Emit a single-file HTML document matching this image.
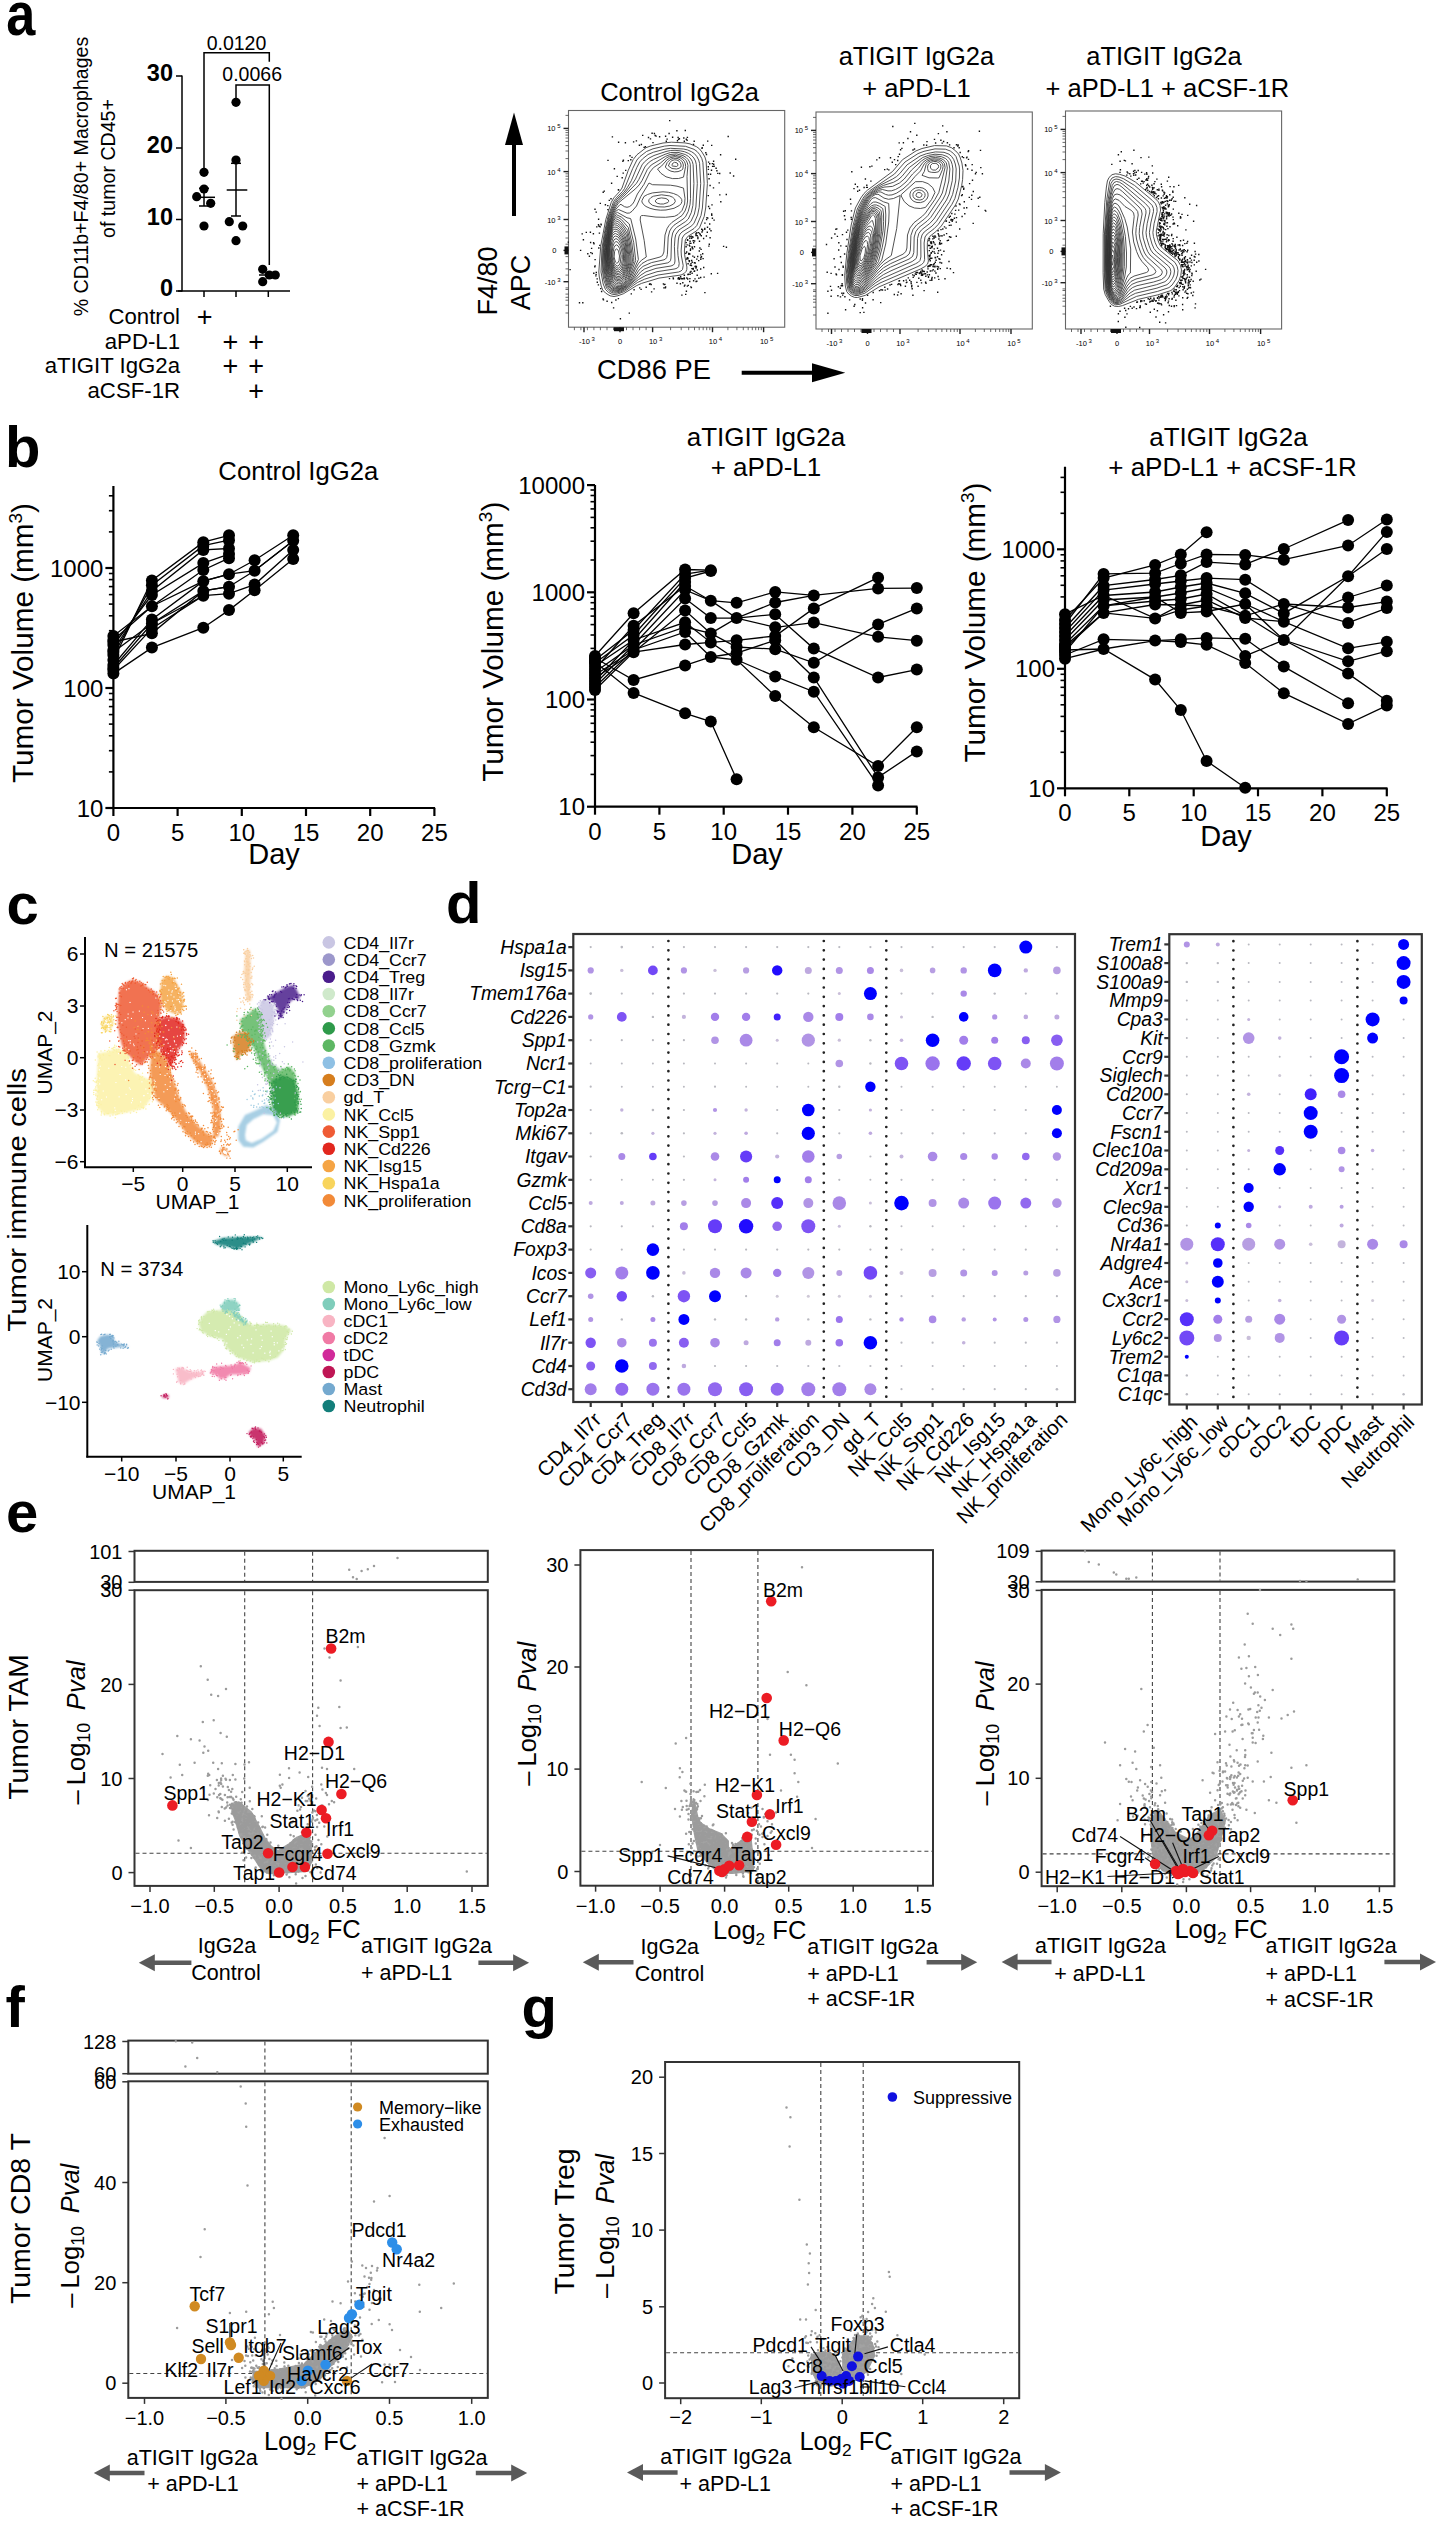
<!DOCTYPE html>
<html><head><meta charset="utf-8"><style>
html,body{margin:0;padding:0;background:#fff;}
svg{display:block;}
text{font-family:"Liberation Sans", sans-serif;}
</style></head><body>
<svg width="1439" height="2521" viewBox="0 0 1439 2521" font-family='"Liberation Sans", sans-serif'>
<defs><filter id="soft" x="-10%" y="-10%" width="120%" height="120%"><feGaussianBlur stdDeviation="1.2"/></filter></defs>
<rect width="1439" height="2521" fill="#fff"/>
<text x="0" y="0" font-size="58" font-weight="bold" transform="translate(6.3,35.2) scale(0.9,1.04)">a</text>
<line x1="182.0" y1="75.5" x2="182.0" y2="291.5" stroke="#000" stroke-width="1.5"/>
<line x1="176.0" y1="76.0" x2="182.0" y2="76.0" stroke="#000" stroke-width="1.5"/>
<text x="173.0" y="81.2" font-size="23.5" text-anchor="end" font-weight="bold">30</text>
<line x1="176.0" y1="148.0" x2="182.0" y2="148.0" stroke="#000" stroke-width="1.5"/>
<text x="173.0" y="153.2" font-size="23.5" text-anchor="end" font-weight="bold">20</text>
<line x1="176.0" y1="219.5" x2="182.0" y2="219.5" stroke="#000" stroke-width="1.5"/>
<text x="173.0" y="224.7" font-size="23.5" text-anchor="end" font-weight="bold">10</text>
<line x1="176.0" y1="291.0" x2="182.0" y2="291.0" stroke="#000" stroke-width="1.5"/>
<text x="173.0" y="296.2" font-size="23.5" text-anchor="end" font-weight="bold">0</text>
<line x1="178.0" y1="291.0" x2="290.0" y2="291.0" stroke="#000" stroke-width="1.5"/>
<line x1="204.0" y1="291.0" x2="204.0" y2="297.0" stroke="#000" stroke-width="1.5"/>
<line x1="236.0" y1="291.0" x2="236.0" y2="297.0" stroke="#000" stroke-width="1.5"/>
<line x1="268.3" y1="291.0" x2="268.3" y2="297.0" stroke="#000" stroke-width="1.5"/>
<text x="87.5" y="176.5" font-size="19.6" text-anchor="middle" transform="rotate(-90 87.5 176.5)">% CD11b+F4/80+ Macrophages</text>
<text x="114.5" y="168.5" font-size="19.6" text-anchor="middle" transform="rotate(-90 114.5 168.5)">of tumor CD45+</text>
<circle cx="204.0" cy="172.3" r="4.60" fill="#000"/>
<circle cx="204.0" cy="189.0" r="4.60" fill="#000"/>
<circle cx="196.7" cy="196.7" r="4.60" fill="#000"/>
<circle cx="210.7" cy="203.3" r="4.60" fill="#000"/>
<circle cx="204.0" cy="226.0" r="4.60" fill="#000"/>
<circle cx="236.0" cy="102.3" r="4.60" fill="#000"/>
<circle cx="236.0" cy="160.0" r="4.60" fill="#000"/>
<circle cx="229.3" cy="221.7" r="4.60" fill="#000"/>
<circle cx="242.7" cy="226.0" r="4.60" fill="#000"/>
<circle cx="236.0" cy="240.7" r="4.60" fill="#000"/>
<circle cx="262.7" cy="269.3" r="4.60" fill="#000"/>
<circle cx="262.7" cy="281.7" r="4.60" fill="#000"/>
<circle cx="269.3" cy="275.0" r="4.60" fill="#000"/>
<circle cx="275.3" cy="275.0" r="4.60" fill="#000"/>
<line x1="194.5" y1="197.3" x2="215.0" y2="197.3" stroke="#000" stroke-width="1.5"/>
<line x1="204.0" y1="188.3" x2="204.0" y2="206.0" stroke="#000" stroke-width="1.5"/>
<line x1="199.0" y1="188.3" x2="209.0" y2="188.3" stroke="#000" stroke-width="1.5"/>
<line x1="199.0" y1="206.0" x2="209.0" y2="206.0" stroke="#000" stroke-width="1.5"/>
<line x1="226.7" y1="190.0" x2="247.3" y2="190.0" stroke="#000" stroke-width="1.5"/>
<line x1="236.0" y1="163.3" x2="236.0" y2="216.0" stroke="#000" stroke-width="1.5"/>
<line x1="231.0" y1="163.3" x2="241.0" y2="163.3" stroke="#000" stroke-width="1.5"/>
<line x1="231.0" y1="216.0" x2="241.0" y2="216.0" stroke="#000" stroke-width="1.5"/>
<line x1="259.0" y1="275.0" x2="279.0" y2="275.0" stroke="#000" stroke-width="1.5"/>
<path d="M204,168 L204,52.7 L269.3,52.7 L269.3,61.7" fill="none" stroke="#000" stroke-width="1.5"/>
<path d="M236,98 L236,85 L269.3,85 L269.3,265" fill="none" stroke="#000" stroke-width="1.5"/>
<text x="236.5" y="50.0" font-size="19.5" text-anchor="middle">0.0120</text>
<text x="252.2" y="81.0" font-size="19.5" text-anchor="middle">0.0066</text>
<text x="180.0" y="324.2" font-size="22.2" text-anchor="end">Control</text>
<text x="204.6" y="326.4" font-size="27" text-anchor="middle">+</text>
<text x="180.0" y="348.6" font-size="22.2" text-anchor="end">aPD-L1</text>
<text x="230.4" y="350.8" font-size="27" text-anchor="middle">+</text>
<text x="256.2" y="350.8" font-size="27" text-anchor="middle">+</text>
<text x="180.0" y="373.2" font-size="22.2" text-anchor="end">aTIGIT IgG2a</text>
<text x="230.4" y="375.4" font-size="27" text-anchor="middle">+</text>
<text x="256.2" y="375.4" font-size="27" text-anchor="middle">+</text>
<text x="180.0" y="397.6" font-size="22.2" text-anchor="end">aCSF-1R</text>
<text x="256.2" y="399.8" font-size="27" text-anchor="middle">+</text>
<text x="679.6" y="100.7" font-size="25.5" text-anchor="middle">Control IgG2a</text>
<text x="916.4" y="65.0" font-size="25.5" text-anchor="middle">aTIGIT IgG2a</text>
<text x="916.4" y="96.9" font-size="25.5" text-anchor="middle">+ aPD-L1</text>
<text x="1164.0" y="65.0" font-size="25.5" text-anchor="middle">aTIGIT IgG2a</text>
<text x="1167.4" y="96.9" font-size="25.5" text-anchor="middle">+ aPD-L1 + aCSF-1R</text>
<text x="496.5" y="281.0" font-size="27" text-anchor="middle" transform="rotate(-90 496.5 281.0)">F4/80</text>
<text x="530.0" y="282.5" font-size="27" text-anchor="middle" transform="rotate(-90 530.0 282.5)">APC</text>
<text x="654.0" y="379.4" font-size="27.3" text-anchor="middle">CD86 PE</text>
<line x1="514.0" y1="216.0" x2="514.0" y2="140.0" stroke="#000" stroke-width="4"/>
<path d="M505,145 L514,112.4 L523,145 Z" fill="#000" stroke="none" stroke-width="1.5"/>
<line x1="741.7" y1="372.7" x2="815.0" y2="372.7" stroke="#000" stroke-width="4"/>
<path d="M812,363.2 L845.3,372.7 L812,382.2 Z" fill="#000" stroke="none" stroke-width="1.5"/>
<rect x="568.5" y="110.5" width="216.2" height="216.7" fill="none" stroke="#666" stroke-width="1.1"/>
<line x1="563.5" y1="281.7" x2="568.5" y2="281.7" stroke="#222" stroke-width="1.4"/>
<line x1="563.5" y1="250.4" x2="568.5" y2="250.4" stroke="#222" stroke-width="1.4"/>
<line x1="563.5" y1="219.5" x2="568.5" y2="219.5" stroke="#222" stroke-width="1.4"/>
<line x1="563.5" y1="171.6" x2="568.5" y2="171.6" stroke="#222" stroke-width="1.4"/>
<line x1="563.5" y1="128.4" x2="568.5" y2="128.4" stroke="#222" stroke-width="1.4"/>
<line x1="565.5" y1="205.1" x2="568.5" y2="205.1" stroke="#444" stroke-width="0.8"/>
<line x1="565.5" y1="196.6" x2="568.5" y2="196.6" stroke="#444" stroke-width="0.8"/>
<line x1="565.5" y1="190.7" x2="568.5" y2="190.7" stroke="#444" stroke-width="0.8"/>
<line x1="565.5" y1="186.0" x2="568.5" y2="186.0" stroke="#444" stroke-width="0.8"/>
<line x1="565.5" y1="182.2" x2="568.5" y2="182.2" stroke="#444" stroke-width="0.8"/>
<line x1="565.5" y1="179.0" x2="568.5" y2="179.0" stroke="#444" stroke-width="0.8"/>
<line x1="565.5" y1="176.2" x2="568.5" y2="176.2" stroke="#444" stroke-width="0.8"/>
<line x1="565.5" y1="173.8" x2="568.5" y2="173.8" stroke="#444" stroke-width="0.8"/>
<line x1="565.5" y1="158.6" x2="568.5" y2="158.6" stroke="#444" stroke-width="0.8"/>
<line x1="565.5" y1="151.0" x2="568.5" y2="151.0" stroke="#444" stroke-width="0.8"/>
<line x1="565.5" y1="145.6" x2="568.5" y2="145.6" stroke="#444" stroke-width="0.8"/>
<line x1="565.5" y1="141.4" x2="568.5" y2="141.4" stroke="#444" stroke-width="0.8"/>
<line x1="565.5" y1="138.0" x2="568.5" y2="138.0" stroke="#444" stroke-width="0.8"/>
<line x1="565.5" y1="135.1" x2="568.5" y2="135.1" stroke="#444" stroke-width="0.8"/>
<line x1="565.5" y1="132.6" x2="568.5" y2="132.6" stroke="#444" stroke-width="0.8"/>
<line x1="565.5" y1="130.4" x2="568.5" y2="130.4" stroke="#444" stroke-width="0.8"/>
<line x1="565.5" y1="115.4" x2="568.5" y2="115.4" stroke="#444" stroke-width="0.8"/>
<line x1="565.5" y1="225.7" x2="568.5" y2="225.7" stroke="#444" stroke-width="0.8"/>
<line x1="565.5" y1="231.9" x2="568.5" y2="231.9" stroke="#444" stroke-width="0.8"/>
<line x1="565.5" y1="238.0" x2="568.5" y2="238.0" stroke="#444" stroke-width="0.8"/>
<line x1="565.5" y1="244.2" x2="568.5" y2="244.2" stroke="#444" stroke-width="0.8"/>
<line x1="565.5" y1="250.4" x2="568.5" y2="250.4" stroke="#444" stroke-width="0.8"/>
<line x1="565.5" y1="256.6" x2="568.5" y2="256.6" stroke="#444" stroke-width="0.8"/>
<line x1="565.5" y1="262.8" x2="568.5" y2="262.8" stroke="#444" stroke-width="0.8"/>
<line x1="565.5" y1="268.9" x2="568.5" y2="268.9" stroke="#444" stroke-width="0.8"/>
<line x1="565.5" y1="275.1" x2="568.5" y2="275.1" stroke="#444" stroke-width="0.8"/>
<line x1="565.5" y1="287.9" x2="568.5" y2="287.9" stroke="#444" stroke-width="0.8"/>
<line x1="565.5" y1="294.1" x2="568.5" y2="294.1" stroke="#444" stroke-width="0.8"/>
<line x1="565.5" y1="300.2" x2="568.5" y2="300.2" stroke="#444" stroke-width="0.8"/>
<line x1="565.5" y1="289.5" x2="568.5" y2="289.5" stroke="#444" stroke-width="0.8"/>
<line x1="565.5" y1="297.3" x2="568.5" y2="297.3" stroke="#444" stroke-width="0.8"/>
<line x1="565.5" y1="305.2" x2="568.5" y2="305.2" stroke="#444" stroke-width="0.8"/>
<line x1="565.5" y1="313.0" x2="568.5" y2="313.0" stroke="#444" stroke-width="0.8"/>
<line x1="584.0" y1="327.2" x2="584.0" y2="332.2" stroke="#222" stroke-width="1.4"/>
<line x1="620.0" y1="327.2" x2="620.0" y2="332.2" stroke="#222" stroke-width="1.4"/>
<line x1="652.6" y1="327.2" x2="652.6" y2="332.2" stroke="#222" stroke-width="1.4"/>
<line x1="712.5" y1="327.2" x2="712.5" y2="332.2" stroke="#222" stroke-width="1.4"/>
<line x1="763.6" y1="327.2" x2="763.6" y2="332.2" stroke="#222" stroke-width="1.4"/>
<line x1="670.6" y1="327.2" x2="670.6" y2="330.2" stroke="#444" stroke-width="0.8"/>
<line x1="681.2" y1="327.2" x2="681.2" y2="330.2" stroke="#444" stroke-width="0.8"/>
<line x1="688.7" y1="327.2" x2="688.7" y2="330.2" stroke="#444" stroke-width="0.8"/>
<line x1="694.5" y1="327.2" x2="694.5" y2="330.2" stroke="#444" stroke-width="0.8"/>
<line x1="699.2" y1="327.2" x2="699.2" y2="330.2" stroke="#444" stroke-width="0.8"/>
<line x1="703.2" y1="327.2" x2="703.2" y2="330.2" stroke="#444" stroke-width="0.8"/>
<line x1="706.7" y1="327.2" x2="706.7" y2="330.2" stroke="#444" stroke-width="0.8"/>
<line x1="709.8" y1="327.2" x2="709.8" y2="330.2" stroke="#444" stroke-width="0.8"/>
<line x1="727.9" y1="327.2" x2="727.9" y2="330.2" stroke="#444" stroke-width="0.8"/>
<line x1="736.9" y1="327.2" x2="736.9" y2="330.2" stroke="#444" stroke-width="0.8"/>
<line x1="743.3" y1="327.2" x2="743.3" y2="330.2" stroke="#444" stroke-width="0.8"/>
<line x1="748.2" y1="327.2" x2="748.2" y2="330.2" stroke="#444" stroke-width="0.8"/>
<line x1="752.3" y1="327.2" x2="752.3" y2="330.2" stroke="#444" stroke-width="0.8"/>
<line x1="755.7" y1="327.2" x2="755.7" y2="330.2" stroke="#444" stroke-width="0.8"/>
<line x1="758.6" y1="327.2" x2="758.6" y2="330.2" stroke="#444" stroke-width="0.8"/>
<line x1="761.3" y1="327.2" x2="761.3" y2="330.2" stroke="#444" stroke-width="0.8"/>
<line x1="613.5" y1="327.2" x2="613.5" y2="330.2" stroke="#444" stroke-width="0.8"/>
<line x1="607.0" y1="327.2" x2="607.0" y2="330.2" stroke="#444" stroke-width="0.8"/>
<line x1="600.4" y1="327.2" x2="600.4" y2="330.2" stroke="#444" stroke-width="0.8"/>
<line x1="593.9" y1="327.2" x2="593.9" y2="330.2" stroke="#444" stroke-width="0.8"/>
<line x1="587.4" y1="327.2" x2="587.4" y2="330.2" stroke="#444" stroke-width="0.8"/>
<line x1="580.9" y1="327.2" x2="580.9" y2="330.2" stroke="#444" stroke-width="0.8"/>
<line x1="574.4" y1="327.2" x2="574.4" y2="330.2" stroke="#444" stroke-width="0.8"/>
<line x1="626.5" y1="327.2" x2="626.5" y2="330.2" stroke="#444" stroke-width="0.8"/>
<line x1="633.0" y1="327.2" x2="633.0" y2="330.2" stroke="#444" stroke-width="0.8"/>
<line x1="639.6" y1="327.2" x2="639.6" y2="330.2" stroke="#444" stroke-width="0.8"/>
<line x1="646.1" y1="327.2" x2="646.1" y2="330.2" stroke="#444" stroke-width="0.8"/>
<rect x="564.5" y="246.4" width="4.0" height="8.0" fill="#111" stroke="none" stroke-width="0"/>
<rect x="614.0" y="327.2" width="10.0" height="4.0" fill="#111" stroke="none" stroke-width="0"/>
<text x="560.5" y="131.4" font-size="7.5" text-anchor="end">10<tspan dy="-3" font-size="6.0"> 5</tspan></text>
<text x="560.5" y="174.6" font-size="7.5" text-anchor="end">10<tspan dy="-3" font-size="6.0"> 4</tspan></text>
<text x="560.5" y="222.5" font-size="7.5" text-anchor="end">10<tspan dy="-3" font-size="6.0"> 3</tspan></text>
<text x="556.5" y="253.4" font-size="7.5" text-anchor="end">0</text>
<text x="560.5" y="284.7" font-size="7.5" text-anchor="end">-10<tspan dy="-3" font-size="6.0"> 3</tspan></text>
<text x="587.0" y="344.2" font-size="7.5" text-anchor="middle">-10<tspan dy="-3" font-size="6.0"> 3</tspan></text>
<text x="655.6" y="344.2" font-size="7.5" text-anchor="middle">10<tspan dy="-3" font-size="6.0"> 3</tspan></text>
<text x="715.5" y="344.2" font-size="7.5" text-anchor="middle">10<tspan dy="-3" font-size="6.0"> 4</tspan></text>
<text x="766.6" y="344.2" font-size="7.5" text-anchor="middle">10<tspan dy="-3" font-size="6.0"> 5</tspan></text>
<text x="620.0" y="344.2" font-size="7.5" text-anchor="middle">0</text>
<rect x="816.0" y="112.0" width="216.3" height="217.0" fill="none" stroke="#666" stroke-width="1.1"/>
<line x1="811.0" y1="283.7" x2="816.0" y2="283.7" stroke="#222" stroke-width="1.4"/>
<line x1="811.0" y1="252.4" x2="816.0" y2="252.4" stroke="#222" stroke-width="1.4"/>
<line x1="811.0" y1="221.5" x2="816.0" y2="221.5" stroke="#222" stroke-width="1.4"/>
<line x1="811.0" y1="173.6" x2="816.0" y2="173.6" stroke="#222" stroke-width="1.4"/>
<line x1="811.0" y1="130.4" x2="816.0" y2="130.4" stroke="#222" stroke-width="1.4"/>
<line x1="813.0" y1="207.1" x2="816.0" y2="207.1" stroke="#444" stroke-width="0.8"/>
<line x1="813.0" y1="198.6" x2="816.0" y2="198.6" stroke="#444" stroke-width="0.8"/>
<line x1="813.0" y1="192.7" x2="816.0" y2="192.7" stroke="#444" stroke-width="0.8"/>
<line x1="813.0" y1="188.0" x2="816.0" y2="188.0" stroke="#444" stroke-width="0.8"/>
<line x1="813.0" y1="184.2" x2="816.0" y2="184.2" stroke="#444" stroke-width="0.8"/>
<line x1="813.0" y1="181.0" x2="816.0" y2="181.0" stroke="#444" stroke-width="0.8"/>
<line x1="813.0" y1="178.2" x2="816.0" y2="178.2" stroke="#444" stroke-width="0.8"/>
<line x1="813.0" y1="175.8" x2="816.0" y2="175.8" stroke="#444" stroke-width="0.8"/>
<line x1="813.0" y1="160.6" x2="816.0" y2="160.6" stroke="#444" stroke-width="0.8"/>
<line x1="813.0" y1="153.0" x2="816.0" y2="153.0" stroke="#444" stroke-width="0.8"/>
<line x1="813.0" y1="147.6" x2="816.0" y2="147.6" stroke="#444" stroke-width="0.8"/>
<line x1="813.0" y1="143.4" x2="816.0" y2="143.4" stroke="#444" stroke-width="0.8"/>
<line x1="813.0" y1="140.0" x2="816.0" y2="140.0" stroke="#444" stroke-width="0.8"/>
<line x1="813.0" y1="137.1" x2="816.0" y2="137.1" stroke="#444" stroke-width="0.8"/>
<line x1="813.0" y1="134.6" x2="816.0" y2="134.6" stroke="#444" stroke-width="0.8"/>
<line x1="813.0" y1="132.4" x2="816.0" y2="132.4" stroke="#444" stroke-width="0.8"/>
<line x1="813.0" y1="117.4" x2="816.0" y2="117.4" stroke="#444" stroke-width="0.8"/>
<line x1="813.0" y1="227.7" x2="816.0" y2="227.7" stroke="#444" stroke-width="0.8"/>
<line x1="813.0" y1="233.9" x2="816.0" y2="233.9" stroke="#444" stroke-width="0.8"/>
<line x1="813.0" y1="240.0" x2="816.0" y2="240.0" stroke="#444" stroke-width="0.8"/>
<line x1="813.0" y1="246.2" x2="816.0" y2="246.2" stroke="#444" stroke-width="0.8"/>
<line x1="813.0" y1="252.4" x2="816.0" y2="252.4" stroke="#444" stroke-width="0.8"/>
<line x1="813.0" y1="258.6" x2="816.0" y2="258.6" stroke="#444" stroke-width="0.8"/>
<line x1="813.0" y1="264.8" x2="816.0" y2="264.8" stroke="#444" stroke-width="0.8"/>
<line x1="813.0" y1="270.9" x2="816.0" y2="270.9" stroke="#444" stroke-width="0.8"/>
<line x1="813.0" y1="277.1" x2="816.0" y2="277.1" stroke="#444" stroke-width="0.8"/>
<line x1="813.0" y1="289.9" x2="816.0" y2="289.9" stroke="#444" stroke-width="0.8"/>
<line x1="813.0" y1="296.1" x2="816.0" y2="296.1" stroke="#444" stroke-width="0.8"/>
<line x1="813.0" y1="302.2" x2="816.0" y2="302.2" stroke="#444" stroke-width="0.8"/>
<line x1="813.0" y1="291.5" x2="816.0" y2="291.5" stroke="#444" stroke-width="0.8"/>
<line x1="813.0" y1="299.3" x2="816.0" y2="299.3" stroke="#444" stroke-width="0.8"/>
<line x1="813.0" y1="307.2" x2="816.0" y2="307.2" stroke="#444" stroke-width="0.8"/>
<line x1="813.0" y1="315.0" x2="816.0" y2="315.0" stroke="#444" stroke-width="0.8"/>
<line x1="831.5" y1="329.0" x2="831.5" y2="334.0" stroke="#222" stroke-width="1.4"/>
<line x1="867.5" y1="329.0" x2="867.5" y2="334.0" stroke="#222" stroke-width="1.4"/>
<line x1="900.0" y1="329.0" x2="900.0" y2="334.0" stroke="#222" stroke-width="1.4"/>
<line x1="960.0" y1="329.0" x2="960.0" y2="334.0" stroke="#222" stroke-width="1.4"/>
<line x1="1011.0" y1="329.0" x2="1011.0" y2="334.0" stroke="#222" stroke-width="1.4"/>
<line x1="918.1" y1="329.0" x2="918.1" y2="332.0" stroke="#444" stroke-width="0.8"/>
<line x1="928.6" y1="329.0" x2="928.6" y2="332.0" stroke="#444" stroke-width="0.8"/>
<line x1="936.1" y1="329.0" x2="936.1" y2="332.0" stroke="#444" stroke-width="0.8"/>
<line x1="941.9" y1="329.0" x2="941.9" y2="332.0" stroke="#444" stroke-width="0.8"/>
<line x1="946.7" y1="329.0" x2="946.7" y2="332.0" stroke="#444" stroke-width="0.8"/>
<line x1="950.7" y1="329.0" x2="950.7" y2="332.0" stroke="#444" stroke-width="0.8"/>
<line x1="954.2" y1="329.0" x2="954.2" y2="332.0" stroke="#444" stroke-width="0.8"/>
<line x1="957.3" y1="329.0" x2="957.3" y2="332.0" stroke="#444" stroke-width="0.8"/>
<line x1="975.4" y1="329.0" x2="975.4" y2="332.0" stroke="#444" stroke-width="0.8"/>
<line x1="984.3" y1="329.0" x2="984.3" y2="332.0" stroke="#444" stroke-width="0.8"/>
<line x1="990.7" y1="329.0" x2="990.7" y2="332.0" stroke="#444" stroke-width="0.8"/>
<line x1="995.6" y1="329.0" x2="995.6" y2="332.0" stroke="#444" stroke-width="0.8"/>
<line x1="999.7" y1="329.0" x2="999.7" y2="332.0" stroke="#444" stroke-width="0.8"/>
<line x1="1003.1" y1="329.0" x2="1003.1" y2="332.0" stroke="#444" stroke-width="0.8"/>
<line x1="1006.1" y1="329.0" x2="1006.1" y2="332.0" stroke="#444" stroke-width="0.8"/>
<line x1="1008.7" y1="329.0" x2="1008.7" y2="332.0" stroke="#444" stroke-width="0.8"/>
<line x1="861.0" y1="329.0" x2="861.0" y2="332.0" stroke="#444" stroke-width="0.8"/>
<line x1="854.5" y1="329.0" x2="854.5" y2="332.0" stroke="#444" stroke-width="0.8"/>
<line x1="848.0" y1="329.0" x2="848.0" y2="332.0" stroke="#444" stroke-width="0.8"/>
<line x1="841.5" y1="329.0" x2="841.5" y2="332.0" stroke="#444" stroke-width="0.8"/>
<line x1="835.0" y1="329.0" x2="835.0" y2="332.0" stroke="#444" stroke-width="0.8"/>
<line x1="828.5" y1="329.0" x2="828.5" y2="332.0" stroke="#444" stroke-width="0.8"/>
<line x1="822.0" y1="329.0" x2="822.0" y2="332.0" stroke="#444" stroke-width="0.8"/>
<line x1="874.0" y1="329.0" x2="874.0" y2="332.0" stroke="#444" stroke-width="0.8"/>
<line x1="880.5" y1="329.0" x2="880.5" y2="332.0" stroke="#444" stroke-width="0.8"/>
<line x1="887.0" y1="329.0" x2="887.0" y2="332.0" stroke="#444" stroke-width="0.8"/>
<line x1="893.5" y1="329.0" x2="893.5" y2="332.0" stroke="#444" stroke-width="0.8"/>
<rect x="812.0" y="248.4" width="4.0" height="8.0" fill="#111" stroke="none" stroke-width="0"/>
<rect x="861.5" y="329.0" width="10.0" height="4.0" fill="#111" stroke="none" stroke-width="0"/>
<text x="808.0" y="133.4" font-size="7.5" text-anchor="end">10<tspan dy="-3" font-size="6.0"> 5</tspan></text>
<text x="808.0" y="176.6" font-size="7.5" text-anchor="end">10<tspan dy="-3" font-size="6.0"> 4</tspan></text>
<text x="808.0" y="224.5" font-size="7.5" text-anchor="end">10<tspan dy="-3" font-size="6.0"> 3</tspan></text>
<text x="804.0" y="255.4" font-size="7.5" text-anchor="end">0</text>
<text x="808.0" y="286.7" font-size="7.5" text-anchor="end">-10<tspan dy="-3" font-size="6.0"> 3</tspan></text>
<text x="834.5" y="346.0" font-size="7.5" text-anchor="middle">-10<tspan dy="-3" font-size="6.0"> 3</tspan></text>
<text x="903.0" y="346.0" font-size="7.5" text-anchor="middle">10<tspan dy="-3" font-size="6.0"> 3</tspan></text>
<text x="963.0" y="346.0" font-size="7.5" text-anchor="middle">10<tspan dy="-3" font-size="6.0"> 4</tspan></text>
<text x="1014.0" y="346.0" font-size="7.5" text-anchor="middle">10<tspan dy="-3" font-size="6.0"> 5</tspan></text>
<text x="867.5" y="346.0" font-size="7.5" text-anchor="middle">0</text>
<rect x="1065.5" y="111.0" width="216.1" height="218.0" fill="none" stroke="#666" stroke-width="1.1"/>
<line x1="1060.5" y1="282.7" x2="1065.5" y2="282.7" stroke="#222" stroke-width="1.4"/>
<line x1="1060.5" y1="251.4" x2="1065.5" y2="251.4" stroke="#222" stroke-width="1.4"/>
<line x1="1060.5" y1="220.5" x2="1065.5" y2="220.5" stroke="#222" stroke-width="1.4"/>
<line x1="1060.5" y1="172.6" x2="1065.5" y2="172.6" stroke="#222" stroke-width="1.4"/>
<line x1="1060.5" y1="129.4" x2="1065.5" y2="129.4" stroke="#222" stroke-width="1.4"/>
<line x1="1062.5" y1="206.1" x2="1065.5" y2="206.1" stroke="#444" stroke-width="0.8"/>
<line x1="1062.5" y1="197.6" x2="1065.5" y2="197.6" stroke="#444" stroke-width="0.8"/>
<line x1="1062.5" y1="191.7" x2="1065.5" y2="191.7" stroke="#444" stroke-width="0.8"/>
<line x1="1062.5" y1="187.0" x2="1065.5" y2="187.0" stroke="#444" stroke-width="0.8"/>
<line x1="1062.5" y1="183.2" x2="1065.5" y2="183.2" stroke="#444" stroke-width="0.8"/>
<line x1="1062.5" y1="180.0" x2="1065.5" y2="180.0" stroke="#444" stroke-width="0.8"/>
<line x1="1062.5" y1="177.2" x2="1065.5" y2="177.2" stroke="#444" stroke-width="0.8"/>
<line x1="1062.5" y1="174.8" x2="1065.5" y2="174.8" stroke="#444" stroke-width="0.8"/>
<line x1="1062.5" y1="159.6" x2="1065.5" y2="159.6" stroke="#444" stroke-width="0.8"/>
<line x1="1062.5" y1="152.0" x2="1065.5" y2="152.0" stroke="#444" stroke-width="0.8"/>
<line x1="1062.5" y1="146.6" x2="1065.5" y2="146.6" stroke="#444" stroke-width="0.8"/>
<line x1="1062.5" y1="142.4" x2="1065.5" y2="142.4" stroke="#444" stroke-width="0.8"/>
<line x1="1062.5" y1="139.0" x2="1065.5" y2="139.0" stroke="#444" stroke-width="0.8"/>
<line x1="1062.5" y1="136.1" x2="1065.5" y2="136.1" stroke="#444" stroke-width="0.8"/>
<line x1="1062.5" y1="133.6" x2="1065.5" y2="133.6" stroke="#444" stroke-width="0.8"/>
<line x1="1062.5" y1="131.4" x2="1065.5" y2="131.4" stroke="#444" stroke-width="0.8"/>
<line x1="1062.5" y1="116.4" x2="1065.5" y2="116.4" stroke="#444" stroke-width="0.8"/>
<line x1="1062.5" y1="226.7" x2="1065.5" y2="226.7" stroke="#444" stroke-width="0.8"/>
<line x1="1062.5" y1="232.9" x2="1065.5" y2="232.9" stroke="#444" stroke-width="0.8"/>
<line x1="1062.5" y1="239.0" x2="1065.5" y2="239.0" stroke="#444" stroke-width="0.8"/>
<line x1="1062.5" y1="245.2" x2="1065.5" y2="245.2" stroke="#444" stroke-width="0.8"/>
<line x1="1062.5" y1="251.4" x2="1065.5" y2="251.4" stroke="#444" stroke-width="0.8"/>
<line x1="1062.5" y1="257.6" x2="1065.5" y2="257.6" stroke="#444" stroke-width="0.8"/>
<line x1="1062.5" y1="263.8" x2="1065.5" y2="263.8" stroke="#444" stroke-width="0.8"/>
<line x1="1062.5" y1="269.9" x2="1065.5" y2="269.9" stroke="#444" stroke-width="0.8"/>
<line x1="1062.5" y1="276.1" x2="1065.5" y2="276.1" stroke="#444" stroke-width="0.8"/>
<line x1="1062.5" y1="288.9" x2="1065.5" y2="288.9" stroke="#444" stroke-width="0.8"/>
<line x1="1062.5" y1="295.1" x2="1065.5" y2="295.1" stroke="#444" stroke-width="0.8"/>
<line x1="1062.5" y1="301.2" x2="1065.5" y2="301.2" stroke="#444" stroke-width="0.8"/>
<line x1="1062.5" y1="290.5" x2="1065.5" y2="290.5" stroke="#444" stroke-width="0.8"/>
<line x1="1062.5" y1="298.3" x2="1065.5" y2="298.3" stroke="#444" stroke-width="0.8"/>
<line x1="1062.5" y1="306.2" x2="1065.5" y2="306.2" stroke="#444" stroke-width="0.8"/>
<line x1="1062.5" y1="314.0" x2="1065.5" y2="314.0" stroke="#444" stroke-width="0.8"/>
<line x1="1081.0" y1="329.0" x2="1081.0" y2="334.0" stroke="#222" stroke-width="1.4"/>
<line x1="1117.0" y1="329.0" x2="1117.0" y2="334.0" stroke="#222" stroke-width="1.4"/>
<line x1="1149.5" y1="329.0" x2="1149.5" y2="334.0" stroke="#222" stroke-width="1.4"/>
<line x1="1209.5" y1="329.0" x2="1209.5" y2="334.0" stroke="#222" stroke-width="1.4"/>
<line x1="1260.6" y1="329.0" x2="1260.6" y2="334.0" stroke="#222" stroke-width="1.4"/>
<line x1="1167.6" y1="329.0" x2="1167.6" y2="332.0" stroke="#444" stroke-width="0.8"/>
<line x1="1178.1" y1="329.0" x2="1178.1" y2="332.0" stroke="#444" stroke-width="0.8"/>
<line x1="1185.6" y1="329.0" x2="1185.6" y2="332.0" stroke="#444" stroke-width="0.8"/>
<line x1="1191.4" y1="329.0" x2="1191.4" y2="332.0" stroke="#444" stroke-width="0.8"/>
<line x1="1196.2" y1="329.0" x2="1196.2" y2="332.0" stroke="#444" stroke-width="0.8"/>
<line x1="1200.2" y1="329.0" x2="1200.2" y2="332.0" stroke="#444" stroke-width="0.8"/>
<line x1="1203.7" y1="329.0" x2="1203.7" y2="332.0" stroke="#444" stroke-width="0.8"/>
<line x1="1206.8" y1="329.0" x2="1206.8" y2="332.0" stroke="#444" stroke-width="0.8"/>
<line x1="1224.9" y1="329.0" x2="1224.9" y2="332.0" stroke="#444" stroke-width="0.8"/>
<line x1="1233.9" y1="329.0" x2="1233.9" y2="332.0" stroke="#444" stroke-width="0.8"/>
<line x1="1240.3" y1="329.0" x2="1240.3" y2="332.0" stroke="#444" stroke-width="0.8"/>
<line x1="1245.2" y1="329.0" x2="1245.2" y2="332.0" stroke="#444" stroke-width="0.8"/>
<line x1="1249.3" y1="329.0" x2="1249.3" y2="332.0" stroke="#444" stroke-width="0.8"/>
<line x1="1252.7" y1="329.0" x2="1252.7" y2="332.0" stroke="#444" stroke-width="0.8"/>
<line x1="1255.6" y1="329.0" x2="1255.6" y2="332.0" stroke="#444" stroke-width="0.8"/>
<line x1="1258.3" y1="329.0" x2="1258.3" y2="332.0" stroke="#444" stroke-width="0.8"/>
<line x1="1110.5" y1="329.0" x2="1110.5" y2="332.0" stroke="#444" stroke-width="0.8"/>
<line x1="1104.0" y1="329.0" x2="1104.0" y2="332.0" stroke="#444" stroke-width="0.8"/>
<line x1="1097.5" y1="329.0" x2="1097.5" y2="332.0" stroke="#444" stroke-width="0.8"/>
<line x1="1091.0" y1="329.0" x2="1091.0" y2="332.0" stroke="#444" stroke-width="0.8"/>
<line x1="1084.5" y1="329.0" x2="1084.5" y2="332.0" stroke="#444" stroke-width="0.8"/>
<line x1="1078.0" y1="329.0" x2="1078.0" y2="332.0" stroke="#444" stroke-width="0.8"/>
<line x1="1071.5" y1="329.0" x2="1071.5" y2="332.0" stroke="#444" stroke-width="0.8"/>
<line x1="1123.5" y1="329.0" x2="1123.5" y2="332.0" stroke="#444" stroke-width="0.8"/>
<line x1="1130.0" y1="329.0" x2="1130.0" y2="332.0" stroke="#444" stroke-width="0.8"/>
<line x1="1136.5" y1="329.0" x2="1136.5" y2="332.0" stroke="#444" stroke-width="0.8"/>
<line x1="1143.0" y1="329.0" x2="1143.0" y2="332.0" stroke="#444" stroke-width="0.8"/>
<rect x="1061.5" y="247.4" width="4.0" height="8.0" fill="#111" stroke="none" stroke-width="0"/>
<rect x="1111.0" y="329.0" width="10.0" height="4.0" fill="#111" stroke="none" stroke-width="0"/>
<text x="1057.5" y="132.4" font-size="7.5" text-anchor="end">10<tspan dy="-3" font-size="6.0"> 5</tspan></text>
<text x="1057.5" y="175.6" font-size="7.5" text-anchor="end">10<tspan dy="-3" font-size="6.0"> 4</tspan></text>
<text x="1057.5" y="223.5" font-size="7.5" text-anchor="end">10<tspan dy="-3" font-size="6.0"> 3</tspan></text>
<text x="1053.5" y="254.4" font-size="7.5" text-anchor="end">0</text>
<text x="1057.5" y="285.7" font-size="7.5" text-anchor="end">-10<tspan dy="-3" font-size="6.0"> 3</tspan></text>
<text x="1084.0" y="346.0" font-size="7.5" text-anchor="middle">-10<tspan dy="-3" font-size="6.0"> 3</tspan></text>
<text x="1152.5" y="346.0" font-size="7.5" text-anchor="middle">10<tspan dy="-3" font-size="6.0"> 3</tspan></text>
<text x="1212.5" y="346.0" font-size="7.5" text-anchor="middle">10<tspan dy="-3" font-size="6.0"> 4</tspan></text>
<text x="1263.6" y="346.0" font-size="7.5" text-anchor="middle">10<tspan dy="-3" font-size="6.0"> 5</tspan></text>
<text x="1117.0" y="346.0" font-size="7.5" text-anchor="middle">0</text>
<path d="M614 296.5l-4 -0.7 -4.5 -2.8 -2.8 -3 -1.5 -4 -1.9 -9 -0.5 -5 2 -26.5 5 -26 5.4 -17 2.5 -4.5 5.9 -6.5 2.4 -3.5 6.2 -17.5 5 -11 3.8 -4.8 9 -7 4.5 -1.7 12.5 -3 8.5 -0.8 13.5 0.7 5 1 6.5 2.8 3 2.2 2.5 3.2 2.9 4.9 1.2 4 1.3 22.5 -1.7 24.5 -1.5 8.5 -4.7 11.3 -3 3.1 -8.8 5.6 -2.4 3.5 -0.9 11 0.4 5 2.1 11 -0.1 2.5 -0.8 2 -2 2.1 -3 1.4 -22 3.1 -17.5 5.3 -4.7 2.1 -13.3 8.2 -5.5 2 -4 0.8zM617.5 294.1l-3.5 0.4 -2.5 -0.5 -3 -1.6 -3 -2.9 -2.3 -5.5 -2.2 -12 0.9 -23 2.4 -15.5 3.4 -16 5.9 -16 2.4 -3.3 6.5 -6.7 2 -3 8.2 -20 4.2 -8.5 3.1 -3.5 6.5 -5 6.5 -2.7 11.5 -2.7 5.5 -0.6 15.5 0.8 8.5 3 3 2.1 2.6 3.1 2.2 4 1.1 4 1.2 21 -1.7 24.5 -1.4 7.5 -4.2 10 -2.8 3 -9.5 6 -2.3 3.5 -1.1 13 0.3 5 1.8 9.5 -0.7 4 -1.5 1.5 -2.5 1 -20.5 3 -13.5 4.2 -7 3.3 -13 9 -7 2.6zM616.5 293l-3 -0 -2.5 -0.9 -2.5 -1.8 -2 -2.3 -2.8 -8.5 -1.4 -9.5 0.5 -21.5 2.4 -16 3.5 -15.5 5.8 -14.5 2.5 -3.5 7.2 -7 3.2 -4.5 4 -7 5.4 -13 2.9 -5.5 2.8 -3.1 5.5 -4.4 5.5 -2.3 11.5 -3.1 5.5 -0.8 13 0.7 4 0.9 4 1.8 3 2 2.3 2.8 1.9 3.5 0.9 3.5 1.1 20 -1.5 24 -1.6 7.5 -3.7 8.5 -2.9 2.8 -9 5.7 -1.9 2 -1.1 2.2 -0.7 3.8 -0.6 9.5 0.3 6 1.2 8 -0.5 3 -1.3 1.5 -2.4 0.9 -18 2.8 -11 3.6 -7.5 4.2 -14 10.7 -4 1.8 -4 1zM616 292l-2.5 -0.2 -2.5 -1.1 -2.5 -2.2 -1.6 -2.5 -3 -11 -0.7 -10 0.4 -18 2.6 -16.5 3.1 -13 5.7 -13.7 2.7 -3.8 8.3 -8 6.7 -8.5 2.8 -4.5 6.5 -14.1 2.5 -3.1 4.5 -3.7 5 -2.6 12 -4 4.5 -1 4.5 -0.2 5.5 0.6 4 0.8 4 1.7 3.1 2.1 2.3 2.5 1.6 3 0.8 3.5 1 19 -1.4 23.5 -1.5 7 -3.4 7.3 -2.8 2.7 -9.2 5.9 -3.2 4.6 -0.8 3.5 -0.6 8.5 0.6 14.5 -0.5 2.7 -1.1 1.3 -2.4 1 -15 2.4 -10 3.4 -5 3.2 -15.5 13.6 -4.5 2.3 -5 1.1zM617 291l-2.5 -0.1 -2.6 -0.9 -2.4 -2 -1.6 -2.5 -3.2 -11 -0.8 -10 0.3 -17 2.2 -15 3.3 -14 5.3 -12.3 3.5 -5.3 7.6 -6.9 10.2 -10.5 2.5 -4 6 -12.5 2.2 -2.8 3.1 -2.7 3.4 -2.1 11.5 -5.1 5.5 -1.8 7.5 -0.1 7.5 2.2 3 1.9 2.4 2.5 1.4 2.5 0.8 3 0.8 19 -1 22 -1.6 7 -3 6.5 -2.6 2.5 -9.2 6 -2.2 2.5 -1.6 3 -1.2 6 -0.5 19 -0.5 2.6 -1.2 1.4 -1.8 0.9 -13.5 2.5 -9.5 3.6 -4 3 -7.6 9 -5.9 5.5 -5 3.1 -5 1.4zM618 290.1l-2.5 0.1 -2.5 -0.7 -2 -1.4 -1.7 -2.1 -3.1 -8.5 -1.4 -8.5 -0.3 -16.5 0.7 -10 3.6 -19 3.7 -10.2 4 -7.5 2.5 -3.4 16.5 -13.6 3.6 -3.8 2.9 -4.4 5.3 -11.1 3.9 -4.5 14.3 -8.6 4.5 -1.9 6.5 -0.6 6.5 1.7 3 1.8 2.1 2.1 1.5 2.5 0.7 2.5 0.2 34 -0.5 6 -1.8 7 -2.7 5.3 -2.5 2.3 -9 6.1 -2.5 2.8 -1.8 3 -1.5 6 -0.8 17.5 -0.7 3 -1.2 1.5 -1.5 0.8 -12.5 2.8 -8.5 3.8 -4 3.7 -5.4 8.4 -4.8 5.5 -5.3 4.1 -5.5 2zM619 289.1l-2.5 0.2 -2.5 -0.5 -2.1 -1.3 -1.7 -2 -3.2 -8 -1.6 -8.5 -0.5 -15 0.6 -10.5 3.1 -17 3.4 -10.6 4 -6.9 4 -4.4 1 -0.2 3.5 2.3 2.5 0.6 2.5 -0.7 2.7 -2.1 1.8 -2.7 3.4 -7.8 6.6 -9.7 5.9 -12.3 3.6 -4.4 7 -4.6 5.9 -5 3.1 -1.7 6 -1 6 1.5 2.8 1.7 1.9 2 1.2 2.5 0.5 2.5 -0.9 11 0.6 24.5 -0.8 5 -1.8 5 -3 4.5 -10.2 7 -2.8 3 -1.9 3 -2.1 6.5 -1.1 17 -1.4 3.5 -2.5 1.5 -12.5 3.4 -5.5 3.1 -4 4.4 -5.3 10.1 -3 4 -5.7 5 -5 2.1zM678.5 178.5l-6 0.1 -6.5 -1.8 -5 -3.4 -3.5 -4.4 4 -2.9 5.3 -6.1 3.2 -2.2 5 -1.2 5 1.1 2.7 1.8 1.7 2 1 2.5 0.2 2.5 -2.1 10.6 -5 1.4zM620 288.1l-2.5 0.4 -2.5 -0.3 -2.2 -1.2 -1.8 -2 -3.6 -9 -1.6 -9.5 -0.4 -16 1.2 -11.5 3.4 -16 1.8 -5 2.2 -4.2 2.5 -3.2 2 -1.1 8.5 3.7 2.5 -0.2 2.5 -1.7 4.5 -5.3 4.3 -9.5 8.2 -13.5 3.5 1.7 18 0.5 6.5 1 6.5 1.9 1.5 10.4 -0.4 5.5 -2.6 6.5 -4 4.1 -3.5 1.7 -9 1 -9.5 -0.2 -12.5 -1.6 -2 0.1 -1 0.8 -0.3 3.6 4 20.5 2.1 16.5 -4.8 3.2 -3 3.3 -3 5.2 -4.1 9.3 -2.3 3.5 -4.6 4.3 -4.5 2.3zM678 171.6l-3.5 0.3 -3.5 -0.7 -3.3 -1.7 -2.4 -2.5 1.9 -4.5 3 -3 3.3 -1.2 3.5 0.1 3 1.2 2.4 2.4 1 3 -0.6 4 -1.3 1.3 -3.5 1.3zM666 210l-5.5 0.2 -5.5 -0.6 -5 -1.3 -4 -1.8 -2.5 -2 -1.6 -2.5 0.1 -1.5 2 -4 3.5 -2 5 -1.6 10.5 -1.1 5.5 0.5 5 1.2 4 1.7 2.9 2.3 1.3 2 0.2 2 -0.7 2 -1.7 1.9 -5.5 2.9 -8 1.7zM618.5 287.6l-3 -0.3 -2.2 -1.3 -1.9 -2.5 -1.9 -3.7 -2.7 -9.3 -1 -14 0.6 -13 3.3 -17.5 3.3 -9 2.5 -3.5 2 -1.1 9.5 5.4 3.5 0.7 0.3 0.5 4.9 20 2.7 20.5 -9.6 21 -5.1 5 -5.2 2.1zM676.5 169l-4.5 -0.5 -3.6 -2.5 1.4 -3.5 2.2 -2 2.5 -0.7 2.5 0.3 2 1 1.5 1.9 0.6 2 -0.2 2 -1.9 1.3 -2.5 0.7zM664.5 207l-6.5 -0.2 -5.5 -1.5 -3.4 -2.8 -0.4 -1.5 0.4 -1.5 1.9 -2 2.5 -1.3 8 -1.4 8 1.1 3 1.3 2.1 1.8 0.7 2.5 -1.7 2.5 -3.9 2 -5.2 1zM619.5 286.5l-2.5 0.1 -2 -0.9 -2.3 -2.2 -1.8 -3 -3.3 -9.5 -1.3 -11.5 0.2 -13.5 2.5 -15.5 3.5 -11.1 2 -3.2 2 -1.5 4.8 2.3 8 7 4.4 18.5 2 18 -5.4 14.5 -2.6 5.5 -3.9 4 -4.3 2zM676.5 166.5l-4 -0.5 -0.6 -0.5 0.6 -2 2 -1.2 2.5 0.6 0.8 1.1 0.1 1.5 -1.4 1zM663.5 204l-3.2 -0 -2.8 -0.7 -1.9 -1.3 -0.2 -1.5 2.1 -1.8 4 -0.8 4.5 0.6 2.4 1.5 0.2 1.5 -0.7 1 -4.4 1.5zM621 285l-2.5 0.4 -2 -0.5 -2.2 -1.4 -2 -2.5 -3.8 -9.1 -1.6 -9.9 -0.2 -14.5 2.1 -14 3.2 -11.6 2 -3.6 2 -1.6 2.5 0.9 3 2.1 6.8 7.8 3.4 14.5 2 15.5 0.1 4 -5.5 15.5 -3 5 -4.3 3zM621 283.6l-2.5 0.3 -2 -0.5 -2 -1.4 -1.6 -2 -3.8 -8.5 -1.8 -9.5 -0.3 -13.5 1.8 -13 3.2 -12 2 -3.6 1.5 -1.2 2.5 0.8 3 2.3 6.5 8.4 2.8 11.8 1.8 13.5 0.4 6 -3.8 12 -3.7 6.9 -2 2.1 -2 1.1zM621 282l-2.5 0.4 -2 -0.5 -3.5 -3.5 -3.5 -7.9 -1.8 -9 -0.3 -12.5 1.5 -12 3.1 -11.9 1.5 -3 1.5 -1.4 3 0.9 2.8 2.4 3.2 4 3 5.1 2.3 9.9 1.4 10.5 0.5 8.5 -2.4 8.5 -3.5 7.5 -2 2.5 -2.3 1.5zM619 281l-3.5 -1.2 -3.5 -4.9 -2.8 -7.9 -1.3 -8 -0.1 -11.5 1.7 -11.8 2.5 -9 1.5 -2.9 1.5 -1 2.5 0.7 3 2.5 3 4 3 5.5 2.2 10.5 1.2 10.5 0.2 6 -3.5 11 -3.6 5.5 -2 1.5 -2 0.5zM619 279.5l-2 -0.3 -1.5 -1 -3 -4.1 -2.7 -7.1 -1.4 -8 -0.2 -10.5 1.3 -10.7 2.5 -9.4 1.5 -2.9 1 -0.7 2.5 0.5 2.5 1.8 2.7 3.4 2.7 5 2.2 7 1.6 12 0.4 8 -2.5 8.5 -3.6 6.3 -2 1.6 -2 0.6zM619 278.1l-2 -0.3 -1.5 -1 -3 -4.3 -2.5 -7 -1.3 -8 -0.1 -10 1.4 -10 2.5 -8.5 1 -1.5 1.5 -0.5 2 0.4 2.5 2 4.5 7.1 2 5.5 1.8 12.5 0.3 8.5 -1.9 6.5 -3.2 6.1 -2 1.8 -2 0.7zM619 276.6l-2 -0.3 -1.5 -1 -2.9 -4.3 -2.2 -6.5 -1.3 -8 -0 -9.5 1.4 -9.7 2 -6.4 1 -1.3 1.5 -0.5 2 0.4 2 1.6 4 6.1 2.3 5.8 1.5 10.5 0.3 9.5 -1.3 5 -3 6 -1.8 1.8 -2 0.8zM619 275l-3 -0.9 -3 -4 -2 -5.6 -1.3 -7.5 -0.2 -8.9 1 -8.2 2 -6.8 2.5 -1.9 1.5 0.2 2 1.3 3.5 5 2.7 6.8 1.2 8.5 0.3 10 -0.9 3.5 -2.8 5.9 -1.5 1.6 -2 1zM618.5 273.5l-1.5 -0.3 -1.5 -1 -2.5 -3.8 -1.8 -5.4 -1 -7 -0.1 -8 0.9 -7.4 1.7 -5.1 1.3 -1.5 1.5 -0.5 3 1.5 3.3 5 2.5 7 0.9 7 0.1 8.5 -1 4 -2.8 5.2 -3 1.8zM619.5 271.6l-2.5 0.1 -2.8 -2.7 -2.1 -5 -1.1 -5.9 -0.3 -7.6 0.8 -7.6 1.5 -4.7 1 -1.5 1.5 -0.7 2.5 0.9 2.5 3.4 2.2 5.2 1.3 5.5 0.5 7.5 -0.4 5 -2.1 5.5 -2.5 2.6zM618.5 270.1l-2.5 -0.7 -2 -2.6 -1.6 -4.3 -0.9 -5.5 0 -7 1 -6.5 1.5 -3.7 2 -1.3 2.5 1.5 2.1 3.5 1.9 5.3 1 6 0 5.3 -1 4.9 -1.8 3.5 -2.2 1.6zM618.5 268.1l-2 -0.2 -2 -2.2 -1.5 -3.7 -0.7 -4 -0.1 -6 0.7 -5.5 1.3 -3.5 1.8 -1.5 2 0.9 2 3.1 1.5 4.4 0.8 4.6 0 5 -0.7 4 -1.3 3 -1.8 1.6zM617.5 266.1l-1.5 -0.6 -1.5 -2.1 -1.5 -6.9 0.2 -4.5 0.8 -4.3 1 -2 1.5 -0.9 1.5 1 1.5 2.5 1.6 7.7 -0.9 7 -1.2 2.3 -1.5 0.8zM617.5 263.1l-1 -0 -1.1 -1.1 -1.3 -5 0.5 -5.5 0.9 -2 1 -0.6 1 0.5 1 1.7 1 4.9 -0.5 4.9 -1.5 2.2z" fill="none" stroke="#333" stroke-width="0.85" stroke-linejoin="round"/><path d="M623.4 160.3h0M708.9 246.1h0M703.1 258.6h0M728.2 136.5h0M614.4 168.7h0M686.4 291.2h0M625.4 142.7h0M622.9 161.3h0M681.9 295.1h0M689.5 260.7h0M593.4 233.7h0M699.9 248.0h0M690.8 265.1h0M711.7 214.0h0M713.7 164.2h0M673.2 277.9h0M594.8 266.8h0M598.8 248.0h0M687.7 279.0h0M590.8 252.6h0M579.5 302.7h0M604.3 191.1h0M685.8 253.4h0M687.1 244.9h0M711.0 230.7h0M694.4 257.3h0M720.8 201.7h0M698.9 278.3h0M680.4 283.7h0M628.3 160.6h0M693.7 242.7h0M711.8 215.2h0M639.4 145.3h0M687.4 286.1h0M583.4 239.7h0M716.1 168.2h0M695.9 266.3h0M618.6 190.0h0M639.7 287.9h0M719.8 194.9h0M687.4 137.4h0M618.4 189.8h0M702.6 230.0h0M594.0 243.8h0M665.4 287.7h0M570.1 269.6h0M701.7 229.3h0M669.1 133.5h0M730.2 173.0h0M629.3 313.1h0M590.6 242.5h0M693.3 268.5h0M636.4 140.9h0M648.5 137.5h0M696.8 281.3h0M701.5 256.8h0M704.9 223.1h0M598.5 224.7h0M645.4 146.8h0M709.1 178.7h0M642.7 135.4h0M693.6 280.7h0M690.0 243.2h0M608.0 160.4h0M711.3 273.8h0M713.5 187.9h0M677.5 140.7h0M687.2 258.2h0M684.4 286.1h0M655.2 135.5h0M673.4 278.9h0M710.1 185.5h0M702.2 147.8h0M654.4 133.5h0M598.6 219.3h0M690.2 272.3h0M689.8 246.1h0M597.3 282.3h0M726.3 194.5h0M601.0 224.1h0M607.9 209.6h0M611.7 302.5h0M685.7 294.4h0M709.7 229.0h0M687.7 240.3h0M709.7 224.0h0M688.5 274.3h0M650.5 138.9h0M618.6 142.3h0M689.9 236.8h0M712.0 204.9h0M689.7 281.5h0M690.1 274.2h0M686.7 252.0h0M595.1 265.9h0M700.7 269.0h0M678.5 277.8h0M651.6 291.9h0M708.4 169.4h0M689.3 261.6h0M708.3 166.7h0M694.6 241.0h0M704.1 277.1h0M665.6 287.0h0M697.2 275.3h0M678.1 137.4h0M702.0 232.0h0M710.6 174.3h0M620.4 318.8h0M714.1 166.3h0M605.4 204.7h0M586.3 232.4h0M666.3 141.3h0M649.5 284.4h0M692.2 262.2h0M719.7 173.5h0M694.5 246.8h0M641.4 144.5h0M595.1 259.6h0M609.3 200.4h0M683.8 138.0h0M706.5 154.5h0M689.3 253.6h0M695.2 263.0h0M596.8 226.9h0M688.1 263.7h0M702.6 230.6h0M713.6 161.3h0M601.2 224.8h0M696.0 235.5h0M654.1 288.9h0M720.6 154.8h0M703.3 145.3h0M702.7 253.7h0M618.4 298.6h0M691.4 287.6h0M693.1 269.2h0M694.2 141.2h0M678.1 278.7h0M703.7 267.5h0M712.6 166.4h0M686.2 242.6h0M686.3 139.2h0M695.0 278.9h0M694.2 271.2h0M669.5 278.6h0M595.9 275.9h0M596.2 212.1h0M679.3 278.2h0M708.6 206.5h0M712.4 163.6h0M697.2 235.6h0M692.1 247.0h0M707.0 217.6h0M700.8 259.2h0M686.6 259.1h0M600.3 203.4h0M691.7 260.5h0M590.4 232.2h0M593.8 273.3h0M712.4 218.2h0M681.6 278.8h0M689.8 238.4h0M587.8 253.7h0M695.1 266.5h0M690.6 249.0h0M595.0 209.3h0M582.8 302.7h0M702.0 148.4h0M599.1 226.3h0M592.3 253.5h0M612.4 136.9h0M716.9 170.7h0M682.8 278.7h0M686.8 278.0h0M694.4 262.7h0M646.2 287.2h0M684.4 275.3h0M714.1 220.1h0M691.0 263.6h0M704.8 229.3h0M684.3 275.3h0M696.0 234.8h0M625.7 170.4h0M664.9 284.4h0M691.9 268.6h0M596.1 274.4h0M689.8 254.0h0M684.2 277.9h0M693.1 240.9h0M700.8 254.9h0M684.3 141.3h0M688.7 253.4h0M679.4 279.2h0M697.3 270.0h0M597.2 278.9h0M686.1 246.7h0M664.2 284.5h0M705.8 152.8h0M651.2 284.5h0M699.8 233.6h0M644.1 147.4h0M698.7 260.6h0M568.3 242.1h0M697.9 238.6h0M696.1 281.5h0M709.7 163.7h0M689.1 260.6h0M710.1 237.8h0M580.6 250.4h0M723.6 246.4h0M708.6 162.1h0M591.6 248.4h0M682.8 282.8h0M622.2 177.7h0M685.3 130.5h0M633.6 141.9h0M593.6 242.8h0M607.1 301.3h0M667.1 139.1h0M613.6 307.9h0M699.3 251.0h0M632.0 157.4h0M703.6 238.5h0M603.2 192.2h0M694.6 271.0h0M686.6 252.1h0M707.8 218.1h0M709.6 208.5h0M677.0 283.2h0M680.6 276.7h0M687.6 239.8h0M693.1 237.1h0M692.1 273.2h0M615.9 300.0h0M693.5 144.4h0M623.2 173.1h0M698.7 232.6h0M726.4 247.3h0M653.0 142.6h0M687.1 140.2h0M708.3 195.6h0M700.3 234.8h0M717.6 273.4h0M696.8 259.1h0M656.1 136.1h0M678.5 139.2h0M690.1 241.2h0M598.4 284.9h0M634.1 289.7h0M599.4 233.1h0M684.9 285.1h0M601.6 291.5h0M697.9 237.3h0M687.9 274.5h0M696.0 233.5h0M711.5 170.3h0M589.4 256.3h0M711.7 145.4h0M691.5 265.6h0M689.9 278.6h0M641.1 289.4h0M693.3 240.8h0M630.0 155.7h0M663.9 287.9h0M650.0 283.8h0M603.5 299.9h0M687.9 258.2h0M696.4 266.8h0M582.2 233.9h0M611.6 183.2h0M706.6 219.5h0M596.3 272.4h0M600.2 226.9h0M696.0 268.0h0M692.3 247.5h0M699.5 241.2h0M603.1 299.0h0M617.2 176.4h0M599.8 245.4h0M717.8 173.4h0M631.3 293.9h0M689.3 245.3h0M707.5 227.2h0M733.6 176.0h0M687.5 257.7h0M691.2 236.1h0M735.7 159.3h0M672.6 137.3h0M701.3 235.7h0M697.7 256.5h0M692.8 248.7h0M690.9 286.9h0M600.7 288.6h0M704.9 292.6h0M684.4 278.7h0M709.3 244.2h0M701.1 249.4h0M706.4 236.0h0M692.2 236.7h0M679.4 138.8h0M681.0 278.5h0M607.8 205.6h0M659.6 136.7h0M690.9 243.4h0M691.0 271.4h0M687.5 240.3h0M707.3 232.2h0M690.3 265.2h0M708.4 174.3h0M676.9 130.8h0M700.9 257.5h0M690.4 250.2h0M663.4 283.9h0M691.7 238.2h0M700.7 277.5h0M652.1 133.2h0M665.6 136.2h0M688.0 258.7h0M611.0 198.8h0M707.7 141.1h0M630.8 159.8h0M696.1 233.6h0M704.8 228.5h0M688.8 254.2h0M688.3 285.4h0M696.9 232.7h0M719.2 182.9h0M692.8 256.1h0M669.7 120.6h0" stroke="#111" stroke-width="1.4" stroke-linecap="square"/>
<path d="M857.5 297.5l-3 -0.1 -3 -1.3 -2.8 -2.1 -2 -2.5 -1.4 -5.5 -0.6 -10.5 2.1 -22 4.4 -28.5 4.2 -17 5.4 -10 3.2 -4.5 3.5 -3.4 25 -18.6 10 -11.8 13.5 -8.8 6 -2.4 12.5 -2.9 12 0.3 5 1.8 4.3 3.3 2.7 3 1.5 3 1.9 6 1.1 7.5 -0.4 9 -0.9 6 -3.4 13.5 -2.8 5.9 -14.2 21.1 -4.7 5 -6.6 5.2 -1.9 2.8 -0.7 3.5 -0.1 6.5 1.1 12 -0.8 3 -2.6 2.5 -4.5 2.5 -41.5 17.9 -13.5 8.4 -8 2.2zM858 295.5l-3 -0 -2.5 -0.9 -2.5 -1.8 -1.8 -2.3 -1.4 -6 -0.6 -10 2.1 -21 4.5 -27 4.5 -17.5 5.5 -10.5 3.3 -4.5 4.9 -4.2 23.5 -15.8 10.5 -12 13 -8.4 6 -2.3 11 -2.4 10.5 0.3 4.8 1.8 3.2 2.5 2.5 3 3.2 9.5 0.4 4 -0.2 8 -1.5 9.5 -3 11 -3.1 6 -13.6 20 -4.2 4.3 -6.8 5.2 -2.2 3 -0.9 6 0.5 16.5 -0.9 3 -2.1 2 -3.6 2 -38 16.5 -5 2.9 -10 7.2 -7 2.4zM858.5 294.1l-2.5 0.2 -2.5 -0.6 -2.5 -1.6 -1.7 -2.1 -1.6 -6.5 -0.5 -10 2 -20.5 4.6 -26 5 -18 5.4 -10.5 3.8 -4.6 6.5 -5.1 6.5 -4 11.5 -5.7 4 -2.5 3.3 -3.1 7.2 -8.6 13 -8.8 6.5 -2.4 9 -1.8 8.5 0.4 5 1.9 2.7 2.3 2 3 1.6 4.5 0.9 5 -0.5 12 -3.1 13.5 -3 7 -13.1 19.7 -4.4 4.8 -7.9 6 -2.2 3 -1.2 4.5 0.1 17.5 -0.9 3.5 -1.5 1.6 -3 1.7 -33.5 14.9 -6.5 4.2 -10.5 8.4 -6.5 2.8zM858 293.1l-2.5 0.1 -2.5 -0.9 -2 -1.6 -1.3 -2.2 -1.7 -9.5 0.2 -9.5 2 -18.5 4.6 -24.5 5 -17 5.6 -11 4.4 -5 7.7 -5.2 6 -2.9 10 -3.1 4.5 -2.5 4 -3.5 7.3 -8.8 13.4 -10 5.8 -2.1 6.5 -1.2 7.5 0.6 4.5 1.7 2.4 2 1.6 2.5 1.2 3.5 0.7 4.5 -0.6 11.5 -3.1 13.5 -2.7 6 -12.6 19 -4.2 4.5 -8.2 6.4 -2.7 3.6 -1.3 5 -0.3 16.5 -1 3.5 -4 3 -21.2 9.3 -7.5 3.8 -6.5 4.6 -12.2 10.8 -3.3 2 -3.5 1.1zM858 292l-2.5 0.1 -2.5 -1 -1.7 -1.6 -1.3 -2.5 -1.5 -10 0.7 -12.5 2 -16 4.2 -21.5 5.2 -17 5.6 -11 4.8 -5.3 7.5 -4.7 5.5 -1.9 8.5 -0.7 7 -3.4 4.7 -4 7.3 -8.9 9.9 -9.1 3.7 -2.5 4.9 -1.9 5.5 -0.7 6 0.8 4 1.8 2 1.9 1.2 2.1 1.2 6.5 -1.1 12 -3.2 13 -2.5 5 -12.4 18.5 -3.7 3.7 -8 6.2 -3.1 4.1 -1.7 5.5 -0.4 15.5 -1.3 4 -3.5 2.6 -18.5 8.1 -7 3.9 -6 4.8 -12.5 12.6 -3.5 2.3 -3.5 1.2zM858 291.1l-2.5 0 -2.5 -1.1 -1.6 -2 -1.1 -3 -1.2 -9.5 1.1 -15.5 2.6 -18 3.5 -16 5 -15.5 5.7 -11.1 4.5 -4.9 7 -4.1 4 -0.9 5.5 1.4 3.5 -0.1 4 -1.3 4.5 -2.5 6 -5 6.6 -8 5.9 -5.7 4.3 -5.8 4 -3 4.2 -1.5 4.5 -0.5 4.5 0.7 3.5 1.5 2.9 3.3 0.9 5 -2.2 14 -2.8 11 -2.6 5 -11.7 17.4 -3.5 3.5 -7.9 6.1 -3.6 4.5 -2.1 6 -0.5 14.5 -1.2 4 -3.2 2.7 -15.5 7 -7 4.1 -6.5 5.8 -11.8 13.4 -3.7 2.8 -3.5 1.3zM858 290.1l-2.5 0 -2.2 -1.1 -1.5 -2 -1.2 -3.5 -0.9 -9 1.1 -16.5 3 -18.5 3.4 -14.5 4.8 -14 6 -11.5 4.5 -4.7 6 -2.9 2.5 0.1 4.5 2.4 3 0.8 3.5 -0.3 4.5 -1.7 6.5 -4.2 6.6 -6 5.4 -6.5 5.5 -5.5 3.6 -7 2.9 -2.8 3.5 -1.7 4 -0.7 4 0.5 3.5 1.5 2.4 2.7 0.7 4 -6.3 25 -3.9 7 -9.4 13.5 -3 3.1 -8.5 6.6 -4.1 5.3 -2.4 7 -0.6 13 -1 3.5 -2.9 2.7 -13 6.1 -6.5 4.2 -6.5 6.5 -12.3 15 -3.2 2.6 -3.5 1.5zM937.5 178l-8.5 -0.2 -7 -2.5 2.3 -3.8 1.8 -7 1.7 -2 2.4 -1.5 3.8 -0.9 3.5 0.3 3 1.3 2.1 2.3 0.5 2.5 -0.6 3 -3.5 8.3 -1.5 0.2zM920.5 208.5l-6 -0.5 -5.5 -2.2 -4.8 -4.3 -3 -5.5 0.1 -1.5 14.2 -12.8 7 -0.1 5.5 2 4.6 3.9 2.4 4.9 -3.4 7.1 -6.1 7.9 -5 1.1zM858 289l-2 0.1 -1.7 -0.6 -1.3 -1.2 -1.2 -2.3 -1.5 -8 0.1 -9.5 1.5 -14.5 3.4 -18.5 2.9 -11 4.7 -12.5 6.6 -11.9 2.5 -2.6 3.4 -2 2.6 -0.3 6 3.9 4.5 1.2 5 -0.8 6.6 -3 -3.4 33 -5.4 27 -6.3 4.5 -4.5 4.3 -16.8 21.2 -2.7 2.2 -3 1.3zM935 172.5l-3.5 -0.2 -3.1 -0.8 -0.8 -3 0.1 -2.5 1 -2 1.8 -1.5 3 -1 2.5 0 2.7 1 1.6 1.5 0.7 2 -0.5 2.8 -2 3 -3.5 0.7zM920.5 202.6l-3.5 -0.1 -3 -1 -2.5 -2 -1.4 -2.5 -0.2 -3 0.9 -2.5 1.8 -2 2.9 -1.6 4 -0.5 3.5 0.7 3 1.9 1.9 3 0.2 3 -1.2 3 -2.9 2.5 -3.5 1.1zM857 288l-2.5 -0.7 -1.9 -2.3 -1.2 -4 -0.7 -5.5 1 -18 3.1 -18.5 3.4 -13.5 5.3 -13.6 7.5 -12.3 2 -1.6 2.5 -0.4 8 4.2 5.2 1.7 0.4 8.5 -0.4 10 -3 22 -3.9 16 -17.4 23 -4.4 4 -3 1zM935.5 170.1l-3.1 -0.1 -1.9 -2 -0.1 -2.5 2.1 -2 3.5 -0.2 2.3 1.7 0.3 1.5 -0.4 1.5 -2.7 2.1zM920 200.1l-4 -0.6 -2 -1.5 -0.9 -1.5 -0.2 -2 0.4 -1.5 1.2 -1.5 2 -1.1 2.5 -0.5 2.5 0.5 2 1.2 1.4 1.9 0.2 2 -0.7 2 -1.9 1.8 -2.5 0.8zM857.5 286.5l-2.5 -0.3 -1.9 -2.2 -1.4 -4.5 -0.5 -5 1 -18 3.5 -19.5 3.8 -13.6 5.5 -11.9 3 -4.6 3 -3.3 2.5 -1.5 2.5 -0.1 4 1.5 5.2 3 0.6 8.5 -0.3 10 -1.2 11 -2.1 11.5 -3.7 14 -13.5 19.1 -4 4 -3.5 1.9zM919.5 197.5l-2.5 -0.5 -1 -1.5 0.5 -2 1.5 -1 2.5 0.2 1.5 1.8 -0.5 2 -2 1zM858 284.6l-2.5 0 -2 -2 -1.3 -4.1 -0.6 -5 1.1 -18 3.6 -19.5 4.2 -13.5 6 -11.4 2.5 -3.2 2.5 -2.1 2.5 -0.9 2.5 0.1 3 1.3 3.2 2.2 0.8 5.5 0.1 7.5 -0.5 9 -3.3 19.5 -3.6 12.5 -11.2 16.4 -3.5 3.7 -3.5 2zM859 282.5l-2.5 0.4 -2.3 -1.4 -1.3 -3 -0.7 -4.5 0.6 -16.5 3.2 -18 4 -14.1 6.3 -11.9 4.2 -5.3 2.5 -1.2 2.5 -0 2.5 1 3 2.5 0.8 5.5 -0.3 15.5 -2.7 16.5 -4 14.5 -9.3 14.1 -3.5 3.9 -3 2zM858 281.1l-2 -0.3 -2 -1.9 -1 -3 -0.4 -4.4 0.8 -15.5 3.1 -17 4 -12.9 7 -12.6 3.5 -4 2 -0.9 2 0.1 2.5 1.2 2 2.1 0.9 5.5 -0.5 16 -2.7 16 -3.7 13 -2.6 4.5 -7.4 10.5 -3 2.6 -2.5 1zM859 279.1l-2.5 -0.2 -2 -1.8 -1 -2.4 -0.5 -3.7 0.6 -14 2.9 -16.2 3 -10.5 4 -8.1 6.3 -10.2 2.2 -1.7 2.5 -0.2 2 1 1.9 2.4 0.8 4.5 -0.4 15.5 -2.4 15 -3 11 -2.1 5 -6.8 10.2 -3 3 -2.5 1.4zM858.5 277.5l-2 -0.5 -1.8 -2 -0.8 -2 -0.4 -4 0.6 -13 2.9 -15.4 2.5 -8.4 3.5 -7.2 7 -11.6 2 -1.7 2 -0.2 1.5 0.7 1.5 1.8 0.9 2 0.2 2.5 -0.5 16.5 -2.4 14.5 -3.7 12.5 -2.7 5 -5.8 7.9 -2.5 2 -2 0.6zM860 275.5l-2 0.2 -2 -1.2 -1.4 -2.5 -0.6 -3 0.3 -11 2.2 -13.2 2.5 -9.2 3.5 -7.8 8 -13.1 1.5 -1.4 1.5 -0.3 2.2 1.5 1.3 4 -0.4 16 -1.9 13 -2.8 10.5 -2.2 5.5 -5.2 8.1 -2.5 2.7 -2 1.2zM859.5 274.1l-2 -0.3 -1.3 -1.3 -1.2 -2.4 -0.6 -3.1 0.5 -10.5 2.1 -11.7 2.5 -8.3 3.5 -7.7 5.5 -7.8 2.9 -5 1.1 -0.9 1 -0 1.1 0.9 0.8 2.5 0.3 12.5 -0.6 9 -1.9 10 -2.7 9.6 -3 5.9 -4 5.9 -2 1.8 -2 0.9zM860.5 272.2l-2 0.2 -1.5 -1 -1.3 -2.4 -0.7 -3 0.2 -8.5 1.8 -10.4 3 -9.8 3.5 -7.4 3.5 -4.6 4.5 -4.4 1 -0.3 2 7.2 0.2 4.7 -0.7 8.5 -1.6 9 -2.1 7.5 -3 6.5 -3.3 5.2 -3.5 3zM860.5 270.7l-1.5 0.2 -1.5 -0.9 -1.8 -4.5 -0.1 -6.5 1.4 -9.2 2.7 -9.3 3.3 -7.6 4 -5.3 2 -1.3 1.5 -0.3 2 2.1 1.1 5.4 -0.4 7.5 -1.5 8.5 -2 7 -3.1 7 -3.1 4.8 -3 2.4zM860.5 269.1l-1.5 0 -1 -0.7 -1.6 -3.9 -0.1 -6 1.1 -7.5 2.6 -8.9 3 -7 3.5 -4.8 1.5 -0.9 1.5 -0.2 2 2.1 0.8 4.2 -0.1 5 -1.3 8 -2.1 7.5 -2.7 6.5 -2.9 4.5 -2.7 2.1zM860 267.5l-2 -1.4 -1 -3.6 0 -5 1.2 -6.5 2.3 -7.7 2.5 -5.8 3 -4.2 2.5 -1 1.7 1.7 0.7 4 -0.2 5.5 -1.3 7 -1.9 6.5 -2.5 5.7 -2.5 3.5 -2.5 1.3zM861 265.6l-2 -0.5 -1 -2.2 -0.3 -4.4 0.8 -5.4 2 -6.9 2.5 -5.8 2.5 -3.6 2 -0.8 1.4 1.5 0.5 3 -1.2 10.5 -3.2 9.7 -2 3.2 -2 1.7zM861 263.6l-1.5 -0.6 -0.7 -2 -0.1 -3.5 0.7 -4.5 3.6 -9.4 2 -2.7 1.3 -0.4 0.9 1 0.4 3 -1.1 8.5 -2.5 7.3 -1.5 2.3 -1.5 1zM862 260.5l-1 0.4 -0.9 -0.9 -0.1 -4.5 2 -6.3 1.5 -2.3 1 -0.6 1 1.9 -0.3 4.8 -1.3 4.5 -1.9 3z" fill="none" stroke="#333" stroke-width="0.85" stroke-linejoin="round"/><path d="M966.7 207.8h0M912.9 295.3h0M962.5 186.7h0M969.6 183.6h0M959.7 229.0h0M964.3 201.8h0M930.3 264.7h0M892.3 162.2h0M900.7 285.5h0M906.2 280.1h0M892.8 126.5h0M932.5 251.5h0M894.5 159.6h0M845.3 210.7h0M935.6 237.1h0M947.3 240.6h0M838.8 242.7h0M827.9 291.3h0M955.6 210.4h0M962.9 186.4h0M931.4 264.7h0M897.6 295.0h0M831.5 290.3h0M926.0 283.2h0M957.8 146.1h0M841.9 293.2h0M841.3 262.5h0M911.1 281.7h0M942.2 235.9h0M979.8 197.3h0M921.8 274.1h0M934.4 263.8h0M919.4 273.2h0M973.3 191.5h0M967.6 169.0h0M917.4 272.5h0M907.9 138.5h0M867.6 295.2h0M884.7 169.6h0M935.2 257.5h0M949.5 236.7h0M949.3 225.4h0M972.5 180.2h0M925.5 273.8h0M912.2 288.8h0M839.0 269.5h0M935.5 257.8h0M928.0 268.9h0M929.3 250.6h0M931.1 253.3h0M911.7 286.9h0M962.1 216.5h0M978.2 198.3h0M831.1 296.3h0M842.7 295.1h0M939.7 242.6h0M927.5 274.9h0M920.8 271.4h0M840.5 296.9h0M968.2 151.5h0M841.2 285.8h0M932.3 246.3h0M948.4 240.3h0M929.5 266.0h0M929.7 259.2h0M932.8 238.9h0M954.4 218.2h0M881.0 289.7h0M925.8 276.2h0M890.5 157.8h0M837.4 236.4h0M916.1 272.4h0M906.4 282.6h0M862.5 298.7h0M960.0 204.5h0M842.2 285.4h0M935.0 266.8h0M954.0 147.7h0M962.3 194.8h0M857.5 186.8h0M913.0 150.0h0M930.1 266.1h0M949.4 222.4h0M927.9 266.8h0M968.6 150.7h0M906.8 282.3h0M938.5 267.0h0M935.8 273.1h0M834.1 258.7h0M940.2 240.8h0M854.0 188.6h0M894.3 294.5h0M976.2 172.4h0M934.2 248.9h0M972.2 164.6h0M897.7 160.5h0M835.0 267.0h0M890.0 285.0h0M933.4 241.7h0M929.4 274.8h0M920.8 280.3h0M838.7 250.0h0M936.0 273.0h0M951.4 219.5h0M975.5 173.8h0M866.6 187.4h0M979.4 131.3h0M901.9 148.4h0M922.5 271.1h0M918.1 286.3h0M958.1 145.5h0M937.7 269.4h0M915.3 274.0h0M929.6 266.1h0M929.7 245.5h0M826.5 244.5h0M934.3 266.9h0M956.0 206.0h0M927.2 272.0h0M963.8 188.3h0M912.8 141.7h0M898.4 292.1h0M899.5 154.3h0M963.7 189.2h0M923.8 145.0h0M938.4 133.6h0M965.8 165.7h0M882.5 290.0h0M937.1 266.5h0M932.9 236.3h0M910.5 131.7h0M913.2 277.4h0M941.6 243.5h0M909.7 280.3h0M931.6 246.8h0M980.5 150.4h0M914.5 149.0h0M836.5 274.7h0M850.5 199.3h0M982.4 173.8h0M956.3 236.3h0M843.6 211.3h0M844.5 215.8h0M922.7 274.7h0M930.6 242.0h0M860.2 312.6h0M898.2 156.6h0M851.4 219.3h0M842.1 283.7h0M929.5 238.7h0M831.1 273.4h0M938.9 239.0h0M935.0 235.9h0M900.4 284.2h0M973.2 223.4h0M934.2 251.9h0M938.0 253.3h0M947.4 142.7h0M962.3 156.8h0M959.4 203.9h0M942.7 125.9h0M934.9 266.1h0M941.6 254.8h0M946.0 228.1h0M950.8 237.3h0M903.4 142.8h0M934.9 236.0h0M931.8 278.8h0M899.2 142.9h0M941.6 263.0h0M843.2 267.2h0M969.3 197.4h0M952.8 219.7h0M855.3 184.2h0M844.6 254.0h0M846.5 232.2h0M980.8 167.6h0M956.5 217.6h0M978.6 206.4h0M854.1 306.3h0M939.0 258.7h0M931.0 243.4h0M940.4 244.1h0M930.2 254.9h0M865.5 303.0h0M946.6 233.6h0M956.5 144.7h0M866.8 185.2h0M946.9 131.7h0M857.7 191.2h0M930.4 258.2h0M958.7 210.1h0M932.1 277.5h0M844.9 296.8h0M895.7 164.6h0M921.5 275.4h0M934.2 263.8h0M845.6 309.8h0M864.1 187.5h0M921.8 272.9h0M944.5 226.9h0M859.5 190.2h0M985.2 210.4h0M901.1 293.7h0M931.6 243.5h0M847.0 239.5h0M916.9 282.4h0M899.5 280.6h0M911.8 285.5h0M934.5 139.4h0M827.9 313.2h0M928.2 266.2h0M905.4 286.3h0M842.4 275.2h0M842.5 285.7h0M900.2 284.2h0M935.3 262.2h0M861.4 167.2h0M843.1 266.2h0M927.0 141.6h0M835.9 229.3h0M851.2 217.4h0M950.9 220.0h0M922.4 275.3h0M898.8 283.7h0M838.4 286.8h0M939.9 259.2h0M920.6 272.6h0M871.9 166.1h0M836.8 228.9h0M924.1 273.9h0M929.0 240.5h0M928.6 245.5h0M916.3 274.3h0M971.5 199.4h0M899.1 281.0h0M932.0 270.9h0M900.6 149.7h0M831.6 238.0h0M887.6 289.0h0M964.8 213.8h0M916.8 135.3h0M870.9 181.1h0M938.6 250.7h0M963.6 157.6h0M949.6 144.9h0M888.8 169.9h0M928.5 276.8h0M873.1 299.7h0M887.3 169.1h0M931.3 252.8h0M928.7 266.2h0M959.2 147.8h0M921.5 282.9h0M934.9 271.1h0M929.1 265.8h0M939.8 243.7h0M842.3 274.7h0M928.5 277.2h0M949.3 217.2h0M850.8 203.9h0M854.8 304.5h0M940.3 244.0h0M939.1 236.5h0M843.6 293.3h0M940.3 268.6h0M930.3 271.0h0M914.2 275.7h0M918.8 278.3h0M933.0 266.5h0M863.9 312.4h0M912.7 274.9h0M908.3 277.9h0M934.7 277.9h0M942.2 143.1h0M862.6 307.7h0M919.3 272.9h0M960.2 152.5h0M937.8 268.8h0M947.1 268.3h0M846.2 246.2h0M952.2 221.2h0M940.5 250.1h0M865.4 179.0h0M944.1 235.0h0M936.1 260.3h0M950.4 268.8h0M943.9 251.2h0M891.6 284.4h0M897.9 284.5h0M840.3 288.3h0M840.5 256.8h0M964.1 208.0h0M935.6 143.0h0M929.8 256.0h0M932.0 247.6h0M914.8 123.4h0M851.8 171.8h0M862.4 300.3h0M923.2 271.2h0M884.8 287.2h0M951.0 225.3h0M934.2 238.1h0M929.1 255.7h0M938.8 235.3h0M943.6 141.5h0M931.4 242.0h0M933.3 264.7h0M847.8 230.1h0M885.2 290.1h0M873.2 292.5h0M940.9 140.3h0M933.9 237.1h0M931.8 258.2h0M940.9 235.9h0M880.7 302.6h0M946.4 220.9h0M830.5 286.4h0M942.8 229.0h0M911.2 283.5h0M879.5 157.7h0M938.8 279.4h0M945.0 278.8h0M934.9 253.4h0M946.1 221.3h0M834.9 234.0h0M869.9 166.7h0M950.3 216.3h0M930.5 248.2h0M937.5 248.3h0M934.0 242.9h0M925.6 282.3h0M971.8 195.2h0M836.1 274.0h0M903.6 280.8h0M941.0 229.6h0M958.1 145.0h0M938.1 276.5h0M922.1 269.9h0M939.5 244.1h0M879.5 290.6h0M851.5 210.9h0M933.2 269.8h0M940.0 262.5h0M938.2 233.8h0M919.9 273.5h0M876.8 159.9h0M956.3 222.1h0M840.8 245.9h0M860.2 299.0h0M827.2 272.2h0M926.6 145.2h0M930.2 260.8h0M972.0 170.2h0M842.5 234.6h0M849.6 299.9h0M954.9 214.1h0M966.6 157.9h0M924.1 290.6h0M961.6 195.6h0M929.7 256.6h0M985.8 211.1h0M837.9 295.8h0M924.3 271.5h0M922.5 274.9h0M967.0 157.1h0M938.1 230.7h0M930.1 280.4h0M845.2 219.5h0M968.5 159.4h0M931.8 280.3h0M951.8 213.5h0M937.5 256.7h0M867.3 187.4h0M965.5 164.7h0M935.1 244.5h0M949.0 261.5h0M953.5 272.6h0M937.7 292.3h0M930.2 248.2h0" stroke="#111" stroke-width="1.4" stroke-linecap="square"/>
<path d="M1118.5 306.5l-4 -0.3 -3 -1.7 -2.7 -3.5 -3.6 -6.5 -1.5 -5.5 -0.6 -16.5 0.1 -39 1.6 -31 1.6 -15.5 1 -6 1.6 -3.5 3 -2.8 3.5 -0.9 4 0.5 5.5 1.7 10.5 6.1 19.7 16.4 3.3 3.5 1.5 3.5 0.6 4.5 -4.3 21 0.2 4 1.7 6 1.7 4 2.4 3 15.7 12.8 2.5 4.6 1 4.6 -0.7 5.5 -1.7 5 -4.6 6.9 -3.5 3.1 -13 4.3 -19.5 4.5 -16 6.3 -4 0.9zM1119.5 304.5l-4 0.2 -3 -1.4 -2.4 -2.8 -3.4 -6 -1.6 -5.5 -0.8 -17 0.1 -37 2.4 -35.5 2.9 -18 2.3 -3.5 3.5 -1.4 3.5 0.4 4.5 1.7 11 6.7 17.9 15.1 3.1 3.3 1.4 3.7 0.2 4 -3 12 -1.2 9 0.5 4 1.7 6 1.9 4.3 2.5 3.1 15.5 12.6 2.2 4 0.8 4 -0.5 4.5 -1.7 4.5 -3.7 5.5 -3.1 2.6 -11.5 3.8 -21 5 -17 8.1zM1118.5 303.5l-3.5 -0.1 -2.5 -1.4 -2.3 -3 -3 -5.5 -1.4 -5.5 -0.9 -18 0.2 -35.5 2.6 -32.5 3.3 -18.5 2 -3.3 3 -1.2 3 0.5 3.3 1.5 10.7 7.5 16 13.6 3.2 3.4 1.2 3 0.1 3 -2.7 11.5 -1.4 9.5 0.6 4.5 2 7 1.9 4.5 2.6 3.3 15.9 13.2 1.6 3 0.5 3 -0.6 4 -1.5 3.5 -2.8 4 -2.6 2.2 -10 3.4 -21.5 5.2 -5 2.5 -8.5 6.2 -3.5 1.5zM1118 302.6l-3 -0.1 -2.5 -1.7 -2.7 -3.8 -2.5 -5 -0.9 -5 -1 -20 0.3 -32.5 2.7 -31 3.8 -18 1.8 -3 2.5 -1 3 0.7 3.6 2.3 22.4 19.1 3.5 3.9 0.8 2 0 2.5 -2.6 11.5 -1.2 9 0.6 5 2.4 8 1.8 4.5 2.1 3 15.6 13.2 1.7 2.3 0.6 3 -0.3 2.5 -1.3 3 -1.7 2.5 -2.5 2.2 -8.5 3 -22 5.5 -4.5 2.8 -7.9 7.5 -4.1 2.1zM1118 301.6l-2.5 0.1 -2.5 -1.4 -2.8 -3.8 -2.4 -5 -1 -5.5 -1 -22 0.4 -29.5 2.9 -30 1.8 -9 2.1 -7.2 1.5 -2.8 2.5 -1.1 2.1 0.6 2.9 2.1 20.4 18.4 2.7 3 0.8 2 0.1 2.5 -2.7 13 -0.7 7 0.6 5 2.7 9 1.8 4.5 2.3 3.5 15 12.9 1.5 2.1 0.4 2 -0.4 2.2 -1.2 2.3 -3.8 3 -8 2.5 -16.5 3.7 -4.5 1.9 -3.5 2.8 -6.8 8.6 -4.2 2.6zM1118 300.6l-2.5 0.1 -2.5 -1.5 -2.7 -3.7 -2.1 -4.5 -0.9 -5.5 -1.1 -21.5 0.4 -29.5 3 -28 1.4 -7.1 2 -6.4 2 -3.5 2 -0.9 2.5 0.7 3 2.3 16.5 15.4 2.4 3 0.7 4 -2.5 13.5 -0.4 6 0.7 5.5 2.6 8.7 2.1 5.3 2.4 3.7 13.6 12.3 1.4 1.9 0.3 1.6 -1.1 2.5 -3.3 2 -20.9 5.2 -5 2.1 -4 3.8 -5.9 9.4 -2 2 -2.1 1.1zM1118 299.6l-2.5 0.2 -2 -1.1 -2.6 -3.2 -2.2 -4.5 -1 -5.5 -1.2 -21.5 0.4 -28 2.3 -22.5 1.7 -9.5 1.6 -5.7 2 -3.6 2.5 -0.7 3 0.9 3.5 2.6 11.9 11 2.3 3 0.5 3.5 -2 12.5 -0.4 6 0.7 5.5 1.9 7 2.5 7 2.4 4.5 2.9 3.5 8.1 7.5 1.6 3 -1 2 -2.8 1.5 -16.1 4 -5 2.4 -4 4.7 -5.4 10.4 -3.6 3.1zM1116.5 299l-2 -0.5 -2 -1.8 -2.2 -3.2 -1.4 -3.5 -1.8 -16.5 -0.3 -10 0.5 -27.5 2.1 -19.5 2.6 -13.1 1.5 -3.3 2 -1.2 3.5 1.4 6 6.2 6.5 4 2.1 2.5 0.6 3.5 -1.8 15.5 1.3 10 2.9 9.5 2.4 5.5 3 4.5 5.5 6 1.1 2.5 -0.6 1.5 -1.6 1 -12.4 3.6 -4 2.3 -3.5 4.9 -6.2 13.2 -1.8 1.8 -2 0.7zM1116.5 298l-2 -0.4 -2 -1.8 -2 -3 -1.3 -3.3 -1.7 -15.5 -0.4 -8.5 0.5 -27 1.3 -15 3.1 -16.4 1.5 -3.3 1.5 -0.6 2.5 1.2 2.1 2.6 5.1 11.5 2.5 8.5 3.5 22 -0.3 24 -1.9 1.6 -1.5 2.7 -7.5 18.4 -1.5 1.7 -1.5 0.6zM1117 296.7l-1.5 0.2 -2 -1 -2 -2.4 -1.7 -3.5 -0.9 -5 -1.4 -17.5 0.3 -26 1.3 -16 2.4 -13.4 1.5 -4 1.5 -1.1 2 1 2.2 3 2.1 4.5 1.9 6.5 2.7 14.5 1.1 16.5 -0.2 14 -1.6 10 -3.6 12.5 -2.6 5.6 -1.5 1.6zM1116.5 295.5l-1.5 0.2 -2 -1.4 -1.7 -2.3 -1.3 -3 -2.3 -21.5 0.1 -17.5 0.8 -17 2.7 -17 1.2 -3.8 1.5 -1.7 2 0.9 1.6 2.1 3.2 8.5 2.6 13.5 1 14.5 -0.1 16.5 -1.4 12 -2.6 10 -2 4.5 -1.8 2.5zM1116 294.1l-1.5 0.2 -1.5 -1 -2.7 -4.8 -1.9 -14.5 -0.4 -8 0.1 -17 0.9 -15.9 2.5 -15.1 1 -2.9 1.5 -1.3 1.5 0.7 1.8 2.5 2.9 8.5 2.1 12 0.9 14 -0.3 15.5 -1.4 12 -2.2 9 -3.3 6.1zM1115 292.9l-1 -0 -1.5 -1.3 -2 -4.3 -1.8 -13.8 -0.5 -8.5 0.1 -15 0.9 -15.5 1.8 -11.6 1.5 -4.9 1 -1 1.5 0.5 1.5 1.9 2.8 7.6 1.9 11 0.9 14.5 -0.3 15.5 -1.5 12 -2.3 8.4 -3 4.5zM1114.5 291.1l-1 0 -1 -0.8 -1.9 -4.8 -1.8 -13 -0.4 -9.5 1.1 -28 2 -11.5 1 -2.7 1 -0.8 1.5 0.7 1.5 2.2 2.4 7.6 1.7 10.5 0.7 13 -0.4 14 -1.5 11 -2.1 8 -2.8 4.1zM1114 289.1l-1 -0 -1 -1.3 -1.2 -3.8 -1.7 -12 -0.4 -10 1.2 -27 1.7 -9 0.9 -2.5 1 -0.6 1.5 1 1 1.6 2.5 7.8 1.4 9.7 0.5 12 -0.3 12.5 -1.4 10.5 -2.1 7.5 -1.1 2.1 -1.5 1.5zM1113 287l-1.5 -2.6 -1.6 -8.4 -1 -15.5 1.2 -23.5 1.4 -7.9 1.5 -3.2 1.4 0.6 1.1 1.4 2.3 7.1 1.4 9.5 0.5 12 -0.5 12 -1.5 9.5 -2.2 6.8 -1.2 1.7 -1.3 0.5zM1113 284.7l-1.5 -2.7 -1.5 -7.6 -0.8 -13.9 1.3 -23.5 1 -5.2 1.5 -2.8 1.5 0.8 1 1.6 1.7 5.6 1.3 9 0.5 11 -0.5 10.5 -1.2 8.5 -1.9 6 -1.3 2 -1.1 0.7zM1113 282.2l-1.5 -2.6 -1.2 -5.6 -0.9 -13.5 1.2 -20.5 0.9 -5.5 1.5 -2.5 2 1.8 1.8 5.7 1.1 8.5 0.4 9.5 -0.4 9 -1.1 7.5 -1.8 6 -2 2.2zM1113 279.8l-1 -1 -1.5 -5.7 -0.8 -12.6 1.3 -20 1 -4.5 1 -0.8 1.5 1.3 1.7 5 1 7.5 0.4 8.5 -0.3 8 -1 7 -1.5 5 -1.8 2.3zM1113 277.3l-1 -0.7 -1.2 -4.1 -0.8 -12 1 -16.4 1 -4.9 1 -0.8 1.5 1.8 1.2 4.3 1.2 13.5 -1.1 13 -1.3 4.3 -1.5 2zM1112.5 275l-1.5 -4.1 -0.7 -10.4 0.7 -12.4 1.5 -6.1 1.5 1.2 1 3 1.2 12.3 -1.1 11.5 -1.1 3.5 -1.5 1.5zM1112.5 272.5l-1.4 -4 -0.4 -8 0.5 -10 1.3 -4.9 1 0.8 1 2.8 0.9 9.8 -0.9 9.5 -1 3 -1 1zM1112.5 269.5l-1 -2.5 -0.4 -6.5 0.4 -7.4 1 -3.4 1.5 3.2 0.6 6.6 -0.6 6.5 -1.5 3.5zM1112.5 265.2l-0.5 -0.7 -0.3 -4 0.3 -4.4 0.5 -1.1 0.9 5 -0.9 5.2z" fill="none" stroke="#333" stroke-width="0.85" stroke-linejoin="round"/><path d="M1187.8 297.4h0M1161.1 296.5h0M1171.9 292.4h0M1170.7 215.2h0M1161.3 184.3h0M1140.1 306.0h0M1182.7 259.1h0M1141.0 157.6h0M1168.5 301.1h0M1127.0 313.9h0M1163.2 218.8h0M1185.0 292.1h0M1178.7 185.4h0M1187.6 241.5h0M1186.6 293.3h0M1160.0 237.3h0M1167.1 249.2h0M1153.5 191.8h0M1193.5 292.1h0M1169.2 247.3h0M1167.3 212.7h0M1177.3 286.6h0M1168.5 311.8h0M1185.3 250.6h0M1181.8 280.4h0M1124.9 317.2h0M1146.6 172.7h0M1185.4 256.8h0M1154.3 309.2h0M1154.8 192.2h0M1166.0 209.0h0M1170.4 252.1h0M1189.5 277.2h0M1175.7 252.6h0M1176.0 252.0h0M1148.4 178.0h0M1199.8 280.0h0M1174.5 223.8h0M1147.7 184.2h0M1195.1 307.9h0M1184.9 266.1h0M1194.4 243.2h0M1185.9 279.3h0M1169.8 245.0h0M1164.7 192.9h0M1178.4 257.5h0M1190.2 281.4h0M1188.5 280.9h0M1173.3 252.9h0M1159.1 303.7h0M1130.4 306.4h0M1166.0 298.0h0M1163.2 231.5h0M1169.1 216.0h0M1170.6 250.1h0M1188.1 265.2h0M1164.4 198.4h0M1182.5 252.7h0M1161.1 241.2h0M1118.4 154.8h0M1159.5 239.4h0M1171.6 235.6h0M1132.2 308.2h0M1137.3 179.4h0M1159.4 303.4h0M1150.8 301.4h0M1195.0 257.0h0M1162.8 203.1h0M1174.2 289.1h0M1172.1 198.7h0M1173.1 224.0h0M1188.1 266.8h0M1168.7 239.7h0M1161.9 244.3h0M1164.9 221.2h0M1146.9 174.2h0M1159.9 230.6h0M1187.9 293.8h0M1175.3 294.3h0M1148.7 185.7h0M1177.3 252.6h0M1157.9 229.0h0M1164.2 236.1h0M1163.6 314.7h0M1178.4 292.2h0M1166.5 248.8h0M1167.7 248.9h0M1137.4 302.0h0M1164.6 233.0h0M1190.5 287.8h0M1184.3 278.6h0M1182.1 280.1h0M1186.9 243.2h0M1184.2 270.9h0M1161.6 295.2h0M1162.0 220.8h0M1182.3 284.4h0M1167.3 245.6h0M1168.6 250.8h0M1184.8 243.6h0M1163.0 232.7h0M1185.6 282.8h0M1163.8 234.5h0M1162.5 201.9h0M1188.7 288.0h0M1168.8 235.5h0M1179.5 254.6h0M1150.3 312.3h0M1184.5 263.8h0M1170.0 249.7h0M1166.6 218.8h0M1192.1 274.0h0M1139.7 307.6h0M1187.3 274.8h0M1188.3 285.0h0M1159.5 224.1h0M1165.8 222.9h0M1159.0 230.4h0M1174.6 245.5h0M1165.3 300.1h0M1163.7 244.1h0M1167.0 200.7h0M1187.7 250.3h0M1162.9 215.1h0M1190.0 262.0h0M1162.6 227.0h0M1171.5 306.2h0M1168.3 240.9h0M1176.2 255.6h0M1182.1 255.4h0M1167.2 237.7h0M1120.0 311.2h0M1130.8 176.1h0M1185.6 281.1h0M1168.6 215.3h0M1142.4 181.3h0M1167.9 201.1h0M1181.0 282.1h0M1153.1 301.2h0M1184.5 286.5h0M1180.4 218.0h0M1165.1 247.6h0M1164.0 192.3h0M1160.6 239.1h0M1167.9 214.1h0M1134.6 172.9h0M1173.3 219.6h0M1157.6 303.4h0M1173.4 250.6h0M1166.7 216.6h0M1153.9 191.9h0M1156.2 300.8h0M1154.0 187.7h0M1133.8 175.2h0M1162.6 190.7h0M1189.1 283.0h0M1195.5 303.9h0M1146.9 188.2h0M1183.8 262.2h0M1194.3 264.9h0M1176.2 249.7h0M1124.3 160.4h0M1189.3 271.4h0M1183.5 240.3h0M1146.4 304.2h0M1118.3 321.5h0M1181.4 262.3h0M1149.5 191.5h0M1173.9 223.1h0M1198.9 261.0h0M1148.2 298.7h0M1166.0 239.2h0M1159.2 230.1h0M1184.4 257.7h0M1161.4 296.7h0M1189.7 204.3h0M1194.3 256.5h0M1179.9 259.2h0M1161.5 245.8h0M1185.9 229.9h0M1174.2 305.7h0M1176.0 293.5h0M1184.8 197.8h0M1133.9 150.3h0M1169.2 214.9h0M1159.7 240.0h0M1158.4 198.8h0M1159.6 226.8h0M1187.2 269.8h0M1180.7 280.3h0M1167.6 293.4h0M1168.9 293.4h0M1164.8 224.9h0M1183.1 250.3h0M1184.9 279.7h0M1178.8 258.6h0M1182.0 255.1h0M1175.4 292.3h0M1110.4 306.3h0M1154.1 300.0h0M1164.6 216.1h0M1153.2 192.5h0M1159.6 219.4h0M1173.6 291.0h0M1164.3 223.1h0M1185.4 281.3h0M1178.5 256.5h0M1156.0 317.0h0M1172.9 192.3h0M1168.6 294.8h0M1168.7 177.3h0M1196.7 262.2h0M1182.2 251.0h0M1166.2 212.1h0M1162.8 215.4h0M1159.3 235.0h0M1175.5 246.2h0M1165.5 197.8h0M1166.5 241.7h0M1149.7 187.0h0M1174.9 247.1h0M1169.6 252.0h0M1160.5 234.5h0M1170.8 246.6h0M1178.6 254.4h0M1179.1 250.0h0M1160.8 202.4h0M1165.1 208.5h0M1161.8 216.3h0M1139.7 327.5h0M1165.6 248.2h0M1183.9 274.8h0M1168.4 205.5h0M1173.9 249.9h0M1173.1 241.2h0M1165.6 205.3h0M1164.5 208.7h0M1163.4 212.3h0M1188.7 279.9h0M1188.6 280.8h0M1159.2 298.0h0M1170.0 226.8h0M1169.7 249.4h0M1183.3 278.2h0M1171.2 253.3h0M1157.5 297.8h0M1134.9 170.4h0M1183.7 272.7h0M1164.1 194.3h0M1180.4 249.4h0M1167.1 234.8h0M1162.2 243.2h0M1177.6 285.5h0M1147.2 187.4h0M1138.9 178.3h0M1182.6 304.5h0M1165.2 246.7h0M1176.9 237.3h0M1156.4 197.6h0M1169.7 248.1h0M1188.0 267.0h0M1175.9 300.2h0M1160.0 235.2h0M1153.6 194.1h0M1180.5 283.0h0M1193.6 221.2h0M1191.8 275.6h0M1174.3 291.2h0M1128.5 308.8h0M1171.3 200.3h0M1162.6 215.9h0M1161.6 234.3h0M1168.4 293.8h0M1162.8 241.1h0M1160.4 240.7h0M1166.5 295.1h0M1151.7 192.3h0M1158.9 190.4h0M1152.4 187.4h0M1175.6 248.3h0M1163.9 206.7h0M1165.7 229.6h0M1171.9 246.6h0M1169.2 250.9h0M1163.1 235.2h0M1169.8 194.7h0M1191.3 293.0h0M1153.9 298.1h0M1181.8 253.6h0M1159.8 219.5h0M1125.8 327.2h0M1151.2 192.3h0M1169.1 298.7h0M1181.8 260.7h0M1182.0 214.4h0M1175.1 256.5h0M1175.0 252.0h0M1152.3 165.9h0M1161.5 244.2h0M1182.8 286.7h0M1187.1 262.4h0M1156.0 193.9h0M1168.4 206.9h0M1189.7 271.7h0M1127.2 172.0h0M1183.4 271.0h0M1168.4 250.5h0M1161.7 234.2h0M1162.7 239.4h0M1172.7 245.1h0M1152.6 189.3h0M1145.4 303.9h0M1164.6 239.4h0M1186.5 266.8h0M1147.8 190.2h0M1154.0 298.7h0M1184.2 272.3h0M1164.6 213.9h0M1155.7 301.0h0M1149.6 299.5h0M1164.0 244.1h0M1160.5 218.1h0M1177.3 294.0h0M1120.1 161.2h0M1174.2 306.5h0M1124.6 308.2h0M1151.9 185.3h0M1140.3 305.9h0M1166.6 218.2h0M1176.5 292.1h0M1182.7 297.8h0M1162.3 201.6h0M1163.3 227.8h0M1140.2 307.5h0M1184.1 288.4h0M1184.9 273.8h0M1163.4 210.5h0M1184.9 279.3h0M1126.8 175.1h0M1167.1 215.9h0M1178.8 213.2h0M1145.9 180.0h0M1175.3 244.5h0M1133.5 173.6h0M1118.4 313.8h0M1169.1 246.6h0M1188.3 285.9h0M1170.1 250.7h0M1154.8 193.2h0M1160.7 243.0h0M1132.1 163.7h0M1164.1 220.6h0M1185.2 261.6h0M1175.7 201.4h0M1136.8 302.2h0M1184.2 261.9h0M1133.6 171.2h0M1169.1 240.2h0M1144.2 300.7h0M1162.3 214.4h0M1151.2 192.9h0M1163.9 217.8h0M1182.6 245.5h0M1158.1 235.9h0M1162.2 212.7h0M1161.8 245.0h0M1179.9 245.6h0M1183.2 273.3h0M1159.7 322.2h0M1182.2 262.0h0M1146.7 185.2h0M1167.4 196.8h0M1164.9 220.5h0M1161.6 304.9h0M1167.4 181.1h0M1185.6 264.9h0M1160.5 237.1h0M1169.4 212.9h0M1187.5 263.1h0M1181.3 283.5h0M1177.3 286.5h0M1165.1 207.9h0M1161.2 203.7h0M1167.4 203.9h0M1164.7 208.7h0M1162.2 207.5h0M1166.1 249.9h0M1164.2 223.6h0M1179.7 260.0h0M1125.7 310.5h0M1176.3 289.9h0M1170.1 186.6h0M1176.5 305.6h0M1160.8 234.4h0M1174.0 201.3h0M1166.2 212.8h0M1156.9 179.1h0M1161.5 218.1h0M1179.7 244.7h0M1157.3 189.7h0M1136.5 308.6h0M1160.1 239.7h0M1181.1 251.0h0M1174.3 223.3h0M1165.3 300.6h0M1165.5 296.8h0M1168.0 245.8h0M1121.3 151.7h0M1182.1 266.3h0M1161.2 226.4h0M1154.3 195.7h0M1172.0 243.8h0M1183.0 278.3h0M1191.3 265.9h0M1145.7 189.5h0M1149.8 302.0h0M1165.4 245.9h0M1140.7 301.5h0M1160.2 238.9h0M1141.9 301.0h0M1161.0 295.7h0M1144.8 174.1h0M1165.6 299.4h0M1188.4 269.3h0M1198.8 254.5h0M1148.8 157.1h0M1185.7 261.6h0M1191.9 262.5h0M1150.7 298.2h0M1171.8 234.5h0M1141.6 181.3h0M1201.0 279.1h0M1160.2 231.5h0M1160.0 225.9h0M1189.1 267.7h0M1135.7 175.0h0M1128.0 173.1h0M1157.4 310.7h0M1187.2 298.2h0M1185.8 290.9h0M1170.1 245.8h0M1164.4 234.1h0M1162.0 202.1h0M1152.7 173.0h0M1175.9 289.7h0M1166.9 213.9h0M1189.1 282.2h0M1147.6 180.2h0M1167.0 212.5h0M1166.8 240.1h0M1158.3 232.8h0M1196.6 205.5h0M1176.7 286.5h0M1140.7 183.9h0M1190.2 258.4h0M1174.5 253.7h0M1184.3 249.6h0M1163.9 202.2h0M1181.7 264.7h0M1182.3 276.7h0M1172.6 254.3h0M1191.6 255.2h0M1170.2 251.8h0M1180.6 240.8h0M1174.8 254.8h0M1180.3 248.9h0M1161.4 219.0h0M1178.9 295.9h0M1162.4 227.0h0M1158.9 189.1h0M1194.2 260.3h0M1167.0 296.8h0M1172.8 191.2h0M1120.0 172.4h0M1163.8 224.2h0M1180.5 216.7h0M1173.2 197.2h0M1173.0 217.1h0M1163.7 239.5h0M1162.9 208.7h0M1176.2 250.8h0M1160.2 238.0h0M1161.1 235.0h0M1151.8 191.1h0M1188.2 283.0h0M1180.0 259.9h0M1171.5 253.4h0M1159.7 222.7h0M1165.6 322.9h0M1185.4 279.1h0M1162.4 295.3h0M1178.1 252.8h0M1184.6 259.0h0M1184.1 271.4h0M1180.8 217.7h0M1171.6 214.0h0M1190.2 284.9h0M1160.2 223.4h0M1141.6 172.4h0M1163.2 243.6h0M1160.8 297.3h0M1159.8 239.6h0M1176.0 253.7h0M1140.9 300.6h0M1166.4 196.7h0M1163.1 202.4h0M1120.4 169.8h0M1163.9 229.0h0M1153.3 194.1h0M1176.9 254.3h0M1166.9 226.2h0M1173.9 186.8h0M1186.5 278.1h0M1180.1 283.6h0M1152.3 301.0h0M1161.1 229.9h0M1187.1 251.8h0M1187.9 262.0h0M1172.2 298.5h0M1169.3 305.5h0M1159.2 226.1h0M1163.3 207.9h0M1163.5 217.4h0M1187.7 215.4h0M1180.3 286.2h0M1187.5 260.1h0M1152.7 192.5h0M1191.4 260.1h0M1183.0 266.8h0M1169.8 247.4h0M1191.1 279.5h0M1143.2 183.1h0M1189.3 270.9h0M1146.4 180.0h0M1162.9 297.1h0M1169.1 251.4h0M1192.8 295.5h0M1157.4 196.5h0M1169.3 204.6h0M1174.4 295.3h0M1161.6 186.8h0M1159.4 224.1h0M1184.3 287.7h0M1160.3 296.9h0M1158.6 195.8h0M1144.1 181.6h0M1185.5 260.6h0M1163.6 208.3h0M1160.6 220.3h0M1146.8 178.7h0M1159.3 229.7h0M1177.6 292.8h0M1195.6 254.1h0M1136.3 172.3h0M1154.1 183.7h0M1152.1 300.3h0M1185.8 261.9h0M1165.3 201.4h0M1187.4 259.6h0M1183.1 289.8h0M1177.4 294.4h0M1184.4 264.1h0M1166.5 195.7h0M1162.7 296.4h0M1186.9 268.1h0M1172.3 293.9h0M1178.2 245.0h0M1164.6 298.3h0M1179.5 290.6h0M1177.7 225.7h0M1161.4 198.0h0M1182.3 259.7h0M1168.9 206.0h0M1160.8 228.5h0M1173.3 209.1h0M1161.7 235.1h0M1167.9 228.6h0M1191.9 273.2h0M1190.0 258.3h0M1169.7 200.3h0M1183.0 264.7h0M1179.6 282.7h0M1162.7 243.3h0M1129.8 173.8h0M1187.4 289.2h0M1187.5 277.1h0M1154.9 181.6h0M1162.9 217.0h0M1183.0 284.4h0M1182.4 262.2h0M1163.2 195.9h0M1160.5 227.9h0M1148.6 176.4h0M1158.9 300.1h0M1179.1 287.6h0M1168.9 212.8h0M1173.2 238.6h0M1193.2 281.3h0M1172.9 250.6h0M1152.8 188.7h0M1189.9 287.4h0M1183.2 275.9h0M1138.2 170.5h0M1174.1 297.0h0M1165.3 245.0h0M1179.6 255.3h0M1205.6 269.4h0M1172.0 299.2h0M1170.7 247.8h0M1169.3 213.7h0M1160.0 236.7h0M1157.5 298.4h0M1184.6 261.5h0M1172.2 251.7h0M1195.1 251.5h0M1174.2 246.2h0M1161.0 303.8h0M1134.0 307.0h0M1160.9 227.7h0M1125.4 160.9h0M1167.0 198.0h0M1162.7 214.4h0M1159.9 237.7h0M1184.6 269.4h0M1187.0 267.0h0M1169.4 245.7h0M1168.1 302.7h0M1162.4 190.2h0M1160.6 238.3h0M1178.3 291.6h0M1184.7 269.9h0M1183.8 251.7h0M1196.2 271.2h0M1111.8 164.4h0M1183.8 274.9h0M1172.1 248.7h0M1158.6 296.4h0M1167.5 201.5h0M1160.8 236.3h0M1182.7 309.7h0M1167.4 222.8h0M1190.1 269.5h0M1158.0 302.9h0M1171.1 251.3h0M1168.7 248.9h0M1168.6 249.9h0M1161.9 214.3h0M1168.9 249.4h0M1181.8 277.0h0M1167.7 247.2h0" stroke="#111" stroke-width="1.4" stroke-linecap="square"/>
<text x="5.0" y="466.7" font-size="58" font-weight="bold">b</text>
<text x="298.3" y="480.3" font-size="25.7" text-anchor="middle">Control IgG2a</text>
<line x1="113.4" y1="486.0" x2="113.4" y2="808.8" stroke="#000" stroke-width="2.2"/>
<line x1="112.7" y1="808.0" x2="435.1" y2="808.0" stroke="#000" stroke-width="2.2"/>
<line x1="105.4" y1="808.0" x2="113.4" y2="808.0" stroke="#000" stroke-width="2.2"/>
<text x="103.4" y="816.5" font-size="24" text-anchor="end">10</text>
<line x1="105.4" y1="688.0" x2="113.4" y2="688.0" stroke="#000" stroke-width="2.2"/>
<text x="103.4" y="696.5" font-size="24" text-anchor="end">100</text>
<line x1="105.4" y1="568.0" x2="113.4" y2="568.0" stroke="#000" stroke-width="2.2"/>
<text x="103.4" y="576.5" font-size="24" text-anchor="end">1000</text>
<line x1="108.9" y1="771.9" x2="113.4" y2="771.9" stroke="#000" stroke-width="1.6"/>
<line x1="108.9" y1="750.7" x2="113.4" y2="750.7" stroke="#000" stroke-width="1.6"/>
<line x1="108.9" y1="735.8" x2="113.4" y2="735.8" stroke="#000" stroke-width="1.6"/>
<line x1="108.9" y1="724.1" x2="113.4" y2="724.1" stroke="#000" stroke-width="1.6"/>
<line x1="108.9" y1="714.6" x2="113.4" y2="714.6" stroke="#000" stroke-width="1.6"/>
<line x1="108.9" y1="706.6" x2="113.4" y2="706.6" stroke="#000" stroke-width="1.6"/>
<line x1="108.9" y1="699.6" x2="113.4" y2="699.6" stroke="#000" stroke-width="1.6"/>
<line x1="108.9" y1="693.5" x2="113.4" y2="693.5" stroke="#000" stroke-width="1.6"/>
<line x1="108.9" y1="651.9" x2="113.4" y2="651.9" stroke="#000" stroke-width="1.6"/>
<line x1="108.9" y1="630.7" x2="113.4" y2="630.7" stroke="#000" stroke-width="1.6"/>
<line x1="108.9" y1="615.8" x2="113.4" y2="615.8" stroke="#000" stroke-width="1.6"/>
<line x1="108.9" y1="604.1" x2="113.4" y2="604.1" stroke="#000" stroke-width="1.6"/>
<line x1="108.9" y1="594.6" x2="113.4" y2="594.6" stroke="#000" stroke-width="1.6"/>
<line x1="108.9" y1="586.6" x2="113.4" y2="586.6" stroke="#000" stroke-width="1.6"/>
<line x1="108.9" y1="579.6" x2="113.4" y2="579.6" stroke="#000" stroke-width="1.6"/>
<line x1="108.9" y1="573.5" x2="113.4" y2="573.5" stroke="#000" stroke-width="1.6"/>
<line x1="108.9" y1="531.9" x2="113.4" y2="531.9" stroke="#000" stroke-width="1.6"/>
<line x1="108.9" y1="510.7" x2="113.4" y2="510.7" stroke="#000" stroke-width="1.6"/>
<line x1="108.9" y1="495.8" x2="113.4" y2="495.8" stroke="#000" stroke-width="1.6"/>
<line x1="113.4" y1="808.0" x2="113.4" y2="816.0" stroke="#000" stroke-width="2.2"/>
<text x="113.4" y="841.0" font-size="24" text-anchor="middle">0</text>
<line x1="177.6" y1="808.0" x2="177.6" y2="816.0" stroke="#000" stroke-width="2.2"/>
<text x="177.6" y="841.0" font-size="24" text-anchor="middle">5</text>
<line x1="241.8" y1="808.0" x2="241.8" y2="816.0" stroke="#000" stroke-width="2.2"/>
<text x="241.8" y="841.0" font-size="24" text-anchor="middle">10</text>
<line x1="306.0" y1="808.0" x2="306.0" y2="816.0" stroke="#000" stroke-width="2.2"/>
<text x="306.0" y="841.0" font-size="24" text-anchor="middle">15</text>
<line x1="370.2" y1="808.0" x2="370.2" y2="816.0" stroke="#000" stroke-width="2.2"/>
<text x="370.2" y="841.0" font-size="24" text-anchor="middle">20</text>
<line x1="434.4" y1="808.0" x2="434.4" y2="816.0" stroke="#000" stroke-width="2.2"/>
<text x="434.4" y="841.0" font-size="24" text-anchor="middle">25</text>
<text x="33.3" y="643.0" font-size="29.7" text-anchor="middle" transform="rotate(-90 33.3 643.0)">Tumor Volume (mm<tspan dy="-11" font-size="19">3</tspan><tspan dy="11">)</tspan></text>
<text x="274.0" y="864.0" font-size="29" text-anchor="middle">Day</text>
<polyline points="113.4,660.0 151.9,580.5 203.3,542.2 229.0,535.3" fill="none" stroke="#000" stroke-width="1.3"/>
<polyline points="113.4,655.0 151.9,585.3 203.3,545.7 229.0,540.2" fill="none" stroke="#000" stroke-width="1.3"/>
<polyline points="113.4,650.0 151.9,590.9 203.3,549.9 229.0,548.5" fill="none" stroke="#000" stroke-width="1.3"/>
<polyline points="113.4,645.0 151.9,595.0 203.3,563.1 229.0,554.1" fill="none" stroke="#000" stroke-width="1.3"/>
<polyline points="113.4,640.0 151.9,606.2 203.3,570.0 229.0,558.2" fill="none" stroke="#000" stroke-width="1.3"/>
<polyline points="113.4,665.0 151.9,619.4 203.3,581.2 229.0,574.2 254.6,560.3 293.2,535.3" fill="none" stroke="#000" stroke-width="1.3"/>
<polyline points="113.4,668.0 151.9,623.5 203.3,590.9 229.0,586.7 254.6,570.7 293.2,540.8" fill="none" stroke="#000" stroke-width="1.3"/>
<polyline points="113.4,670.0 151.9,628.4 203.3,595.7 229.0,593.7 254.6,584.6 293.2,549.9" fill="none" stroke="#000" stroke-width="1.3"/>
<polyline points="113.4,673.6 151.9,647.6 203.3,627.7 229.0,610.1 254.6,590.2 293.2,558.9" fill="none" stroke="#000" stroke-width="1.3"/>
<polyline points="113.4,642.0 151.9,633.3 203.3,590.9 229.0,586.7" fill="none" stroke="#000" stroke-width="1.3"/>
<polyline points="113.4,652.0 151.9,623.5 203.3,595.7" fill="none" stroke="#000" stroke-width="1.3"/>
<polyline points="113.4,636.0 151.9,606.2 203.3,581.2 229.0,574.2 254.6,570.7 293.2,540.8" fill="none" stroke="#000" stroke-width="1.3"/>
<circle cx="113.4" cy="660.0" r="6.00" fill="#000"/>
<circle cx="151.9" cy="580.5" r="6.00" fill="#000"/>
<circle cx="203.3" cy="542.2" r="6.00" fill="#000"/>
<circle cx="229.0" cy="535.3" r="6.00" fill="#000"/>
<circle cx="113.4" cy="655.0" r="6.00" fill="#000"/>
<circle cx="151.9" cy="585.3" r="6.00" fill="#000"/>
<circle cx="203.3" cy="545.7" r="6.00" fill="#000"/>
<circle cx="229.0" cy="540.2" r="6.00" fill="#000"/>
<circle cx="113.4" cy="650.0" r="6.00" fill="#000"/>
<circle cx="151.9" cy="590.9" r="6.00" fill="#000"/>
<circle cx="203.3" cy="549.9" r="6.00" fill="#000"/>
<circle cx="229.0" cy="548.5" r="6.00" fill="#000"/>
<circle cx="113.4" cy="645.0" r="6.00" fill="#000"/>
<circle cx="151.9" cy="595.0" r="6.00" fill="#000"/>
<circle cx="203.3" cy="563.1" r="6.00" fill="#000"/>
<circle cx="229.0" cy="554.1" r="6.00" fill="#000"/>
<circle cx="113.4" cy="640.0" r="6.00" fill="#000"/>
<circle cx="151.9" cy="606.2" r="6.00" fill="#000"/>
<circle cx="203.3" cy="570.0" r="6.00" fill="#000"/>
<circle cx="229.0" cy="558.2" r="6.00" fill="#000"/>
<circle cx="113.4" cy="665.0" r="6.00" fill="#000"/>
<circle cx="151.9" cy="619.4" r="6.00" fill="#000"/>
<circle cx="203.3" cy="581.2" r="6.00" fill="#000"/>
<circle cx="229.0" cy="574.2" r="6.00" fill="#000"/>
<circle cx="254.6" cy="560.3" r="6.00" fill="#000"/>
<circle cx="293.2" cy="535.3" r="6.00" fill="#000"/>
<circle cx="113.4" cy="668.0" r="6.00" fill="#000"/>
<circle cx="151.9" cy="623.5" r="6.00" fill="#000"/>
<circle cx="203.3" cy="590.9" r="6.00" fill="#000"/>
<circle cx="229.0" cy="586.7" r="6.00" fill="#000"/>
<circle cx="254.6" cy="570.7" r="6.00" fill="#000"/>
<circle cx="293.2" cy="540.8" r="6.00" fill="#000"/>
<circle cx="113.4" cy="670.0" r="6.00" fill="#000"/>
<circle cx="151.9" cy="628.4" r="6.00" fill="#000"/>
<circle cx="203.3" cy="595.7" r="6.00" fill="#000"/>
<circle cx="229.0" cy="593.7" r="6.00" fill="#000"/>
<circle cx="254.6" cy="584.6" r="6.00" fill="#000"/>
<circle cx="293.2" cy="549.9" r="6.00" fill="#000"/>
<circle cx="113.4" cy="673.6" r="6.00" fill="#000"/>
<circle cx="151.9" cy="647.6" r="6.00" fill="#000"/>
<circle cx="203.3" cy="627.7" r="6.00" fill="#000"/>
<circle cx="229.0" cy="610.1" r="6.00" fill="#000"/>
<circle cx="254.6" cy="590.2" r="6.00" fill="#000"/>
<circle cx="293.2" cy="558.9" r="6.00" fill="#000"/>
<circle cx="113.4" cy="642.0" r="6.00" fill="#000"/>
<circle cx="151.9" cy="633.3" r="6.00" fill="#000"/>
<circle cx="113.4" cy="652.0" r="6.00" fill="#000"/>
<circle cx="113.4" cy="636.0" r="6.00" fill="#000"/>
<text x="766.0" y="446.0" font-size="26" text-anchor="middle">aTIGIT IgG2a</text>
<text x="766.0" y="475.5" font-size="26" text-anchor="middle">+ aPD-L1</text>
<line x1="595.0" y1="485.0" x2="595.0" y2="807.5" stroke="#000" stroke-width="2.2"/>
<line x1="594.2" y1="806.7" x2="917.5" y2="806.7" stroke="#000" stroke-width="2.2"/>
<line x1="587.0" y1="806.7" x2="595.0" y2="806.7" stroke="#000" stroke-width="2.2"/>
<text x="585.0" y="815.2" font-size="24" text-anchor="end">10</text>
<line x1="587.0" y1="699.5" x2="595.0" y2="699.5" stroke="#000" stroke-width="2.2"/>
<text x="585.0" y="708.0" font-size="24" text-anchor="end">100</text>
<line x1="587.0" y1="592.3" x2="595.0" y2="592.3" stroke="#000" stroke-width="2.2"/>
<text x="585.0" y="600.8" font-size="24" text-anchor="end">1000</text>
<line x1="587.0" y1="485.1" x2="595.0" y2="485.1" stroke="#000" stroke-width="2.2"/>
<text x="585.0" y="493.6" font-size="24" text-anchor="end">10000</text>
<line x1="590.5" y1="774.4" x2="595.0" y2="774.4" stroke="#000" stroke-width="1.6"/>
<line x1="590.5" y1="755.6" x2="595.0" y2="755.6" stroke="#000" stroke-width="1.6"/>
<line x1="590.5" y1="742.2" x2="595.0" y2="742.2" stroke="#000" stroke-width="1.6"/>
<line x1="590.5" y1="731.8" x2="595.0" y2="731.8" stroke="#000" stroke-width="1.6"/>
<line x1="590.5" y1="723.3" x2="595.0" y2="723.3" stroke="#000" stroke-width="1.6"/>
<line x1="590.5" y1="716.1" x2="595.0" y2="716.1" stroke="#000" stroke-width="1.6"/>
<line x1="590.5" y1="709.9" x2="595.0" y2="709.9" stroke="#000" stroke-width="1.6"/>
<line x1="590.5" y1="704.4" x2="595.0" y2="704.4" stroke="#000" stroke-width="1.6"/>
<line x1="590.5" y1="667.2" x2="595.0" y2="667.2" stroke="#000" stroke-width="1.6"/>
<line x1="590.5" y1="648.4" x2="595.0" y2="648.4" stroke="#000" stroke-width="1.6"/>
<line x1="590.5" y1="635.0" x2="595.0" y2="635.0" stroke="#000" stroke-width="1.6"/>
<line x1="590.5" y1="624.6" x2="595.0" y2="624.6" stroke="#000" stroke-width="1.6"/>
<line x1="590.5" y1="616.1" x2="595.0" y2="616.1" stroke="#000" stroke-width="1.6"/>
<line x1="590.5" y1="608.9" x2="595.0" y2="608.9" stroke="#000" stroke-width="1.6"/>
<line x1="590.5" y1="602.7" x2="595.0" y2="602.7" stroke="#000" stroke-width="1.6"/>
<line x1="590.5" y1="597.2" x2="595.0" y2="597.2" stroke="#000" stroke-width="1.6"/>
<line x1="590.5" y1="560.0" x2="595.0" y2="560.0" stroke="#000" stroke-width="1.6"/>
<line x1="590.5" y1="541.2" x2="595.0" y2="541.2" stroke="#000" stroke-width="1.6"/>
<line x1="590.5" y1="527.8" x2="595.0" y2="527.8" stroke="#000" stroke-width="1.6"/>
<line x1="590.5" y1="517.4" x2="595.0" y2="517.4" stroke="#000" stroke-width="1.6"/>
<line x1="590.5" y1="508.9" x2="595.0" y2="508.9" stroke="#000" stroke-width="1.6"/>
<line x1="590.5" y1="501.7" x2="595.0" y2="501.7" stroke="#000" stroke-width="1.6"/>
<line x1="590.5" y1="495.5" x2="595.0" y2="495.5" stroke="#000" stroke-width="1.6"/>
<line x1="590.5" y1="490.0" x2="595.0" y2="490.0" stroke="#000" stroke-width="1.6"/>
<line x1="595.0" y1="806.7" x2="595.0" y2="814.7" stroke="#000" stroke-width="2.2"/>
<text x="595.0" y="839.7" font-size="24" text-anchor="middle">0</text>
<line x1="659.4" y1="806.7" x2="659.4" y2="814.7" stroke="#000" stroke-width="2.2"/>
<text x="659.4" y="839.7" font-size="24" text-anchor="middle">5</text>
<line x1="723.7" y1="806.7" x2="723.7" y2="814.7" stroke="#000" stroke-width="2.2"/>
<text x="723.7" y="839.7" font-size="24" text-anchor="middle">10</text>
<line x1="788.0" y1="806.7" x2="788.0" y2="814.7" stroke="#000" stroke-width="2.2"/>
<text x="788.0" y="839.7" font-size="24" text-anchor="middle">15</text>
<line x1="852.4" y1="806.7" x2="852.4" y2="814.7" stroke="#000" stroke-width="2.2"/>
<text x="852.4" y="839.7" font-size="24" text-anchor="middle">20</text>
<line x1="916.8" y1="806.7" x2="916.8" y2="814.7" stroke="#000" stroke-width="2.2"/>
<text x="916.8" y="839.7" font-size="24" text-anchor="middle">25</text>
<text x="503.3" y="641.7" font-size="29.7" text-anchor="middle" transform="rotate(-90 503.3 641.7)">Tumor Volume (mm<tspan dy="-11" font-size="19">3</tspan><tspan dy="11">)</tspan></text>
<text x="757.0" y="864.0" font-size="29" text-anchor="middle">Day</text>
<polyline points="595.0,656.0 633.6,613.2 685.1,569.5 710.8,570.2" fill="none" stroke="#000" stroke-width="1.3"/>
<polyline points="595.0,660.0 633.6,630.0 685.1,574.0 710.8,570.2" fill="none" stroke="#000" stroke-width="1.3"/>
<polyline points="595.0,663.0 633.6,635.0 685.1,578.0 710.8,571.0" fill="none" stroke="#000" stroke-width="1.3"/>
<polyline points="595.0,666.0 633.6,640.0 685.1,582.0" fill="none" stroke="#000" stroke-width="1.3"/>
<polyline points="595.0,669.0 633.6,625.7 685.1,586.0 710.8,600.7 736.6,602.8 775.2,591.9 813.8,595.4 878.1,588.4 916.8,588.1" fill="none" stroke="#000" stroke-width="1.3"/>
<polyline points="595.0,672.0 633.6,645.0 685.1,590.0 710.8,600.7 736.6,618.1 775.2,602.5 813.8,595.4" fill="none" stroke="#000" stroke-width="1.3"/>
<polyline points="595.0,675.0 633.6,650.0 685.1,598.6 710.8,618.1 736.6,618.1 775.2,614.3 813.8,648.6 878.1,677.5 916.8,669.6" fill="none" stroke="#000" stroke-width="1.3"/>
<polyline points="595.0,678.0 633.6,652.2 685.1,610.5 710.8,633.4 736.6,618.1 775.2,627.3 813.8,622.6 878.1,636.8 916.8,640.7" fill="none" stroke="#000" stroke-width="1.3"/>
<polyline points="595.0,681.0 633.6,640.0 685.1,622.3 710.8,642.4 736.6,640.3 775.2,636.0 813.8,608.4 878.1,577.7" fill="none" stroke="#000" stroke-width="1.3"/>
<polyline points="595.0,684.0 633.6,645.0 685.1,627.0 710.8,633.4 736.6,647.0 775.2,649.2 813.8,662.8 878.1,624.4 916.8,608.4" fill="none" stroke="#000" stroke-width="1.3"/>
<polyline points="595.0,687.0 633.6,650.0 685.1,632.0 710.8,657.0 736.6,653.0 775.2,640.3 813.8,677.5 878.1,777.4 916.8,751.4" fill="none" stroke="#000" stroke-width="1.3"/>
<polyline points="595.0,690.0 633.6,652.0 685.1,644.5 710.8,642.4 736.6,659.8 775.2,676.4 813.8,691.7 878.1,785.6" fill="none" stroke="#000" stroke-width="1.3"/>
<polyline points="595.0,658.0 633.6,680.0 685.1,665.4 710.8,657.0 736.6,659.8 775.2,695.9 813.8,727.2 878.1,766.1 916.8,727.2" fill="none" stroke="#000" stroke-width="1.3"/>
<polyline points="595.0,662.0 633.6,692.9 685.1,713.3 710.8,721.6 736.6,779.3" fill="none" stroke="#000" stroke-width="1.3"/>
<circle cx="595.0" cy="656.0" r="6.00" fill="#000"/>
<circle cx="633.6" cy="613.2" r="6.00" fill="#000"/>
<circle cx="685.1" cy="569.5" r="6.00" fill="#000"/>
<circle cx="710.8" cy="570.2" r="6.00" fill="#000"/>
<circle cx="595.0" cy="660.0" r="6.00" fill="#000"/>
<circle cx="633.6" cy="630.0" r="6.00" fill="#000"/>
<circle cx="685.1" cy="574.0" r="6.00" fill="#000"/>
<circle cx="595.0" cy="663.0" r="6.00" fill="#000"/>
<circle cx="633.6" cy="635.0" r="6.00" fill="#000"/>
<circle cx="685.1" cy="578.0" r="6.00" fill="#000"/>
<circle cx="710.8" cy="571.0" r="6.00" fill="#000"/>
<circle cx="595.0" cy="666.0" r="6.00" fill="#000"/>
<circle cx="633.6" cy="640.0" r="6.00" fill="#000"/>
<circle cx="685.1" cy="582.0" r="6.00" fill="#000"/>
<circle cx="595.0" cy="669.0" r="6.00" fill="#000"/>
<circle cx="633.6" cy="625.7" r="6.00" fill="#000"/>
<circle cx="685.1" cy="586.0" r="6.00" fill="#000"/>
<circle cx="710.8" cy="600.7" r="6.00" fill="#000"/>
<circle cx="736.6" cy="602.8" r="6.00" fill="#000"/>
<circle cx="775.2" cy="591.9" r="6.00" fill="#000"/>
<circle cx="813.8" cy="595.4" r="6.00" fill="#000"/>
<circle cx="878.1" cy="588.4" r="6.00" fill="#000"/>
<circle cx="916.8" cy="588.1" r="6.00" fill="#000"/>
<circle cx="595.0" cy="672.0" r="6.00" fill="#000"/>
<circle cx="633.6" cy="645.0" r="6.00" fill="#000"/>
<circle cx="685.1" cy="590.0" r="6.00" fill="#000"/>
<circle cx="736.6" cy="618.1" r="6.00" fill="#000"/>
<circle cx="775.2" cy="602.5" r="6.00" fill="#000"/>
<circle cx="595.0" cy="675.0" r="6.00" fill="#000"/>
<circle cx="633.6" cy="650.0" r="6.00" fill="#000"/>
<circle cx="685.1" cy="598.6" r="6.00" fill="#000"/>
<circle cx="710.8" cy="618.1" r="6.00" fill="#000"/>
<circle cx="775.2" cy="614.3" r="6.00" fill="#000"/>
<circle cx="813.8" cy="648.6" r="6.00" fill="#000"/>
<circle cx="878.1" cy="677.5" r="6.00" fill="#000"/>
<circle cx="916.8" cy="669.6" r="6.00" fill="#000"/>
<circle cx="595.0" cy="678.0" r="6.00" fill="#000"/>
<circle cx="633.6" cy="652.2" r="6.00" fill="#000"/>
<circle cx="685.1" cy="610.5" r="6.00" fill="#000"/>
<circle cx="710.8" cy="633.4" r="6.00" fill="#000"/>
<circle cx="775.2" cy="627.3" r="6.00" fill="#000"/>
<circle cx="813.8" cy="622.6" r="6.00" fill="#000"/>
<circle cx="878.1" cy="636.8" r="6.00" fill="#000"/>
<circle cx="916.8" cy="640.7" r="6.00" fill="#000"/>
<circle cx="595.0" cy="681.0" r="6.00" fill="#000"/>
<circle cx="685.1" cy="622.3" r="6.00" fill="#000"/>
<circle cx="710.8" cy="642.4" r="6.00" fill="#000"/>
<circle cx="736.6" cy="640.3" r="6.00" fill="#000"/>
<circle cx="775.2" cy="636.0" r="6.00" fill="#000"/>
<circle cx="813.8" cy="608.4" r="6.00" fill="#000"/>
<circle cx="878.1" cy="577.7" r="6.00" fill="#000"/>
<circle cx="595.0" cy="684.0" r="6.00" fill="#000"/>
<circle cx="685.1" cy="627.0" r="6.00" fill="#000"/>
<circle cx="736.6" cy="647.0" r="6.00" fill="#000"/>
<circle cx="775.2" cy="649.2" r="6.00" fill="#000"/>
<circle cx="813.8" cy="662.8" r="6.00" fill="#000"/>
<circle cx="878.1" cy="624.4" r="6.00" fill="#000"/>
<circle cx="916.8" cy="608.4" r="6.00" fill="#000"/>
<circle cx="595.0" cy="687.0" r="6.00" fill="#000"/>
<circle cx="685.1" cy="632.0" r="6.00" fill="#000"/>
<circle cx="710.8" cy="657.0" r="6.00" fill="#000"/>
<circle cx="736.6" cy="653.0" r="6.00" fill="#000"/>
<circle cx="775.2" cy="640.3" r="6.00" fill="#000"/>
<circle cx="813.8" cy="677.5" r="6.00" fill="#000"/>
<circle cx="878.1" cy="777.4" r="6.00" fill="#000"/>
<circle cx="916.8" cy="751.4" r="6.00" fill="#000"/>
<circle cx="595.0" cy="690.0" r="6.00" fill="#000"/>
<circle cx="685.1" cy="644.5" r="6.00" fill="#000"/>
<circle cx="736.6" cy="659.8" r="6.00" fill="#000"/>
<circle cx="775.2" cy="676.4" r="6.00" fill="#000"/>
<circle cx="813.8" cy="691.7" r="6.00" fill="#000"/>
<circle cx="878.1" cy="785.6" r="6.00" fill="#000"/>
<circle cx="595.0" cy="658.0" r="6.00" fill="#000"/>
<circle cx="633.6" cy="680.0" r="6.00" fill="#000"/>
<circle cx="685.1" cy="665.4" r="6.00" fill="#000"/>
<circle cx="775.2" cy="695.9" r="6.00" fill="#000"/>
<circle cx="813.8" cy="727.2" r="6.00" fill="#000"/>
<circle cx="878.1" cy="766.1" r="6.00" fill="#000"/>
<circle cx="916.8" cy="727.2" r="6.00" fill="#000"/>
<circle cx="595.0" cy="662.0" r="6.00" fill="#000"/>
<circle cx="633.6" cy="692.9" r="6.00" fill="#000"/>
<circle cx="685.1" cy="713.3" r="6.00" fill="#000"/>
<circle cx="710.8" cy="721.6" r="6.00" fill="#000"/>
<circle cx="736.6" cy="779.3" r="6.00" fill="#000"/>
<text x="1228.5" y="446.0" font-size="26" text-anchor="middle">aTIGIT IgG2a</text>
<text x="1232.5" y="475.5" font-size="26" text-anchor="middle">+ aPD-L1 + aCSF-1R</text>
<line x1="1065.0" y1="466.7" x2="1065.0" y2="789.0" stroke="#000" stroke-width="2.2"/>
<line x1="1064.2" y1="788.3" x2="1387.5" y2="788.3" stroke="#000" stroke-width="2.2"/>
<line x1="1057.0" y1="788.3" x2="1065.0" y2="788.3" stroke="#000" stroke-width="2.2"/>
<text x="1055.0" y="796.8" font-size="24" text-anchor="end">10</text>
<line x1="1057.0" y1="668.8" x2="1065.0" y2="668.8" stroke="#000" stroke-width="2.2"/>
<text x="1055.0" y="677.3" font-size="24" text-anchor="end">100</text>
<line x1="1057.0" y1="549.3" x2="1065.0" y2="549.3" stroke="#000" stroke-width="2.2"/>
<text x="1055.0" y="557.8" font-size="24" text-anchor="end">1000</text>
<line x1="1060.5" y1="752.3" x2="1065.0" y2="752.3" stroke="#000" stroke-width="1.6"/>
<line x1="1060.5" y1="731.3" x2="1065.0" y2="731.3" stroke="#000" stroke-width="1.6"/>
<line x1="1060.5" y1="716.4" x2="1065.0" y2="716.4" stroke="#000" stroke-width="1.6"/>
<line x1="1060.5" y1="704.8" x2="1065.0" y2="704.8" stroke="#000" stroke-width="1.6"/>
<line x1="1060.5" y1="695.3" x2="1065.0" y2="695.3" stroke="#000" stroke-width="1.6"/>
<line x1="1060.5" y1="687.3" x2="1065.0" y2="687.3" stroke="#000" stroke-width="1.6"/>
<line x1="1060.5" y1="680.4" x2="1065.0" y2="680.4" stroke="#000" stroke-width="1.6"/>
<line x1="1060.5" y1="674.3" x2="1065.0" y2="674.3" stroke="#000" stroke-width="1.6"/>
<line x1="1060.5" y1="632.8" x2="1065.0" y2="632.8" stroke="#000" stroke-width="1.6"/>
<line x1="1060.5" y1="611.8" x2="1065.0" y2="611.8" stroke="#000" stroke-width="1.6"/>
<line x1="1060.5" y1="596.9" x2="1065.0" y2="596.9" stroke="#000" stroke-width="1.6"/>
<line x1="1060.5" y1="585.3" x2="1065.0" y2="585.3" stroke="#000" stroke-width="1.6"/>
<line x1="1060.5" y1="575.8" x2="1065.0" y2="575.8" stroke="#000" stroke-width="1.6"/>
<line x1="1060.5" y1="567.8" x2="1065.0" y2="567.8" stroke="#000" stroke-width="1.6"/>
<line x1="1060.5" y1="560.9" x2="1065.0" y2="560.9" stroke="#000" stroke-width="1.6"/>
<line x1="1060.5" y1="554.8" x2="1065.0" y2="554.8" stroke="#000" stroke-width="1.6"/>
<line x1="1060.5" y1="513.3" x2="1065.0" y2="513.3" stroke="#000" stroke-width="1.6"/>
<line x1="1060.5" y1="492.3" x2="1065.0" y2="492.3" stroke="#000" stroke-width="1.6"/>
<line x1="1060.5" y1="477.4" x2="1065.0" y2="477.4" stroke="#000" stroke-width="1.6"/>
<line x1="1065.0" y1="788.3" x2="1065.0" y2="796.3" stroke="#000" stroke-width="2.2"/>
<text x="1065.0" y="821.3" font-size="24" text-anchor="middle">0</text>
<line x1="1129.3" y1="788.3" x2="1129.3" y2="796.3" stroke="#000" stroke-width="2.2"/>
<text x="1129.3" y="821.3" font-size="24" text-anchor="middle">5</text>
<line x1="1193.7" y1="788.3" x2="1193.7" y2="796.3" stroke="#000" stroke-width="2.2"/>
<text x="1193.7" y="821.3" font-size="24" text-anchor="middle">10</text>
<line x1="1258.0" y1="788.3" x2="1258.0" y2="796.3" stroke="#000" stroke-width="2.2"/>
<text x="1258.0" y="821.3" font-size="24" text-anchor="middle">15</text>
<line x1="1322.4" y1="788.3" x2="1322.4" y2="796.3" stroke="#000" stroke-width="2.2"/>
<text x="1322.4" y="821.3" font-size="24" text-anchor="middle">20</text>
<line x1="1386.8" y1="788.3" x2="1386.8" y2="796.3" stroke="#000" stroke-width="2.2"/>
<text x="1386.8" y="821.3" font-size="24" text-anchor="middle">25</text>
<text x="985.0" y="622.5" font-size="29.7" text-anchor="middle" transform="rotate(-90 985.0 622.5)">Tumor Volume (mm<tspan dy="-11" font-size="19">3</tspan><tspan dy="11">)</tspan></text>
<text x="1226.0" y="846.0" font-size="29" text-anchor="middle">Day</text>
<polyline points="1065.0,620.0 1103.6,578.0 1155.1,564.9 1180.8,554.5 1206.6,532.2" fill="none" stroke="#000" stroke-width="1.3"/>
<polyline points="1065.0,624.0 1103.6,573.9 1155.1,573.2 1180.8,563.5 1206.6,554.5 1245.2,554.9 1283.8,559.7 1348.1,545.5 1386.8,519.5" fill="none" stroke="#000" stroke-width="1.3"/>
<polyline points="1065.0,628.0 1103.6,585.7 1155.1,579.5 1180.8,575.3 1206.6,562.1 1245.2,564.4 1283.8,549.0 1348.1,520.1" fill="none" stroke="#000" stroke-width="1.3"/>
<polyline points="1065.0,632.0 1103.6,590.0 1155.1,584.0 1180.8,581.0 1206.6,578.1 1245.2,579.7 1283.8,604.0 1348.1,607.5 1386.8,601.6" fill="none" stroke="#000" stroke-width="1.3"/>
<polyline points="1065.0,636.0 1103.6,595.5 1155.1,592.0 1180.8,587.0 1206.6,583.0 1245.2,593.3 1283.8,613.4 1348.1,576.2 1386.8,531.9" fill="none" stroke="#000" stroke-width="1.3"/>
<polyline points="1065.0,640.0 1103.6,600.0 1155.1,597.0 1180.8,593.0 1206.6,588.0 1245.2,604.0 1283.8,621.7 1348.1,597.5 1386.8,585.6" fill="none" stroke="#000" stroke-width="1.3"/>
<polyline points="1065.0,644.0 1103.6,605.9 1155.1,601.0 1180.8,599.0 1206.6,594.0 1245.2,615.8 1283.8,604.0 1348.1,622.9 1386.8,608.1" fill="none" stroke="#000" stroke-width="1.3"/>
<polyline points="1065.0,648.0 1103.6,612.9 1155.1,604.5 1180.8,605.0 1206.6,600.0 1245.2,618.0 1283.8,621.7 1348.1,648.3 1386.8,641.8" fill="none" stroke="#000" stroke-width="1.3"/>
<polyline points="1065.0,614.2 1103.6,595.5 1155.1,618.4 1180.8,610.0 1206.6,606.0 1245.2,655.9 1283.8,640.0 1348.1,576.2 1386.8,549.0" fill="none" stroke="#000" stroke-width="1.3"/>
<polyline points="1065.0,652.0 1103.6,605.9 1155.1,597.0 1180.8,612.9 1206.6,611.5 1245.2,604.0 1283.8,640.0 1348.1,661.3 1386.8,651.2" fill="none" stroke="#000" stroke-width="1.3"/>
<polyline points="1065.0,655.0 1103.6,639.3 1155.1,640.6 1180.8,639.3 1206.6,637.9 1245.2,638.8 1283.8,666.6 1348.1,703.2" fill="none" stroke="#000" stroke-width="1.3"/>
<polyline points="1065.0,658.7 1103.6,649.0 1155.1,640.6 1180.8,642.0 1206.6,644.8 1245.2,663.0 1283.8,693.2 1348.1,723.9 1386.8,705.6" fill="none" stroke="#000" stroke-width="1.3"/>
<polyline points="1065.0,650.0 1103.6,649.0 1155.1,679.6 1180.8,710.0 1206.6,761.0 1245.2,787.7" fill="none" stroke="#000" stroke-width="1.3"/>
<polyline points="1065.0,646.0 1103.6,612.9 1155.1,618.4 1180.8,605.0 1206.6,606.0 1245.2,615.8 1283.8,640.0 1348.1,673.6 1386.8,700.8" fill="none" stroke="#000" stroke-width="1.3"/>
<circle cx="1065.0" cy="620.0" r="6.00" fill="#000"/>
<circle cx="1103.6" cy="578.0" r="6.00" fill="#000"/>
<circle cx="1155.1" cy="564.9" r="6.00" fill="#000"/>
<circle cx="1180.8" cy="554.5" r="6.00" fill="#000"/>
<circle cx="1206.6" cy="532.2" r="6.00" fill="#000"/>
<circle cx="1065.0" cy="624.0" r="6.00" fill="#000"/>
<circle cx="1103.6" cy="573.9" r="6.00" fill="#000"/>
<circle cx="1155.1" cy="573.2" r="6.00" fill="#000"/>
<circle cx="1180.8" cy="563.5" r="6.00" fill="#000"/>
<circle cx="1206.6" cy="554.5" r="6.00" fill="#000"/>
<circle cx="1245.2" cy="554.9" r="6.00" fill="#000"/>
<circle cx="1283.8" cy="559.7" r="6.00" fill="#000"/>
<circle cx="1348.1" cy="545.5" r="6.00" fill="#000"/>
<circle cx="1386.8" cy="519.5" r="6.00" fill="#000"/>
<circle cx="1065.0" cy="628.0" r="6.00" fill="#000"/>
<circle cx="1103.6" cy="585.7" r="6.00" fill="#000"/>
<circle cx="1155.1" cy="579.5" r="6.00" fill="#000"/>
<circle cx="1180.8" cy="575.3" r="6.00" fill="#000"/>
<circle cx="1206.6" cy="562.1" r="6.00" fill="#000"/>
<circle cx="1245.2" cy="564.4" r="6.00" fill="#000"/>
<circle cx="1283.8" cy="549.0" r="6.00" fill="#000"/>
<circle cx="1348.1" cy="520.1" r="6.00" fill="#000"/>
<circle cx="1065.0" cy="632.0" r="6.00" fill="#000"/>
<circle cx="1103.6" cy="590.0" r="6.00" fill="#000"/>
<circle cx="1155.1" cy="584.0" r="6.00" fill="#000"/>
<circle cx="1180.8" cy="581.0" r="6.00" fill="#000"/>
<circle cx="1206.6" cy="578.1" r="6.00" fill="#000"/>
<circle cx="1245.2" cy="579.7" r="6.00" fill="#000"/>
<circle cx="1283.8" cy="604.0" r="6.00" fill="#000"/>
<circle cx="1348.1" cy="607.5" r="6.00" fill="#000"/>
<circle cx="1386.8" cy="601.6" r="6.00" fill="#000"/>
<circle cx="1065.0" cy="636.0" r="6.00" fill="#000"/>
<circle cx="1103.6" cy="595.5" r="6.00" fill="#000"/>
<circle cx="1155.1" cy="592.0" r="6.00" fill="#000"/>
<circle cx="1180.8" cy="587.0" r="6.00" fill="#000"/>
<circle cx="1206.6" cy="583.0" r="6.00" fill="#000"/>
<circle cx="1245.2" cy="593.3" r="6.00" fill="#000"/>
<circle cx="1283.8" cy="613.4" r="6.00" fill="#000"/>
<circle cx="1348.1" cy="576.2" r="6.00" fill="#000"/>
<circle cx="1386.8" cy="531.9" r="6.00" fill="#000"/>
<circle cx="1065.0" cy="640.0" r="6.00" fill="#000"/>
<circle cx="1103.6" cy="600.0" r="6.00" fill="#000"/>
<circle cx="1155.1" cy="597.0" r="6.00" fill="#000"/>
<circle cx="1180.8" cy="593.0" r="6.00" fill="#000"/>
<circle cx="1206.6" cy="588.0" r="6.00" fill="#000"/>
<circle cx="1245.2" cy="604.0" r="6.00" fill="#000"/>
<circle cx="1283.8" cy="621.7" r="6.00" fill="#000"/>
<circle cx="1348.1" cy="597.5" r="6.00" fill="#000"/>
<circle cx="1386.8" cy="585.6" r="6.00" fill="#000"/>
<circle cx="1065.0" cy="644.0" r="6.00" fill="#000"/>
<circle cx="1103.6" cy="605.9" r="6.00" fill="#000"/>
<circle cx="1155.1" cy="601.0" r="6.00" fill="#000"/>
<circle cx="1180.8" cy="599.0" r="6.00" fill="#000"/>
<circle cx="1206.6" cy="594.0" r="6.00" fill="#000"/>
<circle cx="1245.2" cy="615.8" r="6.00" fill="#000"/>
<circle cx="1348.1" cy="622.9" r="6.00" fill="#000"/>
<circle cx="1386.8" cy="608.1" r="6.00" fill="#000"/>
<circle cx="1065.0" cy="648.0" r="6.00" fill="#000"/>
<circle cx="1103.6" cy="612.9" r="6.00" fill="#000"/>
<circle cx="1155.1" cy="604.5" r="6.00" fill="#000"/>
<circle cx="1180.8" cy="605.0" r="6.00" fill="#000"/>
<circle cx="1206.6" cy="600.0" r="6.00" fill="#000"/>
<circle cx="1245.2" cy="618.0" r="6.00" fill="#000"/>
<circle cx="1348.1" cy="648.3" r="6.00" fill="#000"/>
<circle cx="1386.8" cy="641.8" r="6.00" fill="#000"/>
<circle cx="1065.0" cy="614.2" r="6.00" fill="#000"/>
<circle cx="1155.1" cy="618.4" r="6.00" fill="#000"/>
<circle cx="1180.8" cy="610.0" r="6.00" fill="#000"/>
<circle cx="1206.6" cy="606.0" r="6.00" fill="#000"/>
<circle cx="1245.2" cy="655.9" r="6.00" fill="#000"/>
<circle cx="1283.8" cy="640.0" r="6.00" fill="#000"/>
<circle cx="1386.8" cy="549.0" r="6.00" fill="#000"/>
<circle cx="1065.0" cy="652.0" r="6.00" fill="#000"/>
<circle cx="1180.8" cy="612.9" r="6.00" fill="#000"/>
<circle cx="1206.6" cy="611.5" r="6.00" fill="#000"/>
<circle cx="1348.1" cy="661.3" r="6.00" fill="#000"/>
<circle cx="1386.8" cy="651.2" r="6.00" fill="#000"/>
<circle cx="1065.0" cy="655.0" r="6.00" fill="#000"/>
<circle cx="1103.6" cy="639.3" r="6.00" fill="#000"/>
<circle cx="1155.1" cy="640.6" r="6.00" fill="#000"/>
<circle cx="1180.8" cy="639.3" r="6.00" fill="#000"/>
<circle cx="1206.6" cy="637.9" r="6.00" fill="#000"/>
<circle cx="1245.2" cy="638.8" r="6.00" fill="#000"/>
<circle cx="1283.8" cy="666.6" r="6.00" fill="#000"/>
<circle cx="1348.1" cy="703.2" r="6.00" fill="#000"/>
<circle cx="1065.0" cy="658.7" r="6.00" fill="#000"/>
<circle cx="1103.6" cy="649.0" r="6.00" fill="#000"/>
<circle cx="1180.8" cy="642.0" r="6.00" fill="#000"/>
<circle cx="1206.6" cy="644.8" r="6.00" fill="#000"/>
<circle cx="1245.2" cy="663.0" r="6.00" fill="#000"/>
<circle cx="1283.8" cy="693.2" r="6.00" fill="#000"/>
<circle cx="1348.1" cy="723.9" r="6.00" fill="#000"/>
<circle cx="1386.8" cy="705.6" r="6.00" fill="#000"/>
<circle cx="1065.0" cy="650.0" r="6.00" fill="#000"/>
<circle cx="1155.1" cy="679.6" r="6.00" fill="#000"/>
<circle cx="1180.8" cy="710.0" r="6.00" fill="#000"/>
<circle cx="1206.6" cy="761.0" r="6.00" fill="#000"/>
<circle cx="1245.2" cy="787.7" r="6.00" fill="#000"/>
<circle cx="1065.0" cy="646.0" r="6.00" fill="#000"/>
<circle cx="1348.1" cy="673.6" r="6.00" fill="#000"/>
<circle cx="1386.8" cy="700.8" r="6.00" fill="#000"/>
<g filter="url(#soft)">
<path d="M98.3,1053.3 L106.7,1051.7 L116.7,1048.3 L126.7,1051.7 L130.0,1065.0 L135.0,1073.3 L150.0,1080.0 L153.3,1088.3 L150.0,1100.0 L143.3,1108.3 L130.0,1111.7 L116.7,1114.2 L105.0,1115.0 L98.3,1108.3 L96.7,1095.0 L96.7,1078.3Z" fill="#fbf1a6" fill-opacity="0.85"/>
<path d="M151.7,1050.0 L160.0,1051.7 L166.7,1061.7 L173.3,1080.0 L180.0,1100.0 L186.7,1113.3 L196.7,1125.0 L206.7,1133.3 L213.3,1136.7 L211.7,1145.0 L203.3,1146.7 L195.0,1141.7 L185.0,1131.7 L176.7,1120.0 L166.7,1108.3 L156.7,1100.0 L151.7,1086.7 L150.0,1070.0Z" fill="#f28a38" fill-opacity="0.85"/>
<path d="M190.0,1051.7 L195.0,1053.3 L203.3,1066.7 L211.7,1080.0 L216.7,1093.3 L220.0,1108.3 L220.8,1125.0 L218.3,1136.7 L213.3,1136.7 L213.3,1123.3 L213.3,1108.3 L210.0,1095.0 L205.0,1081.7 L198.3,1068.3 L191.7,1058.3Z" fill="#f28a38" fill-opacity="0.85"/>
<path d="M220.0,1148.3 L225.0,1147.5 L228.3,1153.3 L226.7,1156.7 L221.7,1153.3Z" fill="#f28a38" fill-opacity="0.85"/>
<path d="M119.2,990.0 L125.0,983.3 L131.7,980.0 L140.0,981.7 L146.7,986.7 L156.7,993.3 L161.7,1003.3 L160.0,1013.3 L158.3,1023.3 L160.0,1036.7 L158.3,1046.7 L153.3,1053.3 L146.7,1058.3 L143.3,1063.3 L140.0,1065.0 L133.3,1060.0 L126.7,1053.3 L121.7,1045.0 L120.0,1036.7 L118.3,1026.7 L117.5,1013.3 L118.3,1000.0Z" fill="#ef5b34" fill-opacity="0.85"/>
<path d="M161.7,980.0 L166.7,975.8 L173.3,977.5 L178.3,986.7 L181.7,993.3 L183.3,1006.7 L180.0,1013.3 L173.3,1013.3 L166.7,1010.0 L161.7,1003.3 L160.0,993.3Z" fill="#f5a444" fill-opacity="0.85"/>
<path d="M158.3,1020.0 L166.7,1016.7 L176.7,1018.3 L183.3,1023.3 L185.0,1033.3 L183.3,1043.3 L178.3,1050.0 L173.3,1061.7 L170.0,1066.7 L166.7,1060.0 L161.7,1051.7 L158.3,1043.3 L156.7,1033.3Z" fill="#e2271e" fill-opacity="0.85"/>
<path d="M101.7,1023.3 L105.0,1016.7 L110.8,1015.8 L113.3,1023.3 L110.0,1030.0 L104.2,1030.8Z" fill="#f8d45c" fill-opacity="0.85"/>
<path d="M245.8,950.0 L250.0,950.0 L250.8,970.0 L250.0,990.0 L251.7,1000.0 L247.5,1001.7 L245.0,990.0 L244.2,970.0Z" fill="#f9cfa0" fill-opacity="0.85"/>
<path d="M260.0,1001.7 L266.7,1000.0 L273.3,1005.0 L275.0,1013.3 L273.3,1023.3 L270.0,1036.7 L265.0,1040.0 L261.7,1030.0 L260.0,1020.0 L259.2,1010.0Z" fill="#c9c6e3" fill-opacity="0.85"/>
<path d="M266.7,998.3 L275.0,993.3 L286.7,986.7 L293.3,985.0 L296.7,990.0 L300.0,996.7 L298.3,1000.0 L295.0,998.3 L290.0,1001.7 L285.0,1010.0 L281.7,1016.7 L279.2,1018.3 L278.3,1010.0 L273.3,1001.7Z" fill="#4a1c8c" fill-opacity="0.85"/>
<path d="M240.0,1020.0 L246.7,1015.0 L255.0,1008.3 L260.0,1013.3 L261.7,1026.7 L263.3,1040.0 L266.7,1053.3 L271.7,1063.3 L280.0,1070.0 L290.0,1066.7 L295.0,1073.3 L296.7,1086.7 L298.3,1103.3 L296.7,1113.3 L286.7,1116.7 L275.0,1115.0 L271.7,1106.7 L273.3,1095.0 L270.0,1083.3 L263.3,1070.0 L258.3,1060.0 L255.0,1050.0 L246.7,1036.7 L241.7,1028.3Z" fill="#5db763" fill-opacity="0.85"/>
<path d="M271.7,1080.0 L283.3,1075.8 L295.0,1080.0 L298.3,1095.0 L298.3,1111.7 L288.3,1116.7 L275.0,1115.0 L271.7,1103.3Z" fill="#2e9a4a" fill-opacity="0.85"/>
<path d="M232.5,1036.7 L240.0,1031.7 L246.7,1033.3 L251.7,1041.7 L248.3,1051.7 L241.7,1053.3 L236.7,1060.0 L234.2,1050.0Z" fill="#d67e1e" fill-opacity="0.85"/>
<path d="M238.3,1126.7 L245.0,1115.0 L256.7,1110.0 L266.7,1105.0 L275.0,1110.0 L280.0,1120.0 L277.5,1131.7 L263.3,1141.7 L253.3,1147.5 L243.3,1146.7 L238.3,1140.0Z M245.0,1135.0 L246.7,1125.0 L253.3,1119.2 L263.3,1114.2 L273.3,1115.3 L277.0,1122.5 L273.3,1130.8 L261.7,1138.7 L251.7,1143.0 L245.8,1140.3Z" fill="#9ecae1" fill-rule="evenodd" fill-opacity="0.9"/>
</g>
<path d="M95.9 1101.9h0M150.3 1079.4h0M98.6 1090.7h0M96.6 1099.1h0M125.6 1047.4h0M99.8 1056.7h0M98.0 1074.2h0M150.9 1079.9h0M128.6 1058.6h0M152.9 1092.7h0M114.8 1047.2h0M130.7 1064.4h0M97.8 1095.7h0M99.8 1058.5h0M111.9 1048.4h0M96.7 1098.9h0M113.7 1049.8h0M98.5 1101.7h0M143.8 1107.2h0M97.1 1091.1h0M96.6 1081.4h0M122.5 1051.0h0M152.8 1098.7h0M98.4 1103.6h0M97.2 1102.2h0M97.4 1097.0h0M135.7 1070.3h0M133.8 1111.2h0M146.1 1104.2h0M98.3 1079.0h0M95.9 1094.0h0M139.3 1079.2h0M98.5 1081.4h0M154.5 1089.8h0M152.4 1101.8h0M109.3 1047.4h0M142.5 1073.2h0M116.6 1049.8h0M95.1 1089.0h0M103.2 1054.2h0M126.5 1053.7h0M104.8 1050.5h0M113.7 1110.7h0M93.8 1094.6h0M138.8 1075.2h0M98.1 1056.9h0M108.5 1113.6h0M109.7 1051.8h0M122.4 1113.3h0M96.2 1082.4h0M96.7 1082.0h0M119.0 1113.4h0M136.5 1112.4h0M107.4 1051.5h0M97.7 1109.8h0M101.2 1115.1h0M131.5 1068.0h0M93.3 1080.8h0M130.7 1065.5h0M149.5 1092.6h0M98.7 1103.7h0M144.4 1079.1h0M104.1 1113.7h0M96.8 1104.0h0M121.6 1111.3h0M98.0 1091.9h0M128.0 1057.8h0M154.5 1091.3h0M137.9 1075.0h0M130.2 1065.1h0M125.0 1053.5h0M98.9 1107.4h0M117.1 1113.9h0M95.2 1078.3h0M126.9 1112.0h0M129.6 1060.5h0M100.3 1057.8h0M118.6 1049.4h0M117.6 1113.9h0M148.2 1079.5h0M143.0 1107.4h0M97.1 1052.1h0M96.4 1090.3h0M152.8 1093.1h0M98.0 1105.8h0M149.4 1104.3h0M118.9 1049.6h0M127.8 1062.1h0M98.1 1056.0h0M112.2 1048.8h0M101.4 1111.5h0M153.9 1087.3h0M114.7 1045.3h0M116.4 1046.3h0M103.2 1054.5h0M142.6 1076.7h0M151.2 1081.9h0M133.5 1069.7h0M150.5 1085.5h0M98.6 1063.9h0M114.4 1047.2h0M150.3 1096.9h0M124.6 1111.5h0M102.0 1059.9h0M104.5 1114.7h0M149.5 1098.6h0M147.3 1081.2h0M107.2 1113.4h0M154.5 1083.2h0M99.0 1106.0h0M101.0 1051.0h0M112.9 1114.9h0M94.9 1081.8h0M93.8 1090.2h0M113.7 1047.5h0M127.7 1061.3h0M139.9 1109.3h0M132.6 1067.2h0M113.2 1112.8h0M152.2 1098.6h0M97.3 1095.9h0M139.5 1079.1h0M127.2 1051.5h0M139.4 1076.7h0M112.9 1048.3h0M140.5 1076.8h0M147.8 1083.7h0M98.6 1075.7h0M150.6 1087.3h0M97.2 1080.6h0M97.9 1065.5h0M99.0 1090.6h0M118.2 1052.0h0M109.9 1055.7h0M141.5 1107.2h0M95.3 1059.9h0M125.8 1059.6h0M113.1 1052.3h0M99.4 1103.2h0M127.4 1056.9h0M115.2 1117.7h0M108.8 1050.3h0M95.8 1095.4h0M98.6 1071.5h0M103.5 1055.2h0M99.0 1053.9h0M101.5 1112.9h0M108.9 1055.4h0M124.2 1057.1h0M132.5 1063.5h0M93.7 1092.4h0M149.1 1104.5h0M98.2 1083.7h0M97.1 1085.4h0M137.5 1109.6h0M110.1 1115.9h0M134.1 1069.4h0M143.3 1108.6h0M135.1 1108.8h0M96.2 1090.3h0M95.7 1087.1h0M141.7 1077.4h0M154.5 1085.9h0M114.6 1050.3h0M132.9 1068.3h0M99.9 1055.2h0M129.0 1056.8h0M96.7 1105.2h0M101.0 1104.5h0M116.5 1051.6h0M98.6 1107.8h0M138.4 1105.6h0M130.5 1113.1h0M127.7 1056.7h0M130.0 1065.4h0M126.0 1054.8h0M145.9 1108.9h0M121.2 1110.7h0M151.8 1094.3h0M95.3 1090.6h0M98.2 1087.0h0M115.8 1114.7h0M97.8 1099.2h0M97.8 1105.8h0" stroke="#fbf1a6" stroke-width="1.5" stroke-linecap="round" fill="none"/>
<path d="M186.2 1133.6h0M176.0 1089.7h0M147.4 1062.0h0M197.5 1143.3h0M152.9 1053.0h0M185.4 1106.0h0M166.7 1063.6h0M203.1 1131.3h0M206.1 1145.3h0M200.9 1129.9h0M149.3 1088.3h0M185.2 1132.6h0M173.5 1116.0h0M174.9 1113.0h0M214.9 1141.9h0M149.5 1082.9h0M170.8 1111.5h0M174.6 1083.9h0M212.3 1143.6h0M179.2 1099.2h0M150.5 1053.9h0M198.3 1125.7h0M185.5 1135.8h0M213.4 1140.7h0M182.7 1106.4h0M172.6 1115.4h0M167.2 1057.8h0M190.8 1116.3h0M167.7 1076.9h0M153.0 1092.3h0M193.2 1120.5h0M210.4 1144.0h0M152.3 1054.9h0M180.4 1123.7h0M175.4 1089.9h0M214.9 1137.3h0M211.8 1135.9h0M195.6 1121.3h0M159.0 1099.6h0M166.7 1108.9h0M202.0 1146.5h0M152.6 1053.5h0M171.0 1068.3h0M197.9 1124.4h0M197.7 1140.4h0M171.6 1118.7h0M169.6 1076.0h0M159.8 1107.4h0M214.8 1144.3h0M178.0 1083.4h0M208.6 1134.3h0M197.0 1122.5h0M152.9 1082.9h0M170.2 1070.9h0M192.7 1116.3h0M154.8 1095.9h0M165.2 1058.2h0M149.5 1054.8h0M203.0 1131.5h0M173.7 1115.5h0M167.7 1065.7h0M183.9 1126.6h0M183.0 1131.8h0M154.7 1090.0h0M207.1 1143.0h0M180.7 1097.6h0M179.5 1100.6h0M166.1 1058.1h0M213.9 1137.5h0M177.6 1121.7h0M147.8 1072.8h0M167.4 1107.5h0M148.8 1068.3h0M169.8 1076.7h0M187.8 1134.0h0M167.8 1109.7h0M178.3 1099.6h0M186.2 1113.3h0M149.5 1077.3h0M167.1 1104.4h0M187.3 1117.2h0M163.0 1053.2h0M178.4 1093.1h0M178.6 1090.3h0M191.2 1135.8h0M211.2 1140.5h0M207.2 1144.5h0M203.8 1135.1h0M201.4 1128.4h0M166.9 1068.6h0M186.1 1115.6h0M190.6 1140.6h0M201.1 1146.0h0M176.3 1122.7h0M191.3 1120.4h0M197.4 1143.7h0M171.2 1075.2h0M174.1 1120.0h0M157.0 1097.5h0M166.2 1061.3h0M164.9 1106.0h0M172.3 1112.9h0M170.3 1069.7h0M191.7 1119.1h0M188.7 1112.7h0M179.0 1126.5h0M159.4 1099.4h0M210.1 1145.3h0M156.2 1090.5h0M156.4 1051.0h0M170.4 1072.8h0M163.7 1054.8h0M177.8 1096.1h0M202.2 1128.2h0M180.8 1119.7h0M191.9 1116.1h0M172.3 1077.2h0M210.9 1136.1h0M175.0 1090.2h0M151.8 1058.5h0M201.6 1129.3h0M182.7 1104.4h0M163.7 1056.7h0M153.6 1095.7h0M184.3 1105.1h0M154.7 1059.8h0M154.8 1088.6h0M159.1 1100.3h0M154.1 1051.4h0M203.5 1147.4h0M153.1 1084.6h0M165.9 1057.5h0M174.9 1081.3h0M160.4 1058.2h0M166.9 1106.8h0M155.6 1097.6h0M194.2 1122.7h0M210.8 1133.5h0M190.0 1117.1h0M180.7 1099.0h0M207.6 1132.1h0M210.2 1144.1h0M169.0 1066.3h0M193.6 1141.9h0M175.6 1115.7h0M188.5 1136.5h0M177.8 1091.1h0M204.6 1146.5h0M209.0 1136.4h0M161.1 1104.5h0M148.3 1065.5h0M204.8 1128.7h0M150.5 1070.5h0M169.1 1108.1h0M169.1 1111.2h0M215.1 1138.4h0M208.0 1144.6h0M214.1 1136.3h0M150.6 1057.5h0M188.6 1113.1h0M209.3 1146.7h0M166.0 1068.8h0M199.4 1141.4h0M172.2 1113.5h0M168.8 1067.0h0M177.4 1085.2h0M149.3 1079.0h0M152.1 1077.8h0M150.1 1049.8h0M152.6 1097.6h0M152.6 1053.6h0M154.4 1090.1h0M195.3 1120.0h0M153.2 1099.8h0M176.8 1119.6h0M197.0 1141.5h0M190.2 1132.9h0M164.8 1061.5h0M152.0 1092.2h0M183.0 1107.0h0M213.4 1137.6h0M203.5 1125.4h0M187.3 1131.8h0M184.9 1126.7h0M175.7 1097.3h0M175.1 1088.9h0M150.7 1077.2h0M170.0 1074.8h0M192.7 1122.0h0M195.0 1144.6h0M164.3 1106.9h0M150.6 1073.8h0M191.6 1117.2h0M168.8 1108.5h0M196.1 1124.8h0M172.0 1113.9h0M189.6 1113.8h0M205.4 1144.6h0M206.3 1131.4h0M194.3 1137.9h0M207.1 1147.5h0M199.2 1146.6h0M182.6 1128.0h0M173.8 1117.2h0M172.4 1117.4h0M168.1 1105.8h0M170.9 1076.3h0M211.3 1147.2h0M175.1 1088.2h0M166.2 1110.7h0M168.8 1109.8h0M158.4 1105.2h0M152.3 1093.8h0M186.0 1133.7h0M203.1 1132.7h0M175.9 1101.5h0M173.5 1078.9h0M151.4 1085.1h0M150.3 1075.9h0M175.1 1084.7h0M176.0 1088.3h0" stroke="#f28a38" stroke-width="1.5" stroke-linecap="round" fill="none"/>
<path d="M197.4 1057.5h0M211.3 1091.1h0M210.8 1073.7h0M221.0 1118.7h0M189.5 1054.6h0M213.8 1123.3h0M188.8 1051.6h0M213.1 1115.8h0M191.5 1057.5h0M214.6 1115.0h0M196.3 1067.2h0M198.0 1067.0h0M194.0 1063.2h0M198.1 1077.0h0M211.4 1095.0h0M209.3 1092.9h0M201.4 1058.4h0M222.1 1124.3h0M198.9 1067.3h0M205.9 1076.2h0M196.7 1067.4h0M217.6 1115.3h0M218.2 1116.2h0M205.3 1072.3h0M214.0 1118.7h0M201.8 1074.7h0M205.3 1067.0h0M213.2 1127.7h0M208.1 1094.6h0M212.4 1107.0h0M214.9 1121.6h0M212.2 1122.6h0M195.3 1062.1h0M222.8 1107.6h0M215.1 1114.1h0M191.5 1053.8h0M220.7 1128.6h0M204.6 1064.9h0M201.1 1076.7h0M192.3 1056.4h0M211.7 1097.1h0M198.6 1067.6h0M219.9 1128.7h0M212.6 1099.1h0M223.5 1119.2h0M204.7 1080.0h0M222.1 1128.1h0M220.8 1110.0h0M211.4 1120.2h0M219.1 1126.5h0M203.9 1073.0h0M218.9 1097.8h0M207.7 1076.3h0M211.8 1089.7h0M197.6 1069.2h0M213.5 1078.0h0M214.2 1087.1h0M212.6 1118.3h0M211.5 1090.0h0M214.1 1136.5h0M202.3 1073.5h0M210.8 1113.0h0M223.2 1119.1h0M197.1 1068.7h0M218.4 1099.1h0M213.9 1085.0h0M211.4 1078.8h0M216.0 1140.4h0M215.2 1083.6h0M218.3 1107.1h0M201.7 1067.8h0M221.6 1106.8h0M221.5 1121.4h0M196.1 1072.2h0M210.9 1102.7h0M210.9 1122.8h0M218.9 1113.1h0M213.7 1127.2h0M218.6 1092.0h0M195.8 1054.5h0M204.9 1082.9h0M213.8 1124.8h0M217.3 1105.2h0M213.2 1078.6h0M190.0 1051.3h0M208.9 1085.3h0M210.0 1132.6h0M211.2 1070.1h0M211.2 1100.2h0M208.8 1071.2h0M204.0 1079.8h0M199.9 1068.6h0M193.1 1057.1h0M220.3 1118.0h0M195.6 1056.9h0M214.7 1113.1h0M220.1 1116.9h0M208.5 1089.2h0M216.4 1096.4h0M216.1 1090.7h0M204.1 1067.1h0M196.9 1056.2h0M221.5 1110.0h0M221.4 1126.3h0M217.2 1103.7h0M192.9 1058.2h0M203.4 1093.5h0M212.0 1097.5h0M209.1 1082.4h0M201.5 1069.4h0M211.3 1084.3h0M206.6 1082.8h0M206.4 1076.0h0M213.1 1078.4h0M203.1 1068.7h0M210.0 1097.9h0M208.1 1101.4h0M197.1 1053.7h0M213.7 1127.2h0M196.8 1069.9h0M195.8 1065.1h0M191.8 1048.1h0M191.2 1055.1h0M197.6 1056.2h0M220.0 1115.0h0M223.4 1107.3h0M219.6 1102.1h0M195.7 1050.4h0M212.6 1103.5h0M208.0 1127.7h0M209.4 1097.7h0M211.8 1120.9h0M196.1 1061.0h0M217.0 1134.6h0M219.9 1131.4h0M219.0 1127.7h0M197.9 1073.0h0M212.2 1113.0h0M215.9 1110.5h0M221.9 1125.1h0M202.4 1081.9h0M215.4 1083.6h0M216.0 1096.0h0M213.9 1112.2h0M217.3 1092.7h0M206.3 1082.8h0M204.3 1068.0h0M219.3 1098.9h0M195.7 1052.9h0M215.8 1126.8h0M211.8 1098.9h0M200.0 1066.7h0M196.2 1064.3h0M223.8 1126.8h0M212.7 1129.5h0M208.3 1085.6h0M215.0 1116.6h0M211.3 1099.3h0M212.3 1116.6h0M193.9 1053.7h0M214.1 1125.5h0M214.9 1083.6h0M220.2 1119.6h0M211.8 1083.0h0M220.2 1111.6h0M209.2 1100.8h0M199.3 1059.2h0M193.4 1060.9h0M204.9 1068.2h0M213.9 1126.5h0M214.5 1115.1h0" stroke="#f28a38" stroke-width="1.5" stroke-linecap="round" fill="none"/>
<path d="M224.4 1153.4h0M228.2 1154.4h0M220.4 1152.9h0M229.1 1151.6h0M229.3 1145.1h0M223.9 1147.6h0M221.6 1145.7h0M226.2 1153.7h0M219.4 1151.3h0M227.2 1154.2h0M226.8 1157.9h0M226.9 1149.0h0M230.1 1158.3h0M229.1 1155.9h0M224.2 1151.6h0M222.8 1150.3h0M220.6 1153.7h0M222.6 1147.9h0M227.6 1153.7h0M224.4 1154.0h0M223.7 1144.7h0M222.2 1151.0h0M222.1 1148.4h0M223.0 1150.2h0" stroke="#f28a38" stroke-width="1.5" stroke-linecap="round" fill="none"/>
<path d="M125.4 982.5h0M124.5 1050.6h0M156.4 1048.9h0M131.3 982.4h0M161.0 1046.5h0M128.0 982.7h0M160.7 1000.7h0M160.6 1005.5h0M147.5 1055.6h0M115.7 1024.1h0M145.9 1061.7h0M133.1 1059.7h0M119.5 1012.4h0M159.1 1002.9h0M117.4 1004.2h0M157.2 1030.2h0M119.1 1013.1h0M139.8 981.2h0M125.4 983.2h0M143.0 983.5h0M122.9 1047.9h0M133.2 978.7h0M158.0 1035.5h0M152.5 991.9h0M146.2 988.3h0M131.0 983.4h0M157.8 1022.7h0M155.0 1051.6h0M148.6 990.3h0M117.1 1011.4h0M161.0 1013.2h0M123.1 1050.4h0M118.0 1027.5h0M135.4 983.1h0M142.5 1063.2h0M160.1 1027.9h0M129.4 1061.1h0M127.0 1051.7h0M124.3 1043.6h0M152.2 991.1h0M119.4 1018.0h0M158.6 1029.6h0M158.6 1020.0h0M160.3 1023.4h0M159.7 997.5h0M160.7 1013.1h0M159.9 1033.3h0M159.6 1029.0h0M115.8 1005.9h0M157.4 996.0h0M159.3 1019.4h0M140.5 1063.7h0M135.1 1066.2h0M137.3 982.0h0M154.1 1052.4h0M115.6 998.4h0M155.9 995.3h0M160.1 1041.4h0M158.4 1013.0h0M116.6 1004.8h0M160.9 1007.1h0M153.0 994.6h0M155.2 1047.8h0M125.2 1051.3h0M158.1 1048.5h0M117.2 1027.4h0M132.8 981.1h0M120.0 995.9h0M153.9 991.5h0M156.9 996.9h0M145.2 1062.1h0M156.7 1047.4h0M160.5 1025.2h0M157.0 1049.5h0M128.7 985.9h0M133.5 1057.7h0M161.3 1005.2h0M124.9 1047.2h0M129.3 981.5h0M121.2 986.4h0M116.4 1007.8h0M143.0 985.1h0M123.1 984.4h0M135.2 983.2h0M118.7 1041.3h0M133.5 978.0h0M119.0 1040.8h0M162.7 1010.2h0M150.9 1056.3h0M145.0 984.4h0M121.0 1038.8h0M159.3 1044.6h0M158.0 1015.2h0M155.7 1047.3h0M141.7 985.6h0M148.9 1059.4h0M116.4 1004.0h0M156.9 1031.1h0M117.8 1037.3h0M160.6 1000.9h0M119.1 1019.9h0M116.3 998.3h0M121.8 1033.8h0M120.0 987.6h0M136.6 1064.8h0M161.9 1040.2h0M126.6 1053.1h0M145.8 984.7h0M123.9 1050.8h0M113.9 1010.8h0M136.2 1060.9h0M122.9 1025.2h0M157.1 1027.9h0M118.0 1017.3h0M133.4 1060.0h0M117.1 1006.8h0M118.6 1004.5h0M127.2 1049.9h0M159.4 1025.8h0M158.1 1019.0h0M157.9 1010.5h0M151.3 989.0h0M162.2 1031.7h0M156.1 1039.9h0M138.0 1060.9h0M142.7 984.5h0M124.2 1049.5h0M120.1 993.1h0M150.6 1056.7h0M116.1 1003.3h0M122.8 1048.6h0M159.3 1048.1h0M116.7 1017.2h0M154.9 1051.6h0M152.4 1057.0h0M127.6 1052.4h0M151.1 989.2h0M153.5 993.7h0M156.7 991.9h0M128.9 1053.8h0M125.1 1053.6h0M153.6 1051.2h0M122.2 983.5h0M160.4 1009.4h0M116.8 1008.9h0M147.3 982.2h0M120.1 1029.7h0M121.1 988.4h0M157.1 1042.5h0M120.7 1014.6h0M163.5 1006.8h0M141.3 982.7h0M136.0 979.6h0M119.2 988.9h0M160.1 996.4h0M135.3 980.7h0M156.4 1029.2h0M120.8 1032.2h0M132.4 1060.4h0M158.6 1000.0h0M115.6 1009.8h0M119.2 993.0h0M119.1 1005.0h0M117.8 1026.9h0M159.8 1017.5h0M140.8 985.9h0M160.9 994.4h0M120.8 1005.4h0M161.9 1003.4h0M124.0 985.4h0M123.2 988.5h0M163.6 1012.1h0M142.1 1064.5h0M150.1 992.0h0M156.0 1026.7h0M160.1 1028.8h0M147.2 1057.8h0M115.4 1005.6h0M159.3 1047.3h0M123.5 1040.9h0M125.3 1051.1h0M116.0 1020.5h0M132.0 981.4h0M119.3 1023.5h0M161.0 1042.4h0M156.7 1044.0h0M132.5 978.7h0M121.4 996.7h0" stroke="#ef5b34" stroke-width="1.5" stroke-linecap="round" fill="none"/>
<path d="M170.2 1009.4h0M172.7 978.4h0M162.2 983.3h0M170.4 1009.1h0M176.1 990.6h0M166.6 976.5h0M183.8 995.9h0M175.1 978.5h0M160.7 1006.1h0M163.4 1000.9h0M166.2 976.9h0M184.3 1001.1h0M180.8 1012.0h0M181.0 1000.4h0M168.7 1010.5h0M184.7 1006.4h0M162.2 980.4h0M172.3 982.8h0M175.9 987.3h0M161.6 993.4h0M169.1 979.3h0M162.1 989.8h0M177.6 989.1h0M160.2 990.2h0M159.6 991.0h0M182.5 997.0h0M176.7 984.9h0M166.7 1013.4h0M172.4 978.5h0M184.2 999.2h0M158.5 994.5h0M178.0 1014.2h0M180.3 995.9h0M172.8 982.9h0M181.3 1014.1h0M174.4 978.2h0M177.4 1014.5h0M180.0 1012.7h0M182.2 993.9h0M178.3 989.1h0M169.7 977.5h0M161.4 1009.4h0M159.0 998.4h0M183.6 992.5h0M179.4 992.5h0M183.1 992.7h0M175.5 983.6h0M183.7 1006.3h0M163.2 976.4h0M185.3 1006.1h0M180.3 1009.4h0M182.0 1006.4h0M160.4 983.9h0M182.6 1009.5h0M181.5 984.3h0M165.1 1005.9h0M186.3 1006.2h0M179.1 987.9h0M173.7 981.9h0M171.4 974.5h0M177.3 978.0h0M164.6 980.5h0M160.1 1006.3h0M165.0 977.3h0M178.9 988.4h0M166.4 1009.5h0M183.3 1000.3h0M168.0 978.1h0M183.1 1002.0h0M172.8 982.2h0M183.8 1010.4h0M161.2 992.2h0M162.9 1005.7h0M171.8 1010.8h0M170.8 972.3h0M175.9 1015.4h0M175.1 1013.4h0M177.8 994.4h0M168.2 976.6h0M160.5 991.3h0M161.7 989.6h0M172.8 978.4h0M180.5 992.6h0M180.6 992.3h0M184.5 999.6h0M167.2 1011.3h0M160.3 1002.4h0M162.7 1000.5h0" stroke="#f5a444" stroke-width="1.5" stroke-linecap="round" fill="none"/>
<path d="M176.6 1018.7h0M161.1 1018.1h0M154.7 1035.4h0M155.1 1036.6h0M186.6 1033.5h0M160.2 1020.0h0M162.7 1016.6h0M176.0 1059.4h0M154.8 1033.2h0M179.1 1048.2h0M176.1 1021.6h0M156.6 1031.1h0M186.2 1043.5h0M185.9 1029.0h0M168.4 1069.4h0M178.5 1023.4h0M154.8 1036.4h0M166.1 1055.7h0M183.4 1033.2h0M170.3 1062.7h0M164.4 1053.9h0M163.9 1052.0h0M182.5 1024.8h0M186.1 1038.8h0M172.5 1062.4h0M159.9 1025.2h0M156.5 1043.2h0M158.3 1042.2h0M182.6 1021.0h0M161.2 1051.9h0M168.8 1015.8h0M177.8 1056.1h0M156.0 1018.6h0M163.4 1047.9h0M178.6 1022.3h0M184.9 1027.6h0M176.5 1019.3h0M186.6 1035.0h0M159.5 1029.2h0M157.0 1021.5h0M161.1 1056.5h0M167.4 1066.1h0M183.5 1024.9h0M174.2 1050.0h0M157.2 1029.1h0M161.3 1017.5h0M161.9 1047.7h0M162.9 1054.7h0M176.6 1054.8h0M166.2 1055.4h0M155.4 1025.1h0M182.4 1026.4h0M183.7 1026.8h0M171.2 1064.1h0M183.7 1043.3h0M161.0 1050.1h0M182.1 1027.4h0M186.0 1030.0h0M182.2 1027.3h0M183.8 1038.3h0M162.3 1048.7h0M169.7 1063.9h0M162.8 1053.2h0M182.4 1044.9h0M170.6 1065.2h0M184.6 1039.7h0M184.7 1030.2h0M174.7 1051.6h0M169.2 1016.8h0M164.1 1054.6h0M174.4 1055.6h0M178.1 1022.5h0M162.9 1017.3h0M181.9 1051.1h0M183.2 1029.0h0M176.6 1017.5h0M161.2 1051.2h0M164.4 1059.2h0M168.6 1061.7h0M175.3 1052.2h0M158.7 1032.0h0M162.4 1017.9h0M175.5 1054.0h0M172.4 1060.9h0M175.7 1059.3h0M178.4 1055.6h0M158.8 1041.0h0M157.1 1046.1h0M167.6 1065.3h0M163.4 1051.8h0M165.2 1017.3h0M166.6 1015.8h0M167.0 1057.8h0M181.4 1030.1h0M177.0 1019.3h0M162.6 1017.6h0M154.8 1026.0h0M157.8 1041.5h0M161.5 1044.4h0M177.5 1018.3h0M188.6 1034.2h0M182.7 1042.2h0M166.3 1057.9h0M166.8 1016.4h0M171.5 1065.9h0M174.7 1062.4h0M183.4 1030.1h0M179.3 1019.0h0M173.9 1018.3h0M157.9 1020.8h0M159.3 1045.4h0M168.3 1016.8h0" stroke="#e2271e" stroke-width="1.5" stroke-linecap="round" fill="none"/>
<path d="M109.2 1015.5h0M111.5 1018.0h0M112.2 1025.4h0M110.8 1031.8h0M102.9 1016.4h0M101.8 1021.7h0M110.6 1018.6h0M102.2 1032.8h0M101.4 1032.8h0M109.4 1031.6h0M109.5 1026.3h0M102.2 1025.2h0M106.1 1031.1h0M113.8 1019.7h0M101.5 1028.3h0M104.3 1018.3h0M101.1 1024.1h0M105.9 1027.5h0M105.1 1029.4h0M109.7 1025.3h0M107.7 1014.4h0M107.5 1018.1h0M108.2 1014.7h0M101.6 1022.5h0M111.5 1014.8h0M111.0 1016.8h0M115.9 1016.0h0M102.3 1027.3h0M111.0 1029.6h0M107.5 1017.8h0M103.5 1028.2h0M103.8 1023.2h0M105.4 1032.1h0M113.0 1017.1h0M103.8 1027.8h0M106.1 1021.4h0M113.5 1015.9h0M115.2 1023.7h0" stroke="#f8d45c" stroke-width="1.5" stroke-linecap="round" fill="none"/>
<path d="M246.3 981.0h0M252.8 967.9h0M246.3 979.2h0M243.7 971.6h0M246.1 951.3h0M251.2 972.5h0M249.0 970.1h0M243.8 949.7h0M248.7 969.5h0M244.9 952.0h0M245.9 981.0h0M252.4 994.6h0M250.4 977.9h0M246.8 998.1h0M244.6 964.7h0M253.5 958.0h0M248.8 964.9h0M251.8 983.4h0M249.3 999.6h0M246.6 956.0h0M250.0 954.8h0M245.7 973.4h0M251.4 958.6h0M249.7 952.3h0M251.9 976.2h0M245.5 983.0h0M247.3 998.9h0M252.4 997.1h0M250.0 963.3h0M248.0 993.9h0M244.4 960.9h0M245.1 953.3h0M245.3 954.2h0M249.0 986.1h0M251.7 977.9h0M246.8 969.8h0M248.4 970.2h0M244.8 973.0h0M252.4 969.4h0M243.2 971.7h0M246.6 961.2h0M240.9 977.6h0M247.3 950.2h0M248.6 990.0h0M244.0 998.3h0M242.9 1001.1h0M243.6 984.6h0M245.2 989.5h0M245.5 999.8h0M252.7 984.7h0M244.1 982.7h0M253.0 995.0h0M250.9 956.0h0M243.5 971.4h0M250.3 992.5h0M244.4 953.6h0M251.0 994.7h0M248.1 961.9h0M245.0 990.4h0M252.7 955.5h0M243.2 973.6h0M245.2 984.8h0M250.5 997.3h0M243.7 953.2h0M249.9 997.9h0M246.1 958.6h0M243.7 971.7h0M245.8 994.9h0M249.3 988.9h0M248.2 964.2h0M250.9 955.9h0M248.4 950.8h0M248.3 983.8h0M254.2 966.2h0M245.8 990.5h0M249.9 966.6h0M246.4 966.3h0M247.8 974.5h0M244.7 961.8h0M247.7 1001.5h0M247.4 962.2h0M246.4 986.4h0M245.8 959.0h0M243.7 949.7h0M248.8 973.7h0M251.9 991.3h0M243.9 987.3h0M245.6 976.0h0M249.0 987.4h0M249.8 1004.1h0M249.7 984.7h0M242.7 979.5h0M241.9 974.6h0M245.6 1000.0h0M247.5 948.5h0M249.4 956.9h0M249.7 996.5h0M246.1 999.7h0M244.7 989.2h0" stroke="#f9cfa0" stroke-width="1.5" stroke-linecap="round" fill="none"/>
<path d="M278.6 1016.9h0M273.3 1021.0h0M259.7 1007.2h0M270.4 1038.9h0M258.7 1031.1h0M261.4 1037.5h0M257.4 1004.1h0M275.4 1003.6h0M259.8 1014.9h0M271.4 1004.7h0M259.1 1027.5h0M262.2 1009.8h0M269.4 998.6h0M268.2 1001.7h0M257.0 1020.5h0M274.8 1013.5h0M263.9 1003.2h0M263.4 1033.9h0M276.0 1015.8h0M261.4 1028.5h0M273.3 1005.4h0M260.4 1000.8h0M276.0 1013.9h0M264.1 1037.5h0M262.3 1026.3h0M262.1 1017.5h0M257.5 1021.0h0M273.5 1023.5h0M260.6 1008.8h0M262.9 1000.9h0M274.4 1011.5h0M270.1 1006.0h0M272.6 1030.7h0M260.3 1016.3h0M260.0 1008.5h0M263.8 1001.9h0M274.5 1012.2h0M272.3 1011.7h0M272.8 1007.1h0M258.3 1007.9h0M270.9 1034.7h0M261.1 1005.6h0M262.2 1012.4h0M276.0 1010.0h0M260.5 1026.5h0M261.5 1033.8h0M259.8 1018.8h0M271.0 1028.5h0M270.5 1024.2h0M275.8 1019.9h0M272.3 1022.4h0M278.7 1014.1h0M259.4 1007.4h0M263.8 1035.1h0M275.0 1009.4h0M265.6 1000.6h0M265.1 1037.5h0M271.8 1015.6h0M262.1 1002.0h0M260.1 1021.9h0M260.9 1020.9h0M272.1 1024.6h0M262.0 1028.1h0M266.3 1039.8h0M259.3 1030.4h0M258.9 1002.6h0M262.9 1026.5h0M268.2 1034.8h0M270.3 1033.2h0M276.5 1014.0h0M259.2 1024.4h0M259.8 1032.4h0M272.4 1025.3h0M269.5 1030.5h0M264.7 1001.3h0M262.1 1002.5h0M276.4 1009.8h0M258.4 1019.9h0M258.6 1006.4h0M272.5 1029.0h0M269.3 1019.8h0M264.9 1038.3h0M268.8 998.6h0" stroke="#c9c6e3" stroke-width="1.5" stroke-linecap="round" fill="none"/>
<path d="M269.8 1002.8h0M293.9 983.8h0M287.0 986.0h0M274.7 995.6h0M278.9 1011.5h0M268.2 998.1h0M284.5 1007.5h0M268.1 996.5h0M281.2 1017.1h0M272.5 1001.8h0M287.7 1002.6h0M278.6 1018.8h0M268.5 996.7h0M288.5 998.8h0M279.0 1015.4h0M273.1 990.9h0M276.2 993.8h0M293.2 988.5h0M280.6 991.6h0M281.8 1010.9h0M271.5 1001.5h0M277.1 1010.8h0M280.5 1013.7h0M283.1 1008.9h0M283.5 1012.1h0M284.1 1012.0h0M267.9 996.0h0M297.6 1000.5h0M281.9 987.0h0M288.2 1005.2h0M289.4 998.4h0M274.9 1016.0h0M278.7 1011.4h0M289.3 1006.6h0M288.9 1007.4h0M274.5 996.9h0M283.1 1017.4h0M273.3 996.9h0M280.6 1015.2h0M301.0 995.0h0M286.7 1013.1h0M295.8 997.3h0M304.1 994.8h0M297.2 999.5h0M289.4 984.1h0M293.9 985.6h0M265.7 999.8h0M280.7 1015.0h0M296.1 988.5h0M280.0 1013.6h0M287.0 984.8h0M299.2 995.1h0M273.1 1001.4h0M296.0 985.7h0M274.9 994.6h0M285.1 988.1h0M293.1 999.2h0M280.4 1016.4h0M286.0 987.2h0M294.4 999.5h0M273.1 1001.2h0M296.7 986.5h0M279.0 1017.9h0M283.6 986.8h0M271.6 994.7h0M296.9 997.5h0M277.8 1012.8h0M291.0 983.6h0M269.7 994.8h0M264.1 999.7h0M289.4 1002.4h0M269.6 998.5h0M300.3 1000.2h0M276.6 1006.2h0M287.5 986.2h0M302.5 1001.4h0M272.4 991.5h0M289.6 1010.5h0M296.8 994.6h0M301.3 994.8h0M289.8 983.8h0M281.6 992.2h0M268.6 999.0h0M301.0 995.5h0M282.0 1015.8h0M277.5 1011.5h0M287.3 1007.2h0M269.4 999.5h0M275.5 992.0h0M286.9 1009.6h0M292.2 998.5h0M300.9 995.7h0" stroke="#4a1c8c" stroke-width="1.5" stroke-linecap="round" fill="none"/>
<path d="M294.5 1075.3h0M255.6 1009.2h0M274.0 1110.6h0M267.5 1080.8h0M240.2 1028.2h0M283.3 1069.4h0M247.7 1015.8h0M258.7 1051.7h0M294.9 1094.4h0M267.9 1081.0h0M263.3 1028.8h0M272.4 1088.7h0M279.7 1117.6h0M277.9 1071.9h0M242.9 1018.6h0M242.7 1029.7h0M265.2 1079.1h0M264.9 1051.7h0M264.3 1076.0h0M260.5 1035.1h0M295.4 1082.5h0M242.0 1036.0h0M255.8 1058.1h0M265.0 1080.7h0M269.7 1083.5h0M288.3 1064.0h0M261.8 1020.0h0M294.4 1069.1h0M255.5 1011.0h0M268.6 1061.2h0M266.8 1071.6h0M264.5 1040.3h0M274.1 1112.6h0M261.8 1045.0h0M248.6 1040.5h0M264.5 1055.2h0M254.2 1045.3h0M259.6 1011.4h0M248.1 1012.4h0M261.3 1036.1h0M264.3 1068.3h0M295.3 1075.9h0M244.8 1034.6h0M260.4 1062.7h0M256.0 1060.2h0M273.7 1113.9h0M274.7 1115.1h0M260.6 1027.1h0M298.1 1076.6h0M273.5 1067.7h0M263.8 1026.0h0M252.7 1010.4h0M265.6 1050.6h0M269.7 1060.4h0M266.3 1023.5h0M262.5 1024.8h0M285.4 1069.0h0M249.4 1038.5h0M273.9 1098.7h0M261.2 1012.9h0M242.9 1025.4h0M271.7 1099.4h0M293.2 1073.1h0M287.2 1067.4h0M300.0 1091.9h0M300.4 1101.4h0M281.2 1117.8h0M287.7 1114.6h0M262.9 1030.3h0M259.7 1059.2h0M294.6 1098.5h0M292.2 1074.1h0M255.5 1009.3h0M261.6 1033.0h0M250.1 1045.2h0M252.1 1044.8h0M262.4 1058.7h0M258.2 1009.2h0M273.6 1091.2h0M270.4 1082.8h0M269.5 1082.9h0M271.3 1099.3h0M259.4 1063.5h0M298.3 1108.8h0M273.3 1103.1h0M255.6 1048.9h0M272.4 1063.5h0M256.8 1063.8h0M260.9 1022.2h0M247.6 1012.1h0M299.1 1099.0h0M294.3 1114.4h0M287.7 1069.5h0M289.4 1117.3h0M249.9 1009.4h0M264.8 1074.1h0M263.1 1039.8h0M254.4 1053.7h0M249.4 1044.5h0M246.3 1017.7h0M293.7 1073.3h0M268.5 1054.0h0M276.9 1114.3h0M271.9 1064.1h0M260.1 1020.4h0M261.3 1021.8h0M251.0 1007.4h0M262.7 1040.9h0M250.7 1040.4h0M263.8 1040.7h0M255.8 1052.9h0M298.1 1092.3h0M264.2 1020.6h0M264.4 1069.7h0M262.1 1036.9h0M253.0 1043.6h0M297.4 1105.7h0M242.6 1031.3h0M301.2 1099.2h0M261.2 1014.7h0M291.7 1066.7h0M261.1 1064.6h0M272.8 1093.7h0M295.2 1114.9h0M242.1 1025.3h0M254.1 1050.8h0M254.7 1055.3h0M298.8 1094.2h0M243.8 1030.1h0M285.4 1070.6h0M260.3 1059.7h0M292.7 1112.2h0M264.0 1064.0h0M261.9 1035.6h0M264.7 1032.9h0M296.8 1090.0h0M289.6 1070.9h0M274.6 1069.8h0M294.7 1113.5h0M262.8 1043.2h0M250.6 1016.6h0M265.7 1072.3h0M262.6 1047.6h0M289.0 1069.7h0M265.7 1055.1h0M275.1 1066.5h0M257.5 1007.9h0M280.9 1066.6h0M251.6 1053.1h0M298.1 1096.8h0M263.2 1025.6h0M286.7 1067.5h0M240.9 1034.4h0M264.7 1072.5h0M298.3 1102.7h0M272.1 1092.9h0M259.2 1014.5h0M268.6 1078.7h0M296.8 1112.1h0M262.4 1031.2h0M268.1 1077.8h0M260.7 1034.2h0M257.4 1014.6h0M260.0 1020.5h0M270.3 1107.0h0M241.9 1021.6h0M300.0 1080.0h0M261.8 1074.2h0M296.6 1103.6h0M274.1 1066.9h0M297.8 1101.4h0M282.0 1069.1h0M271.5 1107.9h0M256.4 1049.6h0M270.6 1072.9h0M272.7 1065.0h0M261.4 1029.6h0M271.2 1110.2h0M272.8 1097.0h0M261.1 1019.3h0M263.6 1040.5h0M262.2 1020.4h0M244.1 1014.8h0M298.0 1103.6h0M256.7 1046.2h0M273.4 1097.3h0M297.2 1111.2h0M288.7 1068.3h0M253.9 1043.0h0M269.4 1085.1h0M241.4 1023.9h0M262.3 1014.4h0M272.4 1104.0h0M241.1 1027.1h0M244.9 1037.5h0M265.4 1035.9h0M273.6 1084.7h0M267.6 1027.3h0M251.0 1041.9h0M260.3 1016.0h0M297.0 1096.8h0M257.3 1013.5h0M258.9 1036.9h0M257.7 1057.7h0M258.4 1009.5h0M268.9 1056.3h0M265.1 1040.9h0M262.4 1053.6h0M246.7 1035.9h0M258.2 1017.4h0M262.9 1047.7h0M262.0 1026.3h0M259.2 1011.4h0M267.0 1107.4h0M287.7 1068.8h0M296.4 1106.8h0M263.5 1019.4h0M290.3 1070.0h0M262.8 1035.0h0M299.2 1099.6h0M258.8 1063.7h0M239.7 1023.4h0M282.4 1072.4h0M299.7 1112.3h0M295.1 1070.7h0M300.4 1091.4h0M265.2 1073.1h0M272.7 1111.4h0M295.2 1112.7h0M257.9 1063.5h0M280.1 1115.5h0M270.7 1062.0h0M274.7 1093.7h0M298.1 1090.9h0M258.1 1052.0h0M294.4 1114.5h0M261.0 1014.4h0M242.9 1034.7h0M259.4 1072.3h0M241.9 1026.3h0M246.6 1031.4h0M298.0 1083.4h0M284.1 1114.4h0M263.9 1055.5h0M259.3 1057.0h0M274.2 1089.4h0" stroke="#5db763" stroke-width="1.5" stroke-linecap="round" fill="none"/>
<path d="M297.5 1099.0h0M282.7 1116.8h0M276.0 1082.5h0M297.0 1095.8h0M266.0 1091.3h0M298.0 1103.6h0M276.6 1076.5h0M272.9 1102.1h0M280.6 1079.4h0M293.2 1083.9h0M282.9 1076.6h0M271.0 1095.8h0M270.9 1092.2h0M273.6 1095.5h0M298.4 1103.8h0M287.3 1113.5h0M276.1 1079.8h0M269.7 1080.8h0M278.3 1116.4h0M272.7 1092.6h0M270.3 1098.9h0M272.2 1102.8h0M271.0 1093.3h0M298.5 1089.2h0M280.8 1075.1h0M298.0 1101.8h0M284.9 1077.6h0M294.4 1086.7h0M294.6 1112.5h0M274.1 1115.6h0M297.5 1111.0h0M272.3 1093.7h0M268.8 1100.0h0M300.7 1112.0h0M270.8 1099.1h0M297.8 1113.0h0M291.4 1119.0h0M275.8 1108.9h0M281.3 1077.3h0M297.4 1086.7h0M271.8 1085.2h0M276.4 1114.0h0M274.2 1101.8h0M294.1 1080.8h0M269.2 1102.2h0M296.2 1079.2h0M301.0 1104.3h0M292.3 1080.9h0M295.6 1079.2h0M296.6 1092.8h0M273.4 1095.7h0M268.2 1096.5h0M295.7 1081.2h0M283.6 1117.3h0M270.0 1104.6h0M286.7 1115.9h0M271.1 1091.1h0M271.4 1096.2h0M297.6 1094.6h0M294.6 1102.4h0M270.1 1087.5h0M283.5 1115.6h0M274.7 1090.5h0M285.8 1114.6h0M269.6 1088.5h0M293.6 1080.5h0M298.7 1088.0h0M288.0 1077.5h0M296.7 1087.2h0M279.4 1075.7h0M270.0 1108.7h0M289.8 1078.6h0M280.4 1078.2h0M278.2 1074.8h0M296.4 1085.6h0M291.1 1079.6h0M273.3 1102.6h0M274.3 1107.2h0M269.8 1093.9h0M274.0 1081.8h0M287.0 1077.1h0M271.8 1083.7h0M297.3 1097.9h0M296.2 1109.7h0M281.9 1117.0h0M296.4 1094.3h0M270.2 1091.7h0M296.2 1108.4h0M269.9 1097.5h0M295.8 1105.1h0M270.9 1109.3h0M301.2 1108.5h0M269.3 1082.2h0M272.5 1088.2h0M271.8 1098.4h0M277.3 1114.9h0M283.9 1078.0h0M274.1 1101.5h0M286.7 1074.2h0M271.7 1083.3h0M276.3 1079.1h0M291.7 1112.2h0M298.4 1096.3h0M279.8 1077.7h0M279.5 1079.6h0" stroke="#2e9a4a" stroke-width="1.5" stroke-linecap="round" fill="none"/>
<path d="M242.0 1050.8h0M239.9 1059.0h0M247.0 1036.7h0M247.4 1039.9h0M233.2 1051.1h0M245.2 1052.9h0M235.1 1048.8h0M243.2 1054.5h0M252.0 1039.0h0M234.7 1037.8h0M250.0 1051.0h0M249.4 1050.1h0M245.2 1035.0h0M242.2 1052.0h0M241.5 1053.9h0M251.0 1050.4h0M236.8 1057.6h0M234.5 1046.1h0M231.3 1037.9h0M249.3 1038.5h0M230.7 1041.0h0M236.9 1059.5h0M236.0 1057.1h0M251.2 1049.4h0M243.0 1031.2h0M242.8 1052.5h0M247.2 1051.3h0M232.1 1037.1h0M233.6 1051.5h0M245.6 1033.3h0M244.8 1052.5h0M251.8 1041.6h0M244.9 1050.7h0M245.5 1053.9h0M236.5 1032.3h0M249.0 1049.9h0M248.7 1033.3h0M230.9 1043.0h0M239.6 1031.1h0M237.1 1053.7h0M234.4 1037.0h0M238.2 1058.5h0M250.2 1041.8h0M248.2 1047.3h0M236.0 1034.7h0M247.4 1034.6h0M237.2 1057.3h0M233.7 1048.2h0M242.0 1055.0h0M234.5 1056.6h0M233.4 1042.3h0M249.7 1043.0h0M244.6 1033.1h0M251.3 1041.9h0M253.7 1040.4h0M239.0 1056.9h0M248.1 1040.2h0M250.2 1045.3h0M253.6 1041.7h0M238.5 1056.7h0M246.6 1050.6h0M238.3 1052.3h0M242.9 1052.2h0M236.0 1055.4h0M242.1 1029.7h0M234.8 1040.4h0M247.0 1054.9h0" stroke="#d67e1e" stroke-width="1.5" stroke-linecap="round" fill="none"/>
<g fill="#fff"><rect x="145.3" y="1088.5" width="1.1" height="1.1"/><rect x="130.9" y="1102.2" width="1.1" height="1.1"/><rect x="129.9" y="1088.7" width="1.1" height="1.1"/><rect x="141.4" y="1081.3" width="1.1" height="1.1"/><rect x="114.2" y="1107.3" width="1.1" height="1.1"/><rect x="143.2" y="1095.2" width="1.1" height="1.1"/><rect x="119.5" y="1073.9" width="1.1" height="1.1"/><rect x="102.7" y="1090.5" width="1.1" height="1.1"/><rect x="99.7" y="1065.7" width="1.1" height="1.1"/><rect x="99.1" y="1083.4" width="1.1" height="1.1"/><rect x="115.4" y="1082.0" width="1.1" height="1.1"/><rect x="147.3" y="1092.8" width="1.1" height="1.1"/><rect x="118.0" y="1053.1" width="1.1" height="1.1"/><rect x="128.8" y="1087.4" width="1.1" height="1.1"/><rect x="105.9" y="1096.5" width="1.1" height="1.1"/><rect x="98.9" y="1069.3" width="1.1" height="1.1"/><rect x="101.1" y="1099.2" width="1.1" height="1.1"/><rect x="125.1" y="1079.3" width="1.1" height="1.1"/><rect x="99.1" y="1077.6" width="1.1" height="1.1"/><rect x="108.2" y="1067.7" width="1.1" height="1.1"/><rect x="118.6" y="1096.3" width="1.1" height="1.1"/><rect x="125.6" y="1093.8" width="1.1" height="1.1"/><rect x="114.7" y="1109.8" width="1.1" height="1.1"/><rect x="140.1" y="1101.4" width="1.1" height="1.1"/><rect x="121.2" y="1066.0" width="1.1" height="1.1"/><rect x="132.0" y="1097.9" width="1.1" height="1.1"/><rect x="125.4" y="1059.4" width="1.1" height="1.1"/><rect x="131.9" y="1100.1" width="1.1" height="1.1"/><rect x="143.5" y="1095.1" width="1.1" height="1.1"/><rect x="125.2" y="1066.7" width="1.1" height="1.1"/></g>
<g fill="#fff"><rect x="174.8" y="1094.5" width="1.1" height="1.1"/><rect x="154.3" y="1057.2" width="1.1" height="1.1"/><rect x="155.6" y="1086.4" width="1.1" height="1.1"/><rect x="159.0" y="1066.5" width="1.1" height="1.1"/><rect x="153.2" y="1086.3" width="1.1" height="1.1"/><rect x="154.7" y="1080.9" width="1.1" height="1.1"/><rect x="158.4" y="1097.9" width="1.1" height="1.1"/><rect x="163.3" y="1091.3" width="1.1" height="1.1"/><rect x="164.9" y="1066.0" width="1.1" height="1.1"/><rect x="164.5" y="1074.9" width="1.1" height="1.1"/><rect x="164.7" y="1084.1" width="1.1" height="1.1"/><rect x="155.3" y="1066.0" width="1.1" height="1.1"/><rect x="174.0" y="1098.3" width="1.1" height="1.1"/><rect x="166.8" y="1088.9" width="1.1" height="1.1"/><rect x="166.6" y="1073.1" width="1.1" height="1.1"/><rect x="169.5" y="1085.9" width="1.1" height="1.1"/><rect x="169.0" y="1076.2" width="1.1" height="1.1"/><rect x="180.2" y="1119.7" width="1.1" height="1.1"/><rect x="179.2" y="1112.7" width="1.1" height="1.1"/><rect x="153.7" y="1079.6" width="1.1" height="1.1"/><rect x="200.6" y="1141.1" width="1.1" height="1.1"/><rect x="211.1" y="1055.5" width="1.1" height="1.1"/><rect x="188.2" y="1122.0" width="1.1" height="1.1"/><rect x="159.7" y="1073.9" width="1.1" height="1.1"/><rect x="210.5" y="1129.4" width="1.1" height="1.1"/><rect x="185.7" y="1121.9" width="1.1" height="1.1"/><rect x="169.8" y="1081.5" width="1.1" height="1.1"/><rect x="194.9" y="1131.6" width="1.1" height="1.1"/><rect x="198.1" y="1133.1" width="1.1" height="1.1"/><rect x="194.9" y="1133.6" width="1.1" height="1.1"/></g>
<g fill="#fff"><rect x="196.4" y="1059.4" width="1.1" height="1.1"/><rect x="194.1" y="1054.8" width="1.1" height="1.1"/><rect x="207.1" y="1075.8" width="1.1" height="1.1"/><rect x="193.8" y="1057.5" width="1.1" height="1.1"/><rect x="215.1" y="1102.8" width="1.1" height="1.1"/><rect x="211.2" y="1084.4" width="1.1" height="1.1"/><rect x="216.9" y="1114.5" width="1.1" height="1.1"/><rect x="214.4" y="1098.0" width="1.1" height="1.1"/><rect x="216.2" y="1120.2" width="1.1" height="1.1"/><rect x="213.7" y="1093.7" width="1.1" height="1.1"/><rect x="215.1" y="1120.9" width="1.1" height="1.1"/><rect x="199.4" y="1094.0" width="1.1" height="1.1"/><rect x="216.9" y="1133.1" width="1.1" height="1.1"/><rect x="204.1" y="1073.8" width="1.1" height="1.1"/><rect x="202.1" y="1068.0" width="1.1" height="1.1"/><rect x="214.8" y="1117.7" width="1.1" height="1.1"/><rect x="208.3" y="1080.8" width="1.1" height="1.1"/><rect x="211.2" y="1090.1" width="1.1" height="1.1"/><rect x="209.4" y="1084.9" width="1.1" height="1.1"/><rect x="216.4" y="1118.5" width="1.1" height="1.1"/><rect x="215.2" y="1125.6" width="1.1" height="1.1"/><rect x="219.9" y="1059.9" width="1.1" height="1.1"/><rect x="218.3" y="1113.4" width="1.1" height="1.1"/><rect x="205.0" y="1078.0" width="1.1" height="1.1"/><rect x="202.2" y="1070.1" width="1.1" height="1.1"/><rect x="215.5" y="1110.4" width="1.1" height="1.1"/><rect x="216.8" y="1101.3" width="1.1" height="1.1"/><rect x="207.0" y="1076.3" width="1.1" height="1.1"/><rect x="212.0" y="1090.6" width="1.1" height="1.1"/><rect x="197.7" y="1061.2" width="1.1" height="1.1"/></g>
<g fill="#fff"><rect x="223.4" y="1151.8" width="1.1" height="1.1"/><rect x="225.5" y="1152.6" width="1.1" height="1.1"/><rect x="224.5" y="1151.2" width="1.1" height="1.1"/><rect x="223.1" y="1151.0" width="1.1" height="1.1"/><rect x="227.8" y="1156.7" width="1.1" height="1.1"/><rect x="223.3" y="1152.1" width="1.1" height="1.1"/><rect x="224.0" y="1152.0" width="1.1" height="1.1"/><rect x="226.0" y="1152.7" width="1.1" height="1.1"/><rect x="220.2" y="1158.3" width="1.1" height="1.1"/><rect x="225.0" y="1152.0" width="1.1" height="1.1"/><rect x="226.2" y="1153.8" width="1.1" height="1.1"/><rect x="223.2" y="1150.7" width="1.1" height="1.1"/><rect x="224.0" y="1150.4" width="1.1" height="1.1"/><rect x="223.3" y="1150.5" width="1.1" height="1.1"/><rect x="225.2" y="1152.0" width="1.1" height="1.1"/><rect x="224.2" y="1152.9" width="1.1" height="1.1"/><rect x="224.5" y="1150.9" width="1.1" height="1.1"/><rect x="225.0" y="1151.3" width="1.1" height="1.1"/><rect x="225.3" y="1151.5" width="1.1" height="1.1"/><rect x="218.0" y="1154.4" width="1.1" height="1.1"/><rect x="225.1" y="1152.4" width="1.1" height="1.1"/><rect x="225.5" y="1152.3" width="1.1" height="1.1"/><rect x="229.7" y="1155.1" width="1.1" height="1.1"/><rect x="221.1" y="1147.7" width="1.1" height="1.1"/><rect x="224.7" y="1151.1" width="1.1" height="1.1"/><rect x="224.5" y="1153.1" width="1.1" height="1.1"/><rect x="224.8" y="1152.0" width="1.1" height="1.1"/><rect x="224.2" y="1151.3" width="1.1" height="1.1"/><rect x="225.2" y="1152.5" width="1.1" height="1.1"/><rect x="225.5" y="1156.6" width="1.1" height="1.1"/></g>
<g fill="#fff"><rect x="155.9" y="1039.6" width="1.1" height="1.1"/><rect x="125.9" y="989.2" width="1.1" height="1.1"/><rect x="133.6" y="1045.1" width="1.1" height="1.1"/><rect x="150.9" y="1014.7" width="1.1" height="1.1"/><rect x="146.6" y="1051.4" width="1.1" height="1.1"/><rect x="155.3" y="997.5" width="1.1" height="1.1"/><rect x="138.8" y="1010.6" width="1.1" height="1.1"/><rect x="128.3" y="1049.1" width="1.1" height="1.1"/><rect x="142.5" y="1028.0" width="1.1" height="1.1"/><rect x="128.3" y="1040.1" width="1.1" height="1.1"/><rect x="124.7" y="1019.1" width="1.1" height="1.1"/><rect x="149.9" y="1051.4" width="1.1" height="1.1"/><rect x="129.8" y="1040.1" width="1.1" height="1.1"/><rect x="137.6" y="1025.9" width="1.1" height="1.1"/><rect x="127.6" y="1013.5" width="1.1" height="1.1"/><rect x="132.5" y="1011.5" width="1.1" height="1.1"/><rect x="144.9" y="1020.2" width="1.1" height="1.1"/><rect x="121.3" y="1022.2" width="1.1" height="1.1"/><rect x="151.3" y="1045.8" width="1.1" height="1.1"/><rect x="129.7" y="1042.6" width="1.1" height="1.1"/><rect x="153.1" y="1042.1" width="1.1" height="1.1"/><rect x="129.5" y="1001.9" width="1.1" height="1.1"/><rect x="133.0" y="1043.6" width="1.1" height="1.1"/><rect x="142.0" y="1017.0" width="1.1" height="1.1"/><rect x="135.4" y="1033.4" width="1.1" height="1.1"/><rect x="147.8" y="1027.9" width="1.1" height="1.1"/><rect x="130.9" y="1017.9" width="1.1" height="1.1"/><rect x="156.5" y="1014.1" width="1.1" height="1.1"/><rect x="127.4" y="1017.3" width="1.1" height="1.1"/><rect x="128.4" y="988.1" width="1.1" height="1.1"/></g>
<g fill="#fff"><rect x="171.8" y="990.3" width="1.1" height="1.1"/><rect x="174.7" y="985.7" width="1.1" height="1.1"/><rect x="173.2" y="1004.3" width="1.1" height="1.1"/><rect x="163.4" y="984.8" width="1.1" height="1.1"/><rect x="166.9" y="995.2" width="1.1" height="1.1"/><rect x="170.5" y="994.4" width="1.1" height="1.1"/><rect x="174.4" y="1006.5" width="1.1" height="1.1"/><rect x="178.1" y="999.0" width="1.1" height="1.1"/><rect x="164.0" y="1003.9" width="1.1" height="1.1"/><rect x="168.3" y="989.5" width="1.1" height="1.1"/><rect x="175.5" y="988.3" width="1.1" height="1.1"/><rect x="176.5" y="999.2" width="1.1" height="1.1"/><rect x="171.9" y="1000.4" width="1.1" height="1.1"/><rect x="175.3" y="987.9" width="1.1" height="1.1"/><rect x="173.2" y="980.7" width="1.1" height="1.1"/><rect x="174.2" y="1009.5" width="1.1" height="1.1"/><rect x="165.4" y="1002.2" width="1.1" height="1.1"/><rect x="173.4" y="996.4" width="1.1" height="1.1"/><rect x="171.3" y="991.5" width="1.1" height="1.1"/><rect x="174.7" y="1008.1" width="1.1" height="1.1"/><rect x="160.6" y="1004.4" width="1.1" height="1.1"/><rect x="165.1" y="985.2" width="1.1" height="1.1"/><rect x="164.4" y="1001.1" width="1.1" height="1.1"/><rect x="167.4" y="999.8" width="1.1" height="1.1"/><rect x="179.4" y="996.5" width="1.1" height="1.1"/><rect x="176.6" y="1011.2" width="1.1" height="1.1"/><rect x="170.3" y="1010.0" width="1.1" height="1.1"/><rect x="178.2" y="992.7" width="1.1" height="1.1"/><rect x="178.9" y="1000.9" width="1.1" height="1.1"/><rect x="179.4" y="1002.2" width="1.1" height="1.1"/></g>
<g fill="#fff"><rect x="165.2" y="1025.0" width="1.1" height="1.1"/><rect x="167.6" y="1042.7" width="1.1" height="1.1"/><rect x="168.2" y="1019.7" width="1.1" height="1.1"/><rect x="163.4" y="1043.8" width="1.1" height="1.1"/><rect x="170.0" y="1050.2" width="1.1" height="1.1"/><rect x="173.1" y="1036.4" width="1.1" height="1.1"/><rect x="176.3" y="1026.5" width="1.1" height="1.1"/><rect x="179.9" y="1034.9" width="1.1" height="1.1"/><rect x="168.3" y="1029.5" width="1.1" height="1.1"/><rect x="173.8" y="1040.2" width="1.1" height="1.1"/><rect x="164.9" y="1039.3" width="1.1" height="1.1"/><rect x="162.3" y="1036.7" width="1.1" height="1.1"/><rect x="159.7" y="1031.4" width="1.1" height="1.1"/><rect x="172.5" y="1048.1" width="1.1" height="1.1"/><rect x="165.8" y="1038.5" width="1.1" height="1.1"/><rect x="165.1" y="1052.1" width="1.1" height="1.1"/><rect x="174.0" y="1041.2" width="1.1" height="1.1"/><rect x="175.6" y="1044.2" width="1.1" height="1.1"/><rect x="173.9" y="1051.1" width="1.1" height="1.1"/><rect x="166.6" y="1039.1" width="1.1" height="1.1"/><rect x="177.5" y="1047.7" width="1.1" height="1.1"/><rect x="167.8" y="1052.9" width="1.1" height="1.1"/><rect x="163.1" y="1036.9" width="1.1" height="1.1"/><rect x="165.2" y="1024.7" width="1.1" height="1.1"/><rect x="171.5" y="1050.5" width="1.1" height="1.1"/><rect x="161.7" y="1047.5" width="1.1" height="1.1"/><rect x="176.9" y="1035.6" width="1.1" height="1.1"/><rect x="169.7" y="1045.8" width="1.1" height="1.1"/><rect x="159.7" y="1021.7" width="1.1" height="1.1"/><rect x="159.1" y="1035.5" width="1.1" height="1.1"/></g>
<g fill="#fff"><rect x="109.8" y="1022.9" width="1.1" height="1.1"/><rect x="107.5" y="1027.8" width="1.1" height="1.1"/><rect x="107.9" y="1018.4" width="1.1" height="1.1"/><rect x="104.2" y="1022.6" width="1.1" height="1.1"/><rect x="106.6" y="1020.5" width="1.1" height="1.1"/><rect x="105.7" y="1022.3" width="1.1" height="1.1"/><rect x="110.2" y="1017.4" width="1.1" height="1.1"/><rect x="108.6" y="1020.1" width="1.1" height="1.1"/><rect x="106.9" y="1023.8" width="1.1" height="1.1"/><rect x="106.4" y="1028.5" width="1.1" height="1.1"/><rect x="107.8" y="1024.1" width="1.1" height="1.1"/><rect x="104.5" y="1024.1" width="1.1" height="1.1"/><rect x="109.2" y="1024.3" width="1.1" height="1.1"/><rect x="105.6" y="1023.3" width="1.1" height="1.1"/><rect x="105.8" y="1020.9" width="1.1" height="1.1"/><rect x="109.2" y="1025.8" width="1.1" height="1.1"/><rect x="105.2" y="1022.9" width="1.1" height="1.1"/><rect x="108.0" y="1026.1" width="1.1" height="1.1"/><rect x="108.0" y="1028.6" width="1.1" height="1.1"/><rect x="103.6" y="1024.3" width="1.1" height="1.1"/><rect x="114.7" y="1018.7" width="1.1" height="1.1"/><rect x="106.7" y="1023.6" width="1.1" height="1.1"/><rect x="108.1" y="1028.2" width="1.1" height="1.1"/><rect x="108.1" y="1025.2" width="1.1" height="1.1"/><rect x="108.1" y="1023.1" width="1.1" height="1.1"/><rect x="110.7" y="1022.6" width="1.1" height="1.1"/><rect x="108.6" y="1028.4" width="1.1" height="1.1"/><rect x="105.1" y="1020.3" width="1.1" height="1.1"/><rect x="106.3" y="1019.2" width="1.1" height="1.1"/><rect x="105.3" y="1020.3" width="1.1" height="1.1"/></g>
<path d="M151.1 992.3h0M157.8 1022.0h0M143.4 1052.8h0M138.2 1026.7h0M133.6 1055.9h0M142.1 1047.9h0M158.3 1056.1h0M141.2 1019.7h0M156.5 1053.4h0M158.7 1042.9h0M186.4 1008.9h0M151.4 1040.1h0M162.0 1045.2h0M156.1 1041.1h0M157.7 1055.4h0M125.0 1049.2h0M128.6 1080.4h0M155.9 1039.7h0M151.7 1022.8h0M153.1 1013.2h0M142.4 1005.9h0M151.3 1028.8h0M160.5 1021.5h0M144.1 1012.2h0M159.9 1041.1h0M157.3 1054.9h0M148.6 1031.8h0M147.2 1040.3h0M162.0 1026.6h0M157.4 1014.6h0M157.1 1047.1h0M149.9 1056.6h0M158.3 1024.5h0M155.9 1022.9h0M135.2 1021.0h0M147.0 1038.2h0M151.9 1065.0h0M136.7 1049.3h0M139.1 1039.8h0M159.7 1053.5h0M151.8 1011.7h0M139.1 1069.6h0M158.0 1036.7h0M149.4 1043.8h0M156.1 1036.1h0M179.7 1027.8h0M143.9 1047.5h0M152.0 1032.6h0M150.7 1046.1h0M160.0 1022.9h0M150.8 1047.8h0M151.9 1047.1h0M152.4 1045.5h0M143.0 1059.3h0M171.6 1027.4h0M150.0 1047.0h0M175.0 1048.2h0M147.9 1014.6h0M148.0 1031.7h0M144.6 1062.4h0M149.1 1043.0h0M159.4 1060.2h0M152.3 1049.5h0M158.3 1034.1h0M163.4 1045.8h0M151.7 1032.2h0M125.0 1039.7h0M150.7 1038.1h0M148.1 1007.0h0M173.9 1037.2h0M145.9 1040.7h0M154.0 1054.8h0M151.6 1051.0h0M159.3 1060.4h0M150.2 1041.7h0M157.8 1033.9h0M172.0 1017.4h0M171.1 1006.4h0M134.2 1027.5h0M153.8 1051.3h0M148.7 1040.5h0M143.7 1046.1h0M156.6 1036.2h0M145.3 1033.5h0M137.7 1029.5h0M151.1 1043.5h0M163.7 1032.0h0M160.2 1072.4h0M151.0 1048.8h0M157.0 1061.2h0" stroke="#f28a38" stroke-width="1.5" stroke-linecap="round" fill="none"/>
<path d="M135.0 1038.3h0M152.6 1052.3h0M138.3 1053.1h0M109.7 1041.1h0M125.1 1060.2h0M118.6 1046.5h0M142.0 1030.3h0M144.3 1051.5h0M138.2 1038.1h0M130.1 1051.1h0M114.7 1030.7h0M152.0 1040.2h0M138.0 1042.6h0M143.8 1047.4h0M156.6 1045.0h0M119.8 1047.1h0M146.4 1059.2h0M138.0 1049.4h0M153.7 1045.0h0M140.0 1058.0h0M132.6 1068.3h0M137.8 1056.7h0M115.0 1064.4h0M158.4 1047.7h0M135.3 1029.1h0M159.8 1039.3h0M126.4 1027.3h0M126.7 1044.9h0M120.3 1052.9h0M128.4 1042.8h0M123.8 1035.2h0M138.9 1033.5h0M136.8 1049.9h0M132.4 1063.6h0M140.7 1045.4h0M124.2 1045.9h0M137.4 1046.9h0M134.2 1036.4h0M142.1 1041.0h0M126.6 1036.9h0" stroke="#ef5b34" stroke-width="1.5" stroke-linecap="round" fill="none"/>
<path d="M174.1 1066.5h0M157.4 1063.2h0M167.4 1064.1h0M175.6 1064.0h0M180.4 1061.6h0M172.9 1065.9h0M175.3 1053.6h0M169.2 1049.2h0M168.7 1051.5h0M177.7 1067.1h0M162.2 1054.5h0M179.0 1063.2h0M178.1 1052.6h0M172.1 1057.7h0M160.6 1064.9h0M181.5 1060.7h0M172.4 1067.1h0M173.8 1059.0h0M172.7 1068.7h0M170.8 1062.7h0M174.7 1060.2h0M168.8 1058.1h0M172.1 1056.1h0M170.3 1059.4h0M181.2 1066.6h0M182.8 1062.6h0M175.3 1057.8h0M173.9 1057.4h0M182.2 1052.7h0M173.3 1075.9h0M169.8 1060.5h0M179.3 1055.0h0M167.6 1048.4h0M175.8 1069.4h0M174.7 1067.9h0M181.6 1054.6h0M167.1 1050.0h0M176.3 1064.0h0M171.2 1056.6h0M171.7 1080.3h0" stroke="#e2271e" stroke-width="1.5" stroke-linecap="round" fill="none"/>
<path d="M271.5 1041.9h0M261.1 1071.6h0M280.0 1087.7h0M292.6 1042.1h0M269.8 1080.7h0M276.0 1065.0h0M259.9 1053.9h0M267.6 1065.2h0M275.6 1040.3h0M270.0 1048.3h0M273.7 1057.0h0M270.0 1094.1h0M268.3 1064.3h0M272.8 1031.7h0M280.4 1113.2h0M256.6 1053.9h0M266.4 1081.4h0M269.5 1042.6h0M263.2 1050.3h0M273.8 1090.4h0M271.2 1061.9h0M264.1 1113.3h0M262.8 1055.6h0M272.2 1077.4h0M279.7 1053.4h0M261.2 1041.5h0M275.7 1058.3h0M267.0 1074.6h0M269.8 1055.8h0M273.1 1065.2h0M273.6 1089.0h0M265.7 1084.1h0M284.2 1063.7h0M260.6 1062.2h0M278.4 1071.7h0M260.6 1064.2h0M277.6 1068.8h0M262.4 1077.6h0M271.4 1028.0h0M275.7 1055.7h0M259.5 1036.7h0M284.5 1046.8h0M259.6 1066.1h0M266.5 1079.1h0M302.9 1062.0h0M268.9 1068.0h0M267.6 1083.3h0M272.0 1064.1h0M273.8 1060.2h0M273.2 1045.9h0M257.6 1084.7h0M271.9 1009.1h0M282.4 1061.8h0M265.8 1094.3h0M273.7 1073.5h0M267.2 1070.3h0M267.4 1058.5h0M259.4 1024.5h0M273.8 1012.5h0M279.9 1070.0h0M295.2 1093.0h0M277.2 1024.5h0M266.7 1084.3h0M285.1 1023.8h0M258.3 1090.5h0M271.5 1064.0h0M271.7 1060.0h0M267.4 1059.0h0M257.7 1041.9h0M281.1 1067.8h0" stroke="#c9c6e3" stroke-width="1.5" stroke-linecap="round" fill="none"/>
<path d="M255.1 1093.9h0M273.5 1104.4h0M263.5 1090.9h0M262.8 1094.9h0M264.1 1103.5h0M268.2 1108.9h0M253.9 1105.4h0M262.3 1095.7h0M252.6 1091.3h0M278.3 1103.4h0M268.1 1100.7h0M259.3 1095.9h0M264.8 1103.0h0M263.3 1107.5h0M266.7 1098.8h0M263.1 1087.7h0M251.1 1105.2h0M273.2 1101.3h0M259.9 1107.2h0M258.3 1103.9h0M262.0 1106.8h0M272.5 1089.2h0M268.8 1099.6h0M253.6 1107.2h0M268.1 1110.8h0M267.5 1091.1h0M275.2 1097.9h0M262.2 1101.2h0M264.5 1099.9h0M260.3 1090.2h0M253.0 1098.9h0M283.7 1118.1h0M254.4 1094.4h0M251.0 1095.9h0M276.4 1087.1h0M247.1 1099.5h0M268.4 1107.3h0M256.7 1107.1h0M252.7 1098.0h0M267.0 1092.0h0" stroke="#9ecae1" stroke-width="1.5" stroke-linecap="round" fill="none"/>
<path d="M246.4 1040.0h0M233.5 1048.7h0M252.0 1047.7h0M255.8 1062.7h0M252.9 1026.9h0M252.2 1041.3h0M247.5 1066.6h0M244.2 1012.4h0M255.0 1034.2h0M234.0 1051.4h0M242.8 1030.4h0M241.4 1037.4h0M253.3 1059.3h0M251.6 1048.9h0M256.0 1029.9h0M269.6 1046.0h0M244.8 1068.8h0M234.1 1049.1h0M259.4 1036.9h0M248.5 1029.8h0M247.8 1041.2h0M238.2 1035.7h0M254.8 1031.2h0M248.4 1045.8h0M254.9 1030.8h0M242.3 1055.3h0M252.0 1035.3h0M238.8 1044.4h0M244.6 1037.1h0M237.5 1058.8h0M239.8 1032.1h0M227.1 1045.1h0M245.7 1036.1h0M256.2 1030.8h0M251.4 1029.5h0M246.3 1038.2h0M255.3 1041.3h0M257.1 1048.0h0M236.9 1016.0h0M260.3 1047.4h0" stroke="#5db763" stroke-width="1.5" stroke-linecap="round" fill="none"/>
<path d="M251.4 1015.6h0M240.5 1019.8h0M249.9 1000.0h0M244.9 1009.5h0M241.1 1024.0h0M240.5 1008.3h0M240.9 1002.0h0M243.7 997.6h0M250.4 1008.8h0M250.3 987.0h0M244.5 1016.0h0M252.1 1009.7h0M236.8 1011.6h0M236.9 1020.2h0M240.9 1002.3h0M237.5 1008.7h0M246.2 1032.1h0M244.5 1004.8h0M239.9 998.6h0M243.6 1002.8h0" stroke="#f9cfa0" stroke-width="1.5" stroke-linecap="round" fill="none"/>
<path d="M227.4 1139.6h0M221.3 1140.1h0M220.9 1141.5h0M228.7 1145.0h0M226.7 1132.5h0M230.2 1150.9h0M227.0 1134.9h0M230.5 1143.9h0M228.7 1136.6h0M226.6 1145.0h0M228.2 1127.3h0M227.6 1144.1h0M221.3 1136.4h0M223.6 1125.9h0M215.1 1141.8h0M238.1 1129.7h0M219.6 1151.3h0M230.3 1137.7h0M234.8 1131.3h0M224.7 1140.2h0M236.2 1140.2h0M229.5 1139.1h0M225.5 1142.0h0M234.0 1131.8h0M213.7 1131.5h0" stroke="#f28a38" stroke-width="1.5" stroke-linecap="round" fill="none"/>
<line x1="85.0" y1="937.0" x2="85.0" y2="1168.0" stroke="#000" stroke-width="2"/>
<line x1="84.0" y1="1167.3" x2="312.0" y2="1167.3" stroke="#000" stroke-width="2"/>
<line x1="80.0" y1="954.0" x2="85.0" y2="954.0" stroke="#000" stroke-width="1.5"/>
<text x="78.5" y="961.3" font-size="21" text-anchor="end">6</text>
<line x1="80.0" y1="1006.0" x2="85.0" y2="1006.0" stroke="#000" stroke-width="1.5"/>
<text x="78.5" y="1013.3" font-size="21" text-anchor="end">3</text>
<line x1="80.0" y1="1057.7" x2="85.0" y2="1057.7" stroke="#000" stroke-width="1.5"/>
<text x="78.5" y="1065.0" font-size="21" text-anchor="end">0</text>
<line x1="80.0" y1="1110.0" x2="85.0" y2="1110.0" stroke="#000" stroke-width="1.5"/>
<text x="78.5" y="1117.3" font-size="21" text-anchor="end">−3</text>
<line x1="80.0" y1="1161.7" x2="85.0" y2="1161.7" stroke="#000" stroke-width="1.5"/>
<text x="78.5" y="1169.0" font-size="21" text-anchor="end">−6</text>
<line x1="133.3" y1="1167.3" x2="133.3" y2="1172.0" stroke="#000" stroke-width="1.5"/>
<text x="133.3" y="1190.5" font-size="21" text-anchor="middle">−5</text>
<line x1="182.7" y1="1167.3" x2="182.7" y2="1172.0" stroke="#000" stroke-width="1.5"/>
<text x="182.7" y="1190.5" font-size="21" text-anchor="middle">0</text>
<line x1="235.0" y1="1167.3" x2="235.0" y2="1172.0" stroke="#000" stroke-width="1.5"/>
<text x="235.0" y="1190.5" font-size="21" text-anchor="middle">5</text>
<line x1="287.3" y1="1167.3" x2="287.3" y2="1172.0" stroke="#000" stroke-width="1.5"/>
<text x="287.3" y="1190.5" font-size="21" text-anchor="middle">10</text>
<text x="197.5" y="1209.0" font-size="21" text-anchor="middle">UMAP_1</text>
<text x="51.5" y="1052.5" font-size="21" text-anchor="middle" transform="rotate(-90 51.5 1052.5)">UMAP_2</text>
<text x="104.0" y="957.0" font-size="20.3">N = 21575</text>
<g filter="url(#soft)">
<path d="M212.7,1241.4 L222.6,1238.0 L237.9,1237.1 L262.4,1237.1 L254.7,1241.4 L247.1,1244.5 L237.9,1249.1 L228.7,1246.8 L216.5,1244.5Z" fill="#137e7a" fill-opacity="0.88"/>
<path d="M198.9,1324.0 L201.2,1317.9 L207.3,1311.7 L219.6,1310.2 L237.9,1313.3 L247.1,1322.4 L253.2,1325.5 L268.5,1324.0 L283.8,1325.5 L291.4,1330.1 L285.3,1339.3 L283.8,1350.0 L277.7,1357.6 L268.5,1360.7 L253.2,1362.2 L237.9,1357.6 L227.2,1348.4 L222.6,1339.3 L210.4,1336.2 L201.2,1331.6Z" fill="#cfe8a5" fill-opacity="0.88"/>
<path d="M221.1,1305.6 L225.7,1300.3 L233.3,1299.5 L238.7,1303.3 L239.4,1310.2 L231.8,1311.7 L225.7,1311.7 L221.9,1310.2Z" fill="#7fcdbb" fill-opacity="0.88"/>
<path d="M231.8,1311.7 L237.9,1313.3 L244.0,1319.4 L247.8,1324.7 L244.0,1324.0 L237.9,1319.4 L233.3,1316.3Z" fill="#7fcdbb" fill-opacity="0.88"/>
<path d="M97.2,1340.8 L100.3,1336.2 L107.9,1334.4 L113.3,1336.2 L114.1,1340.8 L120.2,1343.9 L129.3,1346.9 L120.2,1346.9 L107.9,1348.4 L104.9,1353.0 L101.8,1353.8 L100.3,1346.9Z" fill="#74a9cf" fill-opacity="0.88"/>
<path d="M175.2,1369.1 L181.3,1367.6 L189.0,1371.4 L196.6,1372.1 L204.3,1371.4 L202.7,1374.4 L195.1,1377.5 L189.0,1380.6 L182.9,1384.4 L178.3,1382.1 L177.5,1376.0Z" fill="#f8b4c3" fill-opacity="0.88"/>
<path d="M210.4,1371.4 L215.0,1366.8 L225.7,1366.0 L234.8,1365.3 L239.4,1362.2 L245.6,1365.3 L250.9,1368.3 L248.6,1372.9 L241.0,1374.4 L230.3,1374.4 L225.7,1378.3 L219.6,1379.0 L216.5,1374.4 L211.9,1374.4Z" fill="#f07aa5" fill-opacity="0.88"/>
<path d="M161.5,1396.6 L165.3,1394.3 L168.8,1395.5 L168.3,1398.1 L163.7,1398.1Z" fill="#c2185b" fill-opacity="0.88"/>
<path d="M248.6,1432.5 L253.2,1428.0 L260.8,1428.7 L265.4,1435.6 L263.9,1443.2 L257.8,1447.1 L255.5,1440.2 L250.1,1435.6Z" fill="#c2185b" fill-opacity="0.88"/>
</g>
<path d="M256.3 1236.7h0M229.2 1246.3h0M252.6 1240.2h0M245.1 1246.9h0M242.0 1249.7h0M237.1 1238.9h0M257.9 1237.5h0M242.5 1238.9h0M250.0 1244.0h0M253.8 1237.0h0M220.8 1246.1h0M237.5 1237.3h0M229.9 1246.4h0M256.6 1242.4h0M238.8 1238.2h0M215.1 1240.8h0M223.9 1246.3h0M237.5 1248.8h0M250.2 1237.3h0M240.6 1238.2h0M240.1 1248.4h0M241.6 1246.5h0M219.6 1236.5h0M234.8 1248.4h0M232.2 1240.2h0M213.1 1240.8h0M245.2 1237.7h0M232.5 1237.2h0M247.7 1238.9h0M252.2 1237.6h0M235.3 1234.9h0M216.8 1243.4h0M220.7 1241.5h0M262.8 1238.2h0M241.4 1237.9h0M236.5 1249.2h0M237.8 1248.6h0M234.5 1248.9h0M243.4 1236.4h0M244.3 1234.8h0M253.2 1242.3h0M237.6 1239.2h0M246.2 1244.1h0M249.6 1245.0h0M232.8 1248.2h0M262.2 1238.6h0M252.5 1237.7h0M234.0 1249.1h0M223.9 1247.9h0M259.8 1237.7h0M236.8 1247.1h0M257.7 1235.9h0M248.2 1238.0h0M233.3 1248.0h0M215.4 1242.6h0M247.5 1237.1h0M215.0 1242.9h0M243.5 1237.0h0M245.1 1243.7h0M253.2 1241.8h0M225.9 1240.3h0M227.2 1245.5h0M259.7 1239.1h0M224.1 1238.5h0M237.1 1238.5h0M228.3 1236.9h0M259.5 1239.0h0M230.4 1246.8h0M240.8 1246.3h0M220.2 1246.7h0M217.5 1244.3h0M231.6 1247.9h0M223.7 1240.2h0M249.0 1244.3h0M222.3 1239.2h0M221.2 1245.1h0M261.5 1237.6h0M243.5 1243.3h0M237.0 1248.5h0M254.3 1239.0h0M225.2 1247.7h0M213.3 1242.2h0M236.0 1248.0h0" stroke="#137e7a" stroke-width="1.4" stroke-linecap="round" fill="none"/>
<path d="M275.5 1326.2h0M213.2 1312.5h0M245.3 1363.1h0M217.3 1338.7h0M240.4 1318.0h0M246.7 1360.8h0M250.2 1361.3h0M212.9 1336.0h0M254.5 1361.1h0M257.0 1325.6h0M202.2 1322.1h0M274.0 1357.4h0M232.4 1353.0h0M271.9 1357.9h0M284.3 1326.4h0M279.1 1325.5h0M282.9 1350.6h0M237.5 1354.9h0M250.5 1323.3h0M203.9 1316.5h0M238.9 1357.6h0M218.8 1336.9h0M213.2 1311.3h0M207.8 1334.4h0M202.8 1332.5h0M199.4 1320.0h0M254.9 1361.4h0M228.1 1311.9h0M235.3 1353.2h0M214.5 1310.9h0M199.0 1322.1h0M242.0 1316.8h0M273.6 1323.8h0M257.6 1324.6h0M239.0 1314.3h0M234.4 1311.4h0M234.5 1312.9h0M224.6 1344.1h0M236.8 1315.7h0M286.2 1339.2h0M201.6 1330.6h0M254.5 1325.4h0M275.5 1356.6h0M257.7 1324.8h0M203.2 1333.1h0M239.9 1356.1h0M218.9 1340.4h0M226.8 1348.8h0M285.3 1342.4h0M207.4 1311.9h0M251.2 1323.5h0M228.2 1312.0h0M277.7 1323.3h0M225.4 1348.1h0M292.3 1331.2h0M222.1 1309.8h0M259.4 1361.1h0M282.0 1348.4h0M256.8 1323.1h0M288.3 1334.2h0M209.1 1311.5h0M254.5 1362.7h0M202.7 1330.6h0M229.6 1350.9h0M222.4 1309.4h0M226.3 1348.6h0M211.1 1311.8h0M202.6 1330.6h0M214.6 1337.6h0M254.7 1361.3h0M256.8 1326.7h0M239.2 1313.3h0M258.7 1325.4h0M240.2 1360.5h0M285.1 1326.5h0M230.4 1350.8h0M252.9 1362.3h0M222.7 1310.8h0M199.6 1329.0h0M222.4 1309.6h0M266.5 1326.2h0M235.8 1313.2h0M273.5 1326.1h0M201.4 1317.2h0M263.3 1324.5h0M260.5 1326.6h0M197.1 1328.6h0M229.9 1312.0h0M224.7 1344.2h0M286.9 1327.0h0M244.7 1321.6h0M258.2 1325.1h0M265.9 1322.4h0M232.8 1350.6h0M289.0 1329.1h0M213.0 1336.4h0M200.0 1322.2h0M256.4 1324.7h0M275.3 1325.3h0M214.9 1311.7h0M287.0 1339.5h0M268.9 1361.8h0M287.2 1331.5h0M245.4 1320.1h0M249.7 1325.9h0M256.9 1360.3h0M246.5 1321.6h0M250.4 1360.7h0M267.3 1322.4h0M236.5 1312.7h0M277.8 1353.0h0M291.4 1334.0h0M269.0 1325.3h0M201.5 1316.6h0M286.5 1343.7h0M283.3 1338.6h0M265.6 1322.2h0M206.6 1335.1h0M222.6 1340.8h0M263.8 1359.1h0M286.0 1325.7h0M236.3 1356.5h0M230.7 1351.1h0M209.3 1334.9h0M285.4 1326.1h0M256.8 1361.2h0M216.9 1311.3h0M265.5 1360.2h0M230.3 1353.7h0M259.9 1361.6h0M247.9 1359.9h0M258.8 1361.5h0M215.3 1337.5h0M211.8 1310.1h0M284.1 1346.1h0M207.6 1336.5h0M199.2 1329.9h0M285.7 1338.9h0M226.7 1347.0h0M212.1 1335.4h0M201.6 1319.1h0M284.0 1344.7h0M246.9 1324.0h0M249.8 1321.9h0M262.0 1358.3h0M280.9 1326.4h0M201.5 1317.7h0M226.3 1311.1h0M256.0 1325.5h0M211.9 1335.5h0M261.9 1326.5h0M238.1 1356.3h0M230.2 1351.0h0M198.6 1324.2h0M210.2 1336.1h0M227.8 1310.0h0M212.7 1310.4h0M231.8 1313.7h0M250.6 1325.0h0M285.4 1336.1h0M226.3 1348.8h0M200.6 1329.8h0M207.8 1311.9h0M243.9 1359.4h0M279.6 1324.1h0M223.3 1340.8h0M258.6 1325.3h0M288.4 1332.4h0M213.6 1337.1h0M256.4 1325.5h0M287.4 1337.7h0M207.7 1334.0h0M243.8 1358.7h0M282.8 1350.1h0M270.4 1359.1h0M284.8 1327.9h0M263.3 1324.6h0M231.0 1311.1h0M285.6 1344.4h0M235.1 1354.7h0M199.0 1324.0h0M224.3 1345.6h0M285.3 1349.6h0M260.8 1326.3h0M198.6 1320.8h0M213.7 1309.2h0" stroke="#cfe8a5" stroke-width="1.4" stroke-linecap="round" fill="none"/>
<path d="M229.3 1301.3h0M236.4 1310.4h0M234.2 1302.8h0M234.8 1300.9h0M222.0 1307.0h0M239.0 1305.7h0M227.9 1298.8h0M235.4 1298.9h0M226.5 1311.6h0M222.7 1308.9h0M225.1 1313.2h0M228.9 1300.5h0M239.5 1304.9h0M225.0 1299.9h0M234.1 1298.6h0M228.3 1300.8h0M225.4 1312.0h0M237.7 1310.1h0M239.0 1309.0h0M224.7 1302.3h0M227.2 1312.4h0M223.0 1311.1h0M222.2 1306.1h0M220.9 1306.8h0M236.5 1303.1h0M240.0 1305.2h0M220.2 1305.1h0M224.5 1303.4h0M222.4 1305.6h0M228.5 1309.1h0M238.1 1306.8h0M235.0 1300.6h0M234.4 1313.0h0M239.2 1310.2h0M237.6 1306.9h0M224.3 1302.2h0M226.9 1310.9h0M235.0 1309.2h0M226.9 1300.7h0M238.5 1310.3h0" stroke="#7fcdbb" stroke-width="1.4" stroke-linecap="round" fill="none"/>
<path d="M245.7 1321.9h0M234.7 1311.6h0M230.2 1314.2h0M231.3 1311.9h0M238.1 1312.8h0M242.3 1319.9h0M238.0 1317.1h0M234.9 1316.4h0M241.6 1318.8h0M245.8 1322.7h0M239.5 1320.6h0M236.4 1314.8h0M242.5 1320.9h0M233.2 1312.8h0M240.2 1317.1h0M243.7 1324.9h0M237.0 1313.3h0M247.0 1320.3h0M243.0 1321.4h0M245.3 1324.1h0M243.5 1317.6h0M245.2 1319.1h0M236.4 1319.8h0M237.0 1315.5h0M233.7 1313.4h0M234.5 1311.9h0M242.9 1321.5h0M239.2 1314.8h0M240.0 1316.1h0M245.8 1318.4h0M240.6 1319.7h0M246.8 1321.5h0M234.9 1315.2h0M234.8 1311.7h0" stroke="#7fcdbb" stroke-width="1.4" stroke-linecap="round" fill="none"/>
<path d="M113.9 1337.9h0M126.5 1344.9h0M113.2 1335.7h0M102.1 1348.4h0M123.6 1344.4h0M120.7 1347.9h0M98.5 1345.9h0M109.1 1350.0h0M106.3 1353.9h0M104.2 1353.3h0M99.0 1343.5h0M104.3 1353.9h0M104.3 1353.2h0M118.9 1341.2h0M127.5 1348.2h0M116.6 1342.3h0M97.2 1344.9h0M128.1 1348.0h0M97.3 1342.2h0M124.3 1344.0h0M108.2 1351.0h0M110.3 1334.6h0M100.8 1354.7h0M125.6 1346.8h0M112.9 1341.7h0M111.4 1336.2h0M123.1 1348.2h0M110.6 1338.4h0M112.6 1336.2h0M114.0 1348.1h0M101.3 1352.3h0M109.6 1336.9h0M126.7 1344.3h0M101.7 1334.3h0M99.6 1349.1h0M112.8 1340.3h0M112.7 1337.1h0M113.4 1344.0h0M113.4 1340.3h0M122.5 1344.7h0M124.0 1345.0h0M113.7 1346.8h0M117.7 1344.7h0M101.0 1347.8h0M124.8 1347.6h0M123.7 1345.8h0M105.1 1353.2h0M115.3 1341.5h0M105.2 1352.4h0M110.2 1336.6h0M110.1 1334.3h0M101.3 1349.5h0M112.3 1335.4h0M101.1 1350.6h0M103.9 1334.8h0M100.8 1334.6h0M111.2 1349.2h0M105.7 1350.4h0M115.9 1346.2h0M102.1 1345.9h0M114.0 1341.9h0M128.4 1347.7h0M121.4 1344.1h0M105.0 1334.2h0M96.8 1342.0h0M109.7 1334.4h0M102.5 1352.0h0" stroke="#74a9cf" stroke-width="1.4" stroke-linecap="round" fill="none"/>
<path d="M190.4 1371.5h0M202.7 1373.9h0M197.9 1369.9h0M198.4 1371.9h0M196.1 1375.1h0M177.1 1381.5h0M179.5 1369.2h0M203.0 1371.1h0M203.7 1375.2h0M182.1 1367.4h0M189.6 1371.4h0M186.8 1370.2h0M187.4 1371.0h0M180.6 1382.9h0M190.2 1369.6h0M202.5 1373.4h0M194.8 1376.2h0M194.3 1370.7h0M183.5 1368.5h0M173.4 1369.4h0M205.2 1371.4h0M191.1 1371.0h0M200.9 1375.6h0M195.4 1377.6h0M201.0 1370.5h0M203.1 1371.9h0M183.3 1368.9h0M179.4 1368.3h0M193.9 1372.7h0M198.4 1376.5h0M201.9 1374.4h0M196.9 1375.7h0M183.1 1367.7h0M199.0 1375.1h0M177.0 1369.9h0M196.6 1372.8h0M187.2 1367.3h0M196.2 1370.9h0M188.5 1371.1h0M177.1 1374.3h0M184.7 1383.1h0M180.7 1383.9h0M173.4 1373.9h0M191.1 1379.0h0M177.7 1370.2h0M201.4 1370.0h0M191.6 1373.1h0M180.8 1380.4h0M183.8 1384.6h0M179.2 1368.5h0M176.6 1382.3h0M203.9 1375.3h0M177.6 1376.7h0M204.8 1371.1h0M177.9 1367.9h0M184.8 1383.9h0M181.8 1368.8h0M199.9 1376.4h0M202.0 1371.9h0" stroke="#f8b4c3" stroke-width="1.4" stroke-linecap="round" fill="none"/>
<path d="M241.6 1362.9h0M239.4 1363.4h0M217.5 1375.8h0M231.1 1365.0h0M243.3 1363.8h0M212.7 1366.4h0M226.0 1380.3h0M251.1 1365.9h0M212.3 1376.4h0M244.4 1375.5h0M216.5 1375.5h0M239.3 1362.8h0M223.0 1368.5h0M213.0 1368.8h0M242.5 1362.8h0M247.3 1370.2h0M243.8 1373.9h0M212.0 1370.0h0M247.0 1373.0h0M238.0 1374.7h0M241.5 1363.4h0M210.3 1373.0h0M220.4 1369.4h0M211.3 1371.8h0M216.3 1367.6h0M232.4 1368.6h0M231.1 1374.5h0M226.1 1366.2h0M234.5 1366.8h0M235.0 1364.3h0M224.7 1379.1h0M234.4 1365.6h0M221.6 1363.3h0M220.3 1367.1h0M248.5 1372.0h0M212.2 1370.4h0M243.4 1363.4h0M225.6 1365.5h0M238.9 1361.3h0M246.8 1364.2h0M211.4 1369.5h0M245.1 1373.2h0M246.9 1372.9h0M213.0 1374.4h0M235.8 1365.1h0M213.9 1370.4h0M210.7 1372.8h0M248.2 1370.9h0M216.7 1364.0h0M224.9 1377.3h0M214.0 1367.2h0M240.3 1362.4h0M248.3 1373.3h0M232.8 1366.9h0M232.6 1378.7h0M237.8 1375.5h0M219.4 1380.3h0M249.4 1371.3h0M214.7 1367.6h0M240.6 1363.6h0M221.6 1367.8h0M245.5 1362.6h0M240.3 1374.4h0M215.8 1374.1h0M212.5 1367.6h0M214.3 1376.6h0M231.2 1374.8h0M221.3 1378.8h0M237.0 1362.4h0M211.4 1371.1h0M240.4 1363.7h0M216.1 1374.0h0M231.6 1367.0h0M226.0 1377.6h0M230.6 1375.2h0" stroke="#f07aa5" stroke-width="1.4" stroke-linecap="round" fill="none"/>
<path d="M164.5 1395.5h0M164.7 1395.6h0M168.0 1398.6h0M164.1 1396.1h0M163.7 1396.0h0M166.9 1395.7h0M164.1 1394.4h0M161.1 1395.7h0M164.4 1395.8h0M167.2 1395.6h0M165.2 1397.1h0M166.0 1393.7h0M167.7 1398.9h0M166.4 1394.5h0" stroke="#c2185b" stroke-width="1.4" stroke-linecap="round" fill="none"/>
<path d="M264.4 1433.9h0M261.4 1432.2h0M265.6 1439.9h0M252.1 1428.3h0M252.0 1436.0h0M247.0 1433.6h0M263.9 1436.6h0M264.2 1442.7h0M253.5 1441.3h0M253.5 1436.9h0M260.0 1446.1h0M255.5 1429.1h0M260.0 1431.5h0M258.0 1427.9h0M254.0 1440.7h0M255.8 1429.3h0M252.9 1438.6h0M264.6 1437.8h0M251.4 1436.1h0M261.8 1442.4h0M260.0 1445.3h0M257.5 1443.3h0M254.3 1442.4h0M253.1 1428.8h0M254.9 1428.0h0M251.0 1437.3h0M255.5 1426.9h0M249.2 1434.3h0M265.8 1435.6h0M251.4 1431.9h0M263.0 1443.7h0M249.5 1433.9h0M266.8 1442.9h0M250.4 1436.2h0M258.5 1447.1h0M266.4 1437.3h0M259.4 1430.9h0M256.8 1442.4h0M256.4 1439.6h0M258.3 1444.2h0M262.3 1443.8h0M264.8 1440.5h0M256.7 1444.5h0M250.2 1432.9h0" stroke="#c2185b" stroke-width="1.4" stroke-linecap="round" fill="none"/>
<g fill="#fff"><rect x="261.6" y="1339.6" width="1.2" height="1.2"/><rect x="233.6" y="1322.3" width="1.2" height="1.2"/><rect x="269.6" y="1354.8" width="1.2" height="1.2"/><rect x="243.0" y="1347.1" width="1.2" height="1.2"/><rect x="246.7" y="1339.3" width="1.2" height="1.2"/><rect x="225.8" y="1333.8" width="1.2" height="1.2"/><rect x="237.1" y="1337.2" width="1.2" height="1.2"/><rect x="273.7" y="1344.2" width="1.2" height="1.2"/><rect x="228.2" y="1329.0" width="1.2" height="1.2"/><rect x="208.7" y="1322.8" width="1.2" height="1.2"/><rect x="288.8" y="1312.2" width="1.2" height="1.2"/><rect x="251.0" y="1338.3" width="1.2" height="1.2"/><rect x="231.8" y="1318.1" width="1.2" height="1.2"/><rect x="214.7" y="1330.0" width="1.2" height="1.2"/><rect x="218.1" y="1331.3" width="1.2" height="1.2"/><rect x="238.1" y="1320.0" width="1.2" height="1.2"/><rect x="269.6" y="1350.7" width="1.2" height="1.2"/><rect x="228.9" y="1315.6" width="1.2" height="1.2"/><rect x="250.4" y="1343.7" width="1.2" height="1.2"/><rect x="237.6" y="1319.5" width="1.2" height="1.2"/><rect x="276.7" y="1342.3" width="1.2" height="1.2"/><rect x="226.3" y="1313.9" width="1.2" height="1.2"/><rect x="273.6" y="1342.0" width="1.2" height="1.2"/><rect x="226.2" y="1342.5" width="1.2" height="1.2"/><rect x="270.5" y="1330.5" width="1.2" height="1.2"/><rect x="271.7" y="1336.1" width="1.2" height="1.2"/><rect x="239.7" y="1335.1" width="1.2" height="1.2"/><rect x="229.8" y="1326.3" width="1.2" height="1.2"/><rect x="241.3" y="1344.5" width="1.2" height="1.2"/><rect x="259.5" y="1348.0" width="1.2" height="1.2"/><rect x="260.5" y="1334.9" width="1.2" height="1.2"/><rect x="207.5" y="1354.0" width="1.2" height="1.2"/><rect x="252.5" y="1352.3" width="1.2" height="1.2"/><rect x="269.2" y="1352.1" width="1.2" height="1.2"/><rect x="255.4" y="1329.3" width="1.2" height="1.2"/><rect x="238.5" y="1324.5" width="1.2" height="1.2"/><rect x="264.2" y="1352.6" width="1.2" height="1.2"/><rect x="260.9" y="1346.0" width="1.2" height="1.2"/><rect x="281.6" y="1348.5" width="1.2" height="1.2"/><rect x="278.3" y="1350.3" width="1.2" height="1.2"/></g>
<line x1="87.3" y1="1225.0" x2="87.3" y2="1457.5" stroke="#000" stroke-width="2"/>
<line x1="86.3" y1="1456.7" x2="301.7" y2="1456.7" stroke="#000" stroke-width="2"/>
<line x1="82.0" y1="1271.7" x2="87.3" y2="1271.7" stroke="#000" stroke-width="1.5"/>
<text x="80.5" y="1279.0" font-size="21" text-anchor="end">10</text>
<line x1="82.0" y1="1336.7" x2="87.3" y2="1336.7" stroke="#000" stroke-width="1.5"/>
<text x="80.5" y="1344.0" font-size="21" text-anchor="end">0</text>
<line x1="82.0" y1="1402.3" x2="87.3" y2="1402.3" stroke="#000" stroke-width="1.5"/>
<text x="80.5" y="1409.6" font-size="21" text-anchor="end">−10</text>
<line x1="121.7" y1="1456.7" x2="121.7" y2="1461.5" stroke="#000" stroke-width="1.5"/>
<text x="121.7" y="1480.5" font-size="21" text-anchor="middle">−10</text>
<line x1="176.0" y1="1456.7" x2="176.0" y2="1461.5" stroke="#000" stroke-width="1.5"/>
<text x="176.0" y="1480.5" font-size="21" text-anchor="middle">−5</text>
<line x1="230.0" y1="1456.7" x2="230.0" y2="1461.5" stroke="#000" stroke-width="1.5"/>
<text x="230.0" y="1480.5" font-size="21" text-anchor="middle">0</text>
<line x1="283.3" y1="1456.7" x2="283.3" y2="1461.5" stroke="#000" stroke-width="1.5"/>
<text x="283.3" y="1480.5" font-size="21" text-anchor="middle">5</text>
<text x="194.0" y="1499.0" font-size="21" text-anchor="middle">UMAP_1</text>
<text x="51.5" y="1340.0" font-size="21" text-anchor="middle" transform="rotate(-90 51.5 1340.0)">UMAP_2</text>
<text x="100.3" y="1275.8" font-size="20.3">N = 3734</text>
<circle cx="328.8" cy="942.4" r="6.30" fill="#c9c6e3"/>
<text x="0" y="0" font-size="16.6" transform="translate(343.5,948.5) scale(1.075,1)">CD4_Il7r</text>
<circle cx="328.8" cy="959.6" r="6.30" fill="#9c97cb"/>
<text x="0" y="0" font-size="16.6" transform="translate(343.5,965.7) scale(1.075,1)">CD4_Ccr7</text>
<circle cx="328.8" cy="976.8" r="6.30" fill="#4a1c8c"/>
<text x="0" y="0" font-size="16.6" transform="translate(343.5,982.9) scale(1.075,1)">CD4_Treg</text>
<circle cx="328.8" cy="994.0" r="6.30" fill="#cfe9cb"/>
<text x="0" y="0" font-size="16.6" transform="translate(343.5,1000.1) scale(1.075,1)">CD8_Il7r</text>
<circle cx="328.8" cy="1011.2" r="6.30" fill="#92d18e"/>
<text x="0" y="0" font-size="16.6" transform="translate(343.5,1017.3) scale(1.075,1)">CD8_Ccr7</text>
<circle cx="328.8" cy="1028.4" r="6.30" fill="#2e9a4a"/>
<text x="0" y="0" font-size="16.6" transform="translate(343.5,1034.5) scale(1.075,1)">CD8_Ccl5</text>
<circle cx="328.8" cy="1045.6" r="6.30" fill="#5db763"/>
<text x="0" y="0" font-size="16.6" transform="translate(343.5,1051.7) scale(1.075,1)">CD8_Gzmk</text>
<circle cx="328.8" cy="1062.8" r="6.30" fill="#8ec0e4"/>
<text x="0" y="0" font-size="16.6" transform="translate(343.5,1068.9) scale(1.075,1)">CD8_proliferation</text>
<circle cx="328.8" cy="1080.0" r="6.30" fill="#d67e1e"/>
<text x="0" y="0" font-size="16.6" transform="translate(343.5,1086.1) scale(1.075,1)">CD3_DN</text>
<circle cx="328.8" cy="1097.2" r="6.30" fill="#f9cfa0"/>
<text x="0" y="0" font-size="16.6" transform="translate(343.5,1103.3) scale(1.075,1)">gd_T</text>
<circle cx="328.8" cy="1114.4" r="6.30" fill="#fbf1a2"/>
<text x="0" y="0" font-size="16.6" transform="translate(343.5,1120.5) scale(1.075,1)">NK_Ccl5</text>
<circle cx="328.8" cy="1131.6" r="6.30" fill="#ef5b34"/>
<text x="0" y="0" font-size="16.6" transform="translate(343.5,1137.7) scale(1.075,1)">NK_Spp1</text>
<circle cx="328.8" cy="1148.8" r="6.30" fill="#e2271e"/>
<text x="0" y="0" font-size="16.6" transform="translate(343.5,1154.9) scale(1.075,1)">NK_Cd226</text>
<circle cx="328.8" cy="1166.0" r="6.30" fill="#f5a444"/>
<text x="0" y="0" font-size="16.6" transform="translate(343.5,1172.1) scale(1.075,1)">NK_Isg15</text>
<circle cx="328.8" cy="1183.2" r="6.30" fill="#f8d45c"/>
<text x="0" y="0" font-size="16.6" transform="translate(343.5,1189.3) scale(1.075,1)">NK_Hspa1a</text>
<circle cx="328.8" cy="1200.4" r="6.30" fill="#f28a38"/>
<text x="0" y="0" font-size="16.6" transform="translate(343.5,1206.5) scale(1.075,1)">NK_proliferation</text>
<circle cx="328.8" cy="1287.0" r="6.30" fill="#cfe8a5"/>
<text x="0" y="0" font-size="16.6" transform="translate(343.5,1293.1) scale(1.075,1)">Mono_Ly6c_high</text>
<circle cx="328.8" cy="1304.0" r="6.30" fill="#7fcdbb"/>
<text x="0" y="0" font-size="16.6" transform="translate(343.5,1310.1) scale(1.075,1)">Mono_Ly6c_low</text>
<circle cx="328.8" cy="1321.0" r="6.30" fill="#f8b4c3"/>
<text x="0" y="0" font-size="16.6" transform="translate(343.5,1327.1) scale(1.075,1)">cDC1</text>
<circle cx="328.8" cy="1338.0" r="6.30" fill="#f07aa5"/>
<text x="0" y="0" font-size="16.6" transform="translate(343.5,1344.1) scale(1.075,1)">cDC2</text>
<circle cx="328.8" cy="1355.0" r="6.30" fill="#d12a9a"/>
<text x="0" y="0" font-size="16.6" transform="translate(343.5,1361.1) scale(1.075,1)">tDC</text>
<circle cx="328.8" cy="1372.0" r="6.30" fill="#bf1655"/>
<text x="0" y="0" font-size="16.6" transform="translate(343.5,1378.1) scale(1.075,1)">pDC</text>
<circle cx="328.8" cy="1389.0" r="6.30" fill="#74a9cf"/>
<text x="0" y="0" font-size="16.6" transform="translate(343.5,1395.1) scale(1.075,1)">Mast</text>
<circle cx="328.8" cy="1406.0" r="6.30" fill="#137e7a"/>
<text x="0" y="0" font-size="16.6" transform="translate(343.5,1412.1) scale(1.075,1)">Neutrophil</text>
<text x="6.5" y="923.5" font-size="58" font-weight="bold">c</text>
<text x="0" y="0" font-size="26.5" text-anchor="middle" transform="translate(25.6,1199.9) rotate(-90) scale(1.11,1)">Tumor immune cells</text>
<text x="446.0" y="922.5" font-size="58" font-weight="bold">d</text>
<line x1="668.4" y1="941.0" x2="668.4" y2="1402.0" stroke="#222" stroke-width="2.7" stroke-dasharray="0 9.3" stroke-linecap="round"/>
<line x1="823.8" y1="941.0" x2="823.8" y2="1402.0" stroke="#222" stroke-width="2.7" stroke-dasharray="0 9.3" stroke-linecap="round"/>
<line x1="886.3" y1="941.0" x2="886.3" y2="1402.0" stroke="#222" stroke-width="2.7" stroke-dasharray="0 9.3" stroke-linecap="round"/>
<circle cx="590.7" cy="947.1" r="1.10" fill="#b9b9c0"/>
<circle cx="621.8" cy="947.1" r="1.30" fill="#b9b9c0"/>
<circle cx="652.9" cy="947.1" r="1.10" fill="#b9b9c0"/>
<circle cx="683.9" cy="947.1" r="1.10" fill="#b9b9c0"/>
<circle cx="715.0" cy="947.1" r="1.10" fill="#b9b9c0"/>
<circle cx="746.1" cy="947.1" r="1.10" fill="#b9b9c0"/>
<circle cx="777.2" cy="947.1" r="1.10" fill="#b9b9c0"/>
<circle cx="808.3" cy="947.1" r="1.10" fill="#b9b9c0"/>
<circle cx="839.3" cy="947.1" r="1.10" fill="#b9b9c0"/>
<circle cx="870.4" cy="947.1" r="1.10" fill="#b9b9c0"/>
<circle cx="901.5" cy="947.1" r="1.10" fill="#b9b9c0"/>
<circle cx="932.6" cy="947.1" r="1.10" fill="#b9b9c0"/>
<circle cx="963.7" cy="947.1" r="1.10" fill="#b9b9c0"/>
<circle cx="994.7" cy="947.1" r="1.10" fill="#b9b9c0"/>
<circle cx="1025.8" cy="947.1" r="6.50" fill="#0000ff"/>
<circle cx="1056.9" cy="947.1" r="1.10" fill="#b9b9c0"/>
<circle cx="590.7" cy="970.4" r="3.10" fill="#b194e5"/>
<circle cx="621.8" cy="970.4" r="1.70" fill="#c9bed9"/>
<circle cx="652.9" cy="970.4" r="4.90" fill="#7248f6"/>
<circle cx="683.9" cy="970.4" r="3.10" fill="#b194e5"/>
<circle cx="715.0" cy="970.4" r="1.70" fill="#c9bed9"/>
<circle cx="746.1" cy="970.4" r="3.10" fill="#b79ee2"/>
<circle cx="777.2" cy="970.4" r="5.20" fill="#210cfe"/>
<circle cx="808.3" cy="970.4" r="3.50" fill="#bea9df"/>
<circle cx="839.3" cy="970.4" r="3.50" fill="#b194e5"/>
<circle cx="870.4" cy="970.4" r="3.50" fill="#aa89e7"/>
<circle cx="901.5" cy="970.4" r="1.80" fill="#c9bed9"/>
<circle cx="932.6" cy="970.4" r="2.80" fill="#b79ee2"/>
<circle cx="963.7" cy="970.4" r="3.20" fill="#b194e5"/>
<circle cx="994.7" cy="970.4" r="6.80" fill="#0000ff"/>
<circle cx="1025.8" cy="970.4" r="2.20" fill="#bea9df"/>
<circle cx="1056.9" cy="970.4" r="3.80" fill="#b79ee2"/>
<circle cx="590.7" cy="993.6" r="1.30" fill="#b9b9c0"/>
<circle cx="621.8" cy="993.6" r="1.10" fill="#b9b9c0"/>
<circle cx="652.9" cy="993.6" r="1.10" fill="#b9b9c0"/>
<circle cx="683.9" cy="993.6" r="1.10" fill="#b9b9c0"/>
<circle cx="715.0" cy="993.6" r="1.10" fill="#b9b9c0"/>
<circle cx="746.1" cy="993.6" r="1.10" fill="#b9b9c0"/>
<circle cx="777.2" cy="993.6" r="1.10" fill="#b9b9c0"/>
<circle cx="808.3" cy="993.6" r="1.10" fill="#b9b9c0"/>
<circle cx="839.3" cy="993.6" r="1.50" fill="#c9bed9"/>
<circle cx="870.4" cy="993.6" r="6.50" fill="#0000ff"/>
<circle cx="901.5" cy="993.6" r="1.10" fill="#b9b9c0"/>
<circle cx="932.6" cy="993.6" r="1.10" fill="#b9b9c0"/>
<circle cx="963.7" cy="993.6" r="3.20" fill="#aa89e7"/>
<circle cx="994.7" cy="993.6" r="1.20" fill="#b9b9c0"/>
<circle cx="1025.8" cy="993.6" r="1.10" fill="#b9b9c0"/>
<circle cx="1056.9" cy="993.6" r="1.10" fill="#b9b9c0"/>
<circle cx="590.7" cy="1016.9" r="2.60" fill="#b194e5"/>
<circle cx="621.8" cy="1016.9" r="4.90" fill="#7e53f4"/>
<circle cx="652.9" cy="1016.9" r="1.20" fill="#b9b9c0"/>
<circle cx="683.9" cy="1016.9" r="2.10" fill="#c3b3dc"/>
<circle cx="715.0" cy="1016.9" r="4.20" fill="#a27eea"/>
<circle cx="746.1" cy="1016.9" r="4.20" fill="#a27eea"/>
<circle cx="777.2" cy="1016.9" r="3.50" fill="#4121fc"/>
<circle cx="808.3" cy="1016.9" r="5.20" fill="#aa89e7"/>
<circle cx="839.3" cy="1016.9" r="4.00" fill="#a27eea"/>
<circle cx="870.4" cy="1016.9" r="3.30" fill="#aa89e7"/>
<circle cx="901.5" cy="1016.9" r="1.50" fill="#c9bed9"/>
<circle cx="932.6" cy="1016.9" r="1.20" fill="#b9b9c0"/>
<circle cx="963.7" cy="1016.9" r="4.80" fill="#0000ff"/>
<circle cx="994.7" cy="1016.9" r="2.60" fill="#b194e5"/>
<circle cx="1025.8" cy="1016.9" r="2.30" fill="#bea9df"/>
<circle cx="1056.9" cy="1016.9" r="2.50" fill="#bea9df"/>
<circle cx="590.7" cy="1040.2" r="1.10" fill="#b9b9c0"/>
<circle cx="621.8" cy="1040.2" r="1.10" fill="#b9b9c0"/>
<circle cx="652.9" cy="1040.2" r="1.10" fill="#b9b9c0"/>
<circle cx="683.9" cy="1040.2" r="1.10" fill="#b9b9c0"/>
<circle cx="715.0" cy="1040.2" r="3.80" fill="#b194e5"/>
<circle cx="746.1" cy="1040.2" r="6.40" fill="#aa89e7"/>
<circle cx="777.2" cy="1040.2" r="1.50" fill="#c9bed9"/>
<circle cx="808.3" cy="1040.2" r="6.60" fill="#b194e5"/>
<circle cx="839.3" cy="1040.2" r="1.60" fill="#c9bed9"/>
<circle cx="870.4" cy="1040.2" r="1.20" fill="#b9b9c0"/>
<circle cx="901.5" cy="1040.2" r="1.80" fill="#c3b3dc"/>
<circle cx="932.6" cy="1040.2" r="6.80" fill="#0000ff"/>
<circle cx="963.7" cy="1040.2" r="4.50" fill="#a27eea"/>
<circle cx="994.7" cy="1040.2" r="3.50" fill="#a27eea"/>
<circle cx="1025.8" cy="1040.2" r="4.00" fill="#885ef1"/>
<circle cx="1056.9" cy="1040.2" r="5.80" fill="#885ef1"/>
<circle cx="590.7" cy="1063.5" r="1.00" fill="#b9b9c0"/>
<circle cx="621.8" cy="1063.5" r="1.00" fill="#b9b9c0"/>
<circle cx="652.9" cy="1063.5" r="1.00" fill="#b9b9c0"/>
<circle cx="683.9" cy="1063.5" r="1.00" fill="#b9b9c0"/>
<circle cx="715.0" cy="1063.5" r="1.00" fill="#b9b9c0"/>
<circle cx="746.1" cy="1063.5" r="1.00" fill="#b9b9c0"/>
<circle cx="777.2" cy="1063.5" r="1.00" fill="#b9b9c0"/>
<circle cx="808.3" cy="1063.5" r="1.00" fill="#b9b9c0"/>
<circle cx="839.3" cy="1063.5" r="3.80" fill="#b194e5"/>
<circle cx="870.4" cy="1063.5" r="1.20" fill="#b9b9c0"/>
<circle cx="901.5" cy="1063.5" r="6.80" fill="#7e53f4"/>
<circle cx="932.6" cy="1063.5" r="7.20" fill="#9a74ed"/>
<circle cx="963.7" cy="1063.5" r="7.20" fill="#653cf8"/>
<circle cx="994.7" cy="1063.5" r="6.80" fill="#7e53f4"/>
<circle cx="1025.8" cy="1063.5" r="5.00" fill="#aa89e7"/>
<circle cx="1056.9" cy="1063.5" r="7.00" fill="#a27eea"/>
<circle cx="590.7" cy="1086.7" r="1.10" fill="#b9b9c0"/>
<circle cx="621.8" cy="1086.7" r="1.00" fill="#b9b9c0"/>
<circle cx="652.9" cy="1086.7" r="1.00" fill="#b9b9c0"/>
<circle cx="683.9" cy="1086.7" r="1.00" fill="#b9b9c0"/>
<circle cx="715.0" cy="1086.7" r="1.10" fill="#b9b9c0"/>
<circle cx="746.1" cy="1086.7" r="1.00" fill="#b9b9c0"/>
<circle cx="777.2" cy="1086.7" r="1.00" fill="#b9b9c0"/>
<circle cx="808.3" cy="1086.7" r="1.00" fill="#b9b9c0"/>
<circle cx="839.3" cy="1086.7" r="1.20" fill="#b9b9c0"/>
<circle cx="870.4" cy="1086.7" r="5.20" fill="#0000ff"/>
<circle cx="901.5" cy="1086.7" r="1.00" fill="#b9b9c0"/>
<circle cx="932.6" cy="1086.7" r="1.00" fill="#b9b9c0"/>
<circle cx="963.7" cy="1086.7" r="1.00" fill="#b9b9c0"/>
<circle cx="994.7" cy="1086.7" r="1.00" fill="#b9b9c0"/>
<circle cx="1025.8" cy="1086.7" r="1.00" fill="#b9b9c0"/>
<circle cx="1056.9" cy="1086.7" r="1.00" fill="#b9b9c0"/>
<circle cx="590.7" cy="1110.0" r="1.10" fill="#b9b9c0"/>
<circle cx="621.8" cy="1110.0" r="1.70" fill="#c3b3dc"/>
<circle cx="652.9" cy="1110.0" r="1.30" fill="#b9b9c0"/>
<circle cx="683.9" cy="1110.0" r="1.10" fill="#b9b9c0"/>
<circle cx="715.0" cy="1110.0" r="2.10" fill="#b194e5"/>
<circle cx="746.1" cy="1110.0" r="1.70" fill="#c3b3dc"/>
<circle cx="777.2" cy="1110.0" r="1.10" fill="#b9b9c0"/>
<circle cx="808.3" cy="1110.0" r="6.30" fill="#0000ff"/>
<circle cx="839.3" cy="1110.0" r="1.10" fill="#b9b9c0"/>
<circle cx="870.4" cy="1110.0" r="1.60" fill="#c3b3dc"/>
<circle cx="901.5" cy="1110.0" r="1.10" fill="#b9b9c0"/>
<circle cx="932.6" cy="1110.0" r="1.10" fill="#b9b9c0"/>
<circle cx="963.7" cy="1110.0" r="1.10" fill="#b9b9c0"/>
<circle cx="994.7" cy="1110.0" r="1.10" fill="#b9b9c0"/>
<circle cx="1025.8" cy="1110.0" r="1.10" fill="#b9b9c0"/>
<circle cx="1056.9" cy="1110.0" r="5.00" fill="#0000ff"/>
<circle cx="590.7" cy="1133.3" r="1.10" fill="#b9b9c0"/>
<circle cx="621.8" cy="1133.3" r="1.30" fill="#b9b9c0"/>
<circle cx="652.9" cy="1133.3" r="1.60" fill="#c3b3dc"/>
<circle cx="683.9" cy="1133.3" r="1.10" fill="#b9b9c0"/>
<circle cx="715.0" cy="1133.3" r="1.60" fill="#c3b3dc"/>
<circle cx="746.1" cy="1133.3" r="1.80" fill="#bea9df"/>
<circle cx="777.2" cy="1133.3" r="1.10" fill="#b9b9c0"/>
<circle cx="808.3" cy="1133.3" r="6.60" fill="#0000ff"/>
<circle cx="839.3" cy="1133.3" r="1.10" fill="#b9b9c0"/>
<circle cx="870.4" cy="1133.3" r="1.80" fill="#bea9df"/>
<circle cx="901.5" cy="1133.3" r="1.10" fill="#b9b9c0"/>
<circle cx="932.6" cy="1133.3" r="1.10" fill="#b9b9c0"/>
<circle cx="963.7" cy="1133.3" r="1.10" fill="#b9b9c0"/>
<circle cx="994.7" cy="1133.3" r="1.10" fill="#b9b9c0"/>
<circle cx="1025.8" cy="1133.3" r="1.10" fill="#b9b9c0"/>
<circle cx="1056.9" cy="1133.3" r="5.00" fill="#0000ff"/>
<circle cx="590.7" cy="1156.5" r="1.10" fill="#b9b9c0"/>
<circle cx="621.8" cy="1156.5" r="3.50" fill="#aa89e7"/>
<circle cx="652.9" cy="1156.5" r="3.80" fill="#653cf8"/>
<circle cx="683.9" cy="1156.5" r="1.10" fill="#b9b9c0"/>
<circle cx="715.0" cy="1156.5" r="4.30" fill="#aa89e7"/>
<circle cx="746.1" cy="1156.5" r="6.10" fill="#653cf8"/>
<circle cx="777.2" cy="1156.5" r="2.10" fill="#c3b3dc"/>
<circle cx="808.3" cy="1156.5" r="6.30" fill="#a27eea"/>
<circle cx="839.3" cy="1156.5" r="2.80" fill="#b79ee2"/>
<circle cx="870.4" cy="1156.5" r="1.10" fill="#b9b9c0"/>
<circle cx="901.5" cy="1156.5" r="2.00" fill="#c3b3dc"/>
<circle cx="932.6" cy="1156.5" r="4.80" fill="#aa89e7"/>
<circle cx="963.7" cy="1156.5" r="3.60" fill="#aa89e7"/>
<circle cx="994.7" cy="1156.5" r="3.20" fill="#aa89e7"/>
<circle cx="1025.8" cy="1156.5" r="3.80" fill="#9269ef"/>
<circle cx="1056.9" cy="1156.5" r="4.20" fill="#b194e5"/>
<circle cx="590.7" cy="1179.8" r="1.10" fill="#b9b9c0"/>
<circle cx="621.8" cy="1179.8" r="1.00" fill="#b9b9c0"/>
<circle cx="652.9" cy="1179.8" r="1.00" fill="#b9b9c0"/>
<circle cx="683.9" cy="1179.8" r="1.10" fill="#b9b9c0"/>
<circle cx="715.0" cy="1179.8" r="1.50" fill="#c3b3dc"/>
<circle cx="746.1" cy="1179.8" r="3.00" fill="#a27eea"/>
<circle cx="777.2" cy="1179.8" r="3.50" fill="#0000ff"/>
<circle cx="808.3" cy="1179.8" r="3.50" fill="#a27eea"/>
<circle cx="839.3" cy="1179.8" r="1.10" fill="#b9b9c0"/>
<circle cx="870.4" cy="1179.8" r="1.00" fill="#b9b9c0"/>
<circle cx="901.5" cy="1179.8" r="1.10" fill="#b9b9c0"/>
<circle cx="932.6" cy="1179.8" r="1.10" fill="#b9b9c0"/>
<circle cx="963.7" cy="1179.8" r="1.10" fill="#b9b9c0"/>
<circle cx="994.7" cy="1179.8" r="1.10" fill="#b9b9c0"/>
<circle cx="1025.8" cy="1179.8" r="1.10" fill="#b9b9c0"/>
<circle cx="1056.9" cy="1179.8" r="1.10" fill="#b9b9c0"/>
<circle cx="590.7" cy="1203.1" r="2.00" fill="#bea9df"/>
<circle cx="621.8" cy="1203.1" r="2.00" fill="#bea9df"/>
<circle cx="652.9" cy="1203.1" r="2.50" fill="#bea9df"/>
<circle cx="683.9" cy="1203.1" r="2.80" fill="#b79ee2"/>
<circle cx="715.0" cy="1203.1" r="2.80" fill="#b79ee2"/>
<circle cx="746.1" cy="1203.1" r="5.00" fill="#aa89e7"/>
<circle cx="777.2" cy="1203.1" r="6.00" fill="#5630fa"/>
<circle cx="808.3" cy="1203.1" r="5.00" fill="#b194e5"/>
<circle cx="839.3" cy="1203.1" r="6.80" fill="#aa89e7"/>
<circle cx="870.4" cy="1203.1" r="1.50" fill="#c9bed9"/>
<circle cx="901.5" cy="1203.1" r="7.30" fill="#0000ff"/>
<circle cx="932.6" cy="1203.1" r="4.00" fill="#b194e5"/>
<circle cx="963.7" cy="1203.1" r="5.50" fill="#aa89e7"/>
<circle cx="994.7" cy="1203.1" r="6.50" fill="#9a74ed"/>
<circle cx="1025.8" cy="1203.1" r="5.50" fill="#9269ef"/>
<circle cx="1056.9" cy="1203.1" r="4.80" fill="#b194e5"/>
<circle cx="590.7" cy="1226.3" r="1.10" fill="#b9b9c0"/>
<circle cx="621.8" cy="1226.3" r="1.10" fill="#b9b9c0"/>
<circle cx="652.9" cy="1226.3" r="1.10" fill="#b9b9c0"/>
<circle cx="683.9" cy="1226.3" r="4.00" fill="#a27eea"/>
<circle cx="715.0" cy="1226.3" r="7.00" fill="#653cf8"/>
<circle cx="746.1" cy="1226.3" r="7.20" fill="#210cfe"/>
<circle cx="777.2" cy="1226.3" r="4.80" fill="#9269ef"/>
<circle cx="808.3" cy="1226.3" r="7.00" fill="#7e53f4"/>
<circle cx="839.3" cy="1226.3" r="1.50" fill="#c9bed9"/>
<circle cx="870.4" cy="1226.3" r="1.20" fill="#b9b9c0"/>
<circle cx="901.5" cy="1226.3" r="1.00" fill="#b9b9c0"/>
<circle cx="932.6" cy="1226.3" r="1.00" fill="#b9b9c0"/>
<circle cx="963.7" cy="1226.3" r="1.00" fill="#b9b9c0"/>
<circle cx="994.7" cy="1226.3" r="1.00" fill="#b9b9c0"/>
<circle cx="1025.8" cy="1226.3" r="1.00" fill="#b9b9c0"/>
<circle cx="1056.9" cy="1226.3" r="1.00" fill="#b9b9c0"/>
<circle cx="590.7" cy="1249.6" r="1.10" fill="#b9b9c0"/>
<circle cx="621.8" cy="1249.6" r="1.10" fill="#b9b9c0"/>
<circle cx="652.9" cy="1249.6" r="6.30" fill="#0000ff"/>
<circle cx="683.9" cy="1249.6" r="1.10" fill="#b9b9c0"/>
<circle cx="715.0" cy="1249.6" r="1.10" fill="#b9b9c0"/>
<circle cx="746.1" cy="1249.6" r="1.10" fill="#b9b9c0"/>
<circle cx="777.2" cy="1249.6" r="1.10" fill="#b9b9c0"/>
<circle cx="808.3" cy="1249.6" r="1.10" fill="#b9b9c0"/>
<circle cx="839.3" cy="1249.6" r="1.10" fill="#b9b9c0"/>
<circle cx="870.4" cy="1249.6" r="1.10" fill="#b9b9c0"/>
<circle cx="901.5" cy="1249.6" r="1.10" fill="#b9b9c0"/>
<circle cx="932.6" cy="1249.6" r="1.10" fill="#b9b9c0"/>
<circle cx="963.7" cy="1249.6" r="1.10" fill="#b9b9c0"/>
<circle cx="994.7" cy="1249.6" r="1.10" fill="#b9b9c0"/>
<circle cx="1025.8" cy="1249.6" r="1.10" fill="#b9b9c0"/>
<circle cx="1056.9" cy="1249.6" r="1.10" fill="#b9b9c0"/>
<circle cx="590.7" cy="1272.9" r="5.50" fill="#885ef1"/>
<circle cx="621.8" cy="1272.9" r="6.50" fill="#a27eea"/>
<circle cx="652.9" cy="1272.9" r="6.80" fill="#0000ff"/>
<circle cx="683.9" cy="1272.9" r="1.80" fill="#c9bed9"/>
<circle cx="715.0" cy="1272.9" r="5.20" fill="#aa89e7"/>
<circle cx="746.1" cy="1272.9" r="5.50" fill="#aa89e7"/>
<circle cx="777.2" cy="1272.9" r="4.20" fill="#a27eea"/>
<circle cx="808.3" cy="1272.9" r="6.00" fill="#b194e5"/>
<circle cx="839.3" cy="1272.9" r="3.00" fill="#b79ee2"/>
<circle cx="870.4" cy="1272.9" r="6.80" fill="#7248f6"/>
<circle cx="901.5" cy="1272.9" r="2.00" fill="#c9bed9"/>
<circle cx="932.6" cy="1272.9" r="4.00" fill="#b79ee2"/>
<circle cx="963.7" cy="1272.9" r="3.50" fill="#b194e5"/>
<circle cx="994.7" cy="1272.9" r="3.00" fill="#b194e5"/>
<circle cx="1025.8" cy="1272.9" r="2.50" fill="#b79ee2"/>
<circle cx="1056.9" cy="1272.9" r="3.80" fill="#b79ee2"/>
<circle cx="590.7" cy="1296.2" r="2.80" fill="#b194e5"/>
<circle cx="621.8" cy="1296.2" r="5.20" fill="#7248f6"/>
<circle cx="652.9" cy="1296.2" r="1.20" fill="#b9b9c0"/>
<circle cx="683.9" cy="1296.2" r="6.20" fill="#7e53f4"/>
<circle cx="715.0" cy="1296.2" r="6.00" fill="#0000ff"/>
<circle cx="746.1" cy="1296.2" r="1.10" fill="#b9b9c0"/>
<circle cx="777.2" cy="1296.2" r="1.50" fill="#cec8d6"/>
<circle cx="808.3" cy="1296.2" r="1.50" fill="#cec8d6"/>
<circle cx="839.3" cy="1296.2" r="1.50" fill="#cec8d6"/>
<circle cx="870.4" cy="1296.2" r="1.50" fill="#cec8d6"/>
<circle cx="901.5" cy="1296.2" r="1.10" fill="#b9b9c0"/>
<circle cx="932.6" cy="1296.2" r="1.10" fill="#b9b9c0"/>
<circle cx="963.7" cy="1296.2" r="1.10" fill="#b9b9c0"/>
<circle cx="994.7" cy="1296.2" r="1.10" fill="#b9b9c0"/>
<circle cx="1025.8" cy="1296.2" r="1.10" fill="#b9b9c0"/>
<circle cx="1056.9" cy="1296.2" r="1.10" fill="#b9b9c0"/>
<circle cx="590.7" cy="1319.4" r="2.50" fill="#b194e5"/>
<circle cx="621.8" cy="1319.4" r="1.20" fill="#b9b9c0"/>
<circle cx="652.9" cy="1319.4" r="2.50" fill="#aa89e7"/>
<circle cx="683.9" cy="1319.4" r="5.50" fill="#0000ff"/>
<circle cx="715.0" cy="1319.4" r="1.20" fill="#b9b9c0"/>
<circle cx="746.1" cy="1319.4" r="1.20" fill="#b9b9c0"/>
<circle cx="777.2" cy="1319.4" r="2.20" fill="#b79ee2"/>
<circle cx="808.3" cy="1319.4" r="1.20" fill="#b9b9c0"/>
<circle cx="839.3" cy="1319.4" r="3.50" fill="#9a74ed"/>
<circle cx="870.4" cy="1319.4" r="1.20" fill="#b9b9c0"/>
<circle cx="901.5" cy="1319.4" r="2.20" fill="#aa89e7"/>
<circle cx="932.6" cy="1319.4" r="3.80" fill="#aa89e7"/>
<circle cx="963.7" cy="1319.4" r="2.20" fill="#b79ee2"/>
<circle cx="994.7" cy="1319.4" r="2.00" fill="#b194e5"/>
<circle cx="1025.8" cy="1319.4" r="2.50" fill="#b194e5"/>
<circle cx="1056.9" cy="1319.4" r="3.60" fill="#b194e5"/>
<circle cx="590.7" cy="1342.7" r="5.20" fill="#7e53f4"/>
<circle cx="621.8" cy="1342.7" r="4.80" fill="#aa89e7"/>
<circle cx="652.9" cy="1342.7" r="4.00" fill="#9a74ed"/>
<circle cx="683.9" cy="1342.7" r="5.00" fill="#885ef1"/>
<circle cx="715.0" cy="1342.7" r="4.80" fill="#aa89e7"/>
<circle cx="746.1" cy="1342.7" r="2.50" fill="#bea9df"/>
<circle cx="777.2" cy="1342.7" r="3.50" fill="#a27eea"/>
<circle cx="808.3" cy="1342.7" r="3.00" fill="#bea9df"/>
<circle cx="839.3" cy="1342.7" r="3.80" fill="#9a74ed"/>
<circle cx="870.4" cy="1342.7" r="6.80" fill="#0000ff"/>
<circle cx="901.5" cy="1342.7" r="1.10" fill="#b9b9c0"/>
<circle cx="932.6" cy="1342.7" r="1.10" fill="#b9b9c0"/>
<circle cx="963.7" cy="1342.7" r="1.80" fill="#c3b3dc"/>
<circle cx="994.7" cy="1342.7" r="1.10" fill="#b9b9c0"/>
<circle cx="1025.8" cy="1342.7" r="1.10" fill="#b9b9c0"/>
<circle cx="1056.9" cy="1342.7" r="1.10" fill="#b9b9c0"/>
<circle cx="590.7" cy="1366.0" r="4.50" fill="#885ef1"/>
<circle cx="621.8" cy="1366.0" r="6.80" fill="#0000ff"/>
<circle cx="652.9" cy="1366.0" r="4.00" fill="#9269ef"/>
<circle cx="683.9" cy="1366.0" r="2.30" fill="#bea9df"/>
<circle cx="715.0" cy="1366.0" r="1.10" fill="#b9b9c0"/>
<circle cx="746.1" cy="1366.0" r="1.10" fill="#b9b9c0"/>
<circle cx="777.2" cy="1366.0" r="1.10" fill="#b9b9c0"/>
<circle cx="808.3" cy="1366.0" r="1.10" fill="#b9b9c0"/>
<circle cx="839.3" cy="1366.0" r="1.10" fill="#b9b9c0"/>
<circle cx="870.4" cy="1366.0" r="1.10" fill="#b9b9c0"/>
<circle cx="901.5" cy="1366.0" r="1.00" fill="#b9b9c0"/>
<circle cx="932.6" cy="1366.0" r="1.00" fill="#b9b9c0"/>
<circle cx="963.7" cy="1366.0" r="1.00" fill="#b9b9c0"/>
<circle cx="994.7" cy="1366.0" r="1.00" fill="#b9b9c0"/>
<circle cx="1025.8" cy="1366.0" r="1.00" fill="#b9b9c0"/>
<circle cx="1056.9" cy="1366.0" r="1.00" fill="#b9b9c0"/>
<circle cx="590.7" cy="1389.2" r="6.00" fill="#a27eea"/>
<circle cx="621.8" cy="1389.2" r="6.50" fill="#9269ef"/>
<circle cx="652.9" cy="1389.2" r="6.50" fill="#9a74ed"/>
<circle cx="683.9" cy="1389.2" r="6.50" fill="#9a74ed"/>
<circle cx="715.0" cy="1389.2" r="7.00" fill="#9269ef"/>
<circle cx="746.1" cy="1389.2" r="7.00" fill="#885ef1"/>
<circle cx="777.2" cy="1389.2" r="6.50" fill="#9269ef"/>
<circle cx="808.3" cy="1389.2" r="7.00" fill="#a27eea"/>
<circle cx="839.3" cy="1389.2" r="7.00" fill="#a27eea"/>
<circle cx="870.4" cy="1389.2" r="6.00" fill="#aa89e7"/>
<circle cx="901.5" cy="1389.2" r="1.10" fill="#b9b9c0"/>
<circle cx="932.6" cy="1389.2" r="1.10" fill="#b9b9c0"/>
<circle cx="963.7" cy="1389.2" r="1.10" fill="#b9b9c0"/>
<circle cx="994.7" cy="1389.2" r="1.10" fill="#b9b9c0"/>
<circle cx="1025.8" cy="1389.2" r="1.10" fill="#b9b9c0"/>
<circle cx="1056.9" cy="1389.2" r="1.30" fill="#b9b9c0"/>
<rect x="573.3" y="934.0" width="501.7" height="468.0" fill="none" stroke="#333" stroke-width="2.2"/>
<line x1="568.3" y1="947.1" x2="573.3" y2="947.1" stroke="#333" stroke-width="2.2"/>
<text x="566.8" y="953.9" font-size="19.3" text-anchor="end" font-style="italic">Hspa1a</text>
<line x1="568.3" y1="970.4" x2="573.3" y2="970.4" stroke="#333" stroke-width="2.2"/>
<text x="566.8" y="977.2" font-size="19.3" text-anchor="end" font-style="italic">Isg15</text>
<line x1="568.3" y1="993.6" x2="573.3" y2="993.6" stroke="#333" stroke-width="2.2"/>
<text x="566.8" y="1000.4" font-size="19.3" text-anchor="end" font-style="italic">Tmem176a</text>
<line x1="568.3" y1="1016.9" x2="573.3" y2="1016.9" stroke="#333" stroke-width="2.2"/>
<text x="566.8" y="1023.7" font-size="19.3" text-anchor="end" font-style="italic">Cd226</text>
<line x1="568.3" y1="1040.2" x2="573.3" y2="1040.2" stroke="#333" stroke-width="2.2"/>
<text x="566.8" y="1047.0" font-size="19.3" text-anchor="end" font-style="italic">Spp1</text>
<line x1="568.3" y1="1063.5" x2="573.3" y2="1063.5" stroke="#333" stroke-width="2.2"/>
<text x="566.8" y="1070.2" font-size="19.3" text-anchor="end" font-style="italic">Ncr1</text>
<line x1="568.3" y1="1086.7" x2="573.3" y2="1086.7" stroke="#333" stroke-width="2.2"/>
<text x="566.8" y="1093.5" font-size="19.3" text-anchor="end" font-style="italic">Tcrg−C1</text>
<line x1="568.3" y1="1110.0" x2="573.3" y2="1110.0" stroke="#333" stroke-width="2.2"/>
<text x="566.8" y="1116.8" font-size="19.3" text-anchor="end" font-style="italic">Top2a</text>
<line x1="568.3" y1="1133.3" x2="573.3" y2="1133.3" stroke="#333" stroke-width="2.2"/>
<text x="566.8" y="1140.1" font-size="19.3" text-anchor="end" font-style="italic">Mki67</text>
<line x1="568.3" y1="1156.5" x2="573.3" y2="1156.5" stroke="#333" stroke-width="2.2"/>
<text x="566.8" y="1163.3" font-size="19.3" text-anchor="end" font-style="italic">Itgav</text>
<line x1="568.3" y1="1179.8" x2="573.3" y2="1179.8" stroke="#333" stroke-width="2.2"/>
<text x="566.8" y="1186.6" font-size="19.3" text-anchor="end" font-style="italic">Gzmk</text>
<line x1="568.3" y1="1203.1" x2="573.3" y2="1203.1" stroke="#333" stroke-width="2.2"/>
<text x="566.8" y="1209.9" font-size="19.3" text-anchor="end" font-style="italic">Ccl5</text>
<line x1="568.3" y1="1226.3" x2="573.3" y2="1226.3" stroke="#333" stroke-width="2.2"/>
<text x="566.8" y="1233.1" font-size="19.3" text-anchor="end" font-style="italic">Cd8a</text>
<line x1="568.3" y1="1249.6" x2="573.3" y2="1249.6" stroke="#333" stroke-width="2.2"/>
<text x="566.8" y="1256.4" font-size="19.3" text-anchor="end" font-style="italic">Foxp3</text>
<line x1="568.3" y1="1272.9" x2="573.3" y2="1272.9" stroke="#333" stroke-width="2.2"/>
<text x="566.8" y="1279.7" font-size="19.3" text-anchor="end" font-style="italic">Icos</text>
<line x1="568.3" y1="1296.2" x2="573.3" y2="1296.2" stroke="#333" stroke-width="2.2"/>
<text x="566.8" y="1303.0" font-size="19.3" text-anchor="end" font-style="italic">Ccr7</text>
<line x1="568.3" y1="1319.4" x2="573.3" y2="1319.4" stroke="#333" stroke-width="2.2"/>
<text x="566.8" y="1326.2" font-size="19.3" text-anchor="end" font-style="italic">Lef1</text>
<line x1="568.3" y1="1342.7" x2="573.3" y2="1342.7" stroke="#333" stroke-width="2.2"/>
<text x="566.8" y="1349.5" font-size="19.3" text-anchor="end" font-style="italic">Il7r</text>
<line x1="568.3" y1="1366.0" x2="573.3" y2="1366.0" stroke="#333" stroke-width="2.2"/>
<text x="566.8" y="1372.8" font-size="19.3" text-anchor="end" font-style="italic">Cd4</text>
<line x1="568.3" y1="1389.2" x2="573.3" y2="1389.2" stroke="#333" stroke-width="2.2"/>
<text x="566.8" y="1396.0" font-size="19.3" text-anchor="end" font-style="italic">Cd3d</text>
<line x1="590.7" y1="1402.0" x2="590.7" y2="1407.0" stroke="#333" stroke-width="2.2"/>
<text x="602.7" y="1421.0" font-size="20.5" text-anchor="end" transform="rotate(-45 602.7 1421.0)">CD4_Il7r</text>
<line x1="621.8" y1="1402.0" x2="621.8" y2="1407.0" stroke="#333" stroke-width="2.2"/>
<text x="633.8" y="1421.0" font-size="20.5" text-anchor="end" transform="rotate(-45 633.8 1421.0)">CD4_Ccr7</text>
<line x1="652.9" y1="1402.0" x2="652.9" y2="1407.0" stroke="#333" stroke-width="2.2"/>
<text x="664.9" y="1421.0" font-size="20.5" text-anchor="end" transform="rotate(-45 664.9 1421.0)">CD4_Treg</text>
<line x1="683.9" y1="1402.0" x2="683.9" y2="1407.0" stroke="#333" stroke-width="2.2"/>
<text x="695.9" y="1421.0" font-size="20.5" text-anchor="end" transform="rotate(-45 695.9 1421.0)">CD8_Il7r</text>
<line x1="715.0" y1="1402.0" x2="715.0" y2="1407.0" stroke="#333" stroke-width="2.2"/>
<text x="727.0" y="1421.0" font-size="20.5" text-anchor="end" transform="rotate(-45 727.0 1421.0)">CD8_Ccr7</text>
<line x1="746.1" y1="1402.0" x2="746.1" y2="1407.0" stroke="#333" stroke-width="2.2"/>
<text x="758.1" y="1421.0" font-size="20.5" text-anchor="end" transform="rotate(-45 758.1 1421.0)">CD8_Ccl5</text>
<line x1="777.2" y1="1402.0" x2="777.2" y2="1407.0" stroke="#333" stroke-width="2.2"/>
<text x="789.2" y="1421.0" font-size="20.5" text-anchor="end" transform="rotate(-45 789.2 1421.0)">CD8_Gzmk</text>
<line x1="808.3" y1="1402.0" x2="808.3" y2="1407.0" stroke="#333" stroke-width="2.2"/>
<text x="820.3" y="1421.0" font-size="20.5" text-anchor="end" transform="rotate(-45 820.3 1421.0)">CD8_proliferation</text>
<line x1="839.3" y1="1402.0" x2="839.3" y2="1407.0" stroke="#333" stroke-width="2.2"/>
<text x="851.3" y="1421.0" font-size="20.5" text-anchor="end" transform="rotate(-45 851.3 1421.0)">CD3_DN</text>
<line x1="870.4" y1="1402.0" x2="870.4" y2="1407.0" stroke="#333" stroke-width="2.2"/>
<text x="882.4" y="1421.0" font-size="20.5" text-anchor="end" transform="rotate(-45 882.4 1421.0)">gd_T</text>
<line x1="901.5" y1="1402.0" x2="901.5" y2="1407.0" stroke="#333" stroke-width="2.2"/>
<text x="913.5" y="1421.0" font-size="20.5" text-anchor="end" transform="rotate(-45 913.5 1421.0)">NK_Ccl5</text>
<line x1="932.6" y1="1402.0" x2="932.6" y2="1407.0" stroke="#333" stroke-width="2.2"/>
<text x="944.6" y="1421.0" font-size="20.5" text-anchor="end" transform="rotate(-45 944.6 1421.0)">NK_Spp1</text>
<line x1="963.7" y1="1402.0" x2="963.7" y2="1407.0" stroke="#333" stroke-width="2.2"/>
<text x="975.7" y="1421.0" font-size="20.5" text-anchor="end" transform="rotate(-45 975.7 1421.0)">NK_Cd226</text>
<line x1="994.7" y1="1402.0" x2="994.7" y2="1407.0" stroke="#333" stroke-width="2.2"/>
<text x="1006.7" y="1421.0" font-size="20.5" text-anchor="end" transform="rotate(-45 1006.7 1421.0)">NK_Isg15</text>
<line x1="1025.8" y1="1402.0" x2="1025.8" y2="1407.0" stroke="#333" stroke-width="2.2"/>
<text x="1037.8" y="1421.0" font-size="20.5" text-anchor="end" transform="rotate(-45 1037.8 1421.0)">NK_Hspa1a</text>
<line x1="1056.9" y1="1402.0" x2="1056.9" y2="1407.0" stroke="#333" stroke-width="2.2"/>
<text x="1068.9" y="1421.0" font-size="20.5" text-anchor="end" transform="rotate(-45 1068.9 1421.0)">NK_proliferation</text>
<line x1="1233.4" y1="941.2" x2="1233.4" y2="1404.5" stroke="#222" stroke-width="2.7" stroke-dasharray="0 9.3" stroke-linecap="round"/>
<line x1="1357.4" y1="941.2" x2="1357.4" y2="1404.5" stroke="#222" stroke-width="2.7" stroke-dasharray="0 9.3" stroke-linecap="round"/>
<circle cx="1186.8" cy="944.4" r="3.00" fill="#b194e5"/>
<circle cx="1217.8" cy="944.4" r="2.00" fill="#bea9df"/>
<circle cx="1248.7" cy="944.4" r="1.00" fill="#b9b9c0"/>
<circle cx="1279.7" cy="944.4" r="1.00" fill="#b9b9c0"/>
<circle cx="1310.7" cy="944.4" r="1.00" fill="#b9b9c0"/>
<circle cx="1341.6" cy="944.4" r="1.00" fill="#b9b9c0"/>
<circle cx="1372.6" cy="944.4" r="1.00" fill="#b9b9c0"/>
<circle cx="1403.6" cy="944.4" r="5.50" fill="#0000ff"/>
<circle cx="1186.8" cy="963.1" r="1.20" fill="#b9b9c0"/>
<circle cx="1217.8" cy="963.1" r="1.20" fill="#b9b9c0"/>
<circle cx="1248.7" cy="963.1" r="1.00" fill="#b9b9c0"/>
<circle cx="1279.7" cy="963.1" r="1.00" fill="#b9b9c0"/>
<circle cx="1310.7" cy="963.1" r="1.00" fill="#b9b9c0"/>
<circle cx="1341.6" cy="963.1" r="1.00" fill="#b9b9c0"/>
<circle cx="1372.6" cy="963.1" r="1.00" fill="#b9b9c0"/>
<circle cx="1403.6" cy="963.1" r="7.00" fill="#0000ff"/>
<circle cx="1186.8" cy="981.9" r="1.20" fill="#b9b9c0"/>
<circle cx="1217.8" cy="981.9" r="1.20" fill="#b9b9c0"/>
<circle cx="1248.7" cy="981.9" r="1.00" fill="#b9b9c0"/>
<circle cx="1279.7" cy="981.9" r="1.00" fill="#b9b9c0"/>
<circle cx="1310.7" cy="981.9" r="1.00" fill="#b9b9c0"/>
<circle cx="1341.6" cy="981.9" r="1.00" fill="#b9b9c0"/>
<circle cx="1372.6" cy="981.9" r="1.00" fill="#b9b9c0"/>
<circle cx="1403.6" cy="981.9" r="7.00" fill="#0000ff"/>
<circle cx="1186.8" cy="1000.6" r="1.00" fill="#b9b9c0"/>
<circle cx="1217.8" cy="1000.6" r="1.00" fill="#b9b9c0"/>
<circle cx="1248.7" cy="1000.6" r="1.00" fill="#b9b9c0"/>
<circle cx="1279.7" cy="1000.6" r="1.00" fill="#b9b9c0"/>
<circle cx="1310.7" cy="1000.6" r="1.00" fill="#b9b9c0"/>
<circle cx="1341.6" cy="1000.6" r="1.00" fill="#b9b9c0"/>
<circle cx="1372.6" cy="1000.6" r="1.00" fill="#b9b9c0"/>
<circle cx="1403.6" cy="1000.6" r="4.00" fill="#0000ff"/>
<circle cx="1186.8" cy="1019.4" r="1.00" fill="#b9b9c0"/>
<circle cx="1217.8" cy="1019.4" r="1.00" fill="#b9b9c0"/>
<circle cx="1248.7" cy="1019.4" r="1.50" fill="#c3b3dc"/>
<circle cx="1279.7" cy="1019.4" r="1.00" fill="#b9b9c0"/>
<circle cx="1310.7" cy="1019.4" r="1.00" fill="#b9b9c0"/>
<circle cx="1341.6" cy="1019.4" r="1.00" fill="#b9b9c0"/>
<circle cx="1372.6" cy="1019.4" r="7.00" fill="#0000ff"/>
<circle cx="1403.6" cy="1019.4" r="1.00" fill="#b9b9c0"/>
<circle cx="1186.8" cy="1038.1" r="1.00" fill="#b9b9c0"/>
<circle cx="1217.8" cy="1038.1" r="1.00" fill="#b9b9c0"/>
<circle cx="1248.7" cy="1038.1" r="5.80" fill="#b194e5"/>
<circle cx="1279.7" cy="1038.1" r="1.80" fill="#c3b3dc"/>
<circle cx="1310.7" cy="1038.1" r="1.00" fill="#b9b9c0"/>
<circle cx="1341.6" cy="1038.1" r="1.00" fill="#b9b9c0"/>
<circle cx="1372.6" cy="1038.1" r="5.50" fill="#0000ff"/>
<circle cx="1403.6" cy="1038.1" r="1.00" fill="#b9b9c0"/>
<circle cx="1186.8" cy="1056.8" r="1.00" fill="#b9b9c0"/>
<circle cx="1217.8" cy="1056.8" r="1.00" fill="#b9b9c0"/>
<circle cx="1248.7" cy="1056.8" r="1.00" fill="#b9b9c0"/>
<circle cx="1279.7" cy="1056.8" r="1.00" fill="#b9b9c0"/>
<circle cx="1310.7" cy="1056.8" r="1.00" fill="#b9b9c0"/>
<circle cx="1341.6" cy="1056.8" r="7.50" fill="#0000ff"/>
<circle cx="1372.6" cy="1056.8" r="1.00" fill="#b9b9c0"/>
<circle cx="1403.6" cy="1056.8" r="1.00" fill="#b9b9c0"/>
<circle cx="1186.8" cy="1075.6" r="1.00" fill="#b9b9c0"/>
<circle cx="1217.8" cy="1075.6" r="1.00" fill="#b9b9c0"/>
<circle cx="1248.7" cy="1075.6" r="1.00" fill="#b9b9c0"/>
<circle cx="1279.7" cy="1075.6" r="1.50" fill="#cec8d6"/>
<circle cx="1310.7" cy="1075.6" r="1.00" fill="#b9b9c0"/>
<circle cx="1341.6" cy="1075.6" r="7.50" fill="#0000ff"/>
<circle cx="1372.6" cy="1075.6" r="1.00" fill="#b9b9c0"/>
<circle cx="1403.6" cy="1075.6" r="1.00" fill="#b9b9c0"/>
<circle cx="1186.8" cy="1094.3" r="1.00" fill="#b9b9c0"/>
<circle cx="1217.8" cy="1094.3" r="1.00" fill="#b9b9c0"/>
<circle cx="1248.7" cy="1094.3" r="1.80" fill="#c3b3dc"/>
<circle cx="1279.7" cy="1094.3" r="1.00" fill="#b9b9c0"/>
<circle cx="1310.7" cy="1094.3" r="6.00" fill="#4121fc"/>
<circle cx="1341.6" cy="1094.3" r="3.80" fill="#aa89e7"/>
<circle cx="1372.6" cy="1094.3" r="1.00" fill="#b9b9c0"/>
<circle cx="1403.6" cy="1094.3" r="1.00" fill="#b9b9c0"/>
<circle cx="1186.8" cy="1113.1" r="1.00" fill="#b9b9c0"/>
<circle cx="1217.8" cy="1113.1" r="1.00" fill="#b9b9c0"/>
<circle cx="1248.7" cy="1113.1" r="1.00" fill="#b9b9c0"/>
<circle cx="1279.7" cy="1113.1" r="1.00" fill="#b9b9c0"/>
<circle cx="1310.7" cy="1113.1" r="7.00" fill="#0000ff"/>
<circle cx="1341.6" cy="1113.1" r="1.00" fill="#b9b9c0"/>
<circle cx="1372.6" cy="1113.1" r="1.00" fill="#b9b9c0"/>
<circle cx="1403.6" cy="1113.1" r="1.00" fill="#b9b9c0"/>
<circle cx="1186.8" cy="1131.8" r="1.00" fill="#b9b9c0"/>
<circle cx="1217.8" cy="1131.8" r="1.00" fill="#b9b9c0"/>
<circle cx="1248.7" cy="1131.8" r="1.00" fill="#b9b9c0"/>
<circle cx="1279.7" cy="1131.8" r="1.00" fill="#b9b9c0"/>
<circle cx="1310.7" cy="1131.8" r="7.00" fill="#0000ff"/>
<circle cx="1341.6" cy="1131.8" r="1.00" fill="#b9b9c0"/>
<circle cx="1372.6" cy="1131.8" r="1.00" fill="#b9b9c0"/>
<circle cx="1403.6" cy="1131.8" r="1.00" fill="#b9b9c0"/>
<circle cx="1186.8" cy="1150.5" r="1.00" fill="#b9b9c0"/>
<circle cx="1217.8" cy="1150.5" r="1.00" fill="#b9b9c0"/>
<circle cx="1248.7" cy="1150.5" r="1.50" fill="#c3b3dc"/>
<circle cx="1279.7" cy="1150.5" r="4.50" fill="#5630fa"/>
<circle cx="1310.7" cy="1150.5" r="1.00" fill="#b9b9c0"/>
<circle cx="1341.6" cy="1150.5" r="3.80" fill="#aa89e7"/>
<circle cx="1372.6" cy="1150.5" r="1.80" fill="#bea9df"/>
<circle cx="1403.6" cy="1150.5" r="1.00" fill="#b9b9c0"/>
<circle cx="1186.8" cy="1169.3" r="1.00" fill="#b9b9c0"/>
<circle cx="1217.8" cy="1169.3" r="1.00" fill="#b9b9c0"/>
<circle cx="1248.7" cy="1169.3" r="1.00" fill="#b9b9c0"/>
<circle cx="1279.7" cy="1169.3" r="6.20" fill="#0000ff"/>
<circle cx="1310.7" cy="1169.3" r="1.00" fill="#b9b9c0"/>
<circle cx="1341.6" cy="1169.3" r="3.00" fill="#b194e5"/>
<circle cx="1372.6" cy="1169.3" r="1.00" fill="#b9b9c0"/>
<circle cx="1403.6" cy="1169.3" r="1.00" fill="#b9b9c0"/>
<circle cx="1186.8" cy="1188.0" r="1.00" fill="#b9b9c0"/>
<circle cx="1217.8" cy="1188.0" r="1.00" fill="#b9b9c0"/>
<circle cx="1248.7" cy="1188.0" r="5.00" fill="#0000ff"/>
<circle cx="1279.7" cy="1188.0" r="1.00" fill="#b9b9c0"/>
<circle cx="1310.7" cy="1188.0" r="1.00" fill="#b9b9c0"/>
<circle cx="1341.6" cy="1188.0" r="1.00" fill="#b9b9c0"/>
<circle cx="1372.6" cy="1188.0" r="1.00" fill="#b9b9c0"/>
<circle cx="1403.6" cy="1188.0" r="1.00" fill="#b9b9c0"/>
<circle cx="1186.8" cy="1206.8" r="1.00" fill="#b9b9c0"/>
<circle cx="1217.8" cy="1206.8" r="1.00" fill="#b9b9c0"/>
<circle cx="1248.7" cy="1206.8" r="5.20" fill="#0000ff"/>
<circle cx="1279.7" cy="1206.8" r="1.50" fill="#c3b3dc"/>
<circle cx="1310.7" cy="1206.8" r="2.00" fill="#bea9df"/>
<circle cx="1341.6" cy="1206.8" r="2.00" fill="#b79ee2"/>
<circle cx="1372.6" cy="1206.8" r="1.00" fill="#b9b9c0"/>
<circle cx="1403.6" cy="1206.8" r="1.00" fill="#b9b9c0"/>
<circle cx="1186.8" cy="1225.5" r="1.00" fill="#b9b9c0"/>
<circle cx="1217.8" cy="1225.5" r="3.00" fill="#0000ff"/>
<circle cx="1248.7" cy="1225.5" r="2.80" fill="#aa89e7"/>
<circle cx="1279.7" cy="1225.5" r="1.00" fill="#b9b9c0"/>
<circle cx="1310.7" cy="1225.5" r="1.00" fill="#b9b9c0"/>
<circle cx="1341.6" cy="1225.5" r="2.00" fill="#bea9df"/>
<circle cx="1372.6" cy="1225.5" r="1.00" fill="#b9b9c0"/>
<circle cx="1403.6" cy="1225.5" r="1.00" fill="#b9b9c0"/>
<circle cx="1186.8" cy="1244.2" r="6.50" fill="#b194e5"/>
<circle cx="1217.8" cy="1244.2" r="7.00" fill="#5630fa"/>
<circle cx="1248.7" cy="1244.2" r="6.50" fill="#b79ee2"/>
<circle cx="1279.7" cy="1244.2" r="5.50" fill="#b194e5"/>
<circle cx="1310.7" cy="1244.2" r="1.80" fill="#c9bed9"/>
<circle cx="1341.6" cy="1244.2" r="4.00" fill="#c3b3dc"/>
<circle cx="1372.6" cy="1244.2" r="5.50" fill="#aa89e7"/>
<circle cx="1403.6" cy="1244.2" r="4.00" fill="#aa89e7"/>
<circle cx="1186.8" cy="1263.0" r="1.50" fill="#c9bed9"/>
<circle cx="1217.8" cy="1263.0" r="4.80" fill="#0000ff"/>
<circle cx="1248.7" cy="1263.0" r="1.00" fill="#b9b9c0"/>
<circle cx="1279.7" cy="1263.0" r="1.00" fill="#b9b9c0"/>
<circle cx="1310.7" cy="1263.0" r="1.00" fill="#b9b9c0"/>
<circle cx="1341.6" cy="1263.0" r="1.00" fill="#b9b9c0"/>
<circle cx="1372.6" cy="1263.0" r="1.00" fill="#b9b9c0"/>
<circle cx="1403.6" cy="1263.0" r="1.00" fill="#b9b9c0"/>
<circle cx="1186.8" cy="1281.7" r="1.50" fill="#c9bed9"/>
<circle cx="1217.8" cy="1281.7" r="6.00" fill="#0000ff"/>
<circle cx="1248.7" cy="1281.7" r="1.00" fill="#b9b9c0"/>
<circle cx="1279.7" cy="1281.7" r="1.00" fill="#b9b9c0"/>
<circle cx="1310.7" cy="1281.7" r="1.00" fill="#b9b9c0"/>
<circle cx="1341.6" cy="1281.7" r="1.00" fill="#b9b9c0"/>
<circle cx="1372.6" cy="1281.7" r="1.00" fill="#b9b9c0"/>
<circle cx="1403.6" cy="1281.7" r="1.00" fill="#b9b9c0"/>
<circle cx="1186.8" cy="1300.5" r="1.50" fill="#c9bed9"/>
<circle cx="1217.8" cy="1300.5" r="3.00" fill="#0000ff"/>
<circle cx="1248.7" cy="1300.5" r="1.00" fill="#b9b9c0"/>
<circle cx="1279.7" cy="1300.5" r="1.80" fill="#c3b3dc"/>
<circle cx="1310.7" cy="1300.5" r="1.00" fill="#b9b9c0"/>
<circle cx="1341.6" cy="1300.5" r="1.00" fill="#b9b9c0"/>
<circle cx="1372.6" cy="1300.5" r="1.50" fill="#cec8d6"/>
<circle cx="1403.6" cy="1300.5" r="1.00" fill="#b9b9c0"/>
<circle cx="1186.8" cy="1319.2" r="7.00" fill="#5630fa"/>
<circle cx="1217.8" cy="1319.2" r="4.50" fill="#a27eea"/>
<circle cx="1248.7" cy="1319.2" r="3.50" fill="#b79ee2"/>
<circle cx="1279.7" cy="1319.2" r="5.50" fill="#aa89e7"/>
<circle cx="1310.7" cy="1319.2" r="1.00" fill="#b9b9c0"/>
<circle cx="1341.6" cy="1319.2" r="4.50" fill="#b194e5"/>
<circle cx="1372.6" cy="1319.2" r="1.00" fill="#b9b9c0"/>
<circle cx="1403.6" cy="1319.2" r="1.00" fill="#b9b9c0"/>
<circle cx="1186.8" cy="1337.9" r="7.50" fill="#7248f6"/>
<circle cx="1217.8" cy="1337.9" r="4.00" fill="#b194e5"/>
<circle cx="1248.7" cy="1337.9" r="2.20" fill="#c9bed9"/>
<circle cx="1279.7" cy="1337.9" r="5.00" fill="#b194e5"/>
<circle cx="1310.7" cy="1337.9" r="1.00" fill="#b9b9c0"/>
<circle cx="1341.6" cy="1337.9" r="7.50" fill="#653cf8"/>
<circle cx="1372.6" cy="1337.9" r="1.00" fill="#b9b9c0"/>
<circle cx="1403.6" cy="1337.9" r="1.00" fill="#b9b9c0"/>
<circle cx="1186.8" cy="1356.7" r="2.00" fill="#0000ff"/>
<circle cx="1217.8" cy="1356.7" r="1.00" fill="#b9b9c0"/>
<circle cx="1248.7" cy="1356.7" r="1.00" fill="#b9b9c0"/>
<circle cx="1279.7" cy="1356.7" r="1.00" fill="#b9b9c0"/>
<circle cx="1310.7" cy="1356.7" r="1.00" fill="#b9b9c0"/>
<circle cx="1341.6" cy="1356.7" r="1.00" fill="#b9b9c0"/>
<circle cx="1372.6" cy="1356.7" r="1.00" fill="#b9b9c0"/>
<circle cx="1403.6" cy="1356.7" r="1.00" fill="#b9b9c0"/>
<circle cx="1186.8" cy="1375.4" r="1.20" fill="#b9b9c0"/>
<circle cx="1217.8" cy="1375.4" r="1.00" fill="#b9b9c0"/>
<circle cx="1248.7" cy="1375.4" r="1.00" fill="#b9b9c0"/>
<circle cx="1279.7" cy="1375.4" r="1.00" fill="#b9b9c0"/>
<circle cx="1310.7" cy="1375.4" r="1.00" fill="#b9b9c0"/>
<circle cx="1341.6" cy="1375.4" r="1.00" fill="#b9b9c0"/>
<circle cx="1372.6" cy="1375.4" r="1.00" fill="#b9b9c0"/>
<circle cx="1403.6" cy="1375.4" r="1.00" fill="#b9b9c0"/>
<circle cx="1186.8" cy="1394.2" r="1.20" fill="#b9b9c0"/>
<circle cx="1217.8" cy="1394.2" r="1.00" fill="#b9b9c0"/>
<circle cx="1248.7" cy="1394.2" r="1.00" fill="#b9b9c0"/>
<circle cx="1279.7" cy="1394.2" r="1.00" fill="#b9b9c0"/>
<circle cx="1310.7" cy="1394.2" r="1.00" fill="#b9b9c0"/>
<circle cx="1341.6" cy="1394.2" r="1.00" fill="#b9b9c0"/>
<circle cx="1372.6" cy="1394.2" r="1.00" fill="#b9b9c0"/>
<circle cx="1403.6" cy="1394.2" r="1.20" fill="#b9b9c0"/>
<rect x="1169.3" y="934.2" width="252.5" height="470.3" fill="none" stroke="#333" stroke-width="2.2"/>
<line x1="1164.3" y1="944.4" x2="1169.3" y2="944.4" stroke="#333" stroke-width="2.2"/>
<text x="1162.8" y="951.2" font-size="19.3" text-anchor="end" font-style="italic">Trem1</text>
<line x1="1164.3" y1="963.1" x2="1169.3" y2="963.1" stroke="#333" stroke-width="2.2"/>
<text x="1162.8" y="969.9" font-size="19.3" text-anchor="end" font-style="italic">S100a8</text>
<line x1="1164.3" y1="981.9" x2="1169.3" y2="981.9" stroke="#333" stroke-width="2.2"/>
<text x="1162.8" y="988.7" font-size="19.3" text-anchor="end" font-style="italic">S100a9</text>
<line x1="1164.3" y1="1000.6" x2="1169.3" y2="1000.6" stroke="#333" stroke-width="2.2"/>
<text x="1162.8" y="1007.4" font-size="19.3" text-anchor="end" font-style="italic">Mmp9</text>
<line x1="1164.3" y1="1019.4" x2="1169.3" y2="1019.4" stroke="#333" stroke-width="2.2"/>
<text x="1162.8" y="1026.2" font-size="19.3" text-anchor="end" font-style="italic">Cpa3</text>
<line x1="1164.3" y1="1038.1" x2="1169.3" y2="1038.1" stroke="#333" stroke-width="2.2"/>
<text x="1162.8" y="1044.9" font-size="19.3" text-anchor="end" font-style="italic">Kit</text>
<line x1="1164.3" y1="1056.8" x2="1169.3" y2="1056.8" stroke="#333" stroke-width="2.2"/>
<text x="1162.8" y="1063.6" font-size="19.3" text-anchor="end" font-style="italic">Ccr9</text>
<line x1="1164.3" y1="1075.6" x2="1169.3" y2="1075.6" stroke="#333" stroke-width="2.2"/>
<text x="1162.8" y="1082.4" font-size="19.3" text-anchor="end" font-style="italic">Siglech</text>
<line x1="1164.3" y1="1094.3" x2="1169.3" y2="1094.3" stroke="#333" stroke-width="2.2"/>
<text x="1162.8" y="1101.1" font-size="19.3" text-anchor="end" font-style="italic">Cd200</text>
<line x1="1164.3" y1="1113.1" x2="1169.3" y2="1113.1" stroke="#333" stroke-width="2.2"/>
<text x="1162.8" y="1119.9" font-size="19.3" text-anchor="end" font-style="italic">Ccr7</text>
<line x1="1164.3" y1="1131.8" x2="1169.3" y2="1131.8" stroke="#333" stroke-width="2.2"/>
<text x="1162.8" y="1138.6" font-size="19.3" text-anchor="end" font-style="italic">Fscn1</text>
<line x1="1164.3" y1="1150.5" x2="1169.3" y2="1150.5" stroke="#333" stroke-width="2.2"/>
<text x="1162.8" y="1157.3" font-size="19.3" text-anchor="end" font-style="italic">Clec10a</text>
<line x1="1164.3" y1="1169.3" x2="1169.3" y2="1169.3" stroke="#333" stroke-width="2.2"/>
<text x="1162.8" y="1176.1" font-size="19.3" text-anchor="end" font-style="italic">Cd209a</text>
<line x1="1164.3" y1="1188.0" x2="1169.3" y2="1188.0" stroke="#333" stroke-width="2.2"/>
<text x="1162.8" y="1194.8" font-size="19.3" text-anchor="end" font-style="italic">Xcr1</text>
<line x1="1164.3" y1="1206.8" x2="1169.3" y2="1206.8" stroke="#333" stroke-width="2.2"/>
<text x="1162.8" y="1213.6" font-size="19.3" text-anchor="end" font-style="italic">Clec9a</text>
<line x1="1164.3" y1="1225.5" x2="1169.3" y2="1225.5" stroke="#333" stroke-width="2.2"/>
<text x="1162.8" y="1232.3" font-size="19.3" text-anchor="end" font-style="italic">Cd36</text>
<line x1="1164.3" y1="1244.2" x2="1169.3" y2="1244.2" stroke="#333" stroke-width="2.2"/>
<text x="1162.8" y="1251.0" font-size="19.3" text-anchor="end" font-style="italic">Nr4a1</text>
<line x1="1164.3" y1="1263.0" x2="1169.3" y2="1263.0" stroke="#333" stroke-width="2.2"/>
<text x="1162.8" y="1269.8" font-size="19.3" text-anchor="end" font-style="italic">Adgre4</text>
<line x1="1164.3" y1="1281.7" x2="1169.3" y2="1281.7" stroke="#333" stroke-width="2.2"/>
<text x="1162.8" y="1288.5" font-size="19.3" text-anchor="end" font-style="italic">Ace</text>
<line x1="1164.3" y1="1300.5" x2="1169.3" y2="1300.5" stroke="#333" stroke-width="2.2"/>
<text x="1162.8" y="1307.3" font-size="19.3" text-anchor="end" font-style="italic">Cx3cr1</text>
<line x1="1164.3" y1="1319.2" x2="1169.3" y2="1319.2" stroke="#333" stroke-width="2.2"/>
<text x="1162.8" y="1326.0" font-size="19.3" text-anchor="end" font-style="italic">Ccr2</text>
<line x1="1164.3" y1="1337.9" x2="1169.3" y2="1337.9" stroke="#333" stroke-width="2.2"/>
<text x="1162.8" y="1344.7" font-size="19.3" text-anchor="end" font-style="italic">Ly6c2</text>
<line x1="1164.3" y1="1356.7" x2="1169.3" y2="1356.7" stroke="#333" stroke-width="2.2"/>
<text x="1162.8" y="1363.5" font-size="19.3" text-anchor="end" font-style="italic">Trem2</text>
<line x1="1164.3" y1="1375.4" x2="1169.3" y2="1375.4" stroke="#333" stroke-width="2.2"/>
<text x="1162.8" y="1382.2" font-size="19.3" text-anchor="end" font-style="italic">C1qa</text>
<line x1="1164.3" y1="1394.2" x2="1169.3" y2="1394.2" stroke="#333" stroke-width="2.2"/>
<text x="1162.8" y="1401.0" font-size="19.3" text-anchor="end" font-style="italic">C1qc</text>
<line x1="1186.8" y1="1404.5" x2="1186.8" y2="1409.5" stroke="#333" stroke-width="2.2"/>
<text x="1198.8" y="1423.5" font-size="20.5" text-anchor="end" transform="rotate(-45 1198.8 1423.5)">Mono_Ly6c_high</text>
<line x1="1217.8" y1="1404.5" x2="1217.8" y2="1409.5" stroke="#333" stroke-width="2.2"/>
<text x="1229.8" y="1423.5" font-size="20.5" text-anchor="end" transform="rotate(-45 1229.8 1423.5)">Mono_Ly6c_low</text>
<line x1="1248.7" y1="1404.5" x2="1248.7" y2="1409.5" stroke="#333" stroke-width="2.2"/>
<text x="1260.7" y="1423.5" font-size="20.5" text-anchor="end" transform="rotate(-45 1260.7 1423.5)">cDC1</text>
<line x1="1279.7" y1="1404.5" x2="1279.7" y2="1409.5" stroke="#333" stroke-width="2.2"/>
<text x="1291.7" y="1423.5" font-size="20.5" text-anchor="end" transform="rotate(-45 1291.7 1423.5)">cDC2</text>
<line x1="1310.7" y1="1404.5" x2="1310.7" y2="1409.5" stroke="#333" stroke-width="2.2"/>
<text x="1322.7" y="1423.5" font-size="20.5" text-anchor="end" transform="rotate(-45 1322.7 1423.5)">tDC</text>
<line x1="1341.6" y1="1404.5" x2="1341.6" y2="1409.5" stroke="#333" stroke-width="2.2"/>
<text x="1353.6" y="1423.5" font-size="20.5" text-anchor="end" transform="rotate(-45 1353.6 1423.5)">pDC</text>
<line x1="1372.6" y1="1404.5" x2="1372.6" y2="1409.5" stroke="#333" stroke-width="2.2"/>
<text x="1384.6" y="1423.5" font-size="20.5" text-anchor="end" transform="rotate(-45 1384.6 1423.5)">Mast</text>
<line x1="1403.6" y1="1404.5" x2="1403.6" y2="1409.5" stroke="#333" stroke-width="2.2"/>
<text x="1415.6" y="1423.5" font-size="20.5" text-anchor="end" transform="rotate(-45 1415.6 1423.5)">Neutrophil</text>
<rect x="134.5" y="1550.8" width="353.3" height="31.1" fill="none" stroke="#333" stroke-width="2"/>
<line x1="244.7" y1="1551.8" x2="244.7" y2="1580.9" stroke="#444" stroke-width="1.1" stroke-dasharray="4 3"/>
<line x1="312.6" y1="1551.8" x2="312.6" y2="1580.9" stroke="#444" stroke-width="1.1" stroke-dasharray="4 3"/>
<line x1="128.5" y1="1551.5" x2="134.5" y2="1551.5" stroke="#333" stroke-width="1.5"/>
<text x="122.5" y="1558.6" font-size="20" text-anchor="end">101</text>
<line x1="128.5" y1="1582.3" x2="134.5" y2="1582.3" stroke="#333" stroke-width="1.5"/>
<text x="122.5" y="1589.4" font-size="20" text-anchor="end">30</text>
<rect x="134.5" y="1590.2" width="353.3" height="295.7" fill="none" stroke="#333" stroke-width="2"/>
<line x1="244.7" y1="1591.2" x2="244.7" y2="1884.9" stroke="#444" stroke-width="1.1" stroke-dasharray="4 3"/>
<line x1="312.6" y1="1591.2" x2="312.6" y2="1884.9" stroke="#444" stroke-width="1.1" stroke-dasharray="4 3"/>
<line x1="135.5" y1="1853.2" x2="486.8" y2="1853.2" stroke="#444" stroke-width="1.1" stroke-dasharray="4 3"/>
<line x1="128.5" y1="1872.6" x2="134.5" y2="1872.6" stroke="#333" stroke-width="1.5"/>
<text x="122.5" y="1879.7" font-size="20" text-anchor="end">0</text>
<line x1="128.5" y1="1778.5" x2="134.5" y2="1778.5" stroke="#333" stroke-width="1.5"/>
<text x="122.5" y="1785.6" font-size="20" text-anchor="end">10</text>
<line x1="128.5" y1="1684.4" x2="134.5" y2="1684.4" stroke="#333" stroke-width="1.5"/>
<text x="122.5" y="1691.5" font-size="20" text-anchor="end">20</text>
<line x1="128.5" y1="1590.2" x2="134.5" y2="1590.2" stroke="#333" stroke-width="1.5"/>
<text x="122.5" y="1597.3" font-size="20" text-anchor="end">30</text>
<line x1="150.0" y1="1885.9" x2="150.0" y2="1891.9" stroke="#333" stroke-width="1.5"/>
<text x="150.0" y="1912.8" font-size="20" text-anchor="middle">−1.0</text>
<line x1="214.3" y1="1885.9" x2="214.3" y2="1891.9" stroke="#333" stroke-width="1.5"/>
<text x="214.3" y="1912.8" font-size="20" text-anchor="middle">−0.5</text>
<line x1="279.1" y1="1885.9" x2="279.1" y2="1891.9" stroke="#333" stroke-width="1.5"/>
<text x="279.1" y="1912.8" font-size="20" text-anchor="middle">0.0</text>
<line x1="342.9" y1="1885.9" x2="342.9" y2="1891.9" stroke="#333" stroke-width="1.5"/>
<text x="342.9" y="1912.8" font-size="20" text-anchor="middle">0.5</text>
<line x1="407.2" y1="1885.9" x2="407.2" y2="1891.9" stroke="#333" stroke-width="1.5"/>
<text x="407.2" y="1912.8" font-size="20" text-anchor="middle">1.0</text>
<line x1="472.0" y1="1885.9" x2="472.0" y2="1891.9" stroke="#333" stroke-width="1.5"/>
<text x="472.0" y="1912.8" font-size="20" text-anchor="middle">1.5</text>
<path d="M233.3,1805.6 L238.9,1802.2 L244.4,1806.7 L251.1,1812.2 L257.8,1824.4 L264.4,1837.8 L271.1,1846.7 L277.8,1851.1 L288.9,1844.4 L296.7,1837.8 L302.2,1835.6 L308.9,1837.8 L311.1,1845.6 L311.1,1862.2 L306.7,1871.1 L288.9,1872.2 L268.9,1873.3 L262.2,1870.0 L255.6,1860.0 L247.8,1848.9 L240.0,1835.6 L235.6,1820.0 L232.2,1811.1Z" fill="#a2a2a2" stroke="#a2a2a2" stroke-width="2" stroke-linejoin="round"/>
<path d="M293.8 1845.3h0M282.0 1871.9h0M307.8 1850.3h0M299.6 1851.9h0M249.7 1815.3h0M267.0 1848.8h0M252.7 1835.8h0M292.3 1845.3h0M248.2 1814.3h0M304.9 1852.8h0M283.1 1871.3h0M233.1 1809.0h0M259.0 1864.9h0M235.7 1814.6h0M262.2 1846.8h0M291.5 1843.1h0M292.2 1865.7h0M257.6 1861.0h0M286.5 1847.7h0M279.6 1867.1h0M304.7 1857.1h0M238.3 1814.7h0M282.3 1869.8h0M247.0 1832.4h0M300.4 1869.3h0M274.4 1850.4h0M287.4 1867.2h0M284.6 1857.6h0M265.2 1845.6h0M308.9 1859.6h0M256.8 1851.3h0M252.9 1823.0h0M237.2 1823.1h0M242.2 1831.9h0M262.7 1852.5h0M280.3 1861.7h0M265.3 1868.5h0M273.3 1850.3h0M256.6 1858.5h0M276.6 1858.1h0M254.3 1818.7h0M246.5 1844.5h0M238.4 1826.8h0M252.7 1818.8h0M269.5 1856.0h0M253.0 1840.0h0M303.6 1855.3h0M257.9 1837.8h0M298.4 1858.5h0M240.1 1806.8h0M303.8 1868.7h0M275.4 1860.4h0M260.8 1854.1h0M257.5 1854.8h0M306.0 1856.0h0M301.3 1839.3h0M266.3 1864.1h0M288.9 1858.1h0M281.9 1858.9h0M307.2 1865.5h0M290.0 1868.3h0M254.2 1825.0h0M287.8 1863.7h0M261.7 1836.8h0M288.0 1852.1h0M251.8 1839.9h0M250.5 1825.1h0M249.0 1848.9h0M244.0 1839.4h0M266.2 1859.6h0M257.5 1857.2h0M254.8 1826.3h0M239.5 1821.0h0M274.7 1860.0h0M239.3 1829.2h0M277.0 1867.0h0M287.8 1867.4h0M275.9 1849.9h0M265.4 1840.2h0M307.8 1848.9h0M289.9 1847.8h0M307.0 1842.7h0M258.2 1846.7h0M243.9 1818.4h0M259.9 1860.2h0M265.7 1870.3h0M270.4 1854.0h0M276.5 1860.6h0M263.4 1848.7h0M252.2 1838.7h0M241.6 1805.5h0M281.4 1867.6h0M259.5 1828.3h0M299.2 1857.8h0M246.7 1828.5h0M273.6 1866.5h0M236.7 1823.5h0M259.8 1838.4h0M288.9 1847.2h0M247.9 1848.3h0M290.6 1847.9h0M306.0 1843.2h0M243.7 1831.4h0M241.5 1837.0h0M307.7 1851.2h0M243.3 1827.2h0M245.3 1813.1h0M255.0 1845.5h0M252.6 1849.9h0M248.2 1835.4h0M278.9 1868.7h0M259.6 1848.2h0M275.3 1858.6h0M296.1 1865.5h0M252.0 1814.2h0M273.5 1873.0h0M263.4 1851.2h0M309.4 1865.2h0M240.0 1820.0h0M275.0 1855.2h0M253.4 1842.3h0M288.3 1845.4h0M258.2 1835.3h0M241.5 1832.1h0M272.7 1853.6h0M300.3 1862.9h0M259.0 1862.6h0M250.1 1816.4h0M260.3 1848.3h0M253.1 1839.1h0M274.0 1857.9h0M308.6 1846.5h0M253.7 1818.8h0M296.5 1870.1h0M248.8 1844.3h0M272.5 1850.4h0M240.9 1816.1h0M270.8 1856.8h0M238.8 1810.5h0M271.7 1848.6h0M258.3 1838.9h0M291.6 1863.7h0M252.0 1854.4h0M249.2 1836.1h0M262.8 1858.2h0M297.2 1867.7h0M301.0 1842.0h0M276.9 1857.6h0M252.4 1819.0h0M282.9 1872.2h0M289.1 1853.6h0M302.9 1845.7h0M253.5 1844.9h0M250.9 1821.0h0M286.7 1859.4h0M294.0 1867.1h0M271.1 1848.7h0M288.9 1855.6h0M292.3 1852.6h0M234.4 1814.0h0M296.7 1860.5h0M236.3 1818.4h0M301.0 1864.0h0M296.0 1850.8h0M251.8 1829.0h0M238.0 1827.7h0M272.8 1870.8h0M259.9 1828.6h0M294.7 1860.8h0M249.2 1819.2h0M293.0 1852.1h0M269.0 1844.4h0M258.8 1839.5h0M270.2 1870.4h0M272.9 1868.7h0M295.8 1867.9h0M306.7 1854.5h0M293.1 1850.3h0M289.3 1864.7h0M257.7 1846.3h0M248.7 1831.1h0M253.9 1851.6h0M302.8 1859.5h0M280.9 1853.4h0M269.8 1872.0h0M283.3 1865.6h0M247.3 1834.7h0M296.5 1862.5h0M296.4 1844.3h0M305.5 1849.8h0M286.9 1869.3h0M240.0 1828.3h0M298.9 1845.1h0M276.7 1860.5h0M266.9 1856.8h0M252.9 1851.6h0M287.5 1872.2h0M254.0 1852.6h0M307.1 1869.4h0M291.6 1850.1h0M269.2 1856.3h0M253.6 1841.6h0M279.8 1862.1h0M306.5 1867.4h0M267.4 1854.2h0M244.1 1820.5h0M281.6 1850.1h0M242.3 1805.9h0M283.8 1861.0h0M291.4 1851.7h0M252.0 1850.6h0M263.9 1844.4h0M310.0 1857.0h0M308.1 1843.2h0M261.2 1863.4h0M302.5 1842.4h0M256.0 1852.7h0M263.3 1844.1h0M258.7 1826.8h0M296.1 1859.9h0M280.7 1870.8h0M264.7 1865.7h0M295.8 1864.4h0M306.8 1854.7h0M235.2 1808.2h0M239.9 1816.7h0M273.8 1868.2h0M301.2 1870.6h0M292.7 1856.7h0M298.9 1858.6h0M287.0 1862.5h0M282.3 1849.0h0M259.4 1838.9h0M310.4 1855.6h0M290.8 1856.7h0M258.0 1843.4h0M264.9 1844.8h0M306.5 1866.8h0M233.7 1814.5h0M269.5 1862.3h0M272.8 1871.4h0M244.6 1815.7h0M236.3 1808.9h0M285.0 1858.6h0M251.0 1828.7h0M243.2 1807.7h0M305.4 1837.5h0M304.6 1861.5h0M241.2 1832.1h0M279.4 1856.3h0M267.8 1850.3h0M255.6 1839.9h0M296.6 1868.3h0M291.4 1865.3h0M309.1 1847.9h0M296.7 1867.4h0M293.9 1854.6h0M309.6 1858.8h0M246.6 1831.2h0M269.4 1851.8h0M246.5 1835.7h0M246.3 1842.1h0M260.5 1855.5h0M289.1 1867.7h0M299.8 1854.5h0M309.1 1842.8h0M240.8 1826.0h0M262.1 1864.7h0M257.4 1861.2h0M264.1 1858.6h0M267.5 1849.1h0M303.6 1847.5h0M301.9 1837.6h0M246.9 1814.0h0M242.1 1825.2h0M236.6 1814.0h0M263.3 1861.1h0M268.8 1868.3h0M306.7 1863.8h0M269.1 1864.7h0M309.4 1842.3h0M264.8 1846.1h0M303.6 1846.3h0M265.3 1847.5h0M271.2 1868.2h0M279.5 1861.9h0M260.0 1839.1h0M245.7 1828.7h0M243.0 1840.2h0M278.5 1858.2h0M308.2 1850.8h0M294.3 1857.4h0M297.3 1849.8h0M282.0 1866.0h0M287.1 1864.8h0M296.5 1858.6h0M263.4 1845.2h0M264.0 1851.2h0M269.4 1846.0h0M242.3 1811.9h0M255.5 1822.9h0M239.1 1821.5h0M238.9 1816.7h0M240.3 1818.9h0M282.8 1861.2h0M254.5 1831.2h0M254.1 1825.4h0M308.6 1857.2h0M259.2 1844.1h0M261.7 1849.6h0M254.4 1850.1h0M256.9 1854.7h0M290.0 1857.4h0M236.9 1805.9h0M294.1 1840.7h0M273.7 1850.4h0M286.2 1847.8h0M270.8 1857.0h0M286.9 1865.1h0M242.6 1809.1h0M238.3 1819.4h0M291.8 1866.7h0M306.6 1857.4h0M278.1 1851.9h0M275.3 1852.6h0M305.9 1837.2h0M241.5 1831.5h0M246.1 1825.2h0M301.4 1836.2h0M275.7 1861.3h0M246.2 1833.6h0M239.3 1808.1h0M305.1 1854.9h0M257.4 1851.9h0M307.7 1844.9h0M251.9 1816.9h0M307.1 1858.4h0M238.1 1826.3h0M280.2 1865.0h0M305.0 1842.8h0M235.9 1813.3h0M308.6 1865.4h0M258.1 1837.4h0M268.2 1864.4h0M252.2 1826.1h0M273.6 1851.4h0M248.2 1815.0h0M285.0 1865.4h0M302.7 1856.9h0M261.8 1865.9h0M295.5 1855.0h0M308.4 1851.6h0M305.0 1841.5h0M240.6 1804.7h0M307.2 1844.3h0M248.4 1821.0h0M274.6 1850.0h0M303.5 1836.1h0M238.7 1810.2h0M300.3 1839.1h0M253.0 1842.8h0M278.6 1868.2h0M290.8 1850.4h0M301.4 1843.1h0M297.9 1847.9h0M302.6 1868.3h0M261.8 1860.3h0M270.6 1858.9h0M276.8 1870.1h0M251.0 1822.2h0M232.8 1811.9h0M264.5 1845.9h0M235.8 1805.7h0M286.7 1857.1h0M295.3 1863.1h0M270.0 1846.3h0M254.1 1834.5h0M241.1 1814.1h0M265.9 1854.3h0M283.3 1852.2h0M240.5 1826.6h0M252.9 1827.4h0M298.9 1859.8h0M308.4 1863.8h0M265.3 1839.4h0M301.3 1853.5h0M248.7 1822.6h0M294.1 1864.7h0M257.0 1857.0h0M254.1 1834.8h0M256.8 1825.6h0M261.0 1841.8h0M287.0 1871.3h0M249.9 1841.6h0M279.0 1867.3h0M309.1 1849.5h0M256.4 1848.5h0M241.3 1822.3h0M305.1 1858.9h0M296.1 1857.4h0M292.6 1869.3h0M301.3 1853.5h0M298.9 1849.8h0M266.2 1848.2h0M267.5 1847.8h0M268.5 1863.7h0M270.4 1871.2h0M307.4 1841.2h0M246.9 1846.7h0M293.5 1867.2h0M297.4 1865.0h0M264.3 1866.2h0M296.1 1859.6h0M240.7 1813.1h0M293.4 1846.1h0M246.0 1811.6h0M242.0 1809.9h0M297.2 1843.5h0M259.3 1831.2h0M307.7 1864.0h0M297.1 1848.9h0M263.6 1845.2h0M273.6 1864.2h0M238.5 1806.2h0M275.2 1856.0h0M238.2 1827.2h0M299.7 1857.2h0M237.8 1809.8h0M248.8 1817.0h0M283.4 1851.5h0M295.8 1858.6h0M250.5 1827.4h0M303.5 1867.5h0M298.7 1859.2h0M244.0 1816.1h0M303.6 1851.7h0M282.4 1861.9h0M268.4 1870.3h0M287.1 1864.3h0M289.0 1870.7h0M240.1 1829.8h0M289.8 1863.3h0M255.8 1853.6h0M293.5 1858.8h0M238.6 1805.6h0M237.5 1820.8h0M263.4 1867.8h0M299.3 1843.3h0M252.8 1835.9h0M294.2 1848.8h0M280.4 1856.6h0M247.2 1846.9h0M309.9 1851.7h0M251.6 1835.4h0M240.8 1827.1h0M294.3 1870.8h0M262.0 1840.7h0M306.0 1869.7h0M243.5 1823.2h0M253.3 1822.2h0M252.5 1816.3h0M263.3 1846.9h0M290.9 1855.6h0M277.1 1852.2h0M250.1 1814.2h0M233.9 1814.4h0M301.6 1857.4h0M259.5 1853.3h0M262.6 1837.5h0M269.6 1854.7h0M288.1 1863.9h0M295.7 1845.6h0M280.1 1860.4h0M257.2 1852.0h0M309.6 1841.0h0M247.6 1821.8h0M297.4 1860.4h0M301.0 1845.7h0M266.1 1858.3h0M299.1 1859.6h0M256.8 1849.2h0M277.8 1853.1h0M261.7 1849.3h0M247.1 1823.5h0M264.5 1870.6h0M236.5 1810.1h0M267.3 1856.5h0M298.1 1859.5h0M294.4 1870.7h0M270.5 1868.2h0M293.2 1844.0h0M239.2 1808.5h0M256.0 1845.4h0M259.3 1860.0h0M303.5 1863.1h0M235.0 1806.4h0M277.6 1861.6h0M275.2 1871.1h0M245.5 1820.1h0M252.2 1829.6h0M270.0 1854.5h0M248.5 1825.6h0M248.0 1814.4h0M256.4 1826.8h0M268.5 1866.1h0M309.0 1858.5h0M245.1 1829.7h0M299.0 1870.9h0M261.8 1834.6h0M256.3 1848.5h0M268.4 1848.1h0M300.7 1846.7h0M254.8 1819.5h0M245.9 1834.7h0M243.3 1806.5h0M265.9 1847.7h0M256.1 1841.0h0M309.2 1864.2h0M246.9 1822.7h0M305.1 1849.8h0M308.5 1839.0h0M309.1 1848.0h0M256.3 1841.3h0M296.4 1854.8h0M279.5 1851.6h0M283.4 1863.4h0M268.7 1850.5h0M253.1 1836.2h0M248.9 1848.8h0M269.5 1870.5h0M274.7 1867.9h0M272.8 1854.3h0M247.4 1819.9h0M250.2 1818.5h0M286.7 1871.5h0M274.7 1868.6h0M273.6 1862.5h0M257.5 1846.3h0M277.2 1868.5h0M247.8 1846.2h0M269.2 1850.6h0M246.4 1836.8h0M241.8 1837.7h0M261.4 1850.1h0M303.4 1839.3h0M262.7 1841.7h0M262.8 1856.0h0M281.8 1864.2h0M234.3 1807.7h0M245.3 1824.7h0M265.2 1854.7h0M302.4 1843.0h0M295.7 1852.6h0M259.7 1844.7h0M281.3 1863.9h0M285.5 1849.3h0M247.5 1817.6h0M266.8 1871.8h0M303.6 1852.8h0M269.2 1857.2h0M234.9 1812.7h0M261.3 1850.9h0M239.0 1814.9h0M267.3 1851.5h0M239.5 1832.6h0M305.5 1869.7h0M276.8 1865.4h0M266.4 1845.6h0M278.4 1872.4h0M269.9 1867.9h0M306.2 1864.0h0M304.8 1856.3h0M271.9 1866.3h0M301.5 1867.9h0M254.1 1846.8h0M265.3 1860.3h0M307.6 1846.5h0M251.8 1843.2h0M301.1 1865.9h0M264.4 1867.9h0M262.3 1850.7h0M294.0 1850.4h0M294.8 1849.1h0M274.8 1859.1h0M280.3 1857.1h0M297.1 1840.3h0M276.8 1870.4h0M253.4 1853.0h0M262.8 1861.7h0M296.9 1844.1h0M293.7 1860.2h0M303.2 1837.8h0M294.1 1870.7h0M245.8 1826.3h0M304.1 1869.1h0M292.6 1857.9h0M287.0 1866.0h0M285.1 1858.2h0M300.7 1866.2h0M273.9 1860.9h0M309.7 1863.6h0M265.2 1846.8h0M251.0 1832.0h0M253.7 1825.4h0M300.0 1841.3h0M310.6 1859.0h0M293.4 1866.3h0M299.5 1858.2h0M276.3 1856.0h0M269.7 1859.6h0M291.6 1846.5h0M307.6 1840.8h0M282.1 1850.5h0M256.3 1832.1h0M259.5 1841.1h0M287.1 1853.5h0M310.6 1844.1h0M301.4 1837.1h0M254.6 1824.4h0M275.3 1850.5h0M257.0 1852.5h0M288.7 1863.4h0M248.6 1824.6h0M285.7 1848.1h0M260.0 1850.7h0M307.6 1856.8h0M306.3 1861.4h0M310.7 1862.0h0M276.9 1850.7h0M268.4 1850.6h0M241.6 1816.7h0M259.1 1851.2h0M251.5 1850.3h0M237.2 1814.2h0M302.1 1838.9h0M240.7 1829.7h0M290.4 1845.1h0M287.5 1857.3h0M261.0 1844.8h0M248.8 1818.4h0M267.2 1853.3h0M258.9 1846.7h0M300.1 1857.2h0M263.7 1868.3h0M237.8 1817.0h0M274.4 1859.6h0M251.4 1839.1h0M309.4 1849.6h0M275.1 1872.1h0M275.0 1851.9h0M258.7 1848.2h0M256.0 1826.6h0M238.1 1806.1h0M289.5 1867.5h0M237.9 1827.4h0M288.4 1848.5h0M284.8 1866.6h0M248.9 1847.9h0M252.0 1817.4h0M271.4 1858.0h0M234.9 1808.2h0M259.7 1833.7h0M307.1 1860.8h0M251.9 1827.4h0M283.0 1856.4h0M253.1 1837.0h0M294.4 1856.7h0M252.1 1838.9h0M293.0 1861.3h0M284.0 1851.4h0M274.3 1852.9h0M236.0 1821.0h0M277.2 1854.2h0M296.0 1848.4h0M280.7 1868.8h0M302.2 1860.5h0M293.5 1857.7h0M250.0 1839.5h0M234.9 1809.9h0M280.3 1867.2h0M302.6 1868.4h0M302.2 1865.2h0M294.0 1871.2h0M291.8 1857.9h0M265.2 1865.1h0M263.0 1849.5h0M247.1 1838.9h0M259.2 1847.7h0M297.9 1840.2h0M242.3 1828.1h0M257.0 1835.1h0M253.6 1845.8h0M237.9 1808.0h0M300.3 1853.9h0M305.1 1850.2h0M304.3 1859.0h0M263.5 1839.6h0M273.9 1869.6h0M307.6 1837.8h0M287.4 1866.4h0M279.5 1867.9h0M249.1 1835.7h0M258.7 1845.4h0M252.3 1824.0h0M254.0 1857.5h0M278.2 1859.2h0M276.7 1851.6h0M310.7 1858.7h0M267.6 1868.2h0M243.5 1834.6h0M286.4 1861.6h0M301.8 1845.9h0M293.2 1859.4h0M263.0 1846.0h0M274.1 1854.9h0M248.8 1839.3h0M258.2 1828.4h0M271.9 1864.6h0M263.6 1849.7h0M261.5 1860.4h0M245.4 1823.5h0M308.9 1838.5h0M249.1 1845.2h0M258.7 1850.9h0M264.3 1867.1h0M282.9 1871.5h0M261.1 1865.4h0M273.2 1852.9h0M244.5 1843.1h0M247.8 1819.0h0M288.8 1868.6h0M291.4 1843.5h0M273.1 1871.3h0M292.1 1850.2h0M257.1 1829.7h0M257.4 1847.2h0M298.8 1867.5h0M239.3 1821.9h0M244.7 1826.5h0M249.5 1819.6h0M259.2 1846.8h0M304.7 1863.6h0M274.0 1852.0h0M309.8 1861.8h0M262.5 1868.1h0M237.9 1826.4h0M279.7 1871.2h0M306.3 1845.1h0M254.1 1844.3h0M290.5 1855.1h0M298.2 1839.5h0M303.0 1870.0h0M305.9 1854.3h0M270.2 1865.1h0M303.7 1870.9h0M306.6 1839.6h0M295.9 1851.2h0M284.2 1865.6h0M234.4 1806.5h0M261.7 1838.6h0M300.9 1855.4h0M309.0 1863.6h0M265.5 1858.5h0M298.5 1841.2h0M266.6 1859.5h0M293.4 1858.8h0M292.3 1856.7h0M254.5 1852.0h0M264.2 1853.9h0M245.8 1833.3h0M247.2 1821.8h0M243.5 1839.9h0M280.6 1857.1h0M285.6 1851.6h0M268.8 1848.0h0M252.6 1824.1h0M297.9 1862.6h0M236.5 1812.1h0M274.2 1867.8h0M259.0 1843.5h0M303.6 1843.1h0M267.3 1858.1h0M296.4 1843.9h0M271.8 1851.4h0M296.3 1858.2h0M279.4 1859.2h0M292.8 1849.9h0M290.5 1843.2h0M263.6 1839.3h0M253.1 1853.8h0M274.9 1872.1h0M284.9 1865.1h0M295.8 1861.6h0M298.3 1847.1h0M261.7 1844.4h0M243.0 1828.0h0M298.2 1856.9h0M267.7 1857.1h0M261.9 1867.4h0M240.2 1804.8h0M239.7 1820.3h0M248.1 1818.9h0M268.9 1845.0h0M304.9 1854.2h0M239.8 1807.2h0M247.1 1821.8h0M244.4 1822.5h0M301.7 1839.7h0M244.3 1831.8h0M264.7 1868.1h0M247.2 1839.2h0M272.3 1866.7h0M283.0 1858.8h0M259.0 1839.2h0M248.6 1824.9h0M310.0 1854.9h0M273.1 1871.6h0M281.4 1871.2h0M278.0 1869.6h0M245.5 1812.1h0M297.6 1866.0h0M262.2 1850.0h0M283.4 1851.9h0M251.2 1819.9h0M306.1 1846.5h0M252.6 1851.3h0M270.3 1870.8h0M243.4 1831.8h0M255.6 1843.2h0M291.9 1871.5h0M243.4 1830.2h0M305.2 1856.7h0M305.5 1868.6h0M306.4 1849.9h0M309.4 1847.2h0M270.4 1851.0h0M305.2 1862.8h0M297.9 1856.0h0M299.2 1869.7h0M243.1 1806.5h0M269.7 1861.0h0M270.8 1860.1h0M257.7 1862.2h0M296.6 1869.6h0M281.5 1866.6h0M255.3 1847.6h0M265.1 1865.7h0M296.5 1851.5h0M296.2 1858.6h0M294.5 1851.0h0M291.2 1868.9h0M282.7 1862.5h0M295.5 1849.1h0M266.0 1865.6h0M265.0 1842.3h0M283.7 1868.6h0M255.3 1840.4h0M255.1 1853.1h0M286.9 1849.3h0M268.3 1847.8h0M266.4 1858.9h0M272.3 1873.1h0M280.3 1856.9h0M306.4 1837.1h0M303.8 1844.0h0M279.7 1862.0h0M307.2 1848.1h0M298.1 1855.5h0M270.5 1861.6h0M240.9 1805.0h0M248.5 1819.9h0M258.0 1841.4h0M294.9 1853.3h0M243.6 1806.5h0M273.0 1856.5h0M281.8 1857.2h0M260.3 1860.5h0M305.0 1847.2h0M282.0 1864.7h0M303.7 1852.8h0M304.7 1850.5h0M254.6 1846.7h0M250.7 1814.1h0M255.4 1846.7h0M297.6 1855.1h0M292.9 1854.4h0M242.9 1831.6h0M280.5 1855.6h0M253.6 1820.8h0M239.4 1803.8h0M303.2 1852.3h0M254.1 1835.7h0M247.9 1840.0h0M305.6 1860.5h0M248.2 1846.7h0M249.9 1850.1h0M233.6 1806.0h0M241.7 1837.3h0M280.3 1856.9h0M250.3 1821.4h0M238.0 1825.6h0M236.0 1821.3h0M262.0 1849.0h0M276.1 1856.4h0M305.0 1865.2h0M238.2 1828.0h0M304.3 1859.4h0M276.5 1866.7h0M284.8 1860.0h0M263.7 1864.4h0M259.9 1853.8h0M278.8 1852.0h0M270.1 1854.0h0M234.8 1810.2h0M235.3 1816.2h0M291.7 1857.6h0M250.9 1843.4h0M259.2 1844.6h0M243.8 1825.9h0M288.2 1849.0h0M249.4 1819.6h0M251.4 1831.5h0M235.1 1811.0h0M285.2 1862.0h0M257.6 1845.5h0M266.8 1867.5h0M260.8 1861.4h0M261.5 1843.9h0M283.0 1865.1h0M301.7 1868.1h0M239.1 1822.0h0M274.0 1858.7h0M258.2 1863.3h0M268.3 1869.1h0M264.8 1846.9h0M256.0 1828.9h0M289.4 1877.3h0M286.8 1850.4h0M310.7 1842.9h0M317.2 1868.0h0M260.3 1863.8h0M239.0 1823.5h0M303.9 1832.2h0M241.8 1810.7h0M281.7 1850.0h0M299.3 1836.9h0M266.4 1839.2h0M231.1 1806.7h0M305.2 1845.6h0M262.4 1827.0h0M267.0 1847.2h0M237.4 1822.3h0M267.0 1843.2h0M245.8 1847.2h0M232.6 1821.8h0M262.8 1826.7h0M248.5 1848.2h0M237.2 1818.2h0M260.8 1870.5h0M230.0 1808.0h0M262.3 1835.0h0M274.4 1849.6h0M320.6 1872.6h0M274.8 1863.9h0M257.5 1853.7h0M238.9 1839.3h0M262.8 1864.2h0M233.6 1829.4h0M235.4 1802.3h0M311.4 1841.6h0M296.1 1883.5h0M240.5 1805.9h0M261.8 1838.4h0M283.6 1872.0h0M281.9 1848.4h0M302.5 1878.0h0M265.8 1842.5h0M246.1 1857.5h0M299.3 1843.4h0M238.3 1808.5h0M266.0 1839.1h0M261.7 1843.1h0M238.4 1817.7h0M297.8 1843.6h0M246.0 1848.4h0M233.7 1810.3h0M321.3 1844.2h0M310.9 1851.6h0M304.5 1851.5h0M315.0 1847.3h0M232.6 1824.7h0M261.2 1864.2h0M241.0 1809.6h0M244.8 1848.3h0M278.3 1845.7h0M239.3 1832.3h0M314.9 1850.1h0M302.5 1867.2h0M286.4 1868.7h0M253.6 1853.4h0M240.8 1799.2h0M281.1 1876.0h0M301.9 1832.3h0M234.3 1811.1h0M294.8 1839.5h0M293.1 1842.6h0M236.9 1822.5h0M305.5 1876.1h0M255.3 1868.5h0M247.0 1806.6h0M315.9 1864.4h0M265.1 1827.5h0M289.7 1853.1h0M310.4 1872.3h0M267.4 1844.1h0M262.7 1837.7h0M270.5 1842.6h0M300.5 1868.6h0M290.5 1835.0h0M254.1 1816.1h0M295.0 1840.6h0M238.8 1804.4h0M241.1 1803.0h0M293.7 1840.2h0M295.8 1871.8h0M254.6 1816.7h0M298.4 1871.6h0M231.7 1822.5h0M257.8 1857.6h0M303.6 1838.9h0M231.1 1808.2h0M242.2 1852.8h0M237.0 1822.5h0M231.0 1807.0h0M301.3 1868.1h0M263.0 1872.3h0M316.4 1846.3h0M312.6 1856.9h0M316.0 1856.5h0M310.0 1837.4h0M295.7 1874.3h0M308.2 1863.1h0M258.2 1822.4h0M231.8 1813.4h0M313.1 1869.4h0M286.3 1871.1h0M232.1 1803.8h0M307.8 1837.1h0M237.0 1803.8h0M258.8 1827.2h0M239.0 1803.2h0M255.7 1867.6h0M270.1 1870.2h0M296.7 1868.8h0M261.4 1868.9h0M264.6 1869.0h0M291.3 1848.1h0M241.6 1802.7h0M308.0 1870.5h0M266.9 1872.5h0M236.2 1796.8h0M236.5 1802.2h0M236.1 1809.2h0M283.4 1871.8h0M267.3 1834.7h0M243.8 1843.4h0M231.2 1796.9h0M296.5 1868.4h0M243.2 1843.3h0M311.4 1844.5h0M305.2 1851.7h0M293.7 1836.2h0M286.6 1874.6h0M250.9 1848.8h0M295.9 1846.1h0M293.5 1841.7h0M307.4 1830.5h0M252.3 1809.1h0M251.4 1857.9h0M309.6 1835.2h0M300.4 1863.6h0M273.9 1875.2h0M291.7 1849.6h0M309.9 1852.8h0M261.4 1865.6h0M273.3 1849.8h0M261.8 1816.2h0M233.0 1804.2h0M235.2 1822.1h0M311.4 1861.5h0M243.5 1860.3h0M253.3 1815.7h0M253.0 1819.2h0M251.2 1848.4h0M217.2 1817.9h0M209.5 1794.7h0M230.9 1797.0h0M235.7 1804.6h0M202.7 1788.3h0M229.9 1779.9h0M229.7 1796.9h0M209.0 1815.2h0M213.8 1793.5h0M220.3 1794.0h0M249.8 1801.2h0M242.2 1791.9h0M219.0 1795.1h0M232.3 1788.9h0M243.2 1809.6h0M235.6 1810.6h0M210.2 1785.2h0M207.9 1799.9h0M246.5 1809.5h0M215.5 1789.0h0M249.7 1787.7h0M207.8 1775.8h0M227.8 1787.0h0M220.3 1798.2h0M217.3 1797.3h0M224.9 1795.0h0M244.5 1764.5h0M227.6 1805.6h0M233.5 1799.7h0M232.8 1775.0h0M224.9 1820.8h0M231.3 1805.5h0M246.0 1817.0h0M228.9 1790.0h0M240.9 1803.2h0M234.6 1802.4h0M221.2 1784.1h0M235.4 1779.4h0M230.1 1804.8h0M232.9 1798.5h0M227.2 1802.4h0M244.2 1778.5h0M221.1 1778.5h0M222.9 1786.6h0M218.7 1785.4h0M222.4 1799.7h0M228.9 1818.8h0M218.8 1812.2h0M231.1 1791.8h0M221.2 1780.1h0M227.6 1797.2h0M224.7 1808.6h0M209.2 1774.9h0M221.8 1806.9h0M218.6 1811.5h0M226.1 1807.5h0M222.9 1775.8h0M226.0 1779.8h0M221.4 1799.1h0M218.8 1782.9h0M327.3 1836.6h0M327.0 1795.1h0M322.4 1805.6h0M308.2 1776.9h0M307.7 1824.2h0M315.4 1811.2h0M331.8 1800.9h0M302.0 1797.8h0M301.0 1806.9h0M315.5 1834.8h0M312.1 1786.7h0M313.8 1810.6h0M329.0 1804.3h0M313.0 1817.8h0M293.1 1821.5h0M324.3 1826.5h0M310.5 1846.2h0M320.8 1856.2h0M322.8 1815.7h0M325.9 1792.9h0M321.3 1784.5h0M305.9 1829.5h0M312.4 1812.4h0M321.2 1805.8h0M319.2 1822.7h0M317.1 1827.0h0M334.1 1802.2h0M308.6 1795.3h0M318.5 1839.9h0M307.7 1796.0h0M311.6 1821.4h0M309.2 1798.8h0M310.5 1800.8h0M317.3 1819.4h0M307.3 1801.1h0M315.3 1820.5h0M328.0 1818.4h0M322.4 1789.5h0M318.9 1811.7h0M312.5 1819.6h0M282.4 1784.5h0M279.8 1785.7h0M300.1 1809.4h0M299.6 1772.4h0M291.7 1822.8h0M305.5 1791.1h0M298.6 1805.2h0M280.7 1787.8h0M297.4 1810.8h0M289.1 1777.9h0M316.9 1815.0h0M279.9 1774.7h0M305.7 1801.0h0M289.0 1768.2h0M316.2 1798.5h0M200.8 1666.2h0M207.7 1679.8h0M226.0 1689.0h0M211.2 1694.7h0M218.1 1695.9h0M318.3 1707.8h0M339.3 1707.0h0M340.6 1680.6h0M357.9 1647.0h0M324.5 1648.4h0M329.5 1657.6h0M202.8 1721.9h0M213.7 1720.2h0M220.6 1733.0h0M226.8 1736.7h0M177.3 1736.0h0M190.9 1739.2h0M199.6 1740.4h0M204.5 1746.6h0M203.3 1752.8h0M208.2 1750.8h0M162.5 1754.0h0M179.8 1764.7h0M194.6 1762.7h0M213.2 1762.7h0M218.1 1768.9h0M221.8 1763.2h0M170.6 1777.6h0M182.2 1775.1h0M208.2 1773.8h0M216.9 1780.0h0M220.6 1782.5h0M225.5 1778.8h0M235.4 1764.0h0M249.0 1762.2h0M319.6 1726.1h0M322.0 1767.7h0M327.0 1768.9h0M346.8 1727.6h0M340.6 1728.1h0M354.2 1768.9h0M178.5 1840.6h0M190.9 1848.1h0M466.8 1871.6h0M317.0 1715.7h0M397.5 1557.9h0M349.2 1569.7h0M361.6 1571.0h0M367.8 1569.2h0M374.0 1566.0h0M353.0 1577.2h0M356.7 1579.1h0" stroke="#9b9b9b" stroke-width="2.5" stroke-linecap="round" fill="none"/>
<circle cx="331.1" cy="1648.5" r="5.30" fill="#ec1c24"/>
<circle cx="328.5" cy="1741.9" r="5.30" fill="#ec1c24"/>
<circle cx="341.4" cy="1794.0" r="5.30" fill="#ec1c24"/>
<circle cx="321.6" cy="1810.0" r="5.30" fill="#ec1c24"/>
<circle cx="326.0" cy="1818.2" r="5.30" fill="#ec1c24"/>
<circle cx="306.4" cy="1832.6" r="5.30" fill="#ec1c24"/>
<circle cx="268.1" cy="1853.2" r="5.30" fill="#ec1c24"/>
<circle cx="327.5" cy="1853.7" r="5.30" fill="#ec1c24"/>
<circle cx="292.5" cy="1867.0" r="5.30" fill="#ec1c24"/>
<circle cx="304.9" cy="1867.0" r="5.30" fill="#ec1c24"/>
<circle cx="279.1" cy="1872.5" r="5.30" fill="#ec1c24"/>
<circle cx="172.4" cy="1805.4" r="5.30" fill="#ec1c24"/>
<text x="325.4" y="1643.0" font-size="19.5">B2m</text>
<text x="283.8" y="1760.0" font-size="19.5">H2−D1</text>
<text x="324.9" y="1788.0" font-size="19.5">H2−Q6</text>
<text x="163.4" y="1800.0" font-size="19.5">Spp1</text>
<text x="256.5" y="1806.0" font-size="19.5">H2−K1</text>
<text x="269.4" y="1828.0" font-size="19.5">Stat1</text>
<text x="326.0" y="1836.0" font-size="19.5">Irf1</text>
<text x="221.3" y="1849.0" font-size="19.5">Tap2</text>
<text x="272.7" y="1861.0" font-size="19.5">Fcgr4</text>
<text x="331.8" y="1858.0" font-size="19.5">Cxcl9</text>
<text x="232.9" y="1880.0" font-size="19.5">Tap1</text>
<text x="310.0" y="1880.0" font-size="19.5">Cd74</text>
<text x="84.6" y="1732.5" font-size="25.5" text-anchor="middle" transform="rotate(-90 84.6 1732.5)">– Log<tspan font-size="17.8" dy="5.1">10</tspan><tspan dy="-5.1"> </tspan><tspan font-style="italic">Pval</tspan></text>
<text x="27.5" y="1727.0" font-size="28.3" text-anchor="middle" transform="rotate(-90 27.5 1727.0)">Tumor TAM</text>
<text x="314.0" y="1938.0" font-size="25.5" text-anchor="middle">Log<tspan font-size="17.3" dy="5.6">2</tspan><tspan dy="-5.6"> FC</tspan></text>
<text x="227.0" y="1953.4" font-size="21.5" text-anchor="middle">IgG2a</text>
<text x="226.0" y="1979.7" font-size="21.5" text-anchor="middle">Control</text>
<text x="361.0" y="1953.4" font-size="21.5">aTIGIT IgG2a</text>
<text x="361.0" y="1979.7" font-size="21.5">+ aPD-L1</text>
<line x1="152.8" y1="1962.8" x2="191.4" y2="1962.8" stroke="#5a5a5a" stroke-width="4.5"/>
<path d="M138.8,1962.8 L154.8,1954.3 L154.8,1971.3 Z" fill="#5a5a5a" stroke="none" stroke-width="1.5"/>
<line x1="478.4" y1="1962.8" x2="515.1" y2="1962.8" stroke="#5a5a5a" stroke-width="4.5"/>
<path d="M529.1,1962.8 L513.1,1954.3 L513.1,1971.3 Z" fill="#5a5a5a" stroke="none" stroke-width="1.5"/>
<text x="6.0" y="1532.0" font-size="58" font-weight="bold">e</text>
<rect x="580.4" y="1550.1" width="352.6" height="335.6" fill="none" stroke="#333" stroke-width="2"/>
<line x1="691.0" y1="1551.1" x2="691.0" y2="1884.7" stroke="#444" stroke-width="1.1" stroke-dasharray="4 3"/>
<line x1="757.9" y1="1551.1" x2="757.9" y2="1884.7" stroke="#444" stroke-width="1.1" stroke-dasharray="4 3"/>
<line x1="581.4" y1="1851.3" x2="932.0" y2="1851.3" stroke="#444" stroke-width="1.1" stroke-dasharray="4 3"/>
<line x1="574.4" y1="1871.5" x2="580.4" y2="1871.5" stroke="#333" stroke-width="1.5"/>
<text x="568.4" y="1878.6" font-size="20" text-anchor="end">0</text>
<line x1="574.4" y1="1769.1" x2="580.4" y2="1769.1" stroke="#333" stroke-width="1.5"/>
<text x="568.4" y="1776.2" font-size="20" text-anchor="end">10</text>
<line x1="574.4" y1="1667.0" x2="580.4" y2="1667.0" stroke="#333" stroke-width="1.5"/>
<text x="568.4" y="1674.1" font-size="20" text-anchor="end">20</text>
<line x1="574.4" y1="1565.0" x2="580.4" y2="1565.0" stroke="#333" stroke-width="1.5"/>
<text x="568.4" y="1572.1" font-size="20" text-anchor="end">30</text>
<line x1="595.6" y1="1885.7" x2="595.6" y2="1891.7" stroke="#333" stroke-width="1.5"/>
<text x="595.6" y="1912.8" font-size="20" text-anchor="middle">−1.0</text>
<line x1="660.1" y1="1885.7" x2="660.1" y2="1891.7" stroke="#333" stroke-width="1.5"/>
<text x="660.1" y="1912.8" font-size="20" text-anchor="middle">−0.5</text>
<line x1="724.6" y1="1885.7" x2="724.6" y2="1891.7" stroke="#333" stroke-width="1.5"/>
<text x="724.6" y="1912.8" font-size="20" text-anchor="middle">0.0</text>
<line x1="788.7" y1="1885.7" x2="788.7" y2="1891.7" stroke="#333" stroke-width="1.5"/>
<text x="788.7" y="1912.8" font-size="20" text-anchor="middle">0.5</text>
<line x1="853.2" y1="1885.7" x2="853.2" y2="1891.7" stroke="#333" stroke-width="1.5"/>
<text x="853.2" y="1912.8" font-size="20" text-anchor="middle">1.0</text>
<line x1="917.7" y1="1885.7" x2="917.7" y2="1891.7" stroke="#333" stroke-width="1.5"/>
<text x="917.7" y="1912.8" font-size="20" text-anchor="middle">1.5</text>
<path d="M693.5,1799.1 L698.4,1821.3 L708.3,1828.7 L720.6,1833.7 L728.0,1841.1 L728.0,1851.0 L737.9,1843.5 L750.2,1833.7 L752.7,1858.4 L752.7,1870.7 L732.9,1873.1 L718.1,1871.9 L708.3,1863.3 L698.4,1851.0 L694.7,1833.7 L692.2,1816.4Z" fill="#a2a2a2" stroke="#a2a2a2" stroke-width="2" stroke-linejoin="round"/>
<path d="M743.7 1861.0h0M705.3 1858.1h0M714.5 1866.8h0M696.2 1837.0h0M698.8 1851.2h0M744.1 1852.8h0M703.4 1839.9h0M749.2 1852.0h0M735.9 1872.2h0M705.8 1849.8h0M734.5 1869.6h0M748.7 1835.5h0M743.8 1870.0h0M717.4 1844.0h0M712.5 1850.2h0M734.0 1856.1h0M742.6 1869.1h0M711.6 1848.6h0M740.2 1854.6h0M750.7 1845.6h0M720.3 1866.7h0M700.9 1823.3h0M738.3 1843.4h0M712.1 1862.0h0M694.8 1817.1h0M725.4 1848.0h0M735.9 1872.5h0M707.4 1828.2h0M714.9 1841.6h0M693.6 1810.2h0M720.4 1848.6h0M702.5 1835.9h0M703.6 1845.6h0M694.8 1828.5h0M705.5 1845.9h0M704.5 1844.4h0M723.4 1871.3h0M696.2 1825.4h0M694.3 1818.2h0M705.1 1857.6h0M735.7 1860.4h0M703.7 1836.6h0M740.1 1862.1h0M712.2 1844.5h0M736.0 1863.7h0M695.4 1829.0h0M696.8 1827.3h0M713.6 1837.7h0M734.4 1847.6h0M701.4 1840.2h0M706.3 1847.9h0M717.4 1857.4h0M713.0 1849.1h0M711.2 1860.0h0M727.0 1841.3h0M724.2 1843.0h0M720.7 1846.0h0M741.3 1866.0h0M693.5 1823.9h0M740.0 1850.5h0M736.1 1856.1h0M728.4 1867.6h0M717.2 1835.9h0M712.8 1847.5h0M727.2 1854.1h0M744.7 1854.8h0M698.7 1828.5h0M709.7 1851.2h0M712.7 1835.0h0M734.0 1863.2h0M714.0 1863.5h0M703.4 1845.5h0M727.2 1867.8h0M733.4 1857.1h0M725.4 1865.2h0M737.8 1861.5h0M724.8 1859.6h0M692.9 1810.1h0M721.1 1836.8h0M709.8 1857.5h0M721.1 1845.2h0M699.5 1844.2h0M714.5 1860.4h0M714.1 1836.0h0M713.9 1853.7h0M705.1 1851.4h0M699.7 1829.0h0M748.4 1861.7h0M704.6 1837.6h0M694.2 1824.2h0M700.6 1824.8h0M708.1 1858.9h0M713.2 1850.0h0M739.0 1868.0h0M707.9 1828.7h0M710.0 1830.2h0M702.4 1825.8h0M707.0 1845.0h0M723.2 1850.5h0M744.8 1856.9h0M709.9 1831.8h0M711.0 1856.4h0M707.4 1834.0h0M735.9 1849.6h0M697.9 1822.8h0M735.0 1862.9h0M708.6 1851.6h0M720.4 1853.8h0M726.1 1840.1h0M747.7 1841.8h0M715.1 1832.2h0M717.4 1834.2h0M733.3 1857.4h0M719.0 1862.5h0M742.6 1870.9h0M747.5 1837.3h0M738.3 1848.7h0M734.7 1853.7h0M701.8 1827.3h0M706.8 1836.5h0M708.9 1840.3h0M748.2 1842.4h0M749.7 1849.1h0M738.1 1860.2h0M713.0 1839.7h0M714.2 1861.0h0M742.7 1843.9h0M704.2 1850.0h0M723.0 1844.7h0M696.2 1828.0h0M695.2 1827.0h0M717.5 1864.1h0M750.0 1855.2h0M712.2 1846.0h0M705.0 1844.0h0M725.9 1859.6h0M714.1 1865.4h0M748.7 1857.1h0M748.2 1854.3h0M694.8 1819.4h0M699.4 1837.4h0M698.2 1837.9h0M747.8 1857.6h0M718.4 1854.9h0M737.9 1856.5h0M733.5 1869.8h0M748.4 1861.1h0M718.5 1835.6h0M709.7 1847.4h0M718.9 1862.9h0M694.1 1809.0h0M702.8 1848.2h0M699.7 1852.4h0M752.4 1866.3h0M733.1 1853.7h0M736.2 1853.8h0M734.1 1862.0h0M715.2 1845.8h0M695.8 1823.7h0M751.7 1856.7h0M698.7 1829.8h0M717.1 1834.4h0M715.4 1844.1h0M745.1 1861.5h0M745.6 1864.3h0M737.8 1861.8h0M713.7 1854.7h0M719.0 1857.1h0M724.7 1840.5h0M714.6 1867.6h0M725.0 1860.3h0M731.7 1855.2h0M727.6 1857.8h0M748.1 1858.2h0M723.9 1854.0h0M711.5 1830.1h0M744.6 1849.6h0M704.9 1829.5h0M694.2 1806.6h0M749.2 1857.6h0M701.5 1852.7h0M751.0 1853.6h0M725.4 1839.4h0M751.0 1866.1h0M708.5 1853.5h0M737.6 1860.1h0M747.0 1848.6h0M719.0 1866.6h0M715.3 1868.2h0M741.7 1846.1h0M711.2 1841.8h0M721.0 1844.5h0M710.6 1849.8h0M693.2 1807.4h0M723.8 1867.8h0M724.0 1846.9h0M747.6 1864.2h0M724.0 1846.1h0M719.0 1834.2h0M718.8 1838.4h0M696.3 1823.6h0M722.4 1853.1h0M699.2 1843.3h0M712.0 1843.4h0M749.0 1846.2h0M699.4 1822.1h0M704.9 1840.2h0M722.0 1837.9h0M733.7 1855.8h0M701.1 1827.7h0M703.3 1851.1h0M732.6 1862.9h0M741.2 1860.7h0M729.9 1862.4h0M728.7 1850.7h0M739.0 1857.9h0M703.7 1830.0h0M724.6 1847.7h0M721.4 1849.1h0M708.2 1845.6h0M724.9 1850.2h0M743.7 1856.2h0M701.9 1837.5h0M723.3 1847.4h0M720.9 1871.8h0M717.7 1844.5h0M746.8 1870.9h0M708.3 1829.7h0M702.7 1831.5h0M701.0 1846.5h0M747.2 1859.0h0M737.4 1844.5h0M736.2 1855.0h0M743.5 1861.5h0M696.6 1816.2h0M733.8 1856.7h0M736.9 1865.4h0M727.6 1860.0h0M708.7 1836.8h0M726.8 1868.1h0M697.8 1835.5h0M723.9 1851.4h0M702.3 1827.9h0M735.7 1853.2h0M699.2 1847.8h0M745.1 1841.1h0M720.7 1870.9h0M694.4 1829.6h0M697.6 1829.2h0M739.8 1843.7h0M723.4 1855.2h0M738.3 1856.3h0M732.4 1864.7h0M749.2 1869.5h0M725.1 1868.3h0M722.8 1862.1h0M700.0 1844.5h0M730.6 1856.8h0M750.0 1864.9h0M706.1 1848.0h0M739.3 1858.8h0M724.1 1851.1h0M723.7 1871.2h0M718.9 1837.0h0M746.7 1840.9h0M718.7 1841.2h0M707.9 1840.2h0M708.0 1829.9h0M743.0 1840.3h0M712.6 1841.6h0M736.8 1844.7h0M720.7 1853.9h0M723.7 1863.9h0M705.1 1838.5h0M728.3 1870.7h0M720.6 1850.7h0M733.1 1861.2h0M706.2 1851.3h0M739.0 1844.3h0M737.3 1848.3h0M712.5 1858.6h0M730.7 1857.2h0M742.1 1851.2h0M738.0 1850.8h0M751.3 1852.6h0M709.8 1834.0h0M731.1 1849.4h0M715.8 1869.5h0M694.6 1831.0h0M721.9 1835.3h0M749.6 1864.2h0M711.2 1854.7h0M742.4 1854.3h0M751.6 1862.6h0M718.9 1841.7h0M720.3 1840.6h0M732.6 1863.1h0M729.5 1871.4h0M713.6 1844.9h0M742.1 1857.4h0M749.3 1861.9h0M701.8 1832.9h0M743.3 1846.0h0M713.4 1865.1h0M701.1 1836.4h0M743.2 1870.3h0M732.6 1854.5h0M711.8 1851.3h0M741.6 1871.6h0M747.9 1860.4h0M726.7 1862.8h0M735.9 1862.9h0M741.9 1845.3h0M707.8 1829.9h0M716.2 1852.3h0M717.0 1847.0h0M710.7 1859.8h0M710.4 1855.6h0M750.2 1835.2h0M716.6 1837.4h0M725.5 1856.7h0M734.7 1855.5h0M751.8 1865.3h0M733.0 1868.4h0M730.5 1871.2h0M721.4 1846.3h0M733.6 1860.2h0M748.4 1849.5h0M713.3 1854.6h0M701.8 1828.5h0M710.8 1857.2h0M740.2 1860.5h0M729.5 1868.2h0M706.7 1829.7h0M749.9 1864.3h0M699.7 1825.2h0M735.4 1847.4h0M708.4 1841.1h0M726.1 1861.4h0M726.4 1868.0h0M705.4 1839.8h0M697.4 1841.9h0M696.9 1838.7h0M744.3 1843.4h0M737.5 1849.9h0M718.1 1858.5h0M695.3 1833.7h0M709.4 1840.6h0M737.5 1844.9h0M704.2 1825.8h0M721.1 1854.8h0M722.8 1854.8h0M731.5 1872.6h0M692.5 1814.2h0M703.7 1850.3h0M697.5 1832.9h0M723.1 1843.8h0M709.5 1835.5h0M730.7 1861.1h0M693.4 1811.4h0M719.3 1849.2h0M698.2 1838.3h0M707.2 1834.8h0M745.3 1858.6h0M732.7 1855.5h0M739.2 1856.0h0M747.9 1850.9h0M730.6 1872.4h0M716.1 1861.2h0M720.2 1849.3h0M746.5 1842.7h0M736.7 1855.8h0M736.7 1872.2h0M708.9 1851.6h0M725.8 1861.5h0M718.2 1848.6h0M732.2 1851.4h0M712.3 1858.5h0M750.6 1844.7h0M742.3 1863.7h0M726.8 1870.0h0M716.3 1865.5h0M746.0 1843.3h0M719.0 1867.6h0M720.4 1842.4h0M704.8 1832.9h0M723.6 1845.4h0M701.2 1838.5h0M702.2 1846.0h0M730.3 1856.3h0M739.4 1864.7h0M741.3 1849.3h0M744.6 1868.1h0M749.6 1850.6h0M693.6 1806.2h0M693.1 1809.9h0M751.5 1851.7h0M713.2 1859.0h0M697.6 1826.4h0M747.8 1853.9h0M702.0 1848.4h0M710.0 1852.7h0M746.4 1853.1h0M719.5 1870.8h0M707.2 1854.1h0M749.3 1857.6h0M706.0 1855.5h0M698.5 1828.7h0M703.3 1834.5h0M730.9 1861.3h0M728.1 1872.1h0M742.3 1848.3h0M703.3 1834.2h0M735.2 1861.3h0M738.8 1852.1h0M725.7 1870.1h0M709.0 1855.4h0M711.1 1858.3h0M712.9 1837.8h0M695.3 1824.1h0M740.5 1863.7h0M703.5 1853.5h0M734.7 1845.9h0M741.3 1854.2h0M740.5 1853.0h0M717.1 1858.7h0M727.3 1851.5h0M721.4 1860.3h0M726.5 1846.5h0M748.1 1865.1h0M695.3 1818.4h0M718.7 1840.0h0M743.0 1856.3h0M723.6 1868.3h0M736.7 1848.9h0M706.5 1847.6h0M744.6 1851.7h0M718.5 1839.1h0M749.1 1838.6h0M706.3 1834.6h0M699.7 1828.2h0M703.0 1836.4h0M710.1 1842.4h0M715.7 1850.1h0M744.0 1848.1h0M734.0 1868.5h0M745.6 1841.4h0M714.6 1857.5h0M698.0 1822.3h0M736.4 1866.1h0M717.2 1864.0h0M737.6 1871.0h0M748.3 1844.9h0M716.2 1839.7h0M739.8 1848.8h0M697.9 1843.4h0M730.1 1860.1h0M709.2 1858.9h0M736.5 1852.8h0M740.0 1851.1h0M708.2 1859.3h0M725.3 1862.4h0M743.1 1851.3h0M715.6 1845.0h0M700.6 1839.4h0M701.6 1839.3h0M700.4 1846.8h0M721.6 1840.5h0M728.3 1870.3h0M698.5 1834.5h0M710.0 1841.4h0M713.4 1830.9h0M748.0 1870.8h0M701.5 1834.6h0M716.5 1858.5h0M706.1 1829.1h0M707.4 1830.2h0M698.6 1837.6h0M705.9 1853.0h0M748.6 1870.0h0M711.5 1840.6h0M699.6 1842.4h0M697.7 1825.6h0M744.5 1839.3h0M751.2 1858.6h0M745.6 1837.4h0M734.6 1864.3h0M734.3 1864.4h0M741.0 1856.3h0M703.6 1853.0h0M749.5 1841.7h0M720.1 1857.9h0M699.6 1838.3h0M749.5 1870.5h0M699.1 1840.2h0M739.0 1855.8h0M693.7 1805.1h0M702.8 1835.9h0M718.8 1845.3h0M726.0 1865.2h0M725.3 1854.3h0M736.4 1868.2h0M745.5 1838.7h0M701.9 1841.0h0M748.0 1863.8h0M729.9 1871.7h0M699.2 1851.8h0M748.3 1861.7h0M743.6 1869.5h0M703.1 1845.6h0M708.8 1841.5h0M745.9 1856.6h0M718.1 1864.1h0M721.5 1859.2h0M698.5 1848.0h0M726.2 1853.3h0M711.2 1855.1h0M699.4 1841.2h0M725.1 1839.7h0M720.4 1860.6h0M726.6 1864.5h0M716.3 1855.1h0M722.8 1867.5h0M715.7 1843.0h0M708.1 1830.2h0M734.9 1862.6h0M722.8 1866.5h0M698.8 1837.2h0M746.7 1841.8h0M752.4 1865.2h0M730.1 1867.6h0M719.4 1861.8h0M739.2 1847.4h0M696.7 1829.4h0M711.3 1845.4h0M695.5 1809.2h0M740.7 1859.3h0M751.0 1863.2h0M750.4 1841.2h0M722.0 1839.6h0M713.4 1838.8h0M735.3 1856.7h0M723.2 1848.2h0M725.0 1852.0h0M703.5 1838.2h0M727.0 1843.3h0M746.4 1868.6h0M711.2 1834.8h0M730.2 1870.0h0M749.6 1844.9h0M694.6 1831.0h0M708.5 1857.0h0M708.2 1848.9h0M700.1 1837.7h0M694.2 1823.7h0M704.4 1851.0h0M737.9 1851.7h0M716.4 1838.8h0M709.6 1834.0h0M727.8 1851.2h0M720.1 1846.3h0M718.5 1842.2h0M702.2 1838.1h0M715.6 1834.2h0M712.7 1863.8h0M733.8 1865.7h0M722.2 1857.3h0M716.9 1859.1h0M707.0 1845.8h0M704.2 1852.6h0M748.7 1855.6h0M744.9 1839.1h0M699.3 1839.3h0M715.3 1847.3h0M737.3 1848.8h0M711.7 1842.8h0M739.4 1862.1h0M738.2 1847.0h0M722.1 1855.1h0M721.3 1862.1h0M742.6 1867.8h0M699.7 1841.9h0M712.2 1845.3h0M722.1 1862.9h0M698.2 1821.0h0M746.4 1871.2h0M707.1 1858.7h0M748.5 1869.4h0M703.2 1851.2h0M709.0 1861.0h0M734.8 1864.2h0M716.1 1834.3h0M725.1 1845.1h0M752.4 1867.5h0M704.2 1834.2h0M716.4 1833.3h0M711.4 1862.4h0M742.3 1870.5h0M722.2 1865.2h0M744.3 1845.4h0M742.1 1867.6h0M693.4 1817.1h0M720.0 1861.7h0M715.0 1848.6h0M694.6 1805.2h0M717.4 1871.0h0M700.7 1846.0h0M710.0 1847.1h0M721.1 1842.8h0M744.8 1849.3h0M731.2 1869.2h0M714.4 1851.0h0M706.4 1843.4h0M700.0 1833.0h0M707.2 1839.4h0M749.9 1860.7h0M716.3 1858.0h0M725.0 1856.4h0M722.9 1862.6h0M743.2 1852.8h0M716.9 1842.7h0M726.1 1871.7h0M722.9 1842.9h0M719.3 1846.4h0M735.5 1871.2h0M723.5 1838.3h0M725.3 1863.1h0M738.2 1863.5h0M744.6 1853.4h0M728.8 1872.0h0M729.8 1866.3h0M708.0 1850.5h0M710.1 1834.8h0M722.3 1846.0h0M701.2 1825.1h0M738.2 1847.8h0M694.6 1830.0h0M722.8 1843.8h0M751.0 1851.9h0M696.4 1819.2h0M703.6 1846.9h0M739.4 1860.3h0M730.4 1858.5h0M719.2 1843.6h0M721.3 1858.5h0M735.8 1848.4h0M742.7 1855.7h0M726.5 1856.0h0M728.1 1858.5h0M695.9 1836.9h0M718.1 1841.8h0M734.8 1869.3h0M702.2 1841.1h0M750.9 1857.4h0M696.3 1833.2h0M716.7 1855.9h0M706.2 1844.6h0M748.5 1843.6h0M710.6 1856.4h0M751.3 1869.8h0M695.6 1811.2h0M715.3 1840.1h0M723.0 1866.2h0M726.7 1862.2h0M696.1 1839.2h0M727.0 1841.8h0M694.2 1816.0h0M740.7 1848.4h0M746.4 1855.5h0M705.4 1838.7h0M720.8 1855.3h0M745.8 1852.7h0M743.4 1855.0h0M747.3 1851.6h0M722.8 1867.1h0M707.5 1861.5h0M713.1 1839.5h0M751.7 1850.0h0M741.6 1841.3h0M698.8 1834.5h0M697.5 1825.9h0M746.2 1861.3h0M696.7 1838.7h0M716.5 1847.9h0M737.5 1848.6h0M708.6 1841.0h0M708.9 1835.8h0M708.3 1840.5h0M712.4 1844.1h0M752.4 1860.4h0M716.7 1843.1h0M744.2 1845.8h0M716.8 1864.0h0M749.8 1870.3h0M748.5 1847.9h0M730.8 1865.1h0M717.4 1856.8h0M693.5 1811.2h0M748.2 1850.4h0M704.6 1837.1h0M700.2 1840.2h0M728.0 1858.2h0M750.2 1834.8h0M700.1 1829.6h0M708.5 1831.7h0M745.9 1870.1h0M696.5 1821.2h0M702.1 1844.1h0M751.2 1856.5h0M695.7 1825.0h0M700.7 1850.6h0M736.0 1858.1h0M751.8 1858.2h0M724.9 1868.6h0M725.4 1865.2h0M712.3 1834.1h0M716.0 1868.8h0M748.1 1846.2h0M708.2 1847.7h0M706.9 1856.8h0M718.5 1853.6h0M696.9 1816.0h0M694.3 1813.1h0M717.7 1844.1h0M730.4 1871.5h0M704.8 1849.4h0M701.2 1839.3h0M718.1 1861.4h0M725.9 1870.1h0M716.4 1855.3h0M713.0 1833.8h0M718.1 1843.7h0M700.9 1838.5h0M694.4 1823.0h0M704.7 1833.1h0M749.2 1854.5h0M716.0 1851.7h0M742.8 1856.5h0M743.4 1865.7h0M709.4 1836.9h0M696.0 1835.3h0M727.5 1869.8h0M725.9 1841.4h0M738.2 1849.9h0M746.3 1840.4h0M744.7 1866.4h0M749.0 1868.1h0M735.7 1844.2h0M702.8 1856.6h0M732.6 1848.3h0M702.0 1816.0h0M723.2 1843.1h0M697.2 1821.9h0M713.5 1864.7h0M732.9 1846.3h0M693.9 1841.0h0M692.5 1843.4h0M708.2 1868.6h0M753.3 1862.4h0M702.8 1848.7h0M721.5 1834.3h0M746.9 1840.0h0M695.8 1802.7h0M694.7 1803.2h0M699.1 1849.4h0M696.5 1822.7h0M757.2 1868.7h0M694.0 1850.9h0M748.3 1872.3h0M721.8 1839.7h0M734.8 1870.4h0M752.8 1869.1h0M691.0 1799.8h0M727.4 1845.8h0M750.2 1838.3h0M751.0 1872.9h0M732.9 1844.4h0M697.3 1804.0h0M725.9 1833.2h0M696.8 1842.6h0M690.4 1804.6h0M710.8 1830.5h0M746.5 1838.5h0M750.6 1865.5h0M690.2 1805.4h0M723.2 1867.7h0M694.1 1819.1h0M693.6 1810.5h0M742.3 1837.9h0M697.3 1807.6h0M697.8 1856.6h0M697.0 1809.5h0M690.6 1805.1h0M704.1 1848.3h0M758.5 1853.0h0M713.4 1824.4h0M695.7 1825.6h0M693.5 1808.0h0M753.8 1829.6h0M728.7 1848.0h0M751.8 1834.8h0M756.2 1870.8h0M746.4 1836.5h0M708.9 1866.6h0M692.0 1814.9h0M745.9 1845.6h0M694.3 1810.4h0M688.8 1844.2h0M735.5 1843.9h0M705.5 1865.3h0M693.2 1806.8h0M723.9 1871.3h0M704.4 1796.3h0M689.3 1831.9h0M743.0 1871.8h0M713.5 1864.0h0M726.0 1877.5h0M752.0 1830.2h0M694.0 1826.0h0M699.0 1819.8h0M690.9 1815.9h0M723.5 1840.3h0M709.6 1862.8h0M756.1 1851.5h0M698.9 1840.6h0M701.6 1854.9h0M692.5 1829.2h0M749.2 1860.4h0M743.5 1876.8h0M706.7 1826.6h0M688.5 1819.6h0M699.4 1822.7h0M700.5 1852.2h0M748.3 1854.4h0M693.3 1819.5h0M750.4 1869.3h0M750.2 1866.6h0M754.0 1867.3h0M736.3 1875.1h0M710.8 1861.7h0M743.2 1876.3h0M748.8 1869.7h0M715.2 1869.6h0M747.8 1835.6h0M712.8 1825.2h0M751.8 1865.8h0M700.9 1818.3h0M725.6 1871.8h0M696.3 1836.8h0M752.5 1854.5h0M719.6 1849.1h0M691.6 1847.9h0M699.1 1820.8h0M726.7 1875.2h0M698.9 1818.3h0M742.9 1873.6h0M695.2 1808.8h0M716.4 1868.1h0M752.0 1849.8h0M700.5 1800.9h0M727.4 1845.4h0M702.6 1833.5h0M755.8 1843.6h0M746.6 1870.8h0M732.0 1843.1h0M700.0 1856.0h0M697.9 1806.3h0M689.6 1805.9h0M692.2 1802.0h0M690.4 1783.7h0M686.1 1791.7h0M694.3 1799.9h0M693.9 1801.9h0M681.4 1801.1h0M688.6 1808.9h0M686.7 1809.8h0M682.8 1806.9h0M690.5 1793.9h0M679.7 1777.3h0M704.8 1784.8h0M696.4 1792.0h0M692.0 1805.4h0M686.7 1805.9h0M681.9 1809.8h0M698.2 1791.7h0M690.8 1803.0h0M691.0 1801.3h0M686.5 1800.7h0M684.4 1790.4h0M693.6 1791.3h0M685.4 1791.2h0M765.3 1814.1h0M768.9 1855.1h0M759.4 1834.8h0M772.0 1824.2h0M755.7 1838.6h0M760.2 1859.2h0M751.4 1807.8h0M761.0 1826.6h0M749.9 1840.4h0M760.9 1857.7h0M748.1 1813.1h0M759.0 1824.3h0M770.7 1832.7h0M767.7 1817.8h0M762.5 1837.1h0M763.5 1833.3h0M759.8 1863.7h0M762.3 1833.8h0M756.9 1830.7h0M763.8 1817.0h0M771.7 1831.3h0M769.8 1816.3h0M766.8 1814.0h0M764.4 1844.2h0M776.0 1812.6h0M802.0 1567.3h0M787.7 1672.1h0M806.4 1685.2h0M675.7 1743.6h0M686.1 1738.0h0M641.7 1781.9h0M665.8 1788.0h0M679.9 1768.3h0M682.4 1772.0h0M767.5 1719.0h0M770.0 1754.7h0M790.9 1754.7h0M794.6 1759.7h0M837.8 1763.4h0M794.6 1773.2h0M798.3 1781.9h0M797.1 1796.7h0M815.6 1818.9h0M781.0 1790.5h0M675.0 1809.0h0M679.9 1816.4h0M688.5 1813.9h0M686.1 1833.7h0M763.8 1817.6h0M767.5 1821.3h0M767.5 1836.1h0M762.5 1809.0h0M652.0 1853.0h0M660.0 1845.0h0M812.0 1848.0h0M790.0 1805.0h0M700.0 1790.0h0" stroke="#9b9b9b" stroke-width="2.5" stroke-linecap="round" fill="none"/>
<line x1="667.6" y1="1855.9" x2="718.1" y2="1868.2" stroke="#111" stroke-width="1.1"/>
<circle cx="771.2" cy="1601.3" r="5.30" fill="#ec1c24"/>
<circle cx="766.7" cy="1698.0" r="5.30" fill="#ec1c24"/>
<circle cx="783.7" cy="1740.4" r="5.30" fill="#ec1c24"/>
<circle cx="756.9" cy="1795.0" r="5.30" fill="#ec1c24"/>
<circle cx="769.9" cy="1814.4" r="5.30" fill="#ec1c24"/>
<circle cx="751.9" cy="1821.8" r="5.30" fill="#ec1c24"/>
<circle cx="747.2" cy="1836.9" r="5.30" fill="#ec1c24"/>
<circle cx="776.1" cy="1844.8" r="5.30" fill="#ec1c24"/>
<circle cx="719.4" cy="1870.7" r="5.30" fill="#ec1c24"/>
<circle cx="724.3" cy="1869.4" r="5.30" fill="#ec1c24"/>
<circle cx="729.2" cy="1865.7" r="5.30" fill="#ec1c24"/>
<circle cx="739.1" cy="1865.2" r="5.30" fill="#ec1c24"/>
<circle cx="722.0" cy="1872.0" r="5.30" fill="#ec1c24"/>
<text x="762.9" y="1597.0" font-size="19.5">B2m</text>
<text x="709.0" y="1718.0" font-size="19.5">H2−D1</text>
<text x="778.8" y="1736.0" font-size="19.5">H2−Q6</text>
<text x="715.0" y="1792.0" font-size="19.5">H2−K1</text>
<text x="775.3" y="1812.5" font-size="19.5">Irf1</text>
<text x="716.0" y="1818.0" font-size="19.5">Stat1</text>
<text x="762.0" y="1840.0" font-size="19.5">Cxcl9</text>
<text x="618.3" y="1862.0" font-size="19.5">Spp1</text>
<text x="672.5" y="1862.0" font-size="19.5">Fcgr4</text>
<text x="731.0" y="1861.0" font-size="19.5">Tap1</text>
<text x="667.2" y="1884.0" font-size="19.5">Cd74</text>
<text x="744.4" y="1884.0" font-size="19.5">Tap2</text>
<text x="535.7" y="1713.8" font-size="25.5" text-anchor="middle" transform="rotate(-90 535.7 1713.8)">– Log<tspan font-size="17.8" dy="5.1">10</tspan><tspan dy="-5.1"> </tspan><tspan font-style="italic">Pval</tspan></text>
<text x="759.7" y="1939.0" font-size="25.5" text-anchor="middle">Log<tspan font-size="17.3" dy="5.6">2</tspan><tspan dy="-5.6"> FC</tspan></text>
<text x="669.8" y="1954.0" font-size="21.5" text-anchor="middle">IgG2a</text>
<text x="669.5" y="1980.7" font-size="21.5" text-anchor="middle">Control</text>
<text x="807.2" y="1954.0" font-size="21.5">aTIGIT IgG2a</text>
<text x="807.2" y="1980.7" font-size="21.5">+ aPD-L1</text>
<text x="807.2" y="2006.0" font-size="21.5">+ aCSF-1R</text>
<line x1="596.8" y1="1962.2" x2="633.5" y2="1962.2" stroke="#5a5a5a" stroke-width="4.5"/>
<path d="M582.8,1962.2 L598.8,1953.7 L598.8,1970.7 Z" fill="#5a5a5a" stroke="none" stroke-width="1.5"/>
<line x1="926.6" y1="1962.2" x2="963.2" y2="1962.2" stroke="#5a5a5a" stroke-width="4.5"/>
<path d="M977.2,1962.2 L961.2,1953.7 L961.2,1970.7 Z" fill="#5a5a5a" stroke="none" stroke-width="1.5"/>
<rect x="1041.6" y="1550.6" width="352.8" height="31.0" fill="none" stroke="#333" stroke-width="2"/>
<line x1="1152.4" y1="1551.6" x2="1152.4" y2="1580.6" stroke="#444" stroke-width="1.1" stroke-dasharray="4 3"/>
<line x1="1220.0" y1="1551.6" x2="1220.0" y2="1580.6" stroke="#444" stroke-width="1.1" stroke-dasharray="4 3"/>
<line x1="1035.6" y1="1551.3" x2="1041.6" y2="1551.3" stroke="#333" stroke-width="1.5"/>
<text x="1029.6" y="1558.4" font-size="20" text-anchor="end">109</text>
<line x1="1035.6" y1="1581.8" x2="1041.6" y2="1581.8" stroke="#333" stroke-width="1.5"/>
<text x="1029.6" y="1588.9" font-size="20" text-anchor="end">30</text>
<rect x="1041.6" y="1589.9" width="352.8" height="296.3" fill="none" stroke="#333" stroke-width="2"/>
<line x1="1152.4" y1="1590.9" x2="1152.4" y2="1885.2" stroke="#444" stroke-width="1.1" stroke-dasharray="4 3"/>
<line x1="1220.0" y1="1590.9" x2="1220.0" y2="1885.2" stroke="#444" stroke-width="1.1" stroke-dasharray="4 3"/>
<line x1="1042.6" y1="1853.9" x2="1393.4" y2="1853.9" stroke="#444" stroke-width="1.1" stroke-dasharray="4 3"/>
<line x1="1035.6" y1="1872.2" x2="1041.6" y2="1872.2" stroke="#333" stroke-width="1.5"/>
<text x="1029.6" y="1879.3" font-size="20" text-anchor="end">0</text>
<line x1="1035.6" y1="1778.3" x2="1041.6" y2="1778.3" stroke="#333" stroke-width="1.5"/>
<text x="1029.6" y="1785.4" font-size="20" text-anchor="end">10</text>
<line x1="1035.6" y1="1684.1" x2="1041.6" y2="1684.1" stroke="#333" stroke-width="1.5"/>
<text x="1029.6" y="1691.2" font-size="20" text-anchor="end">20</text>
<line x1="1035.6" y1="1590.4" x2="1041.6" y2="1590.4" stroke="#333" stroke-width="1.5"/>
<text x="1029.6" y="1597.5" font-size="20" text-anchor="end">30</text>
<line x1="1057.2" y1="1886.2" x2="1057.2" y2="1892.2" stroke="#333" stroke-width="1.5"/>
<text x="1057.2" y="1912.8" font-size="20" text-anchor="middle">−1.0</text>
<line x1="1121.8" y1="1886.2" x2="1121.8" y2="1892.2" stroke="#333" stroke-width="1.5"/>
<text x="1121.8" y="1912.8" font-size="20" text-anchor="middle">−0.5</text>
<line x1="1186.4" y1="1886.2" x2="1186.4" y2="1892.2" stroke="#333" stroke-width="1.5"/>
<text x="1186.4" y="1912.8" font-size="20" text-anchor="middle">0.0</text>
<line x1="1250.6" y1="1886.2" x2="1250.6" y2="1892.2" stroke="#333" stroke-width="1.5"/>
<text x="1250.6" y="1912.8" font-size="20" text-anchor="middle">0.5</text>
<line x1="1315.2" y1="1886.2" x2="1315.2" y2="1892.2" stroke="#333" stroke-width="1.5"/>
<text x="1315.2" y="1912.8" font-size="20" text-anchor="middle">1.0</text>
<line x1="1379.4" y1="1886.2" x2="1379.4" y2="1892.2" stroke="#333" stroke-width="1.5"/>
<text x="1379.4" y="1912.8" font-size="20" text-anchor="middle">1.5</text>
<path d="M1151.3,1820.2 L1157.6,1810.2 L1165.1,1820.2 L1175.1,1832.7 L1190.1,1840.2 L1200.1,1830.2 L1210.1,1815.2 L1220.1,1810.2 L1225.1,1820.2 L1220.1,1840.2 L1215.1,1857.7 L1202.6,1870.2 L1180.1,1875.2 L1162.6,1870.2 L1153.8,1857.7 L1151.3,1840.2Z" fill="#a2a2a2" stroke="#a2a2a2" stroke-width="2" stroke-linejoin="round"/>
<path d="M1202.5 1851.9h0M1160.8 1817.6h0M1199.5 1865.7h0M1166.2 1824.4h0M1204.2 1840.8h0M1156.0 1839.8h0M1173.5 1835.5h0M1191.2 1854.6h0M1197.4 1858.5h0M1191.3 1865.5h0M1212.4 1826.7h0M1197.4 1859.9h0M1198.1 1866.0h0M1163.1 1842.6h0M1206.3 1839.4h0M1212.3 1857.6h0M1208.9 1835.1h0M1159.5 1839.8h0M1175.7 1836.1h0M1209.0 1821.0h0M1169.2 1835.7h0M1189.5 1862.4h0M1161.0 1856.9h0M1222.7 1827.8h0M1209.1 1830.8h0M1206.4 1844.5h0M1154.0 1856.5h0M1172.9 1838.4h0M1184.3 1853.9h0M1187.1 1853.5h0M1161.9 1853.6h0M1156.2 1815.9h0M1158.4 1828.5h0M1202.8 1853.9h0M1173.5 1847.7h0M1212.5 1839.0h0M1169.7 1851.4h0M1201.1 1842.8h0M1212.2 1847.0h0M1218.2 1839.5h0M1208.0 1863.7h0M1212.4 1818.4h0M1215.8 1815.7h0M1166.9 1847.9h0M1163.2 1841.5h0M1206.8 1857.3h0M1222.2 1819.6h0M1157.4 1858.3h0M1197.3 1870.3h0M1158.5 1833.1h0M1207.4 1832.9h0M1152.8 1844.6h0M1156.0 1840.7h0M1205.4 1837.4h0M1164.6 1852.0h0M1200.7 1843.3h0M1179.2 1846.2h0M1223.1 1828.0h0M1178.4 1847.6h0M1171.8 1846.2h0M1183.8 1851.7h0M1172.0 1854.5h0M1202.9 1827.9h0M1219.2 1816.6h0M1210.7 1823.9h0M1199.2 1865.9h0M1212.4 1824.9h0M1166.5 1833.3h0M1192.0 1868.9h0M1164.5 1864.8h0M1188.8 1858.4h0M1212.6 1840.6h0M1179.2 1858.1h0M1158.8 1856.1h0M1180.5 1855.4h0M1157.8 1826.6h0M1172.6 1830.0h0M1157.7 1847.7h0M1155.0 1858.3h0M1194.2 1838.6h0M1164.8 1848.8h0M1172.0 1828.9h0M1206.3 1866.3h0M1202.4 1868.3h0M1216.6 1848.5h0M1195.0 1856.0h0M1185.6 1853.7h0M1210.9 1846.3h0M1170.0 1856.7h0M1173.8 1859.2h0M1206.4 1837.1h0M1213.4 1855.3h0M1201.0 1845.6h0M1193.3 1870.1h0M1212.6 1826.2h0M1217.1 1849.8h0M1186.4 1845.1h0M1191.5 1841.6h0M1159.2 1828.5h0M1178.4 1874.0h0M1192.7 1851.1h0M1168.7 1826.9h0M1195.6 1843.0h0M1152.3 1845.3h0M1161.4 1855.9h0M1191.4 1868.2h0M1189.5 1842.4h0M1155.8 1853.9h0M1169.1 1827.3h0M1194.8 1853.3h0M1160.5 1845.0h0M1193.3 1855.9h0M1182.6 1850.9h0M1212.8 1845.3h0M1216.6 1841.1h0M1211.8 1852.4h0M1198.0 1842.1h0M1209.6 1851.4h0M1200.6 1833.7h0M1171.5 1863.9h0M1217.0 1825.9h0M1177.8 1841.2h0M1159.1 1842.8h0M1177.8 1854.2h0M1180.2 1850.8h0M1197.4 1863.1h0M1186.7 1862.7h0M1167.3 1830.0h0M1173.8 1832.9h0M1207.3 1840.8h0M1214.9 1856.0h0M1153.3 1831.2h0M1153.6 1823.6h0M1187.7 1860.7h0M1195.1 1839.8h0M1209.0 1822.8h0M1169.4 1848.0h0M1192.9 1855.0h0M1178.7 1835.8h0M1203.9 1840.9h0M1207.9 1844.4h0M1211.7 1852.7h0M1186.1 1850.9h0M1206.3 1844.5h0M1212.9 1834.4h0M1215.2 1814.0h0M1157.3 1831.6h0M1168.2 1841.2h0M1171.6 1856.4h0M1211.8 1818.6h0M1167.4 1867.1h0M1164.7 1825.7h0M1181.1 1869.0h0M1182.0 1866.1h0M1176.7 1866.1h0M1167.0 1852.4h0M1180.8 1863.3h0M1163.5 1870.2h0M1207.7 1861.3h0M1191.2 1854.8h0M1166.7 1844.5h0M1196.7 1834.8h0M1191.7 1869.7h0M1183.8 1867.8h0M1161.9 1838.6h0M1202.1 1829.4h0M1189.1 1868.3h0M1174.4 1839.2h0M1155.7 1851.4h0M1159.4 1817.7h0M1198.5 1846.6h0M1208.9 1824.0h0M1212.6 1835.4h0M1163.9 1852.4h0M1191.4 1843.9h0M1156.9 1818.6h0M1214.6 1817.9h0M1208.5 1819.4h0M1193.3 1867.9h0M1203.6 1856.7h0M1158.7 1845.1h0M1168.2 1862.9h0M1169.8 1837.2h0M1206.4 1830.8h0M1156.7 1828.0h0M1213.9 1835.0h0M1174.8 1853.1h0M1174.8 1848.7h0M1203.7 1848.1h0M1183.2 1852.9h0M1215.5 1816.2h0M1173.9 1864.2h0M1152.1 1832.0h0M1186.2 1851.7h0M1174.2 1840.4h0M1213.1 1846.5h0M1158.6 1856.1h0M1199.7 1867.1h0M1220.9 1823.2h0M1181.5 1837.2h0M1183.4 1845.2h0M1170.2 1853.3h0M1214.5 1843.6h0M1210.5 1829.1h0M1169.8 1861.1h0M1207.1 1850.5h0M1191.2 1869.8h0M1194.6 1853.4h0M1177.3 1861.8h0M1218.3 1828.0h0M1164.4 1844.9h0M1200.1 1868.2h0M1162.3 1868.5h0M1169.4 1848.0h0M1175.8 1855.3h0M1159.8 1860.1h0M1158.6 1815.5h0M1213.7 1834.6h0M1204.8 1824.5h0M1173.0 1854.7h0M1170.3 1860.2h0M1176.4 1842.3h0M1163.9 1861.4h0M1167.8 1832.4h0M1219.3 1814.9h0M1177.9 1854.1h0M1201.7 1846.3h0M1164.7 1830.3h0M1155.6 1816.1h0M1172.7 1853.7h0M1158.8 1851.4h0M1192.1 1838.6h0M1213.5 1847.2h0M1209.7 1821.7h0M1210.5 1838.0h0M1209.4 1852.9h0M1187.6 1839.4h0M1157.7 1858.5h0M1156.7 1812.1h0M1177.7 1861.4h0M1160.4 1839.6h0M1163.7 1865.7h0M1199.1 1851.9h0M1162.2 1846.1h0M1202.9 1826.8h0M1196.6 1835.7h0M1156.0 1825.2h0M1209.0 1834.2h0M1165.8 1828.1h0M1154.0 1829.4h0M1216.1 1831.1h0M1207.9 1832.2h0M1168.6 1868.0h0M1211.7 1839.5h0M1164.7 1834.7h0M1206.5 1833.0h0M1158.2 1825.1h0M1166.5 1832.1h0M1204.0 1831.6h0M1192.2 1856.8h0M1188.7 1860.6h0M1175.0 1859.2h0M1181.2 1871.8h0M1193.7 1845.0h0M1163.3 1852.0h0M1176.4 1862.7h0M1163.2 1850.0h0M1207.8 1851.9h0M1162.7 1859.4h0M1158.3 1815.0h0M1153.6 1819.9h0M1198.1 1833.0h0M1157.8 1855.9h0M1206.1 1848.4h0M1190.0 1856.7h0M1202.9 1863.9h0M1166.1 1852.7h0M1182.9 1842.2h0M1179.9 1851.1h0M1155.8 1822.6h0M1152.6 1845.5h0M1203.2 1849.7h0M1160.5 1856.4h0M1189.5 1854.4h0M1183.3 1874.5h0M1205.3 1826.4h0M1185.4 1858.4h0M1161.6 1837.0h0M1166.2 1853.4h0M1220.1 1825.3h0M1205.2 1824.4h0M1194.3 1843.3h0M1213.2 1854.8h0M1162.4 1824.7h0M1166.3 1823.0h0M1178.0 1860.2h0M1157.0 1816.8h0M1161.4 1836.1h0M1200.2 1842.9h0M1218.2 1846.8h0M1210.0 1848.1h0M1183.9 1850.0h0M1176.1 1872.5h0M1219.4 1826.9h0M1181.0 1841.8h0M1203.5 1826.7h0M1174.3 1868.2h0M1175.0 1863.2h0M1171.4 1842.3h0M1202.8 1869.6h0M1168.7 1826.1h0M1189.2 1847.3h0M1162.9 1842.5h0M1207.3 1858.9h0M1187.0 1842.4h0M1196.1 1852.3h0M1207.4 1851.5h0M1190.0 1861.4h0M1221.5 1818.5h0M1216.0 1828.4h0M1162.3 1821.4h0M1214.5 1840.2h0M1220.0 1823.4h0M1151.6 1828.0h0M1206.8 1843.5h0M1201.9 1836.8h0M1217.3 1827.2h0M1170.2 1838.0h0M1176.5 1835.9h0M1202.0 1839.1h0M1221.8 1824.9h0M1182.0 1839.4h0M1206.2 1843.2h0M1156.2 1817.4h0M1156.6 1826.6h0M1204.0 1836.4h0M1160.0 1850.6h0M1212.5 1852.3h0M1179.6 1853.9h0M1208.4 1851.8h0M1159.0 1835.9h0M1162.6 1834.4h0M1182.5 1843.5h0M1216.6 1832.5h0M1160.1 1842.7h0M1205.6 1838.1h0M1166.3 1856.8h0M1190.6 1844.2h0M1179.3 1859.7h0M1192.8 1871.4h0M1204.8 1833.1h0M1212.5 1837.7h0M1156.6 1825.3h0M1173.5 1848.2h0M1209.3 1860.3h0M1185.0 1851.9h0M1212.5 1834.3h0M1188.1 1859.3h0M1162.5 1823.3h0M1183.1 1867.3h0M1207.7 1848.2h0M1212.6 1847.1h0M1195.1 1837.4h0M1219.8 1819.0h0M1175.0 1840.3h0M1212.5 1827.7h0M1166.1 1826.4h0M1200.2 1859.6h0M1181.6 1845.2h0M1169.5 1867.6h0M1189.9 1872.3h0M1160.4 1833.3h0M1219.5 1834.2h0M1184.2 1859.1h0M1155.9 1852.2h0M1160.3 1818.6h0M1155.6 1827.1h0M1155.2 1826.6h0M1177.9 1848.3h0M1177.1 1864.2h0M1158.0 1855.5h0M1195.6 1861.4h0M1195.9 1865.9h0M1187.1 1861.5h0M1194.1 1859.7h0M1168.5 1867.7h0M1213.9 1847.7h0M1157.2 1856.4h0M1172.0 1856.5h0M1162.2 1863.8h0M1188.7 1844.1h0M1208.9 1819.3h0M1198.2 1840.4h0M1213.4 1818.6h0M1204.6 1851.0h0M1211.0 1856.2h0M1161.1 1868.0h0M1164.6 1855.5h0M1173.5 1864.1h0M1179.5 1850.5h0M1161.3 1834.3h0M1214.7 1835.7h0M1190.2 1863.7h0M1173.3 1852.1h0M1212.3 1845.4h0M1158.6 1856.2h0M1220.2 1838.2h0M1184.2 1863.9h0M1212.5 1827.0h0M1208.0 1823.8h0M1197.9 1871.2h0M1200.7 1868.8h0M1161.8 1822.5h0M1151.3 1834.0h0M1181.5 1849.1h0M1198.6 1848.5h0M1206.3 1850.4h0M1167.3 1861.5h0M1198.3 1862.4h0M1179.2 1870.9h0M1200.5 1835.6h0M1215.0 1827.9h0M1165.7 1864.2h0M1185.0 1859.2h0M1163.3 1828.0h0M1209.1 1830.1h0M1183.8 1855.7h0M1158.7 1835.5h0M1210.5 1848.0h0M1182.3 1859.3h0M1212.8 1852.9h0M1167.4 1864.9h0M1202.3 1858.4h0M1166.0 1836.4h0M1210.1 1826.2h0M1201.6 1866.0h0M1206.9 1830.3h0M1164.8 1858.5h0M1169.1 1837.7h0M1154.3 1831.7h0M1198.0 1849.7h0M1175.4 1836.8h0M1218.6 1819.4h0M1218.1 1839.2h0M1158.4 1844.2h0M1163.0 1826.3h0M1206.6 1845.8h0M1164.1 1824.6h0M1194.0 1850.4h0M1188.9 1871.6h0M1202.2 1852.9h0M1173.2 1839.9h0M1207.1 1858.9h0M1205.4 1842.5h0M1172.4 1871.2h0M1170.4 1859.1h0M1214.9 1846.6h0M1182.3 1850.4h0M1194.5 1848.0h0M1193.8 1839.1h0M1167.3 1865.4h0M1203.1 1834.8h0M1159.5 1834.1h0M1171.8 1869.0h0M1188.7 1868.9h0M1194.7 1835.7h0M1154.1 1822.3h0M1164.8 1839.7h0M1159.3 1834.7h0M1188.7 1840.3h0M1190.1 1840.6h0M1196.9 1851.9h0M1213.2 1827.7h0M1169.8 1872.1h0M1184.3 1857.1h0M1192.7 1871.3h0M1159.7 1859.2h0M1190.2 1841.0h0M1179.5 1863.6h0M1164.6 1841.5h0M1181.7 1844.7h0M1214.0 1841.8h0M1165.9 1828.7h0M1155.5 1823.1h0M1215.1 1818.1h0M1171.8 1829.8h0M1181.6 1839.1h0M1188.7 1859.9h0M1198.3 1865.6h0M1213.3 1855.2h0M1156.8 1854.0h0M1169.5 1860.3h0M1190.9 1870.7h0M1196.4 1865.6h0M1177.0 1866.9h0M1207.5 1842.1h0M1169.2 1868.9h0M1160.7 1853.2h0M1204.9 1828.3h0M1156.9 1822.9h0M1176.0 1843.5h0M1220.2 1831.0h0M1214.0 1814.9h0M1178.0 1843.9h0M1167.4 1868.3h0M1181.7 1846.6h0M1154.0 1824.8h0M1215.4 1839.9h0M1192.2 1856.3h0M1193.9 1870.8h0M1176.0 1851.6h0M1162.1 1842.3h0M1192.8 1843.3h0M1202.8 1837.2h0M1202.8 1845.6h0M1213.6 1840.0h0M1209.8 1827.2h0M1195.6 1870.5h0M1217.9 1844.6h0M1183.4 1852.3h0M1201.9 1830.4h0M1201.5 1859.0h0M1167.7 1837.6h0M1167.2 1848.3h0M1192.9 1839.5h0M1183.4 1860.5h0M1174.6 1832.9h0M1164.0 1861.2h0M1203.9 1861.1h0M1200.2 1869.3h0M1158.2 1839.5h0M1209.8 1859.0h0M1164.2 1834.2h0M1184.5 1850.8h0M1201.5 1868.9h0M1172.2 1847.6h0M1178.4 1859.6h0M1160.0 1845.4h0M1160.3 1816.2h0M1195.3 1871.0h0M1182.0 1869.5h0M1167.0 1863.5h0M1208.6 1838.4h0M1192.3 1858.0h0M1163.6 1859.3h0M1203.0 1835.4h0M1201.0 1863.3h0M1175.1 1853.4h0M1161.7 1838.3h0M1181.9 1844.3h0M1207.3 1833.4h0M1197.7 1856.5h0M1180.0 1852.5h0M1154.4 1834.7h0M1220.7 1831.5h0M1189.5 1855.5h0M1191.4 1862.7h0M1185.8 1857.3h0M1196.4 1866.6h0M1179.8 1849.5h0M1217.7 1837.7h0M1214.1 1821.5h0M1206.6 1864.9h0M1181.0 1853.8h0M1167.1 1843.4h0M1168.9 1840.0h0M1196.0 1871.6h0M1220.7 1822.2h0M1200.0 1862.2h0M1210.8 1842.9h0M1217.5 1819.4h0M1213.3 1844.3h0M1201.9 1827.7h0M1210.6 1832.7h0M1168.1 1852.2h0M1207.4 1851.8h0M1207.5 1835.2h0M1187.3 1845.2h0M1176.6 1855.5h0M1201.2 1849.2h0M1197.9 1839.0h0M1205.1 1846.3h0M1182.0 1867.2h0M1162.2 1838.0h0M1216.1 1829.3h0M1194.2 1850.3h0M1157.9 1823.5h0M1223.1 1819.9h0M1192.5 1839.1h0M1157.4 1829.4h0M1173.3 1832.3h0M1213.9 1850.0h0M1189.5 1853.0h0M1170.1 1850.6h0M1197.8 1866.4h0M1215.4 1817.1h0M1197.0 1849.0h0M1158.9 1819.2h0M1164.1 1842.6h0M1199.1 1850.2h0M1165.4 1864.3h0M1169.8 1862.6h0M1203.7 1861.9h0M1215.4 1821.2h0M1215.7 1820.8h0M1161.0 1862.6h0M1188.0 1871.9h0M1187.6 1856.3h0M1202.1 1861.2h0M1177.5 1837.9h0M1185.8 1850.1h0M1169.8 1871.7h0M1200.6 1857.9h0M1171.3 1839.2h0M1167.6 1842.5h0M1164.7 1849.2h0M1198.0 1841.3h0M1157.3 1813.3h0M1162.9 1857.2h0M1184.0 1865.4h0M1174.6 1847.1h0M1203.3 1825.4h0M1166.1 1862.5h0M1153.3 1842.2h0M1213.4 1819.6h0M1188.8 1857.1h0M1171.6 1833.1h0M1188.6 1865.4h0M1169.7 1826.3h0M1166.0 1857.7h0M1175.1 1842.3h0M1176.1 1871.3h0M1222.6 1817.8h0M1162.3 1869.2h0M1212.9 1845.4h0M1205.0 1867.0h0M1164.0 1824.5h0M1163.1 1865.5h0M1183.6 1857.1h0M1172.7 1841.9h0M1198.8 1848.4h0M1191.2 1865.4h0M1222.8 1821.5h0M1178.5 1858.8h0M1209.6 1838.6h0M1185.6 1842.3h0M1192.4 1862.7h0M1178.6 1866.7h0M1169.5 1838.8h0M1154.8 1859.0h0M1197.7 1837.4h0M1166.7 1846.6h0M1186.4 1870.0h0M1205.0 1842.6h0M1174.7 1836.0h0M1178.0 1868.6h0M1172.0 1855.5h0M1212.6 1817.8h0M1214.8 1831.5h0M1202.6 1858.0h0M1186.6 1852.9h0M1167.7 1848.5h0M1192.4 1864.9h0M1213.8 1824.2h0M1212.4 1850.0h0M1220.8 1826.5h0M1151.5 1833.3h0M1216.1 1824.8h0M1168.0 1870.5h0M1172.8 1845.5h0M1214.9 1818.0h0M1176.5 1841.2h0M1199.6 1840.0h0M1202.0 1837.4h0M1208.8 1820.8h0M1188.9 1855.6h0M1209.3 1844.6h0M1214.7 1849.2h0M1193.4 1841.1h0M1202.2 1869.1h0M1174.2 1839.7h0M1212.4 1816.0h0M1219.8 1838.7h0M1215.0 1819.6h0M1204.2 1845.3h0M1157.4 1854.5h0M1198.1 1864.3h0M1217.6 1829.3h0M1187.8 1845.0h0M1151.4 1830.4h0M1191.3 1864.7h0M1199.3 1853.7h0M1187.6 1851.2h0M1161.3 1819.9h0M1195.0 1852.8h0M1198.1 1854.0h0M1195.6 1839.0h0M1203.1 1852.1h0M1206.3 1846.5h0M1194.7 1855.9h0M1212.0 1821.0h0M1176.9 1836.9h0M1192.7 1862.7h0M1218.1 1819.7h0M1178.6 1874.3h0M1211.7 1814.8h0M1152.9 1842.0h0M1208.3 1863.9h0M1190.6 1871.5h0M1166.2 1853.9h0M1188.0 1868.0h0M1199.1 1851.2h0M1184.0 1871.0h0M1160.3 1855.4h0M1203.2 1865.4h0M1215.6 1838.8h0M1160.9 1843.2h0M1155.2 1818.1h0M1203.0 1834.3h0M1224.2 1823.6h0M1221.0 1833.7h0M1156.9 1812.0h0M1168.5 1844.4h0M1204.1 1866.7h0M1217.9 1815.6h0M1212.4 1822.2h0M1162.7 1817.1h0M1196.8 1865.0h0M1205.7 1839.7h0M1155.8 1858.2h0M1202.1 1842.0h0M1153.1 1829.7h0M1175.2 1863.7h0M1212.8 1841.8h0M1180.9 1865.5h0M1210.3 1822.5h0M1202.1 1832.4h0M1175.5 1847.1h0M1192.0 1867.2h0M1178.2 1850.8h0M1206.4 1864.6h0M1175.8 1842.9h0M1175.2 1848.4h0M1153.5 1817.0h0M1154.1 1845.7h0M1164.4 1864.3h0M1208.8 1827.4h0M1168.4 1835.0h0M1213.2 1824.6h0M1208.5 1820.8h0M1170.5 1839.3h0M1180.7 1855.2h0M1218.6 1843.2h0M1162.1 1866.2h0M1160.1 1854.7h0M1160.1 1851.4h0M1219.1 1834.8h0M1193.5 1866.1h0M1212.3 1821.2h0M1174.6 1844.7h0M1221.0 1825.3h0M1187.0 1856.7h0M1191.2 1845.8h0M1185.4 1849.6h0M1195.9 1864.9h0M1198.6 1854.1h0M1166.9 1861.5h0M1161.3 1835.2h0M1211.4 1836.8h0M1168.9 1869.5h0M1215.2 1828.1h0M1177.9 1858.6h0M1168.5 1838.8h0M1191.3 1848.3h0M1158.8 1830.2h0M1168.0 1853.9h0M1205.0 1849.9h0M1220.1 1834.5h0M1209.8 1828.8h0M1152.8 1842.3h0M1162.4 1841.9h0M1183.7 1859.1h0M1156.2 1842.2h0M1172.9 1832.3h0M1161.8 1824.5h0M1168.8 1868.8h0M1172.8 1856.1h0M1196.0 1846.6h0M1199.8 1835.2h0M1194.7 1866.0h0M1210.9 1842.4h0M1199.2 1865.1h0M1169.1 1857.2h0M1209.3 1844.4h0M1208.7 1842.1h0M1178.1 1834.5h0M1173.2 1858.9h0M1197.4 1837.6h0M1216.1 1849.1h0M1152.1 1850.0h0M1152.2 1822.9h0M1173.3 1869.7h0M1204.4 1823.5h0M1201.4 1869.8h0M1215.4 1835.2h0M1212.9 1854.7h0M1193.6 1874.6h0M1193.8 1874.8h0M1228.6 1820.0h0M1184.6 1841.4h0M1164.4 1819.1h0M1179.2 1877.1h0M1172.1 1819.6h0M1206.3 1811.0h0M1175.7 1829.1h0M1208.5 1817.5h0M1194.6 1834.4h0M1211.0 1870.6h0M1157.8 1857.6h0M1190.1 1872.3h0M1168.3 1823.7h0M1215.8 1825.5h0M1219.6 1841.3h0M1192.9 1829.0h0M1163.1 1870.0h0M1145.0 1824.2h0M1172.4 1823.2h0M1210.9 1816.2h0M1143.5 1836.3h0M1206.6 1826.8h0M1166.5 1870.3h0M1176.9 1833.0h0M1190.7 1875.9h0M1175.3 1875.1h0M1173.4 1831.6h0M1191.1 1840.8h0M1184.0 1844.1h0M1158.2 1858.1h0M1189.5 1842.4h0M1154.0 1813.0h0M1181.3 1874.5h0M1209.7 1859.5h0M1212.3 1865.4h0M1221.1 1840.0h0M1155.0 1830.3h0M1209.5 1827.2h0M1158.0 1842.6h0M1204.3 1820.6h0M1152.7 1845.7h0M1153.2 1812.2h0M1153.5 1854.4h0M1156.0 1837.8h0M1153.0 1840.7h0M1179.3 1876.1h0M1180.4 1872.0h0M1158.2 1809.2h0M1224.5 1815.7h0M1164.8 1867.4h0M1220.2 1818.5h0M1153.8 1811.9h0M1206.1 1867.2h0M1200.3 1826.7h0M1199.7 1828.9h0M1213.6 1814.6h0M1154.1 1863.2h0M1163.7 1812.4h0M1197.4 1869.7h0M1207.5 1875.8h0M1167.3 1821.9h0M1201.5 1823.1h0M1202.3 1831.9h0M1169.0 1827.0h0M1156.5 1868.8h0M1157.5 1858.9h0M1211.5 1868.3h0M1183.7 1873.0h0M1149.8 1818.4h0M1155.3 1859.0h0M1151.4 1826.1h0M1211.6 1807.2h0M1170.2 1819.1h0M1176.9 1835.8h0M1150.9 1814.9h0M1156.0 1864.3h0M1217.2 1855.3h0M1198.4 1824.7h0M1218.1 1805.0h0M1177.2 1884.6h0M1219.6 1838.3h0M1148.1 1853.2h0M1156.4 1863.0h0M1205.8 1829.5h0M1171.6 1870.1h0M1148.4 1857.2h0M1152.9 1831.8h0M1221.6 1808.6h0M1210.9 1812.3h0M1178.2 1872.2h0M1218.6 1859.3h0M1216.3 1820.4h0M1179.9 1874.2h0M1155.0 1819.7h0M1213.9 1849.7h0M1190.0 1839.6h0M1180.0 1837.3h0M1224.8 1827.7h0M1202.1 1871.2h0M1162.0 1838.3h0M1208.2 1818.2h0M1208.7 1855.5h0M1183.5 1879.3h0M1195.9 1838.5h0M1214.6 1841.0h0M1211.1 1813.5h0M1216.6 1842.1h0M1217.9 1809.8h0M1152.4 1860.6h0M1188.4 1832.3h0M1159.1 1868.7h0M1155.6 1855.6h0M1171.5 1875.1h0M1208.9 1828.3h0M1201.8 1872.2h0M1152.9 1822.2h0M1216.1 1848.2h0M1173.3 1823.2h0M1180.7 1831.5h0M1202.9 1873.7h0M1198.3 1872.6h0M1210.4 1859.1h0M1175.2 1833.8h0M1152.3 1839.1h0M1189.4 1879.2h0M1217.0 1863.8h0M1152.9 1822.1h0M1171.4 1825.1h0M1208.6 1815.6h0M1166.7 1877.6h0M1182.7 1874.3h0M1172.2 1822.3h0M1172.4 1827.9h0M1190.3 1841.2h0M1226.1 1818.6h0M1148.6 1834.4h0M1218.8 1815.0h0M1196.5 1875.2h0M1160.4 1845.1h0M1213.6 1863.4h0M1210.6 1810.7h0M1183.1 1882.0h0M1155.7 1811.1h0M1163.8 1863.4h0M1201.3 1826.8h0M1155.5 1822.3h0M1208.6 1824.8h0M1157.5 1825.4h0M1170.4 1835.6h0M1151.3 1849.5h0M1153.2 1830.2h0M1165.2 1874.0h0M1222.1 1833.2h0M1212.0 1820.5h0M1170.6 1870.8h0M1178.6 1869.1h0M1196.7 1843.5h0M1173.3 1831.3h0M1221.5 1838.6h0M1191.5 1838.8h0M1173.7 1824.5h0M1239.1 1793.4h0M1238.3 1802.8h0M1237.0 1790.4h0M1239.2 1788.7h0M1227.5 1793.8h0M1220.2 1804.6h0M1241.5 1791.2h0M1246.4 1809.7h0M1236.0 1804.9h0M1242.1 1785.7h0M1238.4 1806.3h0M1238.6 1786.5h0M1245.3 1755.0h0M1230.2 1793.4h0M1247.7 1765.5h0M1223.0 1771.5h0M1230.6 1777.3h0M1222.9 1807.2h0M1237.1 1789.8h0M1226.1 1785.2h0M1231.0 1829.2h0M1222.5 1781.5h0M1227.7 1787.5h0M1239.0 1765.7h0M1222.9 1811.3h0M1234.7 1818.1h0M1226.0 1763.2h0M1226.9 1777.9h0M1238.2 1775.8h0M1233.1 1804.3h0M1233.6 1784.8h0M1229.6 1795.1h0M1238.6 1772.4h0M1219.9 1818.8h0M1218.7 1785.1h0M1224.3 1813.8h0M1234.5 1814.9h0M1244.1 1778.4h0M1234.2 1761.6h0M1227.6 1804.6h0M1236.5 1798.2h0M1233.0 1782.9h0M1238.6 1794.3h0M1232.5 1809.8h0M1228.9 1825.2h0M1230.9 1821.9h0M1234.5 1782.9h0M1230.9 1804.5h0M1237.4 1803.3h0M1235.0 1787.5h0M1227.3 1778.4h0M1230.4 1756.6h0M1234.6 1792.2h0M1231.4 1775.3h0M1232.2 1803.0h0M1222.9 1772.2h0M1229.4 1794.6h0M1221.8 1803.1h0M1214.3 1820.5h0M1219.6 1770.8h0M1226.7 1765.4h0M1230.1 1777.0h0M1245.5 1790.5h0M1240.2 1792.3h0M1242.7 1798.5h0M1219.7 1783.7h0M1235.9 1798.4h0M1213.6 1773.3h0M1217.5 1762.2h0M1232.9 1791.6h0M1131.5 1782.1h0M1158.0 1816.4h0M1156.5 1783.6h0M1151.1 1815.0h0M1149.4 1793.9h0M1144.6 1804.2h0M1157.3 1824.9h0M1149.1 1801.0h0M1137.7 1815.8h0M1144.7 1819.8h0M1143.8 1798.6h0M1155.2 1803.3h0M1131.0 1796.5h0M1151.2 1834.5h0M1161.0 1822.7h0M1155.8 1822.0h0M1151.3 1782.0h0M1144.7 1806.8h0M1145.6 1799.5h0M1148.8 1820.7h0M1128.8 1781.8h0M1151.3 1796.4h0M1166.6 1813.6h0M1152.0 1792.0h0M1151.3 1798.3h0M1137.9 1787.6h0M1154.7 1805.3h0M1150.7 1824.4h0M1142.7 1795.5h0M1156.7 1817.2h0M1144.4 1805.2h0M1147.7 1786.7h0M1150.9 1790.5h0M1157.8 1806.1h0M1148.5 1817.4h0M1161.8 1791.3h0M1137.2 1790.5h0M1151.1 1767.1h0M1133.1 1816.6h0M1150.0 1807.3h0M1248.8 1724.3h0M1252.6 1733.2h0M1262.9 1739.0h0M1251.8 1733.2h0M1231.7 1719.0h0M1257.2 1712.1h0M1248.2 1723.4h0M1242.8 1780.8h0M1230.0 1709.6h0M1234.7 1776.1h0M1254.9 1692.4h0M1234.8 1730.3h0M1242.0 1718.7h0M1259.8 1710.7h0M1252.7 1737.8h0M1245.1 1683.4h0M1233.9 1777.6h0M1253.9 1693.7h0M1250.9 1687.5h0M1258.5 1717.4h0M1270.7 1777.1h0M1258.4 1705.2h0M1248.4 1709.4h0M1240.2 1714.3h0M1245.0 1757.0h0M1257.9 1674.9h0M1233.2 1702.7h0M1261.5 1707.7h0M1255.6 1743.1h0M1259.1 1729.8h0M1240.5 1764.6h0M1263.3 1735.8h0M1242.4 1724.7h0M1244.4 1768.3h0M1236.9 1777.5h0M1229.5 1744.8h0M1236.7 1750.2h0M1281.5 1718.6h0M1264.9 1700.0h0M1254.8 1813.0h0M1247.7 1613.8h0M1252.7 1623.8h0M1272.7 1628.8h0M1280.2 1635.1h0M1291.4 1624.6h0M1293.2 1628.8h0M1244.7 1644.6h0M1238.9 1657.6h0M1248.9 1656.3h0M1255.2 1667.1h0M1241.4 1668.8h0M1246.4 1668.1h0M1248.9 1676.3h0M1291.4 1658.8h0M1141.3 1688.9h0M1257.7 1692.6h0M1260.2 1696.4h0M1272.7 1690.1h0M1237.6 1710.1h0M1250.2 1708.9h0M1226.4 1716.4h0M1238.9 1716.4h0M1255.7 1717.6h0M1268.9 1717.6h0M1287.7 1715.1h0M1294.0 1711.4h0M1147.6 1725.1h0M1143.8 1731.4h0M1215.1 1733.9h0M1225.1 1731.4h0M1232.6 1731.4h0M1241.4 1725.1h0M1242.6 1738.9h0M1257.7 1722.6h0M1253.9 1730.1h0M1105.0 1742.6h0M1125.1 1748.9h0M1135.1 1751.4h0M1153.8 1747.7h0M1245.2 1750.2h0M1252.7 1742.6h0M1271.4 1752.7h0M1233.9 1760.2h0M1231.4 1766.4h0M1237.6 1762.7h0M1245.2 1765.2h0M1257.7 1761.4h0M1120.1 1765.2h0M1132.6 1762.7h0M1136.3 1768.9h0M1160.1 1765.2h0M1291.4 1767.7h0M1306.4 1765.2h0M1126.3 1778.9h0M1140.1 1780.2h0M1145.1 1783.9h0M1161.3 1777.7h0M1212.6 1772.7h0M1225.1 1771.4h0M1230.1 1778.9h0M1240.2 1773.9h0M1247.7 1777.7h0M1252.7 1781.4h0M1263.9 1781.4h0M1268.9 1800.2h0M1276.4 1802.7h0M1296.4 1822.7h0M1120.1 1803.9h0M1132.6 1800.2h0M1117.6 1820.2h0M1240.2 1807.7h0M1237.6 1820.2h0M1245.2 1795.2h0M1233.9 1792.7h0M1227.6 1785.2h0M1217.6 1790.2h0M1215.1 1800.2h0M1165.1 1790.2h0M1160.1 1795.2h0M1165.1 1802.7h0M1202.6 1780.2h0M1210.1 1792.7h0M1088.8 1562.0h0M1098.8 1564.5h0M1113.8 1572.5h0M1116.3 1574.5h0M1126.3 1578.8h0M1128.8 1578.8h0M1136.3 1577.5h0M1085.0 1551.3h0M1357.7 1579.5h0M1306.4 1581.3h0M1300.0 1581.0h0M1260.0 1590.0h0" stroke="#9b9b9b" stroke-width="2.5" stroke-linecap="round" fill="none"/>
<line x1="1120.1" y1="1836.5" x2="1172.6" y2="1870.2" stroke="#111" stroke-width="1.1"/>
<line x1="1150.1" y1="1820.2" x2="1178.9" y2="1870.2" stroke="#111" stroke-width="1.1"/>
<line x1="1162.6" y1="1840.2" x2="1180.1" y2="1870.2" stroke="#111" stroke-width="1.1"/>
<line x1="1172.6" y1="1842.7" x2="1183.9" y2="1870.2" stroke="#111" stroke-width="1.1"/>
<line x1="1202.6" y1="1820.2" x2="1210.1" y2="1831.5" stroke="#111" stroke-width="1.1"/>
<line x1="1218.9" y1="1856.5" x2="1190.1" y2="1870.2" stroke="#111" stroke-width="1.1"/>
<line x1="1145.1" y1="1857.7" x2="1153.8" y2="1864.0" stroke="#111" stroke-width="1.1"/>
<line x1="1107.5" y1="1876.5" x2="1175.1" y2="1872.7" stroke="#111" stroke-width="1.1"/>
<line x1="1172.0" y1="1878.0" x2="1180.0" y2="1873.0" stroke="#111" stroke-width="1.1"/>
<circle cx="1292.7" cy="1800.2" r="5.30" fill="#ec1c24"/>
<circle cx="1212.1" cy="1830.7" r="5.30" fill="#ec1c24"/>
<circle cx="1208.9" cy="1835.2" r="5.30" fill="#ec1c24"/>
<circle cx="1155.1" cy="1864.0" r="5.30" fill="#ec1c24"/>
<circle cx="1176.0" cy="1871.0" r="5.30" fill="#ec1c24"/>
<circle cx="1180.0" cy="1873.0" r="5.30" fill="#ec1c24"/>
<circle cx="1185.0" cy="1872.0" r="5.30" fill="#ec1c24"/>
<circle cx="1190.0" cy="1871.0" r="5.30" fill="#ec1c24"/>
<circle cx="1193.0" cy="1873.0" r="5.30" fill="#ec1c24"/>
<circle cx="1183.0" cy="1869.0" r="5.30" fill="#ec1c24"/>
<circle cx="1178.0" cy="1874.0" r="5.30" fill="#ec1c24"/>
<text x="1283.6" y="1796.0" font-size="19.5">Spp1</text>
<text x="1181.4" y="1821.0" font-size="19.5">Tap1</text>
<text x="1125.8" y="1821.0" font-size="19.5">B2m</text>
<text x="1071.5" y="1842.0" font-size="19.5">Cd74</text>
<text x="1139.8" y="1842.0" font-size="19.5">H2−Q6</text>
<text x="1218.0" y="1842.0" font-size="19.5">Tap2</text>
<text x="1094.8" y="1863.0" font-size="19.5">Fcgr4</text>
<text x="1182.4" y="1863.0" font-size="19.5">Irf1</text>
<text x="1221.3" y="1863.0" font-size="19.5">Cxcl9</text>
<text x="1044.9" y="1884.0" font-size="19.5">H2−K1</text>
<text x="1113.8" y="1884.0" font-size="19.5">H2−D1</text>
<text x="1199.0" y="1884.0" font-size="19.5">Stat1</text>
<text x="994.4" y="1733.5" font-size="25.5" text-anchor="middle" transform="rotate(-90 994.4 1733.5)">– Log<tspan font-size="17.8" dy="5.1">10</tspan><tspan dy="-5.1"> </tspan><tspan font-style="italic">Pval</tspan></text>
<text x="1221.0" y="1938.0" font-size="25.5" text-anchor="middle">Log<tspan font-size="17.3" dy="5.6">2</tspan><tspan dy="-5.6"> FC</tspan></text>
<text x="1100.5" y="1952.8" font-size="21.5" text-anchor="middle">aTIGIT IgG2a</text>
<text x="1100.0" y="1981.0" font-size="21.5" text-anchor="middle">+ aPD-L1</text>
<text x="1265.6" y="1952.8" font-size="21.5">aTIGIT IgG2a</text>
<text x="1265.6" y="1981.0" font-size="21.5">+ aPD-L1</text>
<text x="1265.6" y="2006.7" font-size="21.5">+ aCSF-1R</text>
<line x1="1015.6" y1="1962.0" x2="1051.5" y2="1962.0" stroke="#5a5a5a" stroke-width="4.5"/>
<path d="M1001.6,1962.0 L1017.6,1953.5 L1017.6,1970.5 Z" fill="#5a5a5a" stroke="none" stroke-width="1.5"/>
<line x1="1384.4" y1="1962.0" x2="1422.0" y2="1962.0" stroke="#5a5a5a" stroke-width="4.5"/>
<path d="M1436.0,1962.0 L1420.0,1953.5 L1420.0,1970.5 Z" fill="#5a5a5a" stroke="none" stroke-width="1.5"/>
<rect x="128.3" y="2040.6" width="359.5" height="33.1" fill="none" stroke="#333" stroke-width="2"/>
<line x1="264.9" y1="2041.6" x2="264.9" y2="2072.7" stroke="#444" stroke-width="1.1" stroke-dasharray="4 3"/>
<line x1="351.2" y1="2041.6" x2="351.2" y2="2072.7" stroke="#444" stroke-width="1.1" stroke-dasharray="4 3"/>
<line x1="122.3" y1="2041.5" x2="128.3" y2="2041.5" stroke="#333" stroke-width="1.5"/>
<text x="116.3" y="2048.6" font-size="20" text-anchor="end">128</text>
<line x1="122.3" y1="2073.7" x2="128.3" y2="2073.7" stroke="#333" stroke-width="1.5"/>
<text x="116.3" y="2080.8" font-size="20" text-anchor="end">60</text>
<rect x="128.3" y="2081.3" width="359.5" height="316.6" fill="none" stroke="#333" stroke-width="2"/>
<line x1="264.9" y1="2082.3" x2="264.9" y2="2396.9" stroke="#444" stroke-width="1.1" stroke-dasharray="4 3"/>
<line x1="351.2" y1="2082.3" x2="351.2" y2="2396.9" stroke="#444" stroke-width="1.1" stroke-dasharray="4 3"/>
<line x1="129.3" y1="2373.5" x2="486.8" y2="2373.5" stroke="#444" stroke-width="1.1" stroke-dasharray="4 3"/>
<line x1="122.3" y1="2383.2" x2="128.3" y2="2383.2" stroke="#333" stroke-width="1.5"/>
<text x="116.3" y="2390.3" font-size="20" text-anchor="end">0</text>
<line x1="122.3" y1="2282.7" x2="128.3" y2="2282.7" stroke="#333" stroke-width="1.5"/>
<text x="116.3" y="2289.8" font-size="20" text-anchor="end">20</text>
<line x1="122.3" y1="2182.5" x2="128.3" y2="2182.5" stroke="#333" stroke-width="1.5"/>
<text x="116.3" y="2189.6" font-size="20" text-anchor="end">40</text>
<line x1="122.3" y1="2081.8" x2="128.3" y2="2081.8" stroke="#333" stroke-width="1.5"/>
<text x="116.3" y="2088.9" font-size="20" text-anchor="end">60</text>
<line x1="144.5" y1="2397.9" x2="144.5" y2="2403.9" stroke="#333" stroke-width="1.5"/>
<text x="144.5" y="2424.5" font-size="20" text-anchor="middle">−1.0</text>
<line x1="225.9" y1="2397.9" x2="225.9" y2="2403.9" stroke="#333" stroke-width="1.5"/>
<text x="225.9" y="2424.5" font-size="20" text-anchor="middle">−0.5</text>
<line x1="307.7" y1="2397.9" x2="307.7" y2="2403.9" stroke="#333" stroke-width="1.5"/>
<text x="307.7" y="2424.5" font-size="20" text-anchor="middle">0.0</text>
<line x1="389.5" y1="2397.9" x2="389.5" y2="2403.9" stroke="#333" stroke-width="1.5"/>
<text x="389.5" y="2424.5" font-size="20" text-anchor="middle">0.5</text>
<line x1="471.7" y1="2397.9" x2="471.7" y2="2403.9" stroke="#333" stroke-width="1.5"/>
<text x="471.7" y="2424.5" font-size="20" text-anchor="middle">1.0</text>
<path d="M253.8,2372.1 L278.9,2369.6 L304.1,2364.6 L319.2,2349.5 L334.3,2336.9 L346.9,2329.3 L351.9,2336.9 L344.3,2352.0 L329.3,2367.1 L319.2,2379.7 L304.1,2387.2 L278.9,2387.2 L258.8,2387.2 L252.5,2382.2Z" fill="#a2a2a2" stroke="#a2a2a2" stroke-width="2" stroke-linejoin="round"/>
<path d="M342.3 2333.2h0M319.4 2356.7h0M254.4 2378.1h0M315.7 2363.8h0M321.4 2369.3h0M325.5 2368.2h0M311.9 2364.3h0M347.2 2334.1h0M327.4 2355.7h0M314.9 2354.1h0M314.9 2379.3h0M336.1 2358.4h0M293.9 2369.8h0M294.2 2378.6h0M275.0 2371.3h0M320.3 2373.9h0M258.9 2383.1h0M259.3 2382.6h0M281.3 2373.1h0M256.0 2376.1h0M264.5 2375.7h0M295.8 2367.9h0M314.3 2364.2h0M276.2 2386.0h0M341.5 2344.7h0M284.7 2378.0h0M317.2 2363.6h0M307.1 2366.0h0M290.6 2374.9h0M303.9 2367.4h0M293.1 2371.1h0M261.5 2372.6h0M258.6 2385.2h0M325.7 2365.1h0M325.6 2354.7h0M305.5 2378.1h0M340.4 2351.3h0M300.4 2382.8h0M323.3 2350.2h0M332.8 2350.2h0M319.0 2352.3h0M275.7 2382.2h0M302.2 2375.3h0M299.7 2374.4h0M318.6 2352.6h0M328.2 2344.2h0M322.4 2353.8h0M296.4 2381.6h0M289.5 2371.7h0M347.4 2345.0h0M304.4 2384.0h0M332.7 2344.5h0M335.2 2348.7h0M342.6 2350.8h0M333.0 2346.5h0M281.5 2376.1h0M275.9 2382.5h0M318.6 2363.4h0M290.4 2368.1h0M323.1 2358.3h0M340.7 2343.1h0M284.0 2375.1h0M325.3 2347.3h0M286.8 2382.6h0M315.5 2358.4h0M262.2 2373.8h0M299.1 2383.9h0M340.0 2340.9h0M342.4 2333.9h0M296.0 2379.9h0M318.8 2376.2h0M318.5 2371.6h0M297.3 2383.5h0M258.6 2385.1h0M326.0 2358.4h0M255.6 2373.4h0M313.6 2363.8h0M324.7 2346.6h0M297.9 2380.9h0M311.9 2377.5h0M273.8 2378.2h0M330.9 2350.6h0M313.9 2358.4h0M337.2 2340.1h0M345.6 2347.6h0M280.9 2369.6h0M304.1 2375.9h0M304.3 2371.2h0M334.8 2339.3h0M312.0 2377.3h0M263.7 2381.5h0M346.1 2344.5h0M339.4 2333.8h0M312.9 2379.2h0M331.1 2362.6h0M305.3 2370.8h0M342.9 2344.4h0M289.3 2381.4h0M319.9 2362.6h0M327.0 2356.3h0M311.2 2381.2h0M325.3 2364.8h0M317.6 2360.8h0M322.4 2354.7h0M342.3 2334.1h0M323.5 2361.9h0M318.9 2364.5h0M276.6 2380.8h0M324.1 2365.0h0M327.2 2355.5h0M288.3 2372.1h0M341.7 2348.9h0M342.2 2346.3h0M305.8 2370.5h0M279.9 2369.9h0M310.4 2370.9h0M328.9 2351.5h0M282.6 2370.0h0M276.1 2387.1h0M325.0 2363.5h0M300.1 2373.6h0M293.2 2380.5h0M278.6 2375.9h0M270.0 2386.5h0M305.5 2382.3h0M314.5 2381.0h0M302.3 2382.7h0M332.9 2357.6h0M321.1 2369.6h0M309.7 2361.6h0M267.1 2379.0h0M306.1 2369.0h0M302.6 2378.9h0M340.9 2352.0h0M286.9 2368.8h0M267.9 2371.7h0M335.2 2355.2h0M338.2 2337.3h0M299.2 2369.5h0M334.0 2360.1h0M338.1 2338.6h0M329.3 2356.2h0M285.2 2377.5h0M336.1 2337.7h0M295.3 2387.1h0M261.8 2386.4h0M285.6 2374.9h0M338.7 2337.6h0M294.5 2368.1h0M327.3 2368.6h0M303.8 2380.9h0M331.8 2342.3h0M264.8 2374.8h0M307.2 2365.8h0M259.6 2382.3h0M316.0 2356.4h0M338.8 2334.9h0M281.0 2377.5h0M259.2 2380.7h0M332.5 2342.5h0M316.5 2360.3h0M277.5 2378.4h0M351.1 2336.6h0M299.1 2376.8h0M327.9 2346.6h0M298.1 2376.9h0M288.0 2387.0h0M299.5 2385.1h0M329.4 2354.6h0M284.5 2379.8h0M303.0 2367.4h0M336.1 2345.4h0M323.2 2366.7h0M296.6 2368.6h0M314.6 2362.4h0M318.2 2375.8h0M326.0 2351.4h0M306.3 2379.4h0M297.5 2378.5h0M336.8 2357.4h0M294.9 2371.7h0M301.6 2375.1h0M316.3 2361.0h0M308.9 2383.5h0M263.1 2382.1h0M331.3 2358.8h0M275.7 2380.6h0M302.0 2374.9h0M271.5 2386.8h0M335.7 2360.1h0M266.0 2385.6h0M303.4 2374.4h0M322.8 2362.7h0M316.0 2370.3h0M321.8 2376.0h0M286.4 2379.3h0M326.6 2351.8h0M257.7 2378.1h0M286.7 2384.0h0M301.1 2369.7h0M294.7 2386.8h0M280.1 2374.9h0M316.8 2352.5h0M309.0 2383.5h0M314.9 2381.6h0M316.8 2374.8h0M317.8 2361.5h0M320.5 2361.8h0M272.2 2380.0h0M310.5 2381.9h0M329.5 2348.0h0M329.5 2355.3h0M297.8 2386.5h0M314.8 2356.1h0M301.7 2378.2h0M270.4 2385.9h0M269.1 2380.3h0M320.1 2355.1h0M279.3 2376.9h0M329.0 2360.8h0M271.8 2370.5h0M277.1 2382.3h0M272.5 2372.2h0M331.9 2340.3h0M308.3 2381.4h0M315.9 2372.9h0M288.3 2375.1h0M324.0 2347.6h0M321.2 2367.5h0M273.6 2375.3h0M329.9 2354.7h0M324.2 2373.2h0M301.1 2379.5h0M306.5 2362.2h0M320.2 2358.4h0M336.0 2353.6h0M269.4 2380.3h0M319.5 2351.5h0M293.0 2379.3h0M259.7 2386.5h0M306.9 2373.4h0M264.7 2380.9h0M340.3 2333.3h0M337.4 2346.7h0M317.0 2356.8h0M288.0 2379.5h0M274.2 2386.5h0M328.2 2353.6h0M323.6 2374.2h0M292.7 2370.1h0M320.3 2370.5h0M309.9 2364.5h0M318.8 2368.7h0M266.4 2379.5h0M308.4 2362.0h0M309.1 2366.6h0M256.1 2372.9h0M280.0 2369.5h0M344.8 2340.2h0M323.6 2371.2h0M328.8 2362.4h0M312.5 2364.5h0M325.3 2362.0h0M299.3 2369.8h0M297.0 2385.0h0M309.3 2362.6h0M297.2 2383.9h0M302.9 2378.9h0M306.7 2371.8h0M298.0 2367.3h0M287.0 2374.9h0M328.8 2359.5h0M283.4 2373.5h0M322.9 2346.4h0M293.8 2373.7h0M342.0 2340.5h0M284.2 2382.2h0M344.8 2334.1h0M314.0 2365.4h0M319.5 2351.2h0M310.0 2382.1h0M294.4 2377.6h0M298.4 2367.8h0M281.5 2380.4h0M268.6 2381.4h0M322.0 2363.2h0M311.7 2379.7h0M253.6 2379.9h0M332.8 2347.2h0M316.2 2371.2h0M327.2 2349.0h0M336.9 2351.0h0M289.7 2374.6h0M347.7 2334.7h0M284.8 2376.0h0M277.1 2372.9h0M330.2 2342.9h0M303.7 2382.4h0M321.4 2358.9h0M277.9 2382.8h0M349.1 2339.7h0M335.3 2344.0h0M335.6 2356.9h0M276.9 2369.9h0M345.7 2343.1h0M297.6 2368.6h0M334.4 2338.8h0M345.8 2331.2h0M309.8 2370.8h0M341.9 2340.1h0M279.1 2374.2h0M328.1 2360.3h0M309.9 2370.0h0M284.2 2372.2h0M282.5 2373.6h0M319.7 2353.5h0M322.8 2355.7h0M285.4 2369.6h0M321.0 2376.5h0M324.2 2352.6h0M282.9 2377.7h0M314.5 2367.8h0M289.1 2377.9h0M319.9 2374.9h0M304.8 2384.9h0M292.5 2373.8h0M257.6 2384.3h0M318.2 2377.6h0M298.0 2375.3h0M325.8 2352.7h0M341.0 2350.4h0M337.9 2356.7h0M305.0 2379.6h0M326.7 2344.1h0M339.0 2341.4h0M307.5 2375.7h0M291.9 2383.4h0M314.5 2371.3h0M304.0 2370.0h0M320.8 2377.0h0M349.2 2340.8h0M331.6 2345.7h0M327.6 2352.2h0M340.1 2349.8h0M269.7 2376.6h0M283.8 2377.6h0M332.4 2361.0h0M266.1 2372.6h0M276.0 2379.6h0M282.4 2386.6h0M308.3 2361.1h0M339.3 2341.4h0M319.4 2367.2h0M311.0 2362.4h0M272.6 2370.7h0M317.4 2378.4h0M307.7 2378.9h0M281.6 2374.5h0M282.1 2374.5h0M334.5 2338.1h0M291.4 2381.3h0M302.4 2382.0h0M313.3 2378.6h0M348.6 2338.4h0M298.6 2368.3h0M302.5 2378.8h0M291.5 2370.0h0M301.4 2373.1h0M313.2 2376.0h0M311.9 2379.5h0M339.8 2351.9h0M274.0 2370.7h0M299.5 2371.9h0M311.9 2377.9h0M315.3 2381.3h0M313.9 2360.1h0M291.2 2367.8h0M253.3 2377.4h0M300.3 2371.4h0M277.1 2379.1h0M345.2 2337.1h0M278.5 2371.6h0M337.4 2356.4h0M278.8 2373.5h0M321.9 2370.4h0M296.0 2372.1h0M328.2 2362.0h0M332.2 2361.9h0M277.8 2385.8h0M334.2 2338.0h0M335.9 2337.1h0M319.5 2358.0h0M274.6 2373.4h0M316.2 2373.7h0M341.3 2332.9h0M257.8 2385.6h0M292.9 2371.9h0M254.1 2374.5h0M344.1 2341.3h0M296.4 2373.1h0M308.7 2366.1h0M348.4 2333.3h0M261.4 2383.7h0M337.1 2343.0h0M293.1 2371.5h0M321.1 2369.1h0M313.1 2371.4h0M321.9 2368.7h0M281.4 2386.0h0M323.8 2364.3h0M336.8 2350.9h0M296.0 2383.9h0M312.3 2372.0h0M316.8 2361.0h0M317.5 2358.4h0M339.9 2334.7h0M339.8 2354.3h0M258.7 2386.7h0M274.7 2385.4h0M263.7 2386.1h0M280.1 2385.0h0M326.9 2367.2h0M329.6 2366.1h0M275.9 2380.8h0M293.6 2378.9h0M300.5 2368.7h0M330.1 2355.5h0M263.8 2385.7h0M346.1 2334.0h0M297.9 2378.5h0M341.2 2338.8h0M263.3 2371.4h0M286.9 2380.0h0M269.6 2378.9h0M303.6 2380.5h0M283.3 2378.3h0M288.8 2382.0h0M350.5 2337.4h0M282.6 2387.2h0M302.4 2367.8h0M305.8 2381.3h0M340.9 2345.1h0M349.1 2341.3h0M320.8 2360.1h0M344.3 2351.4h0M328.5 2365.5h0M317.3 2370.3h0M282.8 2384.0h0M329.5 2347.9h0M300.6 2369.0h0M261.3 2373.7h0M333.0 2349.0h0M293.7 2370.3h0M253.4 2378.8h0M333.6 2356.8h0M318.4 2378.9h0M276.3 2375.1h0M266.6 2372.4h0M339.4 2333.9h0M273.6 2382.1h0M333.4 2342.7h0M312.6 2371.3h0M267.3 2377.9h0M301.8 2367.0h0M311.7 2383.4h0M316.7 2378.8h0M322.2 2351.6h0M335.8 2342.1h0M330.8 2357.6h0M321.2 2361.3h0M299.8 2368.0h0M259.2 2383.5h0M313.7 2368.8h0M319.6 2351.4h0M265.4 2382.6h0M318.4 2364.8h0M299.7 2374.4h0M323.2 2359.6h0M257.7 2378.2h0M290.5 2368.5h0M330.6 2354.8h0M342.3 2339.1h0M290.3 2372.5h0M344.4 2331.1h0M313.7 2373.8h0M267.9 2373.6h0M256.0 2384.6h0M333.8 2347.3h0M313.3 2367.8h0M283.5 2380.2h0M276.2 2373.0h0M324.6 2353.5h0M340.4 2334.8h0M324.1 2352.7h0M333.0 2358.1h0M306.0 2378.5h0M258.6 2374.9h0M317.9 2355.3h0M265.7 2383.9h0M307.7 2383.9h0M256.8 2374.7h0M296.8 2378.9h0M336.8 2349.3h0M344.3 2347.7h0M306.6 2378.5h0M278.6 2376.9h0M332.3 2359.3h0M294.3 2371.1h0M332.3 2356.9h0M289.4 2386.8h0M338.7 2341.1h0M306.7 2379.0h0M294.4 2383.2h0M336.1 2359.8h0M329.4 2348.8h0M333.6 2348.0h0M347.4 2336.5h0M277.0 2377.4h0M320.4 2359.5h0M265.8 2374.6h0M331.8 2363.5h0M309.0 2384.5h0M339.0 2342.5h0M331.9 2346.6h0M300.8 2382.9h0M295.7 2375.8h0M295.9 2375.3h0M333.3 2346.2h0M301.9 2377.5h0M326.1 2370.0h0M348.3 2337.4h0M299.8 2370.3h0M311.6 2382.4h0M301.5 2367.3h0M289.5 2370.6h0M302.9 2368.6h0M323.2 2350.6h0M337.0 2340.9h0M295.6 2369.9h0M287.9 2376.9h0M303.1 2366.2h0M280.5 2386.9h0M308.7 2373.1h0M272.2 2371.9h0M329.2 2348.3h0M261.4 2373.6h0M329.0 2359.7h0M306.0 2369.3h0M317.4 2358.6h0M333.4 2351.2h0M258.0 2378.9h0M337.0 2341.4h0M341.5 2334.3h0M299.1 2385.5h0M326.3 2345.6h0M255.1 2381.9h0M260.1 2380.4h0M260.3 2383.5h0M292.5 2386.9h0M309.1 2384.4h0M282.2 2373.7h0M333.0 2355.1h0M271.3 2383.4h0M339.2 2339.9h0M314.8 2358.1h0M333.7 2339.3h0M283.2 2385.8h0M297.1 2375.0h0M297.1 2373.0h0M345.4 2336.8h0M299.4 2372.7h0M262.9 2385.1h0M273.2 2376.8h0M292.2 2369.4h0M301.7 2382.7h0M314.9 2368.9h0M332.5 2362.0h0M323.6 2348.6h0M337.7 2358.3h0M261.4 2379.5h0M331.2 2362.0h0M335.4 2350.9h0M279.6 2377.5h0M282.4 2372.3h0M315.7 2369.6h0M333.0 2345.1h0M279.4 2378.0h0M334.0 2357.5h0M285.6 2376.4h0M287.9 2387.1h0M328.0 2351.5h0M281.1 2383.5h0M295.9 2379.4h0M318.0 2375.3h0M328.2 2364.8h0M282.4 2369.5h0M324.4 2347.1h0M335.2 2355.0h0M324.3 2354.6h0M312.0 2375.8h0M320.1 2361.7h0M317.1 2379.7h0M313.8 2373.8h0M282.2 2371.7h0M255.6 2381.1h0M295.0 2382.9h0M311.5 2374.1h0M283.6 2387.0h0M268.5 2381.2h0M265.0 2386.6h0M307.8 2372.8h0M310.6 2383.2h0M343.4 2333.6h0M264.6 2371.7h0M262.5 2371.6h0M318.6 2362.6h0M340.2 2338.5h0M254.2 2382.6h0M319.2 2353.4h0M297.5 2367.5h0M299.6 2385.9h0M254.9 2377.7h0M298.0 2373.0h0M339.8 2347.6h0M273.8 2372.0h0M316.8 2363.1h0M344.6 2348.1h0M288.1 2369.8h0M291.6 2383.2h0M319.4 2353.4h0M303.6 2381.0h0M327.2 2368.8h0M275.9 2382.5h0M273.6 2379.2h0M302.3 2366.4h0M278.8 2371.4h0M337.3 2350.6h0M286.3 2372.3h0M331.6 2358.6h0M286.5 2371.7h0M298.8 2385.1h0M328.3 2358.0h0M280.3 2380.1h0M306.5 2364.3h0M261.6 2384.2h0M269.1 2373.5h0M264.3 2380.5h0M291.1 2375.1h0M345.7 2344.5h0M313.6 2368.1h0M256.9 2379.0h0M332.3 2355.9h0M322.3 2369.1h0M323.4 2357.8h0M316.0 2374.1h0M277.7 2372.9h0M258.5 2373.2h0M266.6 2371.7h0M283.5 2385.4h0M289.0 2373.9h0M312.0 2373.2h0M289.5 2373.2h0M287.6 2384.3h0M324.9 2370.0h0M312.5 2374.5h0M311.7 2377.6h0M276.0 2377.4h0M311.7 2376.2h0M337.4 2357.6h0M297.6 2368.6h0M304.4 2372.9h0M289.6 2372.8h0M264.8 2379.8h0M310.1 2366.8h0M336.4 2339.9h0M313.0 2371.5h0M342.4 2337.7h0M321.3 2369.0h0M259.0 2386.6h0M269.5 2383.2h0M267.4 2372.0h0M297.9 2369.7h0M267.2 2374.9h0M304.3 2366.9h0M263.4 2374.8h0M285.1 2374.8h0M289.2 2383.4h0M257.5 2377.1h0M319.7 2359.2h0M337.1 2346.5h0M327.0 2357.4h0M262.6 2378.6h0M273.5 2386.8h0M275.5 2382.2h0M306.7 2378.6h0M282.3 2386.8h0M295.1 2378.7h0M337.6 2355.5h0M294.6 2374.3h0M307.6 2370.0h0M299.3 2382.6h0M315.7 2365.2h0M265.1 2386.1h0M345.4 2339.9h0M295.2 2373.5h0M308.4 2376.1h0M284.4 2378.5h0M321.3 2351.4h0M343.9 2333.5h0M303.6 2386.5h0M264.4 2381.7h0M273.5 2376.4h0M304.3 2371.7h0M308.1 2364.9h0M351.2 2336.7h0M324.5 2349.1h0M257.8 2373.5h0M329.1 2361.1h0M325.2 2355.6h0M295.6 2385.8h0M274.4 2374.2h0M276.9 2379.1h0M281.1 2383.7h0M294.5 2381.9h0M334.3 2350.0h0M301.2 2365.9h0M334.1 2353.8h0M336.9 2350.7h0M288.4 2370.9h0M274.3 2384.1h0M340.1 2341.4h0M311.7 2374.9h0M312.4 2357.4h0M283.5 2382.6h0M287.7 2383.7h0M306.4 2383.4h0M262.4 2383.0h0M348.9 2333.2h0M319.2 2352.4h0M328.6 2363.3h0M323.5 2371.0h0M327.0 2352.6h0M295.1 2368.8h0M346.5 2342.3h0M265.0 2384.8h0M320.0 2356.4h0M340.3 2335.4h0M281.4 2385.8h0M275.6 2384.5h0M259.5 2374.0h0M275.4 2377.4h0M322.7 2363.5h0M276.9 2374.3h0M292.6 2375.2h0M341.4 2351.5h0M289.3 2386.6h0M303.0 2377.6h0M306.6 2371.0h0M319.9 2368.5h0M267.0 2381.9h0M332.9 2358.0h0M309.1 2375.7h0M349.0 2336.6h0M278.4 2376.0h0M276.6 2372.1h0M337.7 2353.9h0M262.5 2382.8h0M260.1 2383.6h0M341.9 2353.8h0M254.7 2382.9h0M322.0 2353.5h0M254.0 2372.9h0M326.3 2347.3h0M254.0 2375.8h0M304.5 2376.0h0M303.5 2375.0h0M337.3 2348.9h0M308.0 2372.7h0M343.2 2348.9h0M296.7 2383.4h0M265.8 2381.0h0M346.4 2336.6h0M259.3 2381.6h0M275.6 2372.8h0M336.6 2339.1h0M341.7 2343.8h0M330.8 2348.4h0M334.8 2356.3h0M305.3 2363.5h0M341.5 2350.3h0M329.8 2355.2h0M266.9 2376.9h0M340.0 2352.4h0M282.3 2385.7h0M308.5 2370.9h0M296.9 2369.1h0M336.1 2353.5h0M307.1 2373.9h0M333.2 2345.8h0M311.0 2383.3h0M323.1 2373.4h0M329.3 2342.5h0M316.2 2374.4h0M329.0 2355.2h0M318.1 2363.0h0M320.5 2375.4h0M320.4 2359.7h0M291.4 2372.9h0M310.8 2370.1h0M279.5 2373.0h0M324.5 2358.4h0M287.5 2378.8h0M327.0 2348.3h0M268.9 2386.1h0M261.3 2376.1h0M328.2 2366.3h0M296.3 2368.7h0M289.2 2386.6h0M262.0 2376.0h0M351.3 2336.5h0M301.7 2374.4h0M310.8 2381.4h0M314.9 2365.0h0M262.3 2374.8h0M327.5 2349.0h0M348.5 2340.1h0M283.2 2383.3h0M283.9 2385.2h0M298.0 2379.2h0M257.8 2383.1h0M337.0 2343.2h0M265.1 2384.4h0M329.1 2364.5h0M284.2 2371.4h0M290.6 2380.2h0M331.8 2344.2h0M342.0 2349.3h0M327.1 2360.3h0M339.5 2348.8h0M304.5 2376.7h0M335.7 2351.3h0M316.4 2377.2h0M297.9 2381.6h0M307.2 2377.4h0M280.4 2376.2h0M278.8 2384.5h0M341.8 2345.4h0M261.8 2384.7h0M303.4 2369.1h0M257.7 2372.8h0M316.3 2374.2h0M332.2 2339.8h0M291.7 2381.5h0M297.9 2385.7h0M294.6 2379.6h0M309.3 2377.5h0M318.5 2371.9h0M324.5 2360.0h0M305.0 2364.9h0M336.2 2356.9h0M308.7 2378.1h0M302.7 2381.8h0M296.9 2366.6h0M267.2 2377.3h0M327.0 2346.9h0M321.3 2374.5h0M309.6 2371.5h0M317.4 2358.2h0M277.8 2376.5h0M289.4 2383.0h0M278.4 2373.6h0M290.2 2379.9h0M322.4 2373.1h0M322.0 2372.7h0M265.4 2377.4h0M314.7 2376.9h0M261.2 2384.6h0M288.1 2376.5h0M345.1 2349.6h0M305.2 2373.5h0M348.1 2335.8h0M287.8 2380.6h0M310.3 2360.0h0M314.8 2376.3h0M306.9 2370.0h0M297.8 2379.7h0M296.5 2368.2h0M309.7 2371.5h0M287.1 2380.5h0M272.3 2382.3h0M319.4 2377.1h0M283.6 2379.3h0M321.6 2350.0h0M325.0 2367.5h0M267.2 2374.3h0M299.0 2384.4h0M327.0 2350.7h0M302.0 2381.2h0M305.2 2378.9h0M262.9 2387.0h0M302.0 2382.2h0M296.7 2384.5h0M322.5 2374.9h0M283.0 2380.6h0M297.3 2380.5h0M277.9 2379.3h0M291.9 2374.8h0M278.4 2375.0h0M295.8 2373.1h0M271.1 2370.9h0M307.3 2364.4h0M261.1 2383.9h0M321.6 2369.3h0M323.5 2356.4h0M328.7 2362.2h0M301.1 2381.1h0M334.6 2344.6h0M319.1 2353.3h0M300.1 2366.6h0M313.2 2373.5h0M331.3 2357.1h0M323.1 2369.5h0M297.4 2376.4h0M266.2 2373.5h0M312.8 2378.5h0M292.4 2377.0h0M306.1 2367.4h0M282.3 2384.5h0M299.2 2381.3h0M303.2 2372.6h0M316.6 2377.7h0M309.9 2366.8h0M260.4 2383.1h0M298.3 2384.2h0M281.1 2384.0h0M271.3 2372.3h0M297.0 2377.0h0M272.3 2374.7h0M317.8 2361.9h0M321.3 2349.7h0M310.0 2366.3h0M311.9 2377.5h0M263.3 2377.4h0M343.1 2345.8h0M296.1 2368.0h0M316.1 2362.9h0M326.0 2367.2h0M342.7 2340.3h0M316.0 2374.3h0M284.3 2376.9h0M330.3 2360.2h0M299.9 2376.6h0M323.1 2353.3h0M341.6 2335.5h0M277.7 2374.4h0M323.4 2359.0h0M324.8 2368.8h0M287.2 2383.6h0M311.0 2374.7h0M288.3 2365.7h0M344.4 2328.2h0M307.1 2363.6h0M325.5 2341.6h0M285.9 2372.5h0M332.2 2368.3h0M323.3 2356.6h0M358.8 2335.6h0M296.7 2389.2h0M261.9 2385.3h0M333.2 2348.0h0M341.7 2356.2h0M343.2 2342.1h0M329.1 2371.9h0M292.6 2380.8h0M311.6 2359.5h0M255.8 2372.9h0M322.9 2348.3h0M279.3 2371.5h0M330.1 2359.7h0M348.1 2338.6h0M298.9 2363.1h0M341.1 2334.9h0M320.8 2373.6h0M329.6 2340.8h0M313.1 2380.0h0M310.8 2385.5h0M348.2 2344.4h0M264.7 2371.9h0M287.3 2392.0h0M254.4 2371.5h0M325.4 2368.0h0M314.3 2352.7h0M326.2 2370.7h0M292.5 2377.5h0M277.1 2388.1h0M330.0 2360.0h0M337.8 2366.9h0M277.3 2379.2h0M323.4 2364.9h0M333.5 2363.8h0M346.7 2327.9h0M327.3 2343.4h0M302.1 2383.7h0M245.4 2377.5h0M346.6 2348.2h0M332.2 2364.2h0M328.3 2357.2h0M255.6 2376.7h0M263.9 2388.2h0M290.4 2385.3h0M289.4 2368.4h0M273.8 2375.2h0M328.8 2367.0h0M321.4 2350.3h0M301.9 2363.6h0M345.0 2337.3h0M327.8 2366.7h0M301.6 2387.6h0M266.9 2385.2h0M262.5 2392.4h0M345.2 2353.3h0M260.7 2377.7h0M321.4 2336.7h0M300.6 2354.4h0M259.3 2376.8h0M270.6 2389.3h0M323.9 2350.4h0M259.2 2387.3h0M304.6 2387.6h0M257.6 2367.8h0M338.2 2355.1h0M282.2 2391.3h0M273.1 2382.6h0M326.1 2336.8h0M279.6 2384.5h0M345.9 2358.9h0M281.1 2388.2h0M348.9 2336.2h0M347.4 2333.3h0M259.1 2367.3h0M318.5 2356.3h0M268.8 2394.9h0M268.4 2385.0h0M250.0 2371.6h0M324.8 2378.8h0M287.0 2391.0h0M324.9 2375.4h0M291.1 2367.5h0M309.5 2382.7h0M263.1 2375.1h0M306.5 2359.1h0M253.1 2382.7h0M251.2 2367.7h0M329.9 2354.5h0M253.1 2368.0h0M270.3 2372.3h0M337.2 2355.1h0M307.4 2376.8h0M253.7 2386.3h0M262.6 2373.7h0M272.7 2390.7h0M347.3 2348.9h0M310.5 2350.5h0M343.2 2344.3h0M274.7 2368.3h0M338.4 2345.4h0M256.2 2372.0h0M259.5 2386.2h0M306.1 2353.2h0M281.5 2398.7h0M265.3 2375.8h0M342.9 2356.6h0M319.3 2346.7h0M279.0 2375.6h0M331.1 2361.8h0M343.3 2342.6h0M259.9 2388.7h0M295.8 2365.9h0M334.3 2330.1h0M298.5 2387.8h0M315.9 2341.9h0M300.9 2368.1h0M338.3 2362.0h0M346.7 2334.4h0M324.2 2348.6h0M284.3 2362.6h0M310.5 2367.0h0M319.1 2354.1h0M250.6 2378.4h0M315.7 2384.1h0M320.3 2344.9h0M345.9 2332.8h0M324.8 2375.0h0M254.5 2368.6h0M349.3 2335.4h0M254.4 2382.3h0M256.2 2387.3h0M303.7 2366.5h0M270.0 2389.5h0M330.3 2370.1h0M260.3 2390.7h0M309.0 2354.6h0M259.4 2382.5h0M271.4 2371.4h0M334.1 2357.6h0M263.8 2373.7h0M252.3 2371.8h0M320.8 2347.5h0M289.4 2369.6h0M290.8 2369.8h0M315.2 2395.4h0M339.1 2356.3h0M309.9 2383.3h0M342.3 2354.6h0M308.6 2357.0h0M305.7 2392.2h0M329.6 2340.7h0M353.4 2345.6h0M284.5 2366.5h0M260.8 2371.7h0M298.5 2358.4h0M251.1 2378.9h0M277.6 2388.6h0M304.9 2366.7h0M287.0 2373.2h0M351.6 2343.6h0M276.6 2366.0h0M295.6 2382.4h0M307.9 2361.8h0M254.2 2349.1h0M255.5 2349.4h0M252.2 2355.5h0M251.6 2367.6h0M247.3 2346.4h0M241.3 2359.9h0M276.1 2380.5h0M256.3 2365.7h0M263.1 2360.9h0M251.6 2347.1h0M268.5 2348.0h0M267.9 2347.0h0M248.7 2348.7h0M267.7 2354.4h0M263.7 2360.4h0M253.3 2370.4h0M245.3 2365.7h0M271.7 2363.7h0M262.8 2363.9h0M261.4 2359.3h0M247.9 2355.9h0M253.2 2360.6h0M272.3 2360.6h0M262.9 2370.3h0M276.3 2360.7h0M242.1 2367.9h0M265.0 2353.4h0M269.4 2359.0h0M263.5 2355.1h0M246.0 2355.4h0M244.5 2360.9h0M255.8 2355.2h0M250.3 2362.2h0M262.3 2349.7h0M266.7 2363.2h0M261.8 2375.6h0M254.9 2337.7h0M263.8 2371.7h0M259.1 2368.3h0M250.8 2377.4h0M335.0 2344.3h0M361.0 2356.4h0M348.7 2348.2h0M329.8 2341.6h0M340.2 2351.3h0M346.2 2339.5h0M331.9 2343.6h0M312.9 2332.5h0M337.2 2339.0h0M335.1 2329.0h0M360.4 2334.0h0M341.5 2357.0h0M343.7 2329.3h0M326.6 2334.4h0M333.8 2351.9h0M332.3 2335.0h0M358.0 2324.3h0M332.5 2337.4h0M321.0 2345.4h0M347.9 2333.7h0M326.7 2343.3h0M333.9 2343.1h0M345.0 2333.9h0M333.3 2328.7h0M355.4 2335.3h0M310.9 2332.0h0M333.3 2346.0h0M324.6 2339.0h0M340.6 2303.3h0M341.9 2343.2h0M352.4 2340.9h0M324.2 2319.6h0M320.2 2336.8h0M331.0 2321.0h0M337.3 2360.2h0M347.0 2367.5h0M362.4 2339.7h0M330.6 2340.4h0M329.3 2332.8h0M354.1 2354.6h0M369.6 2292.3h0M378.8 2320.1h0M354.8 2325.5h0M360.6 2307.9h0M371.4 2277.9h0M371.9 2303.0h0M354.9 2293.2h0M369.5 2309.8h0M367.3 2287.1h0M377.0 2270.4h0M371.2 2279.8h0M332.5 2301.6h0M363.4 2307.0h0M355.2 2301.6h0M360.0 2317.5h0M371.7 2323.9h0M348.0 2281.4h0M363.3 2302.8h0M380.8 2298.8h0M353.5 2317.6h0M362.3 2265.6h0M377.5 2268.1h0M363.5 2294.0h0M364.8 2293.6h0M362.8 2296.8h0M185.4 2066.4h0M197.2 2058.1h0M217.3 2072.2h0M175.8 2041.3h0M192.2 2042.5h0M240.7 2086.6h0M245.7 2103.4h0M246.2 2126.8h0M247.5 2185.4h0M384.6 2138.1h0M389.6 2196.0h0M374.0 2201.5h0M204.7 2229.2h0M200.5 2256.9h0M370.8 2272.7h0M369.0 2277.8h0M419.3 2284.8h0M453.8 2283.6h0M441.2 2308.0h0M419.8 2311.7h0M389.6 2324.3h0M272.7 2301.7h0M273.9 2308.0h0M268.9 2314.2h0M177.1 2328.1h0M246.2 2311.7h0M229.9 2313.0h0M351.9 2261.4h0M364.5 2276.5h0M369.5 2284.1h0M411.0 2357.0h0M389.6 2364.6h0M382.1 2382.2h0M384.6 2364.6h0M366.0 2268.0h0M372.0 2266.0h0M374.0 2290.0h0M360.0 2295.0h0M380.0 2300.0h0M392.0 2330.0h0M400.0 2350.0h0M420.0 2370.0h0M395.0 2382.0h0M238.0 2330.0h0M232.0 2360.0h0M215.0 2372.0h0M250.0 2345.0h0M280.0 2335.0h0" stroke="#9b9b9b" stroke-width="2.5" stroke-linecap="round" fill="none"/>
<line x1="229.9" y1="2338.0" x2="229.9" y2="2323.0" stroke="#111" stroke-width="1.1"/>
<line x1="263.8" y1="2370.0" x2="264.5" y2="2344.0" stroke="#111" stroke-width="1.1"/>
<line x1="268.0" y1="2372.0" x2="281.0" y2="2343.0" stroke="#111" stroke-width="1.1"/>
<line x1="325.5" y1="2364.6" x2="349.0" y2="2348.0" stroke="#111" stroke-width="1.1"/>
<line x1="346.9" y1="2380.9" x2="372.0" y2="2364.0" stroke="#111" stroke-width="1.1"/>
<circle cx="194.7" cy="2306.2" r="5.20" fill="#d08a22"/>
<circle cx="229.9" cy="2342.4" r="5.20" fill="#d08a22"/>
<circle cx="231.0" cy="2345.0" r="5.20" fill="#d08a22"/>
<circle cx="201.0" cy="2359.0" r="5.20" fill="#d08a22"/>
<circle cx="238.7" cy="2357.8" r="5.20" fill="#d08a22"/>
<circle cx="263.8" cy="2370.8" r="5.20" fill="#d08a22"/>
<circle cx="270.1" cy="2375.9" r="5.20" fill="#d08a22"/>
<circle cx="263.8" cy="2380.9" r="5.20" fill="#d08a22"/>
<circle cx="259.0" cy="2376.0" r="5.20" fill="#d08a22"/>
<circle cx="346.9" cy="2380.9" r="5.20" fill="#d08a22"/>
<circle cx="392.2" cy="2242.5" r="5.20" fill="#2d8ee8"/>
<circle cx="396.7" cy="2249.3" r="5.20" fill="#2d8ee8"/>
<circle cx="359.4" cy="2304.7" r="5.20" fill="#2d8ee8"/>
<circle cx="351.9" cy="2314.2" r="5.20" fill="#2d8ee8"/>
<circle cx="349.0" cy="2318.0" r="5.20" fill="#2d8ee8"/>
<circle cx="325.5" cy="2364.6" r="5.20" fill="#2d8ee8"/>
<circle cx="307.9" cy="2370.8" r="5.20" fill="#2d8ee8"/>
<circle cx="301.6" cy="2380.9" r="5.20" fill="#2d8ee8"/>
<text x="351.4" y="2237.0" font-size="19.5">Pdcd1</text>
<text x="382.1" y="2267.0" font-size="19.5">Nr4a2</text>
<text x="189.6" y="2301.0" font-size="19.5">Tcf7</text>
<text x="355.7" y="2301.0" font-size="19.5">Tigit</text>
<text x="205.5" y="2333.0" font-size="19.5">S1pr1</text>
<text x="317.2" y="2334.0" font-size="19.5">Lag3</text>
<text x="191.4" y="2353.0" font-size="19.5">Sell</text>
<text x="243.2" y="2353.0" font-size="19.5">Itgb7</text>
<text x="282.0" y="2360.0" font-size="19.5">Slamf6</text>
<text x="351.9" y="2354.0" font-size="19.5">Tox</text>
<text x="164.5" y="2377.0" font-size="19.5">Klf2</text>
<text x="206.5" y="2377.0" font-size="19.5">Il7r</text>
<text x="368.2" y="2377.0" font-size="19.5">Ccr7</text>
<text x="287.0" y="2381.0" font-size="19.5">Havcr2</text>
<text x="223.6" y="2394.0" font-size="19.5">Lef1</text>
<text x="268.9" y="2394.0" font-size="19.5">Id2</text>
<text x="309.6" y="2394.0" font-size="19.5">Cxcr6</text>
<circle cx="357.6" cy="2107.0" r="4.60" fill="#d08a22"/>
<text x="379.0" y="2113.5" font-size="18">Memory−like</text>
<circle cx="357.6" cy="2124.0" r="4.60" fill="#2d8ee8"/>
<text x="379.0" y="2130.5" font-size="18">Exhausted</text>
<text x="78.6" y="2235.7" font-size="25.5" text-anchor="middle" transform="rotate(-90 78.6 2235.7)">– Log<tspan font-size="17.8" dy="5.1">10</tspan><tspan dy="-5.1"> </tspan><tspan font-style="italic">Pval</tspan></text>
<text x="30.2" y="2218.6" font-size="28.5" text-anchor="middle" transform="rotate(-90 30.2 2218.6)">Tumor CD8 T</text>
<text x="310.5" y="2449.6" font-size="25.5" text-anchor="middle">Log<tspan font-size="17.3" dy="5.6">2</tspan><tspan dy="-5.6"> FC</tspan></text>
<text x="192.3" y="2464.6" font-size="21.5" text-anchor="middle">aTIGIT IgG2a</text>
<text x="192.9" y="2491.0" font-size="21.5" text-anchor="middle">+ aPD-L1</text>
<text x="356.5" y="2464.6" font-size="21.5">aTIGIT IgG2a</text>
<text x="356.5" y="2491.0" font-size="21.5">+ aPD-L1</text>
<text x="356.5" y="2516.0" font-size="21.5">+ aCSF-1R</text>
<line x1="107.8" y1="2472.9" x2="144.5" y2="2472.9" stroke="#5a5a5a" stroke-width="4.5"/>
<path d="M93.8,2472.9 L109.8,2464.4 L109.8,2481.4 Z" fill="#5a5a5a" stroke="none" stroke-width="1.5"/>
<line x1="475.8" y1="2472.9" x2="513.2" y2="2472.9" stroke="#5a5a5a" stroke-width="4.5"/>
<path d="M527.2,2472.9 L511.2,2464.4 L511.2,2481.4 Z" fill="#5a5a5a" stroke="none" stroke-width="1.5"/>
<text x="5.5" y="2027.0" font-size="58" font-weight="bold">f</text>
<rect x="665.1" y="2062.0" width="354.1" height="336.2" fill="none" stroke="#333" stroke-width="2"/>
<line x1="820.8" y1="2063.0" x2="820.8" y2="2397.2" stroke="#444" stroke-width="1.1" stroke-dasharray="4 3"/>
<line x1="863.2" y1="2063.0" x2="863.2" y2="2397.2" stroke="#444" stroke-width="1.1" stroke-dasharray="4 3"/>
<line x1="666.1" y1="2352.7" x2="1018.2" y2="2352.7" stroke="#444" stroke-width="1.1" stroke-dasharray="4 3"/>
<line x1="659.1" y1="2383.0" x2="665.1" y2="2383.0" stroke="#333" stroke-width="1.5"/>
<text x="653.1" y="2390.1" font-size="20" text-anchor="end">0</text>
<line x1="659.1" y1="2306.8" x2="665.1" y2="2306.8" stroke="#333" stroke-width="1.5"/>
<text x="653.1" y="2313.9" font-size="20" text-anchor="end">5</text>
<line x1="659.1" y1="2230.1" x2="665.1" y2="2230.1" stroke="#333" stroke-width="1.5"/>
<text x="653.1" y="2237.2" font-size="20" text-anchor="end">10</text>
<line x1="659.1" y1="2153.5" x2="665.1" y2="2153.5" stroke="#333" stroke-width="1.5"/>
<text x="653.1" y="2160.6" font-size="20" text-anchor="end">15</text>
<line x1="659.1" y1="2077.2" x2="665.1" y2="2077.2" stroke="#333" stroke-width="1.5"/>
<text x="653.1" y="2084.3" font-size="20" text-anchor="end">20</text>
<line x1="680.7" y1="2398.2" x2="680.7" y2="2404.2" stroke="#333" stroke-width="1.5"/>
<text x="680.7" y="2424.0" font-size="20" text-anchor="middle">−2</text>
<line x1="761.3" y1="2398.2" x2="761.3" y2="2404.2" stroke="#333" stroke-width="1.5"/>
<text x="761.3" y="2424.0" font-size="20" text-anchor="middle">−1</text>
<line x1="842.2" y1="2398.2" x2="842.2" y2="2404.2" stroke="#333" stroke-width="1.5"/>
<text x="842.2" y="2424.0" font-size="20" text-anchor="middle">0</text>
<line x1="922.7" y1="2398.2" x2="922.7" y2="2404.2" stroke="#333" stroke-width="1.5"/>
<text x="922.7" y="2424.0" font-size="20" text-anchor="middle">1</text>
<line x1="1003.7" y1="2398.2" x2="1003.7" y2="2404.2" stroke="#333" stroke-width="1.5"/>
<text x="1003.7" y="2424.0" font-size="20" text-anchor="middle">2</text>
<path d="M812.0,2355.6 L821.7,2351.7 L831.5,2353.7 L839.2,2363.4 L841.2,2375.1 L831.5,2382.9 L817.8,2381.9 L812.0,2371.2Z" fill="#a2a2a2" stroke="#a2a2a2" stroke-width="2" stroke-linejoin="round"/>
<path d="M839.9 2375.7h0M815.7 2377.5h0M836.8 2362.6h0M826.9 2370.5h0M821.9 2371.1h0M833.4 2378.6h0M821.9 2365.1h0M829.4 2382.1h0M820.1 2369.9h0M818.7 2356.8h0M814.4 2369.4h0M822.3 2373.8h0M837.7 2361.7h0M821.6 2359.5h0M836.8 2375.6h0M837.2 2369.1h0M837.8 2363.3h0M824.1 2377.7h0M819.4 2380.5h0M815.1 2374.2h0M820.5 2364.0h0M836.3 2376.9h0M813.0 2371.1h0M828.1 2354.7h0M840.5 2371.8h0M839.8 2373.4h0M831.2 2355.9h0M823.8 2369.8h0M814.1 2355.7h0M831.1 2370.1h0M825.7 2378.7h0M827.0 2373.9h0M817.0 2375.2h0M840.2 2371.7h0M825.2 2374.0h0M826.5 2363.0h0M827.1 2358.5h0M818.7 2376.3h0M824.3 2377.4h0M840.6 2375.0h0M817.4 2378.3h0M825.4 2375.3h0M816.1 2359.7h0M830.9 2371.8h0M825.3 2369.9h0M820.2 2364.6h0M833.7 2357.7h0M822.3 2381.5h0M825.3 2358.5h0M817.0 2369.3h0M820.6 2373.1h0M817.7 2374.4h0M837.2 2368.0h0M830.4 2376.1h0M836.0 2360.5h0M834.8 2364.6h0M829.2 2378.2h0M834.5 2359.6h0M821.7 2354.6h0M819.9 2379.0h0M835.2 2372.3h0M837.6 2377.3h0M820.6 2356.2h0M821.1 2361.6h0M819.3 2357.6h0M835.5 2369.6h0M836.8 2363.9h0M829.5 2363.5h0M824.6 2375.6h0M830.1 2358.4h0M831.5 2377.5h0M826.3 2381.9h0M834.0 2372.1h0M831.5 2359.1h0M814.5 2357.4h0M838.7 2368.8h0M828.3 2382.2h0M826.7 2371.1h0M827.9 2365.7h0M820.1 2353.6h0M818.1 2359.4h0M824.7 2374.7h0M813.2 2371.7h0M819.5 2372.3h0M818.9 2367.8h0M821.7 2363.7h0M828.1 2365.0h0M824.6 2362.4h0M830.2 2374.7h0M820.2 2374.9h0M827.0 2375.0h0M832.5 2359.5h0M827.2 2358.1h0M814.4 2374.5h0M837.3 2373.2h0M829.3 2375.3h0M826.2 2372.4h0M832.3 2359.8h0M824.9 2354.7h0M829.9 2355.5h0M813.4 2365.3h0M832.2 2367.6h0M817.1 2357.1h0M826.4 2380.1h0M818.5 2378.5h0M824.4 2361.9h0M824.4 2362.8h0M818.1 2369.1h0M825.1 2367.0h0M821.8 2371.9h0M818.4 2365.7h0M828.1 2372.4h0M826.1 2372.8h0M817.7 2360.8h0M829.7 2371.1h0M818.1 2376.1h0M815.6 2374.2h0M825.7 2370.4h0M814.9 2365.0h0M813.5 2371.6h0M832.3 2381.2h0M832.5 2380.8h0M820.9 2372.8h0M830.7 2379.4h0M821.9 2359.7h0M833.5 2373.8h0M828.1 2354.4h0M834.4 2364.6h0M819.3 2372.1h0M823.4 2359.7h0M832.9 2364.1h0M822.0 2356.6h0M830.9 2379.4h0M833.1 2377.4h0M823.7 2373.4h0M828.7 2356.7h0M829.9 2354.5h0M817.9 2359.6h0M826.8 2373.6h0M824.0 2355.8h0M817.9 2360.1h0M829.1 2370.6h0M832.0 2364.8h0M836.5 2376.9h0M817.6 2371.1h0M812.0 2364.2h0M828.7 2379.4h0M825.1 2376.6h0M817.4 2355.3h0M837.9 2376.1h0M817.4 2367.9h0M811.7 2354.5h0M813.1 2361.1h0M830.4 2353.6h0M826.2 2379.9h0M818.6 2383.9h0M835.9 2358.3h0M808.2 2355.4h0M812.7 2372.6h0M816.1 2354.1h0M817.3 2385.3h0M836.2 2384.3h0M825.5 2350.5h0M843.4 2373.7h0M821.4 2351.7h0M827.5 2380.1h0M818.1 2356.0h0M815.8 2381.2h0M815.6 2355.9h0M829.9 2356.6h0M836.6 2375.5h0M817.4 2379.5h0M836.3 2377.9h0M809.6 2359.4h0M823.3 2353.6h0M811.9 2373.0h0M807.7 2366.1h0M821.2 2384.5h0M821.8 2354.6h0M808.6 2367.1h0M833.2 2366.6h0M833.8 2354.6h0M811.0 2358.0h0M835.5 2357.1h0M811.5 2356.6h0M818.2 2375.3h0M816.1 2356.6h0M829.5 2350.6h0M830.9 2385.4h0M820.8 2347.3h0M819.8 2380.0h0M816.7 2353.8h0M816.1 2353.3h0M836.8 2364.9h0M841.7 2382.0h0M807.3 2361.6h0M844.7 2369.7h0M832.6 2385.3h0M815.5 2367.9h0M813.6 2357.6h0M825.5 2384.4h0M824.8 2352.7h0M811.7 2373.7h0M831.0 2379.1h0M827.5 2346.9h0M832.4 2355.9h0M817.4 2377.1h0M832.1 2356.2h0M840.1 2376.1h0M812.1 2362.5h0M817.9 2379.4h0" stroke="#9b9b9b" stroke-width="2.5" stroke-linecap="round" fill="none"/>
<path d="M843.1,2355.6 L849.0,2345.9 L856.8,2336.2 L866.5,2336.2 L872.3,2343.9 L874.3,2355.6 L866.5,2371.2 L856.8,2379.0 L847.0,2379.0 L843.1,2367.3Z" fill="#a2a2a2" stroke="#a2a2a2" stroke-width="2" stroke-linejoin="round"/>
<path d="M867.2 2355.0h0M866.8 2369.8h0M847.1 2355.5h0M854.7 2375.9h0M863.2 2371.4h0M856.9 2345.9h0M860.4 2338.9h0M868.9 2363.2h0M866.8 2351.4h0M867.4 2344.5h0M857.7 2338.1h0M847.9 2365.4h0M853.3 2352.1h0M857.8 2344.3h0M847.2 2356.6h0M850.2 2364.9h0M856.7 2371.8h0M864.9 2349.6h0M855.2 2348.5h0M864.4 2342.2h0M867.7 2364.7h0M865.1 2369.6h0M857.4 2360.5h0M864.0 2356.4h0M860.7 2368.9h0M862.9 2359.9h0M860.5 2349.2h0M844.1 2354.9h0M849.8 2353.7h0M869.7 2346.2h0M852.3 2364.5h0M860.5 2369.8h0M863.8 2353.6h0M868.5 2343.3h0M865.6 2356.0h0M848.1 2357.6h0M847.9 2366.0h0M857.0 2352.5h0M852.5 2363.2h0M854.4 2340.0h0M846.8 2377.4h0M851.4 2377.7h0M867.4 2366.9h0M857.1 2347.9h0M846.1 2374.8h0M857.3 2344.9h0M852.6 2361.0h0M848.6 2372.9h0M866.8 2367.0h0M856.6 2363.0h0M861.3 2364.0h0M845.7 2354.0h0M844.4 2357.3h0M853.4 2342.4h0M846.3 2361.4h0M848.4 2375.8h0M861.2 2351.0h0M861.5 2337.2h0M873.0 2356.8h0M867.5 2339.7h0M858.3 2357.2h0M857.9 2347.6h0M853.4 2358.5h0M856.8 2337.1h0M847.5 2359.9h0M846.5 2365.0h0M851.9 2364.4h0M865.8 2369.1h0M846.5 2375.4h0M860.4 2352.1h0M853.0 2377.0h0M852.2 2358.2h0M851.1 2376.3h0M856.7 2378.7h0M859.3 2349.7h0M867.2 2364.5h0M854.8 2340.2h0M866.4 2347.4h0M872.3 2346.5h0M846.9 2371.8h0M861.8 2373.6h0M849.2 2349.5h0M858.7 2342.4h0M847.2 2365.2h0M846.9 2357.9h0M864.8 2361.1h0M849.3 2370.6h0M865.4 2367.8h0M872.0 2353.2h0M852.5 2357.1h0M852.0 2375.8h0M843.9 2360.0h0M862.9 2340.7h0M847.5 2354.1h0M857.7 2369.8h0M850.4 2358.9h0M862.0 2373.3h0M861.9 2353.9h0M854.8 2354.4h0M863.4 2373.3h0M857.3 2346.8h0M850.5 2368.1h0M868.6 2340.7h0M845.2 2361.6h0M847.7 2371.5h0M852.8 2342.4h0M871.8 2343.3h0M852.0 2342.8h0M844.8 2361.5h0M864.3 2353.0h0M853.0 2357.8h0M850.5 2346.9h0M860.9 2354.0h0M859.4 2340.6h0M867.4 2363.7h0M867.4 2342.0h0M859.8 2358.2h0M869.9 2356.0h0M855.1 2363.6h0M858.0 2354.0h0M850.4 2351.9h0M854.5 2350.2h0M854.9 2365.5h0M852.4 2376.8h0M871.7 2356.8h0M853.3 2359.1h0M869.6 2364.1h0M868.2 2359.0h0M862.8 2348.5h0M866.0 2344.9h0M847.2 2362.5h0M846.1 2367.3h0M847.4 2377.2h0M868.1 2361.6h0M872.6 2347.0h0M861.5 2340.3h0M862.3 2343.5h0M860.7 2360.7h0M857.6 2358.6h0M858.5 2361.9h0M863.6 2354.1h0M867.3 2364.9h0M853.5 2374.7h0M866.9 2347.8h0M854.5 2349.7h0M872.3 2354.9h0M855.1 2367.4h0M867.4 2356.7h0M854.8 2378.4h0M846.8 2372.6h0M863.0 2341.4h0M861.5 2365.6h0M843.5 2355.6h0M868.9 2348.8h0M857.4 2355.1h0M852.5 2375.5h0M867.5 2340.9h0M852.0 2372.0h0M863.9 2364.0h0M845.9 2374.6h0M847.6 2369.4h0M849.3 2375.2h0M863.6 2337.7h0M862.0 2370.5h0M850.5 2372.6h0M844.9 2370.5h0M864.9 2372.1h0M847.0 2357.8h0M866.3 2363.2h0M869.7 2342.8h0M866.0 2344.5h0M851.5 2366.6h0M844.8 2362.6h0M865.2 2343.6h0M873.7 2355.8h0M867.6 2363.4h0M861.0 2342.4h0M872.6 2349.1h0M861.1 2366.2h0M847.7 2358.0h0M855.7 2356.5h0M851.8 2349.2h0M856.5 2362.4h0M862.9 2353.8h0M855.9 2345.5h0M861.5 2349.8h0M844.2 2354.1h0M857.9 2345.9h0M861.0 2360.4h0M865.0 2363.9h0M863.5 2349.7h0M867.7 2359.7h0M856.6 2363.0h0M854.4 2358.1h0M871.8 2357.8h0M859.3 2370.4h0M852.9 2372.0h0M858.5 2341.2h0M845.3 2372.2h0M853.5 2343.6h0M852.9 2368.0h0M869.8 2352.1h0M847.9 2361.9h0M846.8 2351.8h0M867.2 2349.5h0M864.6 2366.4h0M855.2 2363.6h0M859.5 2343.2h0M848.3 2372.0h0M847.5 2355.4h0M855.3 2339.6h0M866.7 2354.8h0M857.7 2342.6h0M848.7 2375.0h0M852.2 2357.2h0M861.4 2357.3h0M869.4 2363.5h0M863.4 2364.9h0M866.9 2338.7h0M854.5 2359.3h0M853.7 2372.3h0M858.2 2369.1h0M844.7 2372.1h0M865.2 2365.8h0M871.2 2357.2h0M873.8 2348.1h0M857.3 2340.1h0M843.1 2354.4h0M864.8 2338.4h0M863.9 2336.7h0M846.3 2360.8h0M852.2 2373.2h0M842.4 2357.4h0M855.2 2341.4h0M870.1 2369.0h0M843.7 2361.8h0M851.6 2375.0h0M844.6 2350.2h0M843.7 2353.1h0M871.9 2352.6h0M867.9 2366.7h0M847.1 2372.1h0M843.6 2351.2h0M858.0 2376.9h0M855.6 2379.6h0M864.3 2335.1h0M844.0 2353.7h0M843.6 2351.6h0M858.3 2370.0h0M877.3 2341.5h0M866.8 2368.4h0M841.0 2370.4h0M867.2 2343.5h0M843.5 2354.9h0M853.5 2337.9h0M871.9 2351.7h0M855.9 2339.7h0M857.7 2334.1h0M867.2 2372.2h0M843.1 2358.3h0M866.5 2332.3h0M870.7 2339.0h0M855.4 2379.7h0M864.6 2339.8h0M859.2 2341.4h0M847.3 2381.0h0M876.6 2355.7h0M845.2 2376.0h0M857.6 2341.2h0M861.5 2375.1h0M876.0 2346.6h0M847.7 2339.6h0M844.9 2348.5h0M868.1 2336.6h0M875.2 2344.0h0M858.9 2335.7h0M873.3 2351.8h0M844.5 2371.2h0M869.2 2360.0h0M846.6 2378.8h0M863.9 2336.4h0M863.2 2377.3h0M840.4 2361.2h0M857.3 2380.1h0M852.8 2342.3h0M857.8 2333.4h0M868.0 2374.8h0M863.1 2369.3h0M849.2 2374.0h0M847.8 2379.0h0M840.7 2370.2h0M845.8 2355.2h0M871.8 2336.4h0M868.5 2342.5h0M870.1 2337.4h0M870.1 2333.4h0M850.7 2330.8h0M860.6 2317.2h0M878.5 2347.3h0M875.9 2332.6h0M875.8 2330.1h0M866.6 2319.1h0M868.2 2330.6h0M854.6 2329.5h0M864.4 2348.0h0M872.2 2330.1h0M867.0 2330.4h0M863.4 2319.2h0M863.8 2322.5h0M855.0 2335.1h0M868.1 2312.1h0M864.0 2340.0h0M823.5 2348.2h0M815.3 2333.2h0M806.3 2342.8h0M818.0 2350.3h0M823.8 2338.9h0M805.0 2337.4h0M816.7 2338.4h0M810.4 2342.0h0M811.0 2335.0h0M817.5 2336.8h0M817.0 2342.2h0M805.9 2336.2h0M786.5 2107.5h0M790.4 2117.3h0M789.6 2146.5h0M799.4 2199.8h0M806.8 2244.5h0M809.9 2253.5h0M808.7 2263.2h0M809.1 2273.0h0M807.9 2284.6h0M888.9 2272.1h0M889.7 2276.8h0M815.7 2309.9h0M800.2 2319.6h0M806.0 2319.6h0M873.3 2298.2h0M872.1 2304.0h0M874.9 2307.9h0M862.4 2315.7h0M885.8 2311.8h0M866.3 2327.4h0M811.8 2331.3h0M819.6 2335.2h0M807.9 2343.0h0M897.4 2335.2h0M909.1 2350.7h0M924.7 2354.6h0M893.5 2362.4h0M792.4 2358.5h0M788.5 2366.3h0M815.7 2358.5h0M885.8 2370.2h0M901.3 2374.1h0" stroke="#9b9b9b" stroke-width="2.5" stroke-linecap="round" fill="none"/>
<line x1="811.0" y1="2346.9" x2="821.7" y2="2363.4" stroke="#111" stroke-width="1.1"/>
<line x1="835.3" y1="2355.6" x2="843.1" y2="2371.2" stroke="#111" stroke-width="1.1"/>
<line x1="856.8" y1="2334.2" x2="854.8" y2="2353.7" stroke="#111" stroke-width="1.1"/>
<line x1="887.9" y1="2346.9" x2="864.5" y2="2353.7" stroke="#111" stroke-width="1.1"/>
<line x1="794.5" y1="2387.7" x2="817.8" y2="2381.9" stroke="#111" stroke-width="1.1"/>
<line x1="905.4" y1="2386.8" x2="864.5" y2="2380.9" stroke="#111" stroke-width="1.1"/>
<line x1="860.0" y1="2387.0" x2="870.0" y2="2387.0" stroke="#111" stroke-width="1.1"/>
<circle cx="858.1" cy="2356.6" r="5.00" fill="#1010e0"/>
<circle cx="851.9" cy="2366.3" r="5.00" fill="#1010e0"/>
<circle cx="821.7" cy="2376.1" r="5.00" fill="#1010e0"/>
<circle cx="829.5" cy="2380.9" r="5.00" fill="#1010e0"/>
<circle cx="841.2" cy="2379.0" r="5.00" fill="#1010e0"/>
<circle cx="846.1" cy="2376.1" r="5.00" fill="#1010e0"/>
<circle cx="849.0" cy="2380.9" r="5.00" fill="#1010e0"/>
<circle cx="859.7" cy="2377.0" r="5.00" fill="#1010e0"/>
<circle cx="843.1" cy="2383.8" r="5.00" fill="#1010e0"/>
<circle cx="836.0" cy="2381.0" r="5.00" fill="#1010e0"/>
<text x="830.5" y="2330.5" font-size="19.5">Foxp3</text>
<text x="752.6" y="2352.0" font-size="19.5">Pdcd1</text>
<text x="814.9" y="2352.0" font-size="19.5">Tigit</text>
<text x="889.8" y="2352.0" font-size="19.5">Ctla4</text>
<text x="781.8" y="2372.7" font-size="19.5">Ccr8</text>
<text x="863.6" y="2372.7" font-size="19.5">Ccl5</text>
<text x="748.8" y="2393.5" font-size="19.5">Lag3</text>
<text x="798.4" y="2393.5" font-size="19.5">Tnfrsf1b</text>
<text x="868.0" y="2393.5" font-size="19.5">Il10</text>
<text x="907.3" y="2393.5" font-size="19.5">Ccl4</text>
<circle cx="892.4" cy="2097.0" r="4.80" fill="#1010e0"/>
<text x="913.0" y="2104.0" font-size="18">Suppressive</text>
<text x="613.6" y="2226.0" font-size="25.5" text-anchor="middle" transform="rotate(-90 613.6 2226.0)">– Log<tspan font-size="17.8" dy="5.1">10</tspan><tspan dy="-5.1"> </tspan><tspan font-style="italic">Pval</tspan></text>
<text x="574.3" y="2221.4" font-size="28.5" text-anchor="middle" transform="rotate(-90 574.3 2221.4)">Tumor Treg</text>
<text x="846.0" y="2450.0" font-size="25.5" text-anchor="middle">Log<tspan font-size="17.3" dy="5.6">2</tspan><tspan dy="-5.6"> FC</tspan></text>
<text x="725.9" y="2463.6" font-size="21.5" text-anchor="middle">aTIGIT IgG2a</text>
<text x="725.3" y="2490.8" font-size="21.5" text-anchor="middle">+ aPD-L1</text>
<text x="890.4" y="2463.6" font-size="21.5">aTIGIT IgG2a</text>
<text x="890.4" y="2490.8" font-size="21.5">+ aPD-L1</text>
<text x="890.4" y="2516.0" font-size="21.5">+ aCSF-1R</text>
<line x1="641.0" y1="2472.5" x2="677.6" y2="2472.5" stroke="#5a5a5a" stroke-width="4.5"/>
<path d="M627.0,2472.5 L643.0,2464.0 L643.0,2481.0 Z" fill="#5a5a5a" stroke="none" stroke-width="1.5"/>
<line x1="1009.5" y1="2472.5" x2="1046.9" y2="2472.5" stroke="#5a5a5a" stroke-width="4.5"/>
<path d="M1060.9,2472.5 L1044.9,2464.0 L1044.9,2481.0 Z" fill="#5a5a5a" stroke="none" stroke-width="1.5"/>
<text x="521.5" y="2027.0" font-size="58" font-weight="bold">g</text>
</svg></body></html>
